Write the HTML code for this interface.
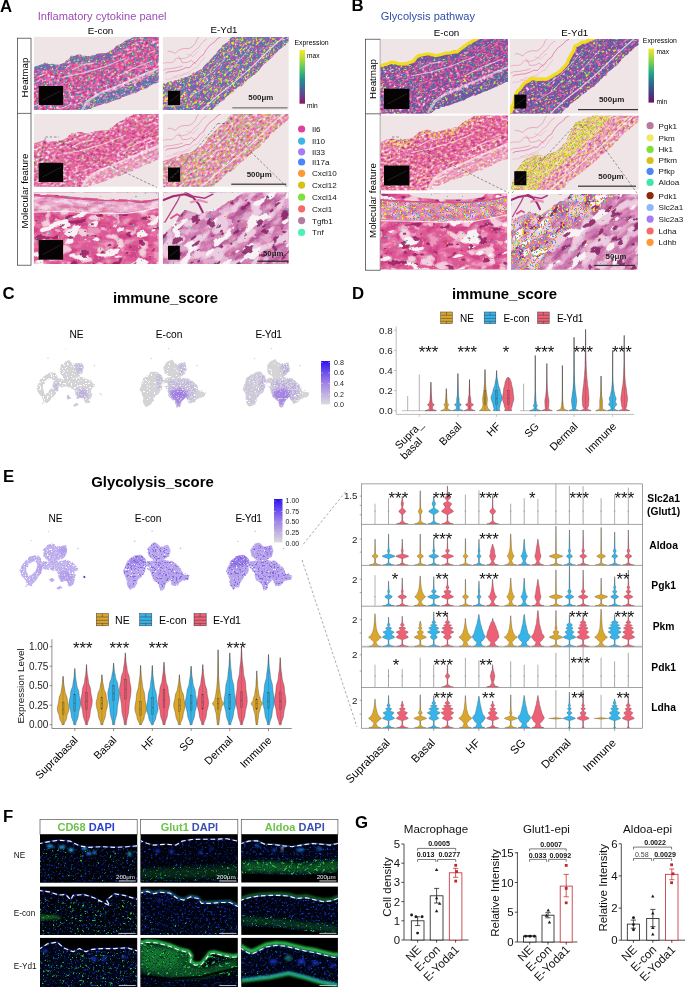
<!DOCTYPE html>
<html lang="en"><head><meta charset="utf-8"><title>Figure</title>
<style>html,body{margin:0;padding:0;background:#fff;overflow:hidden}svg{display:block}text{font-family:"Liberation Sans","DejaVu Sans",sans-serif}</style>
</head><body>
<svg width="685" height="987" viewBox="0 0 685 987">
<defs><filter id="pk1" x="0" y="0" width="100%" height="100%" color-interpolation-filters="sRGB"><feTurbulence type="fractalNoise" baseFrequency="0.3 0.5" numOctaves="3" seed="17"/><feColorMatrix type="matrix" values="1.389 0 0 0 -0.194 1.389 0 0 0 -0.194 1.389 0 0 0 -0.194 0 0 0 0 1"/><feComponentTransfer><feFuncR type="discrete" tableValues="0.66 0.66 0.66 0.66 0.66 0.66 0.66 0.66 0.66 0.8 0.8 0.8 0.8 0.8 0.8 0.87 0.87 0.87 0.87 0.87 0.87 0.9 0.9 0.9 0.9 0.9 0.9 0.93 0.93 0.93 0.93 0.95 0.95 0.95 0.96 0.96 0.96 0.98 0.98 0.98 0.98 0.98 0.98 0.98 0.98 0.98 0.98 0.98"/><feFuncG type="discrete" tableValues="0.16 0.16 0.16 0.16 0.16 0.16 0.16 0.16 0.16 0.24 0.24 0.24 0.24 0.24 0.24 0.33 0.33 0.33 0.33 0.33 0.33 0.4 0.4 0.4 0.4 0.4 0.4 0.5 0.5 0.5 0.5 0.64 0.64 0.64 0.8 0.8 0.8 0.93 0.93 0.93 0.93 0.93 0.93 0.93 0.93 0.93 0.93 0.93"/><feFuncB type="discrete" tableValues="0.44 0.44 0.44 0.44 0.44 0.44 0.44 0.44 0.44 0.52 0.52 0.52 0.52 0.52 0.52 0.6 0.6 0.6 0.6 0.6 0.6 0.64 0.64 0.64 0.64 0.64 0.64 0.71 0.71 0.71 0.71 0.78 0.78 0.78 0.88 0.88 0.88 0.96 0.96 0.96 0.96 0.96 0.96 0.96 0.96 0.96 0.96 0.96"/></feComponentTransfer><feGaussianBlur stdDeviation="0.3"/><feComposite in2="SourceGraphic" operator="in"/></filter><filter id="pk2" x="0" y="0" width="100%" height="100%" color-interpolation-filters="sRGB"><feTurbulence type="fractalNoise" baseFrequency="0.3 0.5" numOctaves="3" seed="19"/><feColorMatrix type="matrix" values="1.389 0 0 0 -0.194 1.389 0 0 0 -0.194 1.389 0 0 0 -0.194 0 0 0 0 1"/><feComponentTransfer><feFuncR type="discrete" tableValues="0.66 0.66 0.66 0.66 0.66 0.66 0.66 0.66 0.66 0.77 0.77 0.77 0.77 0.77 0.85 0.85 0.85 0.85 0.85 0.85 0.89 0.89 0.89 0.89 0.89 0.89 0.91 0.91 0.91 0.91 0.94 0.94 0.94 0.96 0.96 0.96 0.98 0.98 0.98 0.98 0.98 0.98 0.98 0.98 0.98 0.98 0.98 0.98"/><feFuncG type="discrete" tableValues="0.19 0.19 0.19 0.19 0.19 0.19 0.19 0.19 0.19 0.27 0.27 0.27 0.27 0.27 0.36 0.36 0.36 0.36 0.36 0.36 0.45 0.45 0.45 0.45 0.45 0.45 0.55 0.55 0.55 0.55 0.67 0.67 0.67 0.82 0.82 0.82 0.93 0.93 0.93 0.93 0.93 0.93 0.93 0.93 0.93 0.93 0.93 0.93"/><feFuncB type="discrete" tableValues="0.47 0.47 0.47 0.47 0.47 0.47 0.47 0.47 0.47 0.53 0.53 0.53 0.53 0.53 0.61 0.61 0.61 0.61 0.61 0.61 0.67 0.67 0.67 0.67 0.67 0.67 0.72 0.72 0.72 0.72 0.82 0.82 0.82 0.89 0.89 0.89 0.96 0.96 0.96 0.96 0.96 0.96 0.96 0.96 0.96 0.96 0.96 0.96"/></feComponentTransfer><feGaussianBlur stdDeviation="0.3"/><feComposite in2="SourceGraphic" operator="in"/></filter><filter id="pk3" x="0" y="0" width="100%" height="100%" color-interpolation-filters="sRGB"><feTurbulence type="fractalNoise" baseFrequency="0.3 0.5" numOctaves="3" seed="37"/><feColorMatrix type="matrix" values="1.389 0 0 0 -0.194 1.389 0 0 0 -0.194 1.389 0 0 0 -0.194 0 0 0 0 1"/><feComponentTransfer><feFuncR type="discrete" tableValues="0.69 0.69 0.69 0.69 0.69 0.69 0.69 0.69 0.69 0.8 0.8 0.8 0.8 0.8 0.87 0.87 0.87 0.87 0.87 0.87 0.9 0.9 0.9 0.9 0.9 0.9 0.93 0.93 0.93 0.93 0.95 0.95 0.95 0.96 0.96 0.96 0.98 0.98 0.98 0.98 0.98 0.98 0.98 0.98 0.98 0.98 0.98 0.98"/><feFuncG type="discrete" tableValues="0.19 0.19 0.19 0.19 0.19 0.19 0.19 0.19 0.19 0.27 0.27 0.27 0.27 0.27 0.36 0.36 0.36 0.36 0.36 0.36 0.44 0.44 0.44 0.44 0.44 0.44 0.53 0.53 0.53 0.53 0.66 0.66 0.66 0.8 0.8 0.8 0.93 0.93 0.93 0.93 0.93 0.93 0.93 0.93 0.93 0.93 0.93 0.93"/><feFuncB type="discrete" tableValues="0.47 0.47 0.47 0.47 0.47 0.47 0.47 0.47 0.47 0.53 0.53 0.53 0.53 0.53 0.61 0.61 0.61 0.61 0.61 0.61 0.66 0.66 0.66 0.66 0.66 0.66 0.72 0.72 0.72 0.72 0.8 0.8 0.8 0.88 0.88 0.88 0.96 0.96 0.96 0.96 0.96 0.96 0.96 0.96 0.96 0.96 0.96 0.96"/></feComponentTransfer><feGaussianBlur stdDeviation="0.3"/><feComposite in2="SourceGraphic" operator="in"/></filter><filter id="pk4" x="0" y="0" width="100%" height="100%" color-interpolation-filters="sRGB"><feTurbulence type="fractalNoise" baseFrequency="0.3 0.5" numOctaves="3" seed="39"/><feColorMatrix type="matrix" values="1.389 0 0 0 -0.194 1.389 0 0 0 -0.194 1.389 0 0 0 -0.194 0 0 0 0 1"/><feComponentTransfer><feFuncR type="discrete" tableValues="0.69 0.69 0.69 0.69 0.69 0.69 0.69 0.69 0.8 0.8 0.8 0.8 0.8 0.86 0.86 0.86 0.86 0.86 0.86 0.9 0.9 0.9 0.9 0.9 0.9 0.93 0.93 0.93 0.93 0.95 0.95 0.95 0.95 0.96 0.96 0.96 0.98 0.98 0.98 0.98 0.98 0.98 0.98 0.98 0.98 0.98 0.98 0.98"/><feFuncG type="discrete" tableValues="0.25 0.25 0.25 0.25 0.25 0.25 0.25 0.25 0.36 0.36 0.36 0.36 0.36 0.45 0.45 0.45 0.45 0.45 0.45 0.55 0.55 0.55 0.55 0.55 0.55 0.64 0.64 0.64 0.64 0.74 0.74 0.74 0.74 0.83 0.83 0.83 0.93 0.93 0.93 0.93 0.93 0.93 0.93 0.93 0.93 0.93 0.93 0.93"/><feFuncB type="discrete" tableValues="0.5 0.5 0.5 0.5 0.5 0.5 0.5 0.5 0.6 0.6 0.6 0.6 0.6 0.66 0.66 0.66 0.66 0.66 0.66 0.72 0.72 0.72 0.72 0.72 0.72 0.78 0.78 0.78 0.78 0.84 0.84 0.84 0.84 0.89 0.89 0.89 0.96 0.96 0.96 0.96 0.96 0.96 0.96 0.96 0.96 0.96 0.96 0.96"/></feComponentTransfer><feGaussianBlur stdDeviation="0.3"/><feComposite in2="SourceGraphic" operator="in"/></filter><filter id="hm1" x="0" y="0" width="100%" height="100%" color-interpolation-filters="sRGB"><feTurbulence type="fractalNoise" baseFrequency="0.065 0.11" numOctaves="3" seed="23"/><feColorMatrix type="matrix" values="1.389 0 0 0 -0.194 1.389 0 0 0 -0.194 1.389 0 0 0 -0.194 0 0 0 0 1"/><feComponentTransfer><feFuncR type="discrete" tableValues="0.54 0.54 0.54 0.54 0.54 0.54 0.54 0.54 0.72 0.72 0.72 0.72 0.72 0.83 0.83 0.83 0.83 0.83 0.88 0.88 0.88 0.88 0.88 0.88 0.91 0.91 0.91 0.91 0.91 0.93 0.93 0.93 0.95 0.95 0.95 0.95 0.97 0.97 0.97 0.97 0.97 0.97 0.97 0.97 0.97 0.97 0.97 0.97"/><feFuncG type="discrete" tableValues="0.09 0.09 0.09 0.09 0.09 0.09 0.09 0.09 0.19 0.19 0.19 0.19 0.19 0.27 0.27 0.27 0.27 0.27 0.35 0.35 0.35 0.35 0.35 0.35 0.47 0.47 0.47 0.47 0.47 0.63 0.63 0.63 0.75 0.75 0.75 0.75 0.91 0.91 0.91 0.91 0.91 0.91 0.91 0.91 0.91 0.91 0.91 0.91"/><feFuncB type="discrete" tableValues="0.35 0.35 0.35 0.35 0.35 0.35 0.35 0.35 0.47 0.47 0.47 0.47 0.47 0.54 0.54 0.54 0.54 0.54 0.6 0.6 0.6 0.6 0.6 0.6 0.67 0.67 0.67 0.67 0.67 0.77 0.77 0.77 0.85 0.85 0.85 0.85 0.94 0.94 0.94 0.94 0.94 0.94 0.94 0.94 0.94 0.94 0.94 0.94"/></feComponentTransfer><feGaussianBlur stdDeviation="0.15"/><feComposite in2="SourceGraphic" operator="in"/></filter><filter id="nuc" x="0" y="0" width="100%" height="100%" color-interpolation-filters="sRGB"><feTurbulence type="fractalNoise" baseFrequency="0.3 0.4" numOctaves="2" seed="25"/><feColorMatrix type="matrix" values="1.389 0 0 0 -0.194 1.389 0 0 0 -0.194 1.389 0 0 0 -0.194 1.389 0 0 0 -0.194"/><feComponentTransfer><feFuncR type="discrete" tableValues="0.54 0.54 0.54 0.54 0.54 0.54 0.54 0.54 0.54 0.69 0.69 0.69 0.69 0 0 0 0 0 0 0 0 0 0 0 0 0 0 0 0 0 0 0 0.94 0.94 0.94 0.94 0.97 0.97 0.97 0.97 0.97 0.97 0.97 0.97 0.97 0.97 0.97 0.97"/><feFuncG type="discrete" tableValues="0.09 0.09 0.09 0.09 0.09 0.09 0.09 0.09 0.09 0.17 0.17 0.17 0.17 0 0 0 0 0 0 0 0 0 0 0 0 0 0 0 0 0 0 0 0.72 0.72 0.72 0.72 0.91 0.91 0.91 0.91 0.91 0.91 0.91 0.91 0.91 0.91 0.91 0.91"/><feFuncB type="discrete" tableValues="0.35 0.35 0.35 0.35 0.35 0.35 0.35 0.35 0.35 0.45 0.45 0.45 0.45 0 0 0 0 0 0 0 0 0 0 0 0 0 0 0 0 0 0 0 0.82 0.82 0.82 0.82 0.94 0.94 0.94 0.94 0.94 0.94 0.94 0.94 0.94 0.94 0.94 0.94"/><feFuncA type="discrete" tableValues="0.85 0.85 0.85 0.85 0.85 0.85 0.85 0.85 0.85 0.55 0.55 0.55 0.55 0 0 0 0 0 0 0 0 0 0 0 0 0 0 0 0 0 0 0 0.6 0.6 0.6 0.6 0.8 0.8 0.8 0.8 0.8 0.8 0.8 0.8 0.8 0.8 0.8 0.8"/></feComponentTransfer><feGaussianBlur stdDeviation="0.2"/><feComposite in2="SourceGraphic" operator="in"/></filter><filter id="hm2" x="0" y="0" width="100%" height="100%" color-interpolation-filters="sRGB"><feTurbulence type="fractalNoise" baseFrequency="0.06 0.15" numOctaves="3" seed="29"/><feColorMatrix type="matrix" values="1.389 0 0 0 -0.194 1.389 0 0 0 -0.194 1.389 0 0 0 -0.194 0 0 0 0 1"/><feComponentTransfer><feFuncR type="discrete" tableValues="0.53 0.53 0.53 0.53 0.53 0.53 0.53 0.53 0.65 0.65 0.65 0.65 0.65 0.75 0.75 0.75 0.75 0.75 0.75 0.82 0.82 0.82 0.82 0.82 0.87 0.87 0.87 0.87 0.91 0.91 0.91 0.91 0.91 0.94 0.94 0.94 0.94 0.97 0.97 0.97 0.97 0.97 0.97 0.97 0.97 0.97 0.97 0.97"/><feFuncG type="discrete" tableValues="0.14 0.14 0.14 0.14 0.14 0.14 0.14 0.14 0.24 0.24 0.24 0.24 0.24 0.38 0.38 0.38 0.38 0.38 0.38 0.5 0.5 0.5 0.5 0.5 0.61 0.61 0.61 0.61 0.71 0.71 0.71 0.71 0.71 0.82 0.82 0.82 0.82 0.93 0.93 0.93 0.93 0.93 0.93 0.93 0.93 0.93 0.93 0.93"/><feFuncB type="discrete" tableValues="0.38 0.38 0.38 0.38 0.38 0.38 0.38 0.38 0.49 0.49 0.49 0.49 0.49 0.61 0.61 0.61 0.61 0.61 0.61 0.71 0.71 0.71 0.71 0.71 0.78 0.78 0.78 0.78 0.83 0.83 0.83 0.83 0.83 0.89 0.89 0.89 0.89 0.95 0.95 0.95 0.95 0.95 0.95 0.95 0.95 0.95 0.95 0.95"/></feComponentTransfer><feGaussianBlur stdDeviation="0.15"/><feComposite in2="SourceGraphic" operator="in"/></filter><filter id="zb1" x="0" y="0" width="100%" height="100%" color-interpolation-filters="sRGB"><feTurbulence type="fractalNoise" baseFrequency="0.08 0.14" numOctaves="3" seed="81"/><feColorMatrix type="matrix" values="1.389 0 0 0 -0.194 1.389 0 0 0 -0.194 1.389 0 0 0 -0.194 0 0 0 0 1"/><feComponentTransfer><feFuncR type="discrete" tableValues="0.82 0.82 0.82 0.82 0.82 0.82 0.82 0.82 0.82 0.82 0.82 0.82 0.82 0.82 0.82 0.82 0.87 0.87 0.87 0.87 0.87 0.87 0.87 0.87 0.87 0.87 0.87 0.9 0.9 0.9 0.9 0.9 0.9 0.9 0.93 0.93 0.93 0.93 0.93 0.93 0.93 0.93 0.93 0.93 0.93 0.93 0.93 0.93"/><feFuncG type="discrete" tableValues="0.27 0.27 0.27 0.27 0.27 0.27 0.27 0.27 0.27 0.27 0.27 0.27 0.27 0.27 0.27 0.27 0.35 0.35 0.35 0.35 0.35 0.35 0.35 0.35 0.35 0.35 0.35 0.44 0.44 0.44 0.44 0.44 0.44 0.44 0.59 0.59 0.59 0.59 0.59 0.59 0.59 0.59 0.59 0.59 0.59 0.59 0.59 0.59"/><feFuncB type="discrete" tableValues="0.53 0.53 0.53 0.53 0.53 0.53 0.53 0.53 0.53 0.53 0.53 0.53 0.53 0.53 0.53 0.53 0.59 0.59 0.59 0.59 0.59 0.59 0.59 0.59 0.59 0.59 0.59 0.64 0.64 0.64 0.64 0.64 0.64 0.64 0.74 0.74 0.74 0.74 0.74 0.74 0.74 0.74 0.74 0.74 0.74 0.74 0.74 0.74"/></feComponentTransfer><feGaussianBlur stdDeviation="0.2"/><feComposite in2="SourceGraphic" operator="in"/></filter><filter id="zb2" x="0" y="0" width="100%" height="100%" color-interpolation-filters="sRGB"><feTurbulence type="fractalNoise" baseFrequency="0.07 0.14" numOctaves="3" seed="83"/><feColorMatrix type="matrix" values="1.389 0 0 0 -0.194 1.389 0 0 0 -0.194 1.389 0 0 0 -0.194 0 0 0 0 1"/><feComponentTransfer><feFuncR type="discrete" tableValues="0.72 0.72 0.72 0.72 0.72 0.72 0.72 0.72 0.72 0.72 0.72 0.72 0.72 0.72 0.72 0.72 0.8 0.8 0.8 0.8 0.8 0.8 0.8 0.8 0.8 0.8 0.85 0.85 0.85 0.85 0.85 0.85 0.85 0.89 0.89 0.89 0.89 0.89 0.89 0.89 0.89 0.89 0.89 0.89 0.89 0.89 0.89 0.89"/><feFuncG type="discrete" tableValues="0.36 0.36 0.36 0.36 0.36 0.36 0.36 0.36 0.36 0.36 0.36 0.36 0.36 0.36 0.36 0.36 0.47 0.47 0.47 0.47 0.47 0.47 0.47 0.47 0.47 0.47 0.55 0.55 0.55 0.55 0.55 0.55 0.55 0.66 0.66 0.66 0.66 0.66 0.66 0.66 0.66 0.66 0.66 0.66 0.66 0.66 0.66 0.66"/><feFuncB type="discrete" tableValues="0.6 0.6 0.6 0.6 0.6 0.6 0.6 0.6 0.6 0.6 0.6 0.6 0.6 0.6 0.6 0.6 0.68 0.68 0.68 0.68 0.68 0.68 0.68 0.68 0.68 0.68 0.74 0.74 0.74 0.74 0.74 0.74 0.74 0.8 0.8 0.8 0.8 0.8 0.8 0.8 0.8 0.8 0.8 0.8 0.8 0.8 0.8 0.8"/></feComponentTransfer><feGaussianBlur stdDeviation="0.2"/><feComposite in2="SourceGraphic" operator="in"/></filter><filter id="zpale" x="0" y="0" width="100%" height="100%" color-interpolation-filters="sRGB"><feTurbulence type="fractalNoise" baseFrequency="0.07 0.1" numOctaves="2" seed="85"/><feColorMatrix type="matrix" values="1.389 0 0 0 -0.194 1.389 0 0 0 -0.194 1.389 0 0 0 -0.194 1.389 0 0 0 -0.194"/><feComponentTransfer><feFuncR type="discrete" tableValues="0 0 0 0 0 0 0 0 0 0 0 0 0 0 0 0 0 0 0 0 0 0 0 0 0 0 0 0 0 0 0 0.93 0.93 0.93 0.93 0.96 0.96 0.96 0.96 0.96 0.96 0.96 0.96 0.96 0.96 0.96 0.96 0.96"/><feFuncG type="discrete" tableValues="0 0 0 0 0 0 0 0 0 0 0 0 0 0 0 0 0 0 0 0 0 0 0 0 0 0 0 0 0 0 0 0.71 0.71 0.71 0.71 0.81 0.81 0.81 0.81 0.81 0.81 0.81 0.81 0.81 0.81 0.81 0.81 0.81"/><feFuncB type="discrete" tableValues="0 0 0 0 0 0 0 0 0 0 0 0 0 0 0 0 0 0 0 0 0 0 0 0 0 0 0 0 0 0 0 0.81 0.81 0.81 0.81 0.87 0.87 0.87 0.87 0.87 0.87 0.87 0.87 0.87 0.87 0.87 0.87 0.87"/><feFuncA type="discrete" tableValues="0 0 0 0 0 0 0 0 0 0 0 0 0 0 0 0 0 0 0 0 0 0 0 0 0 0 0 0 0 0 0 0.9 0.9 0.9 0.9 1 1 1 1 1 1 1 1 1 1 1 1 1"/></feComponentTransfer><feGaussianBlur stdDeviation="0.25"/><feComposite in2="SourceGraphic" operator="in"/></filter><filter id="zpale2" x="0" y="0" width="100%" height="100%" color-interpolation-filters="sRGB"><feTurbulence type="fractalNoise" baseFrequency="0.06 0.1" numOctaves="2" seed="86"/><feColorMatrix type="matrix" values="1.389 0 0 0 -0.194 1.389 0 0 0 -0.194 1.389 0 0 0 -0.194 1.389 0 0 0 -0.194"/><feComponentTransfer><feFuncR type="discrete" tableValues="0 0 0 0 0 0 0 0 0 0 0 0 0 0 0 0 0 0 0 0 0 0 0 0 0 0 0 0.91 0.91 0.91 0.91 0.91 0.93 0.93 0.93 0.93 0.93 0.93 0.93 0.93 0.93 0.93 0.93 0.93 0.93 0.93 0.93 0.93"/><feFuncG type="discrete" tableValues="0 0 0 0 0 0 0 0 0 0 0 0 0 0 0 0 0 0 0 0 0 0 0 0 0 0 0 0.74 0.74 0.74 0.74 0.74 0.8 0.8 0.8 0.8 0.8 0.8 0.8 0.8 0.8 0.8 0.8 0.8 0.8 0.8 0.8 0.8"/><feFuncB type="discrete" tableValues="0 0 0 0 0 0 0 0 0 0 0 0 0 0 0 0 0 0 0 0 0 0 0 0 0 0 0 0.85 0.85 0.85 0.85 0.85 0.89 0.89 0.89 0.89 0.89 0.89 0.89 0.89 0.89 0.89 0.89 0.89 0.89 0.89 0.89 0.89"/><feFuncA type="discrete" tableValues="0 0 0 0 0 0 0 0 0 0 0 0 0 0 0 0 0 0 0 0 0 0 0 0 0 0 0 0.9 0.9 0.9 0.9 0.9 1 1 1 1 1 1 1 1 1 1 1 1 1 1 1 1"/></feComponentTransfer><feGaussianBlur stdDeviation="0.25"/><feComposite in2="SourceGraphic" operator="in"/></filter><filter id="zgap" x="0" y="0" width="100%" height="100%" color-interpolation-filters="sRGB"><feTurbulence type="fractalNoise" baseFrequency="0.05 0.1" numOctaves="2" seed="87"/><feColorMatrix type="matrix" values="1.389 0 0 0 -0.194 1.389 0 0 0 -0.194 1.389 0 0 0 -0.194 1.389 0 0 0 -0.194"/><feComponentTransfer><feFuncR type="discrete" tableValues="0 0 0 0 0 0 0 0 0 0 0 0 0 0 0 0 0 0 0 0 0 0 0 0 0 0 0 0 0 0 0 0 0 0.98 0.98 0.98 0.98 0.98 0.98 0.98 0.98 0.98 0.98 0.98 0.98 0.98 0.98 0.98"/><feFuncG type="discrete" tableValues="0 0 0 0 0 0 0 0 0 0 0 0 0 0 0 0 0 0 0 0 0 0 0 0 0 0 0 0 0 0 0 0 0 0.95 0.95 0.95 0.95 0.95 0.95 0.95 0.95 0.95 0.95 0.95 0.95 0.95 0.95 0.95"/><feFuncB type="discrete" tableValues="0 0 0 0 0 0 0 0 0 0 0 0 0 0 0 0 0 0 0 0 0 0 0 0 0 0 0 0 0 0 0 0 0 0.96 0.96 0.96 0.96 0.96 0.96 0.96 0.96 0.96 0.96 0.96 0.96 0.96 0.96 0.96"/><feFuncA type="discrete" tableValues="0 0 0 0 0 0 0 0 0 0 0 0 0 0 0 0 0 0 0 0 0 0 0 0 0 0 0 0 0 0 0 0 0 1 1 1 1 1 1 1 1 1 1 1 1 1 1 1"/></feComponentTransfer><feGaussianBlur stdDeviation="0.2"/><feComposite in2="SourceGraphic" operator="in"/></filter><filter id="zdark" x="0" y="0" width="100%" height="100%" color-interpolation-filters="sRGB"><feTurbulence type="fractalNoise" baseFrequency="0.09 0.16" numOctaves="2" seed="89"/><feColorMatrix type="matrix" values="1.389 0 0 0 -0.194 1.389 0 0 0 -0.194 1.389 0 0 0 -0.194 1.389 0 0 0 -0.194"/><feComponentTransfer><feFuncR type="discrete" tableValues="0.6 0.6 0.6 0.6 0.6 0.6 0.6 0.6 0.6 0.6 0.6 0.6 0.6 0 0 0 0 0 0 0 0 0 0 0 0 0 0 0 0 0 0 0 0 0 0 0 0 0 0 0 0 0 0 0 0 0 0 0"/><feFuncG type="discrete" tableValues="0.13 0.13 0.13 0.13 0.13 0.13 0.13 0.13 0.13 0.13 0.13 0.13 0.13 0 0 0 0 0 0 0 0 0 0 0 0 0 0 0 0 0 0 0 0 0 0 0 0 0 0 0 0 0 0 0 0 0 0 0"/><feFuncB type="discrete" tableValues="0.39 0.39 0.39 0.39 0.39 0.39 0.39 0.39 0.39 0.39 0.39 0.39 0.39 0 0 0 0 0 0 0 0 0 0 0 0 0 0 0 0 0 0 0 0 0 0 0 0 0 0 0 0 0 0 0 0 0 0 0"/><feFuncA type="discrete" tableValues="0.9 0.9 0.9 0.9 0.9 0.9 0.9 0.9 0.9 0.9 0.9 0.9 0.9 0 0 0 0 0 0 0 0 0 0 0 0 0 0 0 0 0 0 0 0 0 0 0 0 0 0 0 0 0 0 0 0 0 0 0"/></feComponentTransfer><feGaussianBlur stdDeviation="0.2"/><feComposite in2="SourceGraphic" operator="in"/></filter><filter id="zdark2" x="0" y="0" width="100%" height="100%" color-interpolation-filters="sRGB"><feTurbulence type="fractalNoise" baseFrequency="0.08 0.16" numOctaves="2" seed="90"/><feColorMatrix type="matrix" values="1.389 0 0 0 -0.194 1.389 0 0 0 -0.194 1.389 0 0 0 -0.194 1.389 0 0 0 -0.194"/><feComponentTransfer><feFuncR type="discrete" tableValues="0.54 0.54 0.54 0.54 0.54 0.54 0.54 0.54 0.54 0.54 0.54 0.54 0.54 0 0 0 0 0 0 0 0 0 0 0 0 0 0 0 0 0 0 0 0 0 0 0 0 0 0 0 0 0 0 0 0 0 0 0"/><feFuncG type="discrete" tableValues="0.16 0.16 0.16 0.16 0.16 0.16 0.16 0.16 0.16 0.16 0.16 0.16 0.16 0 0 0 0 0 0 0 0 0 0 0 0 0 0 0 0 0 0 0 0 0 0 0 0 0 0 0 0 0 0 0 0 0 0 0"/><feFuncB type="discrete" tableValues="0.41 0.41 0.41 0.41 0.41 0.41 0.41 0.41 0.41 0.41 0.41 0.41 0.41 0 0 0 0 0 0 0 0 0 0 0 0 0 0 0 0 0 0 0 0 0 0 0 0 0 0 0 0 0 0 0 0 0 0 0"/><feFuncA type="discrete" tableValues="0.9 0.9 0.9 0.9 0.9 0.9 0.9 0.9 0.9 0.9 0.9 0.9 0.9 0 0 0 0 0 0 0 0 0 0 0 0 0 0 0 0 0 0 0 0 0 0 0 0 0 0 0 0 0 0 0 0 0 0 0"/></feComponentTransfer><feGaussianBlur stdDeviation="0.2"/><feComposite in2="SourceGraphic" operator="in"/></filter><filter id="epi" x="0" y="0" width="100%" height="100%" color-interpolation-filters="sRGB"><feTurbulence type="fractalNoise" baseFrequency="0.1 0.2" numOctaves="2" seed="31"/><feColorMatrix type="matrix" values="1.389 0 0 0 -0.194 1.389 0 0 0 -0.194 1.389 0 0 0 -0.194 0 0 0 0 1"/><feComponentTransfer><feFuncR type="discrete" tableValues="0.86 0.86 0.86 0.86 0.86 0.86 0.86 0.86 0.86 0.86 0.86 0.86 0.86 0.89 0.89 0.89 0.89 0.89 0.89 0.89 0.92 0.92 0.92 0.92 0.92 0.92 0.92 0.94 0.94 0.94 0.94 0.94 0.94 0.94 0.96 0.96 0.96 0.96 0.96 0.96 0.96 0.96 0.96 0.96 0.96 0.96 0.96 0.96"/><feFuncG type="discrete" tableValues="0.49 0.49 0.49 0.49 0.49 0.49 0.49 0.49 0.49 0.49 0.49 0.49 0.49 0.6 0.6 0.6 0.6 0.6 0.6 0.6 0.67 0.67 0.67 0.67 0.67 0.67 0.67 0.75 0.75 0.75 0.75 0.75 0.75 0.75 0.83 0.83 0.83 0.83 0.83 0.83 0.83 0.83 0.83 0.83 0.83 0.83 0.83 0.83"/><feFuncB type="discrete" tableValues="0.67 0.67 0.67 0.67 0.67 0.67 0.67 0.67 0.67 0.67 0.67 0.67 0.67 0.75 0.75 0.75 0.75 0.75 0.75 0.75 0.8 0.8 0.8 0.8 0.8 0.8 0.8 0.85 0.85 0.85 0.85 0.85 0.85 0.85 0.89 0.89 0.89 0.89 0.89 0.89 0.89 0.89 0.89 0.89 0.89 0.89 0.89 0.89"/></feComponentTransfer><feGaussianBlur stdDeviation="0.4"/><feComposite in2="SourceGraphic" operator="in"/></filter><filter id="epi2" x="0" y="0" width="100%" height="100%" color-interpolation-filters="sRGB"><feTurbulence type="fractalNoise" baseFrequency="0.1 0.2" numOctaves="2" seed="33"/><feColorMatrix type="matrix" values="1.389 0 0 0 -0.194 1.389 0 0 0 -0.194 1.389 0 0 0 -0.194 0 0 0 0 1"/><feComponentTransfer><feFuncR type="discrete" tableValues="0.85 0.85 0.85 0.85 0.85 0.85 0.85 0.85 0.85 0.85 0.85 0.85 0.85 0.85 0.88 0.88 0.88 0.88 0.88 0.88 0.88 0.9 0.9 0.9 0.9 0.9 0.9 0.9 0.93 0.93 0.93 0.93 0.93 0.93 0.95 0.95 0.95 0.95 0.95 0.95 0.95 0.95 0.95 0.95 0.95 0.95 0.95 0.95"/><feFuncG type="discrete" tableValues="0.39 0.39 0.39 0.39 0.39 0.39 0.39 0.39 0.39 0.39 0.39 0.39 0.39 0.39 0.49 0.49 0.49 0.49 0.49 0.49 0.49 0.56 0.56 0.56 0.56 0.56 0.56 0.56 0.66 0.66 0.66 0.66 0.66 0.66 0.77 0.77 0.77 0.77 0.77 0.77 0.77 0.77 0.77 0.77 0.77 0.77 0.77 0.77"/><feFuncB type="discrete" tableValues="0.61 0.61 0.61 0.61 0.61 0.61 0.61 0.61 0.61 0.61 0.61 0.61 0.61 0.61 0.67 0.67 0.67 0.67 0.67 0.67 0.67 0.72 0.72 0.72 0.72 0.72 0.72 0.72 0.78 0.78 0.78 0.78 0.78 0.78 0.85 0.85 0.85 0.85 0.85 0.85 0.85 0.85 0.85 0.85 0.85 0.85 0.85 0.85"/></feComponentTransfer><feGaussianBlur stdDeviation="0.4"/><feComposite in2="SourceGraphic" operator="in"/></filter><filter id="htA1" x="0" y="0" width="100%" height="100%" color-interpolation-filters="sRGB"><feTurbulence type="fractalNoise" baseFrequency="0.3 0.42" numOctaves="2" seed="3"/><feColorMatrix type="matrix" values="1.389 0 0 0 -0.194 1.389 0 0 0 -0.194 1.389 0 0 0 -0.194 1.389 0 0 0 -0.194"/><feComponentTransfer><feFuncR type="discrete" tableValues="0 0 0 0 0 0 0 0 0 0 0 0 0 0 0 0 0 0 0 0 0 0 0 0 0 0 0 0 0 0.63 0.49 0.49 0.35 0.35 0.35 0.35 0.23 0.23 0.28 0.28 0.94 0.94 0.94 0.94 0.94 0.94 0.94 0.94"/><feFuncG type="discrete" tableValues="0 0 0 0 0 0 0 0 0 0 0 0 0 0 0 0 0 0 0 0 0 0 0 0 0 0 0 0 0 0.35 0.36 0.36 0.45 0.45 0.45 0.45 0.61 0.61 0.75 0.75 0.89 0.89 0.89 0.89 0.89 0.89 0.89 0.89"/><feFuncB type="discrete" tableValues="0 0 0 0 0 0 0 0 0 0 0 0 0 0 0 0 0 0 0 0 0 0 0 0 0 0 0 0 0 0.66 0.69 0.69 0.71 0.71 0.71 0.71 0.67 0.67 0.58 0.58 0.17 0.17 0.17 0.17 0.17 0.17 0.17 0.17"/><feFuncA type="discrete" tableValues="0 0 0 0 0 0 0 0 0 0 0 0 0 0 0 0 0 0 0 0 0 0 0 0 0 0 0 0 0 0.85 1 1 1 1 1 1 1 1 1 1 1 1 1 1 1 1 1 1"/></feComponentTransfer><feGaussianBlur stdDeviation="0.3"/><feComposite in2="SourceGraphic" operator="in"/></filter><filter id="htA1e" x="0" y="0" width="100%" height="100%" color-interpolation-filters="sRGB"><feTurbulence type="fractalNoise" baseFrequency="0.3 0.42" numOctaves="2" seed="4"/><feColorMatrix type="matrix" values="1.389 0 0 0 -0.194 1.389 0 0 0 -0.194 1.389 0 0 0 -0.194 1.389 0 0 0 -0.194"/><feComponentTransfer><feFuncR type="discrete" tableValues="0 0 0 0 0 0 0 0 0 0 0 0 0 0 0 0 0 0 0 0.63 0.63 0.63 0.63 0.49 0.49 0.49 0.35 0.35 0.35 0.35 0.35 0.23 0.23 0.23 0.28 0.28 0.28 0.94 0.94 0.94 0.94 0.94 0.94 0.94 0.94 0.94 0.94 0.94"/><feFuncG type="discrete" tableValues="0 0 0 0 0 0 0 0 0 0 0 0 0 0 0 0 0 0 0 0.35 0.35 0.35 0.35 0.36 0.36 0.36 0.45 0.45 0.45 0.45 0.45 0.61 0.61 0.61 0.75 0.75 0.75 0.89 0.89 0.89 0.89 0.89 0.89 0.89 0.89 0.89 0.89 0.89"/><feFuncB type="discrete" tableValues="0 0 0 0 0 0 0 0 0 0 0 0 0 0 0 0 0 0 0 0.66 0.66 0.66 0.66 0.69 0.69 0.69 0.71 0.71 0.71 0.71 0.71 0.67 0.67 0.67 0.58 0.58 0.58 0.17 0.17 0.17 0.17 0.17 0.17 0.17 0.17 0.17 0.17 0.17"/><feFuncA type="discrete" tableValues="0 0 0 0 0 0 0 0 0 0 0 0 0 0 0 0 0 0 0 0.85 0.85 0.85 0.85 1 1 1 1 1 1 1 1 1 1 1 1 1 1 1 1 1 1 1 1 1 1 1 1 1"/></feComponentTransfer><feGaussianBlur stdDeviation="0.3"/><feComposite in2="SourceGraphic" operator="in"/></filter><filter id="htA2" x="0" y="0" width="100%" height="100%" color-interpolation-filters="sRGB"><feTurbulence type="fractalNoise" baseFrequency="0.3 0.42" numOctaves="2" seed="5"/><feColorMatrix type="matrix" values="1.389 0 0 0 -0.194 1.389 0 0 0 -0.194 1.389 0 0 0 -0.194 1.389 0 0 0 -0.194"/><feComponentTransfer><feFuncR type="discrete" tableValues="0 0 0 0 0 0 0 0 0 0 0 0 0 0 0 0 0 0.63 0.63 0.63 0.63 0.49 0.49 0.49 0.35 0.35 0.35 0.35 0.35 0.35 0.23 0.23 0.28 0.94 0.94 0.94 0.94 0.94 0.94 0.94 0.94 0.94 0.94 0.94 0.94 0.94 0.94 0.94"/><feFuncG type="discrete" tableValues="0 0 0 0 0 0 0 0 0 0 0 0 0 0 0 0 0 0.35 0.35 0.35 0.35 0.36 0.36 0.36 0.45 0.45 0.45 0.45 0.45 0.45 0.61 0.61 0.75 0.89 0.89 0.89 0.89 0.89 0.89 0.89 0.89 0.89 0.89 0.89 0.89 0.89 0.89 0.89"/><feFuncB type="discrete" tableValues="0 0 0 0 0 0 0 0 0 0 0 0 0 0 0 0 0 0.66 0.66 0.66 0.66 0.69 0.69 0.69 0.71 0.71 0.71 0.71 0.71 0.71 0.67 0.67 0.58 0.17 0.17 0.17 0.17 0.17 0.17 0.17 0.17 0.17 0.17 0.17 0.17 0.17 0.17 0.17"/><feFuncA type="discrete" tableValues="0 0 0 0 0 0 0 0 0 0 0 0 0 0 0 0 0 0.85 0.85 0.85 0.85 1 1 1 1 1 1 1 1 1 1 1 1 1 1 1 1 1 1 1 1 1 1 1 1 1 1 1"/></feComponentTransfer><feGaussianBlur stdDeviation="0.3"/><feComposite in2="SourceGraphic" operator="in"/></filter><filter id="htB1" x="0" y="0" width="100%" height="100%" color-interpolation-filters="sRGB"><feTurbulence type="fractalNoise" baseFrequency="0.3 0.42" numOctaves="2" seed="11"/><feColorMatrix type="matrix" values="1.389 0 0 0 -0.194 1.389 0 0 0 -0.194 1.389 0 0 0 -0.194 1.389 0 0 0 -0.194"/><feComponentTransfer><feFuncR type="discrete" tableValues="0 0 0 0 0 0 0 0 0 0 0 0 0 0 0 0 0 0 0 0 0 0 0.63 0.63 0.63 0.5 0.5 0.5 0.5 0.37 0.37 0.37 0.37 0.37 0.37 0.23 0.23 0.25 0.25 0.25 0.94 0.94 0.94 0.94 0.94 0.94 0.94 0.94"/><feFuncG type="discrete" tableValues="0 0 0 0 0 0 0 0 0 0 0 0 0 0 0 0 0 0 0 0 0 0 0.3 0.3 0.3 0.28 0.28 0.28 0.28 0.35 0.35 0.35 0.35 0.35 0.35 0.55 0.55 0.71 0.71 0.71 0.89 0.89 0.89 0.89 0.89 0.89 0.89 0.89"/><feFuncB type="discrete" tableValues="0 0 0 0 0 0 0 0 0 0 0 0 0 0 0 0 0 0 0 0 0 0 0.61 0.61 0.61 0.62 0.62 0.62 0.62 0.66 0.66 0.66 0.66 0.66 0.66 0.67 0.67 0.61 0.61 0.61 0.17 0.17 0.17 0.17 0.17 0.17 0.17 0.17"/><feFuncA type="discrete" tableValues="0 0 0 0 0 0 0 0 0 0 0 0 0 0 0 0 0 0 0 0 0 0 0.85 0.85 0.85 1 1 1 1 1 1 1 1 1 1 1 1 1 1 1 1 1 1 1 1 1 1 1"/></feComponentTransfer><feGaussianBlur stdDeviation="0.3"/><feComposite in2="SourceGraphic" operator="in"/></filter><filter id="htB1e" x="0" y="0" width="100%" height="100%" color-interpolation-filters="sRGB"><feTurbulence type="fractalNoise" baseFrequency="0.3 0.42" numOctaves="2" seed="12"/><feColorMatrix type="matrix" values="1.389 0 0 0 -0.194 1.389 0 0 0 -0.194 1.389 0 0 0 -0.194 1.389 0 0 0 -0.194"/><feComponentTransfer><feFuncR type="discrete" tableValues="0 0 0 0 0 0 0 0 0 0 0 0 0 0 0 0 0 0.63 0.63 0.63 0.63 0.5 0.5 0.5 0.5 0.37 0.37 0.37 0.37 0.37 0.37 0.23 0.23 0.23 0.25 0.25 0.25 0.94 0.94 0.94 0.94 0.94 0.94 0.94 0.94 0.94 0.94 0.94"/><feFuncG type="discrete" tableValues="0 0 0 0 0 0 0 0 0 0 0 0 0 0 0 0 0 0.3 0.3 0.3 0.3 0.28 0.28 0.28 0.28 0.35 0.35 0.35 0.35 0.35 0.35 0.55 0.55 0.55 0.71 0.71 0.71 0.89 0.89 0.89 0.89 0.89 0.89 0.89 0.89 0.89 0.89 0.89"/><feFuncB type="discrete" tableValues="0 0 0 0 0 0 0 0 0 0 0 0 0 0 0 0 0 0.61 0.61 0.61 0.61 0.62 0.62 0.62 0.62 0.66 0.66 0.66 0.66 0.66 0.66 0.67 0.67 0.67 0.61 0.61 0.61 0.17 0.17 0.17 0.17 0.17 0.17 0.17 0.17 0.17 0.17 0.17"/><feFuncA type="discrete" tableValues="0 0 0 0 0 0 0 0 0 0 0 0 0 0 0 0 0 0.85 0.85 0.85 0.85 1 1 1 1 1 1 1 1 1 1 1 1 1 1 1 1 1 1 1 1 1 1 1 1 1 1 1"/></feComponentTransfer><feGaussianBlur stdDeviation="0.3"/><feComposite in2="SourceGraphic" operator="in"/></filter><filter id="htB2" x="0" y="0" width="100%" height="100%" color-interpolation-filters="sRGB"><feTurbulence type="fractalNoise" baseFrequency="0.3 0.42" numOctaves="2" seed="13"/><feColorMatrix type="matrix" values="1.389 0 0 0 -0.194 1.389 0 0 0 -0.194 1.389 0 0 0 -0.194 1.389 0 0 0 -0.194"/><feComponentTransfer><feFuncR type="discrete" tableValues="0 0 0 0 0 0 0 0 0 0 0 0 0 0 0 0 0.63 0.63 0.63 0.63 0.63 0.63 0.5 0.5 0.5 0.5 0.37 0.37 0.37 0.37 0.37 0.37 0.23 0.23 0.23 0.25 0.25 0.94 0.94 0.94 0.94 0.94 0.94 0.94 0.94 0.94 0.94 0.94"/><feFuncG type="discrete" tableValues="0 0 0 0 0 0 0 0 0 0 0 0 0 0 0 0 0.3 0.3 0.3 0.3 0.3 0.3 0.28 0.28 0.28 0.28 0.35 0.35 0.35 0.35 0.35 0.35 0.55 0.55 0.55 0.71 0.71 0.89 0.89 0.89 0.89 0.89 0.89 0.89 0.89 0.89 0.89 0.89"/><feFuncB type="discrete" tableValues="0 0 0 0 0 0 0 0 0 0 0 0 0 0 0 0 0.61 0.61 0.61 0.61 0.61 0.61 0.62 0.62 0.62 0.62 0.66 0.66 0.66 0.66 0.66 0.66 0.67 0.67 0.67 0.61 0.61 0.17 0.17 0.17 0.17 0.17 0.17 0.17 0.17 0.17 0.17 0.17"/><feFuncA type="discrete" tableValues="0 0 0 0 0 0 0 0 0 0 0 0 0 0 0 0 0.85 0.85 0.85 0.85 0.85 0.85 1 1 1 1 1 1 1 1 1 1 1 1 1 1 1 1 1 1 1 1 1 1 1 1 1 1"/></feComponentTransfer><feGaussianBlur stdDeviation="0.3"/><feComposite in2="SourceGraphic" operator="in"/></filter><filter id="spA" x="0" y="0" width="100%" height="100%" color-interpolation-filters="sRGB"><feTurbulence type="fractalNoise" baseFrequency="0.5" numOctaves="1" seed="41"/><feColorMatrix type="matrix" values="1.389 0 0 0 -0.194 1.389 0 0 0 -0.194 1.389 0 0 0 -0.194 1.389 0 0 0 -0.194"/><feComponentTransfer><feFuncR type="discrete" tableValues="0 0 0 0 0 0 0 0 0 0 0 0 0 0 0 0 0 0 0 0 0 0 0 0 0 0 0 0 0 0 0 0 0 0 0 0 0 0 1 0.38 0.38 0.38 0.38 0.38 0.38 0.38 0.38 0.38"/><feFuncG type="discrete" tableValues="0 0 0 0 0 0 0 0 0 0 0 0 0 0 0 0 0 0 0 0 0 0 0 0 0 0 0 0 0 0 0 0 0 0 0 0 0 0 0.63 0.88 0.88 0.88 0.88 0.88 0.88 0.88 0.88 0.88"/><feFuncB type="discrete" tableValues="0 0 0 0 0 0 0 0 0 0 0 0 0 0 0 0 0 0 0 0 0 0 0 0 0 0 0 0 0 0 0 0 0 0 0 0 0 0 0.19 0.25 0.25 0.25 0.25 0.25 0.25 0.25 0.25 0.25"/><feFuncA type="discrete" tableValues="0 0 0 0 0 0 0 0 0 0 0 0 0 0 0 0 0 0 0 0 0 0 0 0 0 0 0 0 0 0 0 0 0 0 0 0 0 0 1 1 1 1 1 1 1 1 1 1"/></feComponentTransfer><feGaussianBlur stdDeviation="0.25"/><feComposite in2="SourceGraphic" operator="in"/></filter><filter id="spA4" x="0" y="0" width="100%" height="100%" color-interpolation-filters="sRGB"><feTurbulence type="fractalNoise" baseFrequency="0.5" numOctaves="1" seed="43"/><feColorMatrix type="matrix" values="1.389 0 0 0 -0.194 1.389 0 0 0 -0.194 1.389 0 0 0 -0.194 1.389 0 0 0 -0.194"/><feComponentTransfer><feFuncR type="discrete" tableValues="0 0 0 0 0 0 0 0 0 0 0 0 0 0 0 0 0 0 0 0 0 0 0 0 0 0 0 0 0 0.63 1 1 1 0.85 0.85 0.38 0.38 0.5 0.5 0.5 0.5 0.5 0.5 0.5 0.5 0.5 0.5 0.5"/><feFuncG type="discrete" tableValues="0 0 0 0 0 0 0 0 0 0 0 0 0 0 0 0 0 0 0 0 0 0 0 0 0 0 0 0 0 0.5 0.44 0.63 0.63 0.8 0.8 0.88 0.88 0.88 0.88 0.88 0.88 0.88 0.88 0.88 0.88 0.88 0.88 0.88"/><feFuncB type="discrete" tableValues="0 0 0 0 0 0 0 0 0 0 0 0 0 0 0 0 0 0 0 0 0 0 0 0 0 0 0 0 0 0.94 0.44 0.19 0.19 0.13 0.13 0.25 0.25 0.23 0.23 0.23 0.23 0.23 0.23 0.23 0.23 0.23 0.23 0.23"/><feFuncA type="discrete" tableValues="0 0 0 0 0 0 0 0 0 0 0 0 0 0 0 0 0 0 0 0 0 0 0 0 0 0 0 0 0 1 1 1 1 1 1 1 1 1 1 1 1 1 1 1 1 1 1 1"/></feComponentTransfer><feGaussianBlur stdDeviation="0.25"/><feComposite in2="SourceGraphic" operator="in"/></filter><filter id="spB" x="0" y="0" width="100%" height="100%" color-interpolation-filters="sRGB"><feTurbulence type="fractalNoise" baseFrequency="0.5" numOctaves="1" seed="47"/><feColorMatrix type="matrix" values="1.389 0 0 0 -0.194 1.389 0 0 0 -0.194 1.389 0 0 0 -0.194 1.389 0 0 0 -0.194"/><feComponentTransfer><feFuncR type="discrete" tableValues="0 0 0 0 0 0 0 0 0 0 0 0 0 0 0 0 0 0 0 0 0 0 0 0 0 0 0 0 0 0 0 0 0 0 0 0 1 0.83 0.94 0.94 0.94 0.94 0.94 0.94 0.94 0.94 0.94 0.94"/><feFuncG type="discrete" tableValues="0 0 0 0 0 0 0 0 0 0 0 0 0 0 0 0 0 0 0 0 0 0 0 0 0 0 0 0 0 0 0 0 0 0 0 0 0.6 0.76 0.91 0.91 0.91 0.91 0.91 0.91 0.91 0.91 0.91 0.91"/><feFuncB type="discrete" tableValues="0 0 0 0 0 0 0 0 0 0 0 0 0 0 0 0 0 0 0 0 0 0 0 0 0 0 0 0 0 0 0 0 0 0 0 0 0.2 0.1 0.41 0.41 0.41 0.41 0.41 0.41 0.41 0.41 0.41 0.41"/><feFuncA type="discrete" tableValues="0 0 0 0 0 0 0 0 0 0 0 0 0 0 0 0 0 0 0 0 0 0 0 0 0 0 0 0 0 0 0 0 0 0 0 0 1 1 1 1 1 1 1 1 1 1 1 1"/></feComponentTransfer><feGaussianBlur stdDeviation="0.25"/><feComposite in2="SourceGraphic" operator="in"/></filter><filter id="spBe" x="0" y="0" width="100%" height="100%" color-interpolation-filters="sRGB"><feTurbulence type="fractalNoise" baseFrequency="0.5" numOctaves="1" seed="48"/><feColorMatrix type="matrix" values="1.389 0 0 0 -0.194 1.389 0 0 0 -0.194 1.389 0 0 0 -0.194 1.389 0 0 0 -0.194"/><feComponentTransfer><feFuncR type="discrete" tableValues="0 0 0 0 0 0 0 0 0 0 0 0 0 0 0 0 0 0 0 0 0 0 0 0 0 0 0 0.83 0.83 0.83 0.94 0.94 0.94 0.94 0.94 0.94 0.94 0.94 0.94 0.94 0.94 0.94 0.94 0.94 0.94 0.94 0.94 0.94"/><feFuncG type="discrete" tableValues="0 0 0 0 0 0 0 0 0 0 0 0 0 0 0 0 0 0 0 0 0 0 0 0 0 0 0 0.76 0.76 0.76 0.91 0.91 0.91 0.91 0.91 0.91 0.91 0.91 0.91 0.91 0.91 0.91 0.91 0.91 0.91 0.91 0.91 0.91"/><feFuncB type="discrete" tableValues="0 0 0 0 0 0 0 0 0 0 0 0 0 0 0 0 0 0 0 0 0 0 0 0 0 0 0 0.1 0.1 0.1 0.41 0.41 0.41 0.41 0.41 0.41 0.41 0.41 0.41 0.41 0.41 0.41 0.41 0.41 0.41 0.41 0.41 0.41"/><feFuncA type="discrete" tableValues="0 0 0 0 0 0 0 0 0 0 0 0 0 0 0 0 0 0 0 0 0 0 0 0 0 0 0 1 1 1 1 1 1 1 1 1 1 1 1 1 1 1 1 1 1 1 1 1"/></feComponentTransfer><feGaussianBlur stdDeviation="0.25"/><feComposite in2="SourceGraphic" operator="in"/></filter><filter id="spB4" x="0" y="0" width="100%" height="100%" color-interpolation-filters="sRGB"><feTurbulence type="fractalNoise" baseFrequency="0.5" numOctaves="1" seed="53"/><feColorMatrix type="matrix" values="1.389 0 0 0 -0.194 1.389 0 0 0 -0.194 1.389 0 0 0 -0.194 1.389 0 0 0 -0.194"/><feComponentTransfer><feFuncR type="discrete" tableValues="0 0 0 0 0 0 0 0 0 0 0 0 0 0 0 0 0 0 0 0 0 0 0 0 0.94 0.94 0.91 0.91 0.94 0.94 0.94 0.83 0.83 0.83 0.56 0.56 0.56 0.56 0.56 0.56 0.56 0.56 0.56 0.56 0.56 0.56 0.56 0.56"/><feFuncG type="discrete" tableValues="0 0 0 0 0 0 0 0 0 0 0 0 0 0 0 0 0 0 0 0 0 0 0 0 0.91 0.91 0.86 0.86 0.91 0.91 0.91 0.76 0.76 0.76 0.82 0.82 0.82 0.82 0.82 0.82 0.82 0.82 0.82 0.82 0.82 0.82 0.82 0.82"/><feFuncB type="discrete" tableValues="0 0 0 0 0 0 0 0 0 0 0 0 0 0 0 0 0 0 0 0 0 0 0 0 0.41 0.41 0.25 0.25 0.41 0.41 0.41 0.1 0.1 0.1 0.25 0.25 0.25 0.25 0.25 0.25 0.25 0.25 0.25 0.25 0.25 0.25 0.25 0.25"/><feFuncA type="discrete" tableValues="0 0 0 0 0 0 0 0 0 0 0 0 0 0 0 0 0 0 0 0 0 0 0 0 1 1 1 1 1 1 1 1 1 1 1 1 1 1 1 1 1 1 1 1 1 1 1 1"/></feComponentTransfer><feGaussianBlur stdDeviation="0.25"/><feComposite in2="SourceGraphic" operator="in"/></filter><filter id="spB4b" x="0" y="0" width="100%" height="100%" color-interpolation-filters="sRGB"><feTurbulence type="fractalNoise" baseFrequency="0.5" numOctaves="1" seed="59"/><feColorMatrix type="matrix" values="1.389 0 0 0 -0.194 1.389 0 0 0 -0.194 1.389 0 0 0 -0.194 1.389 0 0 0 -0.194"/><feComponentTransfer><feFuncR type="discrete" tableValues="0 0 0 0 0 0 0 0 0 0 0 0 0 0 0 0 0 0 0 0 0 0 0 0 0 0 0 0 0 0 0 1 0.83 0.83 0.94 0.94 0.94 0.94 0.94 0.94 0.94 0.94 0.94 0.94 0.94 0.94 0.94 0.94"/><feFuncG type="discrete" tableValues="0 0 0 0 0 0 0 0 0 0 0 0 0 0 0 0 0 0 0 0 0 0 0 0 0 0 0 0 0 0 0 0.69 0.76 0.76 0.91 0.91 0.91 0.91 0.91 0.91 0.91 0.91 0.91 0.91 0.91 0.91 0.91 0.91"/><feFuncB type="discrete" tableValues="0 0 0 0 0 0 0 0 0 0 0 0 0 0 0 0 0 0 0 0 0 0 0 0 0 0 0 0 0 0 0 0.25 0.1 0.1 0.41 0.41 0.41 0.41 0.41 0.41 0.41 0.41 0.41 0.41 0.41 0.41 0.41 0.41"/><feFuncA type="discrete" tableValues="0 0 0 0 0 0 0 0 0 0 0 0 0 0 0 0 0 0 0 0 0 0 0 0 0 0 0 0 0 0 0 1 1 1 1 1 1 1 1 1 1 1 1 1 1 1 1 1"/></feComponentTransfer><feGaussianBlur stdDeviation="0.25"/><feComposite in2="SourceGraphic" operator="in"/></filter><filter id="spZ" x="0" y="0" width="100%" height="100%" color-interpolation-filters="sRGB"><feTurbulence type="fractalNoise" baseFrequency="0.45" numOctaves="1" seed="61"/><feColorMatrix type="matrix" values="1.389 0 0 0 -0.194 1.389 0 0 0 -0.194 1.389 0 0 0 -0.194 1.389 0 0 0 -0.194"/><feComponentTransfer><feFuncR type="discrete" tableValues="0 0 0 0 0 0 0 0 0 0 0 0 0 0 0 0 0 0 0 0 0 0 0 0 0 0 0 0.65 0.29 0.24 0.97 1 1 0.83 0.83 0.91 0.91 0.94 0.94 0.94 0.94 0.94 0.94 0.94 0.94 0.94 0.94 0.94"/><feFuncG type="discrete" tableValues="0 0 0 0 0 0 0 0 0 0 0 0 0 0 0 0 0 0 0 0 0 0 0 0 0 0 0 0.48 0.53 0.91 0.42 0.6 0.6 0.76 0.76 0.85 0.85 0.91 0.91 0.91 0.91 0.91 0.91 0.91 0.91 0.91 0.91 0.91"/><feFuncB type="discrete" tableValues="0 0 0 0 0 0 0 0 0 0 0 0 0 0 0 0 0 0 0 0 0 0 0 0 0 0 0 0.96 0.97 0.66 0.42 0.2 0.2 0.1 0.1 0.28 0.28 0.41 0.41 0.41 0.41 0.41 0.41 0.41 0.41 0.41 0.41 0.41"/><feFuncA type="discrete" tableValues="0 0 0 0 0 0 0 0 0 0 0 0 0 0 0 0 0 0 0 0 0 0 0 0 0 0 0 1 1 1 1 1 1 1 1 1 1 1 1 1 1 1 1 1 1 1 1 1"/></feComponentTransfer><feGaussianBlur stdDeviation="0.2"/><feComposite in2="SourceGraphic" operator="in"/></filter><filter id="spZa" x="0" y="0" width="100%" height="100%" color-interpolation-filters="sRGB"><feTurbulence type="fractalNoise" baseFrequency="0.45" numOctaves="1" seed="67"/><feColorMatrix type="matrix" values="1.389 0 0 0 -0.194 1.389 0 0 0 -0.194 1.389 0 0 0 -0.194 1.389 0 0 0 -0.194"/><feComponentTransfer><feFuncR type="discrete" tableValues="0 0 0 0 0 0 0 0 0 0 0 0 0 0 0 0 0 0 0 0 0 0 0 0 0 0 0 0 0 0 0 0 0 0 0 0 0 0 0 0.25 0.25 1 1 1 1 1 1 1"/><feFuncG type="discrete" tableValues="0 0 0 0 0 0 0 0 0 0 0 0 0 0 0 0 0 0 0 0 0 0 0 0 0 0 0 0 0 0 0 0 0 0 0 0 0 0 0 0.82 0.82 0.63 0.63 0.63 0.63 0.63 0.63 0.63"/><feFuncB type="discrete" tableValues="0 0 0 0 0 0 0 0 0 0 0 0 0 0 0 0 0 0 0 0 0 0 0 0 0 0 0 0 0 0 0 0 0 0 0 0 0 0 0 0.75 0.75 0.19 0.19 0.19 0.19 0.19 0.19 0.19"/><feFuncA type="discrete" tableValues="0 0 0 0 0 0 0 0 0 0 0 0 0 0 0 0 0 0 0 0 0 0 0 0 0 0 0 0 0 0 0 0 0 0 0 0 0 0 0 1 1 1 1 1 1 1 1 1"/></feComponentTransfer><feGaussianBlur stdDeviation="0.2"/><feComposite in2="SourceGraphic" operator="in"/></filter><filter id="blr" x="-20%" y="-20%" width="140%" height="140%"><feGaussianBlur stdDeviation="3"/></filter><linearGradient id="vir" x1="0" y1="0" x2="0" y2="1"><stop offset="0" stop-color="#fde725"/><stop offset="0.2" stop-color="#a0da39"/><stop offset="0.4" stop-color="#3fbc73"/><stop offset="0.55" stop-color="#21918c"/><stop offset="0.7" stop-color="#3b6a9a"/><stop offset="0.85" stop-color="#6b3f8e"/><stop offset="1" stop-color="#8c1560"/></linearGradient><linearGradient id="vir2" x1="0" y1="0" x2="0" y2="1"><stop offset="0" stop-color="#fde725"/><stop offset="0.25" stop-color="#7ad151"/><stop offset="0.45" stop-color="#22a884"/><stop offset="0.6" stop-color="#2a788e"/><stop offset="0.8" stop-color="#414487"/><stop offset="1" stop-color="#6a1070"/></linearGradient><filter id="um0" x="-5%" y="-5%" width="110%" height="110%" color-interpolation-filters="sRGB"><feTurbulence type="fractalNoise" baseFrequency="0.55" numOctaves="2" seed="3"/><feColorMatrix type="matrix" values="0 0 0 0 0 0 0 0 0 0 0 0 0 0 0 0 0 0 2.2 -0.6"/><feComponentTransfer><feFuncA type="discrete" tableValues="0 0 0 0 1 1 1 1 1 1 1 1 1 1 1 1 1 1 1 1"/></feComponentTransfer><feComposite in="SourceGraphic" operator="in"/></filter><filter id="um1" x="-5%" y="-5%" width="110%" height="110%" color-interpolation-filters="sRGB"><feTurbulence type="fractalNoise" baseFrequency="0.55" numOctaves="2" seed="5"/><feColorMatrix type="matrix" values="0 0 0 0 0 0 0 0 0 0 0 0 0 0 0 0 0 0 2.2 -0.6"/><feComponentTransfer><feFuncA type="discrete" tableValues="0 0 1 1 1 1 1 1 1 1 1 1 1 1 1 1 1 1 1 1"/></feComponentTransfer><feComposite in="SourceGraphic" operator="in"/></filter><filter id="um2" x="-5%" y="-5%" width="110%" height="110%" color-interpolation-filters="sRGB"><feTurbulence type="fractalNoise" baseFrequency="0.55" numOctaves="2" seed="8"/><feColorMatrix type="matrix" values="0 0 0 0 0 0 0 0 0 0 0 0 0 0 0 0 0 0 2.2 -0.6"/><feComponentTransfer><feFuncA type="discrete" tableValues="0 0 1 1 1 1 1 1 1 1 1 1 1 1 1 1 1 1 1 1"/></feComponentTransfer><feComposite in="SourceGraphic" operator="in"/></filter><filter id="um3" x="-5%" y="-5%" width="110%" height="110%" color-interpolation-filters="sRGB"><feTurbulence type="fractalNoise" baseFrequency="0.55" numOctaves="2" seed="9"/><feColorMatrix type="matrix" values="0 0 0 0 0 0 0 0 0 0 0 0 0 0 0 0 0 0 2.2 -0.6"/><feComponentTransfer><feFuncA type="discrete" tableValues="0 0 0 0 0 0 0 0 0 1 1 1 1 1 1 1 1 1 1 1"/></feComponentTransfer><feComposite in="SourceGraphic" operator="in"/></filter><filter id="um4" x="-5%" y="-5%" width="110%" height="110%" color-interpolation-filters="sRGB"><feTurbulence type="fractalNoise" baseFrequency="0.55" numOctaves="2" seed="17"/><feColorMatrix type="matrix" values="0 0 0 0 0 0 0 0 0 0 0 0 0 0 0 0 0 0 2.2 -0.6"/><feComponentTransfer><feFuncA type="discrete" tableValues="0 0 0 0 0 0 0 0 0 0 0 0 0 0 0 0 1 1 1 1"/></feComponentTransfer><feComposite in="SourceGraphic" operator="in"/></filter><filter id="us0" x="-15%" y="-15%" width="130%" height="130%" color-interpolation-filters="sRGB"><feGaussianBlur in="SourceGraphic" stdDeviation="1.8" result="b"/><feTurbulence type="fractalNoise" baseFrequency="0.55" numOctaves="2" seed="13"/><feColorMatrix type="matrix" values="0 0 0 0 0 0 0 0 0 0 0 0 0 0 0 0 0 0 2.2 -0.6"/><feComponentTransfer><feFuncA type="discrete" tableValues="0 0 0 0 0 0 0 0 0 1 1 1 1 1 1 1 1 1 1 1"/></feComponentTransfer><feComposite in="b" operator="in"/></filter><filter id="us1" x="-15%" y="-15%" width="130%" height="130%" color-interpolation-filters="sRGB"><feGaussianBlur in="SourceGraphic" stdDeviation="1.8" result="b"/><feTurbulence type="fractalNoise" baseFrequency="0.55" numOctaves="2" seed="15"/><feColorMatrix type="matrix" values="0 0 0 0 0 0 0 0 0 0 0 0 0 0 0 0 0 0 2.2 -0.6"/><feComponentTransfer><feFuncA type="discrete" tableValues="0 0 0 0 1 1 1 1 1 1 1 1 1 1 1 1 1 1 1 1"/></feComponentTransfer><feComposite in="b" operator="in"/></filter><linearGradient id="cbC" x1="0" y1="0" x2="0" y2="1"><stop offset="0" stop-color="#2a10f0"/><stop offset="0.12" stop-color="#4a30ee"/><stop offset="0.5" stop-color="#a080e8"/><stop offset="1" stop-color="#dcdcdc"/></linearGradient><linearGradient id="cbE" x1="0" y1="0" x2="0" y2="1"><stop offset="0" stop-color="#2a10f0"/><stop offset="0.12" stop-color="#4a30ee"/><stop offset="0.5" stop-color="#a080e8"/><stop offset="1" stop-color="#dcdcdc"/></linearGradient><filter id="bl1"><feGaussianBlur stdDeviation="1.6"/></filter><filter id="ft1" x="0" y="0" width="100%" height="100%" color-interpolation-filters="sRGB"><feTurbulence type="fractalNoise" baseFrequency="0.45" numOctaves="3" seed="71"/><feColorMatrix type="matrix" values="1.389 0 0 0 -0.194 1.389 0 0 0 -0.194 1.389 0 0 0 -0.194 0 0 0 0 1"/><feComponentTransfer><feFuncR type="discrete" tableValues="0 0 0 0 0 0 0 0 0 0 0 0 0 0 0 0 0 0 0 0 0 0 0 0 0.01 0.01 0.01 0.01 0.01 0.01 0.02 0.02 0.02 0.02 0.04 0.04 0.04 0.04 0.06 0.06 0.06 0.06 0.11 0.11 0.11 0.11 0.11 0.11"/><feFuncG type="discrete" tableValues="0.01 0.01 0.01 0.01 0.01 0.01 0.01 0.01 0.01 0.01 0.01 0.01 0.01 0.01 0.01 0.01 0.01 0.01 0.01 0.01 0.01 0.01 0.01 0.01 0.03 0.03 0.03 0.03 0.03 0.03 0.06 0.06 0.06 0.06 0.1 0.1 0.1 0.1 0.16 0.16 0.16 0.16 0.27 0.27 0.27 0.27 0.27 0.27"/><feFuncB type="discrete" tableValues="0.05 0.05 0.05 0.05 0.05 0.05 0.05 0.05 0.05 0.05 0.05 0.05 0.05 0.05 0.05 0.05 0.05 0.05 0.05 0.05 0.05 0.05 0.05 0.05 0.13 0.13 0.13 0.13 0.13 0.13 0.24 0.24 0.24 0.24 0.38 0.38 0.38 0.38 0.55 0.55 0.55 0.55 0.75 0.75 0.75 0.75 0.75 0.75"/></feComponentTransfer><feGaussianBlur stdDeviation="0.35"/><feComposite in2="SourceGraphic" operator="in"/></filter><filter id="ft2" x="0" y="0" width="100%" height="100%" color-interpolation-filters="sRGB"><feTurbulence type="fractalNoise" baseFrequency="0.45" numOctaves="3" seed="73"/><feColorMatrix type="matrix" values="1.389 0 0 0 -0.194 1.389 0 0 0 -0.194 1.389 0 0 0 -0.194 0 0 0 0 1"/><feComponentTransfer><feFuncR type="discrete" tableValues="0 0 0 0 0 0 0 0 0 0 0 0 0 0 0 0 0 0 0 0 0 0 0 0 0 0 0.01 0.01 0.01 0.01 0.01 0.02 0.02 0.02 0.02 0.03 0.03 0.03 0.03 0.05 0.05 0.05 0.05 0.05 0.11 0.11 0.11 0.11"/><feFuncG type="discrete" tableValues="0.01 0.01 0.01 0.01 0.01 0.01 0.01 0.01 0.01 0.01 0.01 0.01 0.01 0.01 0.01 0.01 0.01 0.01 0.01 0.01 0.01 0.01 0.01 0.01 0.01 0.01 0.02 0.02 0.02 0.02 0.02 0.05 0.05 0.05 0.05 0.09 0.09 0.09 0.09 0.16 0.16 0.16 0.16 0.16 0.27 0.27 0.27 0.27"/><feFuncB type="discrete" tableValues="0.03 0.03 0.03 0.03 0.03 0.03 0.03 0.03 0.03 0.03 0.03 0.03 0.03 0.03 0.03 0.03 0.03 0.03 0.03 0.03 0.03 0.03 0.03 0.03 0.03 0.03 0.11 0.11 0.11 0.11 0.11 0.2 0.2 0.2 0.2 0.35 0.35 0.35 0.35 0.53 0.53 0.53 0.53 0.53 0.75 0.75 0.75 0.75"/></feComponentTransfer><feGaussianBlur stdDeviation="0.35"/><feComposite in2="SourceGraphic" operator="in"/></filter><filter id="fg1" x="0" y="0" width="100%" height="100%" color-interpolation-filters="sRGB"><feTurbulence type="fractalNoise" baseFrequency="0.4" numOctaves="3" seed="75"/><feColorMatrix type="matrix" values="1.389 0 0 0 -0.194 1.389 0 0 0 -0.194 1.389 0 0 0 -0.194 1.389 0 0 0 -0.194"/><feComponentTransfer><feFuncR type="discrete" tableValues="0 0 0 0 0 0 0 0 0 0 0 0 0 0 0 0 0 0 0 0 0 0 0 0 0 0 0 0 0 0 0 0 0 0 0 0 0 0 0.04 0.04 0.04 0.06 0.06 0.06 0.17 0.17 0.17 0.17"/><feFuncG type="discrete" tableValues="0 0 0 0 0 0 0 0 0 0 0 0 0 0 0 0 0 0 0 0 0 0 0 0 0 0 0 0 0 0 0 0 0 0 0 0 0 0 0.24 0.24 0.24 0.44 0.44 0.44 0.69 0.69 0.69 0.69"/><feFuncB type="discrete" tableValues="0 0 0 0 0 0 0 0 0 0 0 0 0 0 0 0 0 0 0 0 0 0 0 0 0 0 0 0 0 0 0 0 0 0 0 0 0 0 0.09 0.09 0.09 0.16 0.16 0.16 0.3 0.3 0.3 0.3"/><feFuncA type="discrete" tableValues="0 0 0 0 0 0 0 0 0 0 0 0 0 0 0 0 0 0 0 0 0 0 0 0 0 0 0 0 0 0 0 0 0 0 0 0 0 0 0.85 0.85 0.85 1 1 1 1 1 1 1"/></feComponentTransfer><feGaussianBlur stdDeviation="0.35"/><feComposite in2="SourceGraphic" operator="in"/></filter><filter id="fg2" x="0" y="0" width="100%" height="100%" color-interpolation-filters="sRGB"><feTurbulence type="fractalNoise" baseFrequency="0.4" numOctaves="3" seed="77"/><feColorMatrix type="matrix" values="1.389 0 0 0 -0.194 1.389 0 0 0 -0.194 1.389 0 0 0 -0.194 1.389 0 0 0 -0.194"/><feComponentTransfer><feFuncR type="discrete" tableValues="0 0 0 0 0 0 0 0 0 0 0 0 0 0 0 0 0 0 0 0 0 0 0 0 0 0 0 0 0 0 0 0 0 0 0 0.04 0.04 0.06 0.06 0.06 0.06 0.17 0.17 0.17 0.17 0.17 0.17 0.17"/><feFuncG type="discrete" tableValues="0 0 0 0 0 0 0 0 0 0 0 0 0 0 0 0 0 0 0 0 0 0 0 0 0 0 0 0 0 0 0 0 0 0 0 0.24 0.24 0.44 0.44 0.44 0.44 0.69 0.69 0.69 0.69 0.69 0.69 0.69"/><feFuncB type="discrete" tableValues="0 0 0 0 0 0 0 0 0 0 0 0 0 0 0 0 0 0 0 0 0 0 0 0 0 0 0 0 0 0 0 0 0 0 0 0.09 0.09 0.16 0.16 0.16 0.16 0.3 0.3 0.3 0.3 0.3 0.3 0.3"/><feFuncA type="discrete" tableValues="0 0 0 0 0 0 0 0 0 0 0 0 0 0 0 0 0 0 0 0 0 0 0 0 0 0 0 0 0 0 0 0 0 0 0 0.85 0.85 1 1 1 1 1 1 1 1 1 1 1"/></feComponentTransfer><feGaussianBlur stdDeviation="0.35"/><feComposite in2="SourceGraphic" operator="in"/></filter><filter id="fg3" x="0" y="0" width="100%" height="100%" color-interpolation-filters="sRGB"><feTurbulence type="fractalNoise" baseFrequency="0.32" numOctaves="3" seed="79"/><feColorMatrix type="matrix" values="1.389 0 0 0 -0.194 1.389 0 0 0 -0.194 1.389 0 0 0 -0.194 1.389 0 0 0 -0.194"/><feComponentTransfer><feFuncR type="discrete" tableValues="0 0 0 0 0 0 0 0 0 0 0 0 0 0 0 0 0 0 0 0 0 0 0 0 0 0 0 0.04 0.04 0.04 0.04 0.04 0.06 0.06 0.06 0.06 0.06 0.17 0.17 0.17 0.17 0.17 0.17 0.17 0.17 0.17 0.17 0.17"/><feFuncG type="discrete" tableValues="0 0 0 0 0 0 0 0 0 0 0 0 0 0 0 0 0 0 0 0 0 0 0 0 0 0 0 0.24 0.24 0.24 0.24 0.24 0.44 0.44 0.44 0.44 0.44 0.69 0.69 0.69 0.69 0.69 0.69 0.69 0.69 0.69 0.69 0.69"/><feFuncB type="discrete" tableValues="0 0 0 0 0 0 0 0 0 0 0 0 0 0 0 0 0 0 0 0 0 0 0 0 0 0 0 0.09 0.09 0.09 0.09 0.09 0.16 0.16 0.16 0.16 0.16 0.3 0.3 0.3 0.3 0.3 0.3 0.3 0.3 0.3 0.3 0.3"/><feFuncA type="discrete" tableValues="0 0 0 0 0 0 0 0 0 0 0 0 0 0 0 0 0 0 0 0 0 0 0 0 0 0 0 0.85 0.85 0.85 0.85 0.85 1 1 1 1 1 1 1 1 1 1 1 1 1 1 1 1"/></feComponentTransfer><feGaussianBlur stdDeviation="0.35"/><feComposite in2="SourceGraphic" operator="in"/></filter><filter id="fbl" x="-20%" y="-50%" width="140%" height="200%"><feGaussianBlur stdDeviation="2.2"/></filter><filter id="fbs" x="-20%" y="-50%" width="140%" height="200%"><feGaussianBlur stdDeviation="0.8"/></filter></defs>
<rect width="685" height="987" fill="#fff"/>
<text x="0" y="11.8" font-size="16.8" font-weight="bold" fill="#000">A</text><text x="37.7" y="20.2" font-size="11.1" fill="#9a4db5">Inflamatory cytokine panel</text><text x="100.5" y="34.4" font-size="9.8" text-anchor="middle" fill="#000">E-con</text><text x="224" y="32.6" font-size="9.7" text-anchor="middle" fill="#000">E-Yd1</text><rect x="17.6" y="38.2" width="13.4" height="227" fill="#fff" stroke="#333" stroke-width="0.7"/><line x1="17.6" y1="113.4" x2="31" y2="113.4" stroke="#333" stroke-width="0.7"/><text x="27.6" y="77.5" font-size="9.8" text-anchor="middle" fill="#000" transform="rotate(-90 27.6 77.5)">Heatmap</text><text x="27.6" y="191" font-size="9.7" text-anchor="middle" fill="#000" transform="rotate(-90 27.6 191)">Molecular feature</text><clipPath id="ca1"><rect x="33.9" y="36.9" width="124.8" height="73.2"/></clipPath><clipPath id="ta1"><polygon points="34.4,66.7 36.9,66.3 39.3,64.9 42.7,64.5 44.8,62.3 48.4,64.0 52.4,63.7 55.7,64.8 59.0,64.8 60.9,64.2 64.7,62.4 66.9,60.1 69.6,58.5 71.0,55.8 74.4,56.1 76.9,54.7 79.9,54.2 82.5,56.0 84.9,55.8 88.3,56.3 90.6,55.5 94.5,55.3 97.7,53.6 100.1,53.2 103.3,53.1 106.5,52.9 109.1,51.8 111.7,49.8 113.6,48.9 116.3,45.8 119.7,44.5 121.7,43.4 125.1,41.0 127.3,39.8 130.0,39.0 131.6,37.7 135.1,35.4 137.3,36.3 140.5,36.2 142.6,36.2 144.7,35.7 147.6,35.4 149.8,35.3 153.6,35.7 155.3,36.1 158.5,36.5 161.3,35.3 163.0,35.7 165.6,36.0 165.5,39.0 165.7,41.6 166.5,43.8 165.6,45.5 166.6,49.3 165.9,50.6 166.3,53.5 165.8,57.0 166.5,59.4 165.3,61.7 166.0,64.4 165.2,67.2 165.4,68.5 166.1,72.1 166.2,73.7 165.5,76.9 166.0,79.7 162.9,80.5 160.8,81.0 158.4,82.2 156.2,83.3 153.9,83.6 151.6,84.8 149.2,86.7 147.3,87.7 145.1,89.0 142.5,89.4 139.9,90.3 138.5,91.8 135.2,93.4 132.2,93.3 129.6,95.1 127.0,95.6 123.6,96.9 122.2,97.0 119.9,99.1 116.5,99.7 114.2,100.5 111.4,101.6 108.7,102.4 106.3,103.7 103.2,103.8 100.5,105.1 97.9,105.6 96.3,106.7 92.3,107.4 90.8,108.9 87.9,108.9 85.0,111.9 82.1,112.5 79.8,114.2 78.0,115.4 74.4,115.4 73.0,115.3 70.2,114.4 66.9,114.9 64.3,115.4 62.1,115.1 59.5,115.6 56.9,115.4 55.2,115.1 51.5,115.5 49.1,114.3 47.6,114.5 43.9,115.4 42.6,114.7 39.3,115.2 37.3,114.6 33.8,114.4 31.6,114.2 32.3,112.2 32.2,109.5 32.0,107.6 32.9,105.2 32.4,102.7 32.2,99.9 32.3,97.7 32.6,94.0 33.2,91.6 33.4,90.0 33.6,86.4 32.9,83.9 32.6,81.9 33.5,78.8 33.7,76.7 33.1,74.6 33.6,71.7 34.4,69.4"/></clipPath><clipPath id="ea1"><polygon points="33.9,66.8 45.5,62.9 55.1,64.8 64.7,62.9 71.5,56.2 80.1,54.8 87.9,56.7 97.5,54.2 109.0,52.3 116.8,46.5 124.5,41.7 132.2,37.9 134.9,35.9 133.9,42.9 131.2,44.9 123.5,48.7 115.8,53.5 108.0,59.3 96.5,61.2 86.9,63.7 79.1,61.8 70.5,63.2 63.7,69.9 54.1,71.8 44.5,69.9 32.9,73.8"/><polygon points="165.9,79.4 158.9,82.2 149.5,86.0 137.9,91.8 126.4,95.7 114.8,100.5 103.3,104.3 87.9,109.5 79.9,114.9 76.9,105.9 84.9,100.5 100.3,95.3 111.8,91.5 123.4,86.7 134.9,82.8 146.5,77.0 155.9,73.2 162.9,70.4"/></clipPath><rect x="33.9" y="36.9" width="124.8" height="73.2" fill="#efe5e6"/><g clip-path="url(#ca1)"><g clip-path="url(#ta1)"><g transform="rotate(-22 96.3 73.5)"><rect x="-11.100000000000001" y="-8.100000000000001" width="214.8" height="163.2" fill="#000" filter="url(#pk1)"/></g><polygon points="163.9,64.9 137.9,75.9 118.9,84.4 97.9,92.9 85.9,100.9 77.9,114.9 79.9,114.9 87.9,109.5 103.3,104.3 114.8,100.5 126.4,95.7 137.9,91.8 149.5,86.0 158.9,82.2 165.9,79.4" fill="#fcf0f5" opacity="0.38"/><path d="M161.9,69.9 L139.9,80.9 L121.9,88.9 L101.9,96.9 L89.9,105.9" stroke="#e0609c" stroke-width="0.9" fill="none" opacity="0.5"/><path d="M159.9,74.9 L141.9,84.9 L123.9,92.9 L105.9,100.9 L93.9,108.9" stroke="#e0609c" stroke-width="0.9" fill="none" opacity="0.5"/><polygon points="59.9,70.9 91.9,61.9 121.9,51.9 151.9,42.9 157.9,56.9 133.9,69.9 103.9,81.9 77.9,91.9 61.9,86.9" fill="#d63a82" opacity="0.28" filter="url(#blr)"/><g transform="rotate(-22 96.3 73.5)"><rect x="-11.100000000000001" y="-8.100000000000001" width="214.8" height="163.2" fill="#000" filter="url(#htA1)"/></g><g clip-path="url(#ea1)"><g transform="rotate(-22 96.3 73.5)"><rect x="-11.100000000000001" y="-8.100000000000001" width="214.8" height="163.2" fill="#000" filter="url(#htA1e)"/></g></g><polygon points="163.9,64.9 137.9,75.9 118.9,84.4 97.9,92.9 85.9,100.9 77.9,114.9 80.4,114.9 88.9,101.9 99.4,94.7 119.9,86.1 138.9,77.9 163.9,66.9" fill="#fbf3f6" opacity="0.55"/><path d="M125.9,57.9 L103.9,66.9 L83.9,72.9 L63.9,76.9" stroke="#fbf3f6" stroke-width="1.1" fill="none" opacity="0.6"/><path d="M151.9,60.9 L133.9,67.9 L117.9,75.9" stroke="#fbf3f6" stroke-width="1.1" fill="none" opacity="0.6"/><path d="M93.9,62.9 L81.9,64.9 L71.9,69.9" stroke="#fbf3f6" stroke-width="1.1" fill="none" opacity="0.6"/></g></g><clipPath id="ca2"><rect x="162.9" y="36.9" width="125.8" height="73.2"/></clipPath><clipPath id="ta2"><polygon points="160.9,84.4 163.5,83.6 165.7,83.9 167.6,82.2 170.8,81.2 172.5,81.5 176.1,80.0 177.7,80.0 180.6,78.5 183.7,77.5 186.8,77.0 189.2,75.9 191.6,74.5 193.3,72.8 195.3,72.7 198.2,70.4 200.7,69.5 202.7,68.6 204.0,65.9 206.4,63.8 208.3,61.8 210.5,59.6 212.2,57.8 213.9,55.8 216.3,53.8 217.3,51.5 219.7,48.9 221.5,47.5 222.9,44.9 225.6,43.5 227.9,42.2 229.4,40.2 230.2,38.1 231.7,35.4 234.6,35.5 236.7,35.9 240.5,35.3 241.9,36.5 244.9,35.9 247.2,36.3 249.8,35.8 252.1,36.3 254.2,35.8 257.5,35.2 259.6,35.7 262.6,35.9 264.8,35.6 267.3,36.5 269.3,35.3 271.9,35.3 274.4,35.6 277.7,36.5 279.2,35.9 282.0,36.5 285.6,36.2 286.7,35.9 289.8,36.0 292.0,35.2 295.0,36.4 292.7,37.7 290.3,39.8 289.3,41.7 286.5,42.8 285.6,45.3 282.9,46.7 280.8,48.4 278.7,49.7 277.5,51.6 275.3,53.5 273.3,55.6 272.2,57.2 270.5,58.7 268.6,60.3 266.1,62.4 263.6,64.5 262.0,65.9 259.9,69.0 258.7,70.4 257.0,72.0 254.8,74.4 252.6,75.6 250.1,78.0 248.4,78.6 246.4,81.1 244.5,82.6 243.1,84.6 241.4,86.2 238.6,86.6 236.4,88.5 234.3,90.2 232.9,92.3 230.0,94.2 227.7,95.8 225.7,97.1 224.2,100.1 221.4,101.5 219.0,102.9 217.8,104.8 215.2,106.7 213.4,108.7 212.1,110.4 210.4,112.5 207.4,114.6 205.5,113.9 202.6,114.3 199.8,114.1 197.3,114.0 195.0,113.9 192.4,113.3 189.2,113.7 186.8,113.7 184.1,113.6 181.8,113.4 178.6,114.5 176.8,114.3 173.7,114.4 171.2,113.9 168.1,113.5 166.3,114.3 163.2,114.3 161.1,113.2 160.5,111.9 160.9,107.9 161.1,105.8 160.3,103.9 160.8,100.9 160.7,98.5 161.0,95.1 160.6,93.3 161.1,90.7 160.5,87.3"/></clipPath><rect x="162.9" y="36.9" width="125.8" height="73.2" fill="#efe5e6"/><g clip-path="url(#ca2)"><path d="M165.5,73.3 L167.8,72.0 L170.9,71.7 L174.4,71.1 L176.9,71.0 L180.6,69.9 L182.6,69.3 L186.1,67.5 L189.6,67.7 L191.9,65.5 L193.6,63.3 L197.0,61.2 L198.9,58.3 L200.8,56.6 L203.6,54.6 L204.9,52.0 L206.5,49.4 L209.6,45.5 L212.6,43.4 L215.4,41.2 L217.1,38.9 L220.9,36.9" fill="none" stroke="#e86aa0" stroke-width="0.9" opacity="0.85"/><path d="M162.3,63.5 L167.3,62.5 L170.9,62.8 L174.1,61.4 L176.3,58.1 L181.4,58.8 L185.3,58.1 L187.5,57.3 L189.8,55.6 L193.5,52.1 L194.8,50.3 L198.9,47.4 L200.4,44.8 L203.1,41.5 L206.9,38.9" fill="none" stroke="#f0a0c0" stroke-width="0.9" opacity="0.85"/><path d="M167.6,51.6 L170.2,51.2 L175.4,53.3 L178.2,50.6 L181.1,49.1 L185.0,48.4 L188.8,48.7 L192.3,46.7 L195.6,43.0 L196.8,39.5 L198.9,36.9" fill="none" stroke="#e86aa0" stroke-width="0.6" opacity="0.85"/><path d="M172.5,77.0 L175.7,76.3 L179.1,74.7 L181.1,75.2 L184.5,73.5 L188.7,72.1 L191.4,70.4 L194.1,68.1 L197.1,67.5 L198.9,64.8 L201.2,61.2 L203.3,59.5 L204.9,56.9" fill="none" stroke="#f0a0c0" stroke-width="0.6" opacity="0.85"/><path d="M178.5,56.3 L180.7,59.3 L182.2,62.7 L187.6,62.4 L191.3,60.5 L195.9,63.9" fill="none" stroke="#e86aa0" stroke-width="0.6" opacity="0.85"/><path d="M165.1,79.3 L168.9,79.1 L172.3,78.6 L174.6,77.3 L179.6,77.1 L182.5,75.3 L184.9,74.5 L188.0,74.0 L190.9,72.9" fill="none" stroke="#f0a0c0" stroke-width="0.6" opacity="0.85"/><path d="M163.4,70.4 L166.2,68.9 L168.8,68.8 L172.9,68.3 L176.0,67.7 L179.2,67.0 L182.9,65.9" fill="none" stroke="#e86aa0" stroke-width="0.6" opacity="0.85"/><path d="M186.6,54.3 L190.1,55.2 L193.0,56.7 L195.2,53.9 L198.9,50.9" fill="none" stroke="#f0a0c0" stroke-width="0.6" opacity="0.85"/><g clip-path="url(#ta2)"><g transform="rotate(-42 225.8 73.5)"><rect x="117.9" y="-8.100000000000001" width="215.8" height="163.2" fill="#000" filter="url(#pk2)"/></g><g transform="rotate(-42 225.8 73.5)"><rect x="117.9" y="-8.100000000000001" width="215.8" height="163.2" fill="#000" filter="url(#htA2)"/></g><path d="M290.9,33.4 L288.9,31.9 L282.9,37.7 L269.6,49.3 L258.1,60.8 L244.6,73.4 L231.1,84.9 L217.6,95.5 L201.9,109.9" fill="none" stroke="#fbf3f6" stroke-width="1.2" opacity="0.75"/><path d="M232.9,48.9 L222.9,60.9 L210.9,72.9 L196.9,82.9" stroke="#fbf3f6" stroke-width="0.9" fill="none" opacity="0.55"/><path d="M250.9,46.9 L238.9,60.9 L224.9,74.9" stroke="#fbf3f6" stroke-width="0.9" fill="none" opacity="0.55"/><path d="M214.9,76.9 L202.9,88.9 L188.9,96.9" stroke="#fbf3f6" stroke-width="0.9" fill="none" opacity="0.55"/></g></g><clipPath id="ca3"><rect x="33.9" y="113.9" width="124.8" height="72.8"/></clipPath><clipPath id="ta3"><polygon points="34.0,143.3 37.1,142.5 40.3,141.4 43.0,140.4 46.2,140.4 48.2,140.7 51.5,141.2 55.6,141.3 57.9,140.6 60.9,140.5 64.2,139.4 67.2,137.4 69.0,135.2 72.0,132.9 74.6,133.3 77.3,132.0 79.6,132.0 82.2,132.3 85.7,133.5 87.6,133.5 90.8,132.6 94.3,131.5 97.0,130.7 100.1,130.8 103.0,130.2 106.5,130.2 108.9,129.8 110.9,127.5 114.5,125.3 116.7,123.2 119.7,121.5 122.0,120.6 125.0,119.3 126.6,117.0 129.3,116.6 132.3,115.2 134.8,112.9 138.2,112.7 140.0,113.1 143.2,113.5 145.3,112.3 147.2,112.2 149.7,113.1 152.8,112.3 156.0,113.0 158.2,113.4 160.2,112.8 163.4,112.9 165.5,113.3 166.4,116.2 166.0,117.6 165.5,119.9 166.6,123.0 165.6,125.0 165.6,128.9 166.1,130.2 165.5,134.0 165.6,136.3 166.1,137.9 166.4,141.5 166.5,143.1 165.5,145.9 166.3,148.8 166.6,151.7 165.3,154.0 165.3,156.8 162.9,157.0 161.4,158.7 158.4,159.7 156.0,160.0 154.6,161.0 152.1,162.0 149.7,163.4 147.2,163.7 144.2,165.3 142.1,166.2 139.8,167.2 138.6,168.6 135.6,169.1 132.2,171.3 129.4,171.3 126.6,172.8 124.1,173.7 122.0,175.0 118.8,176.2 117.3,176.4 114.2,177.1 111.3,178.8 108.7,178.8 106.1,180.7 102.8,181.8 101.4,182.4 97.6,183.4 96.1,183.8 93.6,184.6 89.9,186.1 87.6,187.0 85.5,188.2 82.7,190.2 79.7,192.3 77.8,191.5 75.0,192.3 72.3,192.3 70.4,192.2 66.8,192.5 65.3,191.6 62.7,191.3 60.1,192.0 57.7,191.8 54.9,192.3 52.5,191.6 49.0,191.8 46.8,192.6 43.9,192.4 42.3,192.3 39.0,192.4 37.5,192.4 34.7,192.1 32.3,192.4 32.5,188.8 31.5,186.9 31.5,184.6 32.8,181.7 32.4,178.9 32.3,176.6 32.3,174.6 32.5,171.6 32.8,169.3 33.0,165.9 33.6,164.1 33.3,162.2 33.4,159.3 33.7,156.3 33.5,153.9 34.0,151.6 34.2,148.3 33.7,145.8"/></clipPath><clipPath id="ea3"><polygon points="33.9,143.8 45.5,139.9 55.1,141.8 64.7,139.9 71.5,133.2 80.1,131.8 87.9,133.7 97.5,131.2 109.0,129.3 116.8,123.5 124.5,118.7 132.2,114.9 134.9,112.9 133.9,119.9 131.2,121.9 123.5,125.7 115.8,130.5 108.0,136.3 96.5,138.2 86.9,140.7 79.1,138.8 70.5,140.2 63.7,146.9 54.1,148.8 44.5,146.9 32.9,150.8"/><polygon points="165.9,156.4 158.9,159.2 149.5,163.0 137.9,168.8 126.4,172.7 114.8,177.5 103.3,181.3 87.9,186.5 79.9,191.9 76.9,182.9 84.9,177.5 100.3,172.3 111.8,168.5 123.4,163.7 134.9,159.8 146.5,154.0 155.9,150.2 162.9,147.4"/></clipPath><rect x="33.9" y="113.9" width="124.8" height="72.8" fill="#efe5e6"/><g clip-path="url(#ca3)"><g clip-path="url(#ta3)"><g transform="rotate(-22 96.3 150.3)"><rect x="-11.100000000000001" y="68.9" width="214.8" height="162.8" fill="#000" filter="url(#pk3)"/></g><polygon points="163.9,141.9 137.9,152.9 118.9,161.4 97.9,169.9 85.9,177.9 77.9,191.9 79.9,191.9 87.9,186.5 103.3,181.3 114.8,177.5 126.4,172.7 137.9,168.8 149.5,163.0 158.9,159.2 165.9,156.4" fill="#fcf0f5" opacity="0.38"/><path d="M161.9,146.9 L139.9,157.9 L121.9,165.9 L101.9,173.9 L89.9,182.9" stroke="#e0609c" stroke-width="0.9" fill="none" opacity="0.5"/><path d="M159.9,151.9 L141.9,161.9 L123.9,169.9 L105.9,177.9 L93.9,185.9" stroke="#e0609c" stroke-width="0.9" fill="none" opacity="0.5"/><polygon points="59.9,147.9 91.9,138.9 121.9,128.9 151.9,119.9 157.9,133.9 133.9,146.9 103.9,158.9 77.9,168.9 61.9,163.9" fill="#d63a82" opacity="0.28" filter="url(#blr)"/><g transform="rotate(-10 96.3 150.3)"><rect x="-11.100000000000001" y="68.9" width="214.8" height="162.8" fill="#000" filter="url(#spA)"/></g><polygon points="163.9,141.9 137.9,152.9 118.9,161.4 97.9,169.9 85.9,177.9 77.9,191.9 80.4,191.9 88.9,178.9 99.4,171.7 119.9,163.1 138.9,154.9 163.9,143.9" fill="#fbf3f6" opacity="0.55"/><path d="M125.9,134.9 L103.9,143.9 L83.9,149.9 L63.9,153.9" stroke="#fbf3f6" stroke-width="1.1" fill="none" opacity="0.6"/><path d="M151.9,137.9 L133.9,144.9 L117.9,152.9" stroke="#fbf3f6" stroke-width="1.1" fill="none" opacity="0.6"/><path d="M93.9,139.9 L81.9,141.9 L71.9,146.9" stroke="#fbf3f6" stroke-width="1.1" fill="none" opacity="0.6"/></g></g><clipPath id="ca4"><rect x="162.9" y="113.9" width="125.8" height="72.8"/></clipPath><clipPath id="ta4"><polygon points="161.6,161.1 163.6,160.9 166.4,160.1 168.7,159.0 171.3,158.6 172.5,157.8 175.6,156.6 177.9,155.6 180.2,154.9 183.1,154.0 186.6,153.3 189.4,153.0 191.7,151.9 193.5,150.4 196.2,149.1 197.4,148.0 200.2,146.4 201.8,145.3 204.6,143.7 206.5,140.8 207.5,137.8 210.3,136.1 212.0,133.7 213.4,131.8 215.4,130.5 217.5,128.5 219.6,126.5 222.0,124.9 223.1,123.2 226.0,121.0 227.1,119.3 229.3,116.4 230.9,115.3 232.7,113.5 234.8,113.1 236.7,113.1 239.3,113.2 242.9,112.7 244.2,112.3 247.3,112.4 250.2,113.1 252.3,113.1 254.3,112.8 256.7,113.0 260.3,112.4 262.6,113.6 264.6,112.5 267.0,113.4 269.3,113.3 272.0,113.3 275.4,113.4 276.9,113.0 279.6,113.4 282.1,112.4 284.8,112.3 287.0,113.2 289.6,112.5 293.0,112.6 295.3,113.2 293.0,115.0 291.0,117.2 289.2,118.4 287.2,120.4 285.7,121.5 283.1,124.3 280.7,125.6 280.0,127.1 276.9,129.0 275.3,130.3 274.1,132.0 271.4,133.6 269.6,135.5 268.2,138.4 265.4,139.9 264.5,142.2 261.8,143.6 260.5,145.4 259.0,147.8 257.0,148.5 253.8,150.9 252.6,152.3 250.2,154.8 249.1,155.4 246.2,158.0 244.7,158.8 243.5,160.7 240.4,162.5 238.9,164.5 237.5,165.3 234.8,168.2 232.6,170.0 230.9,171.6 228.3,172.4 226.5,174.5 223.3,176.5 221.7,178.7 219.7,180.7 218.1,182.1 215.4,183.9 213.8,185.9 211.5,187.7 210.2,188.7 208.5,190.9 205.2,190.7 202.5,191.3 200.7,190.9 197.5,190.9 194.3,191.4 192.1,190.2 189.2,190.6 187.4,190.4 183.9,191.5 181.5,191.5 178.5,190.3 176.2,190.7 174.0,190.7 172.0,191.5 168.8,191.6 166.6,191.6 163.6,190.3 161.0,190.3 160.8,188.9 160.8,185.9 161.5,183.2 160.7,180.3 160.4,178.0 161.1,174.7 160.8,172.8 160.3,169.3 161.1,167.4 161.0,164.5"/></clipPath><rect x="162.9" y="113.9" width="125.8" height="72.8" fill="#efe5e6"/><g clip-path="url(#ca4)"><path d="M165.5,150.3 L167.8,149.0 L170.9,148.7 L174.4,148.1 L176.9,148.0 L180.6,146.9 L182.6,146.3 L186.1,144.5 L189.6,144.7 L191.9,142.5 L193.6,140.3 L197.0,138.2 L198.9,135.3 L200.8,133.6 L203.6,131.6 L204.9,129.0 L206.5,126.4 L209.6,122.5 L212.6,120.4 L215.4,118.2 L217.1,115.9 L220.9,113.9" fill="none" stroke="#e86aa0" stroke-width="0.9" opacity="0.85"/><path d="M162.3,140.5 L167.3,139.5 L170.9,139.8 L174.1,138.4 L176.3,135.1 L181.4,135.8 L185.3,135.1 L187.5,134.3 L189.8,132.6 L193.5,129.1 L194.8,127.3 L198.9,124.4 L200.4,121.8 L203.1,118.5 L206.9,115.9" fill="none" stroke="#f0a0c0" stroke-width="0.9" opacity="0.85"/><path d="M167.6,128.6 L170.2,128.2 L175.4,130.3 L178.2,127.6 L181.1,126.1 L185.0,125.4 L188.8,125.7 L192.3,123.7 L195.6,120.0 L196.8,116.5 L198.9,113.9" fill="none" stroke="#e86aa0" stroke-width="0.6" opacity="0.85"/><path d="M172.5,154.0 L175.7,153.3 L179.1,151.7 L181.1,152.2 L184.5,150.5 L188.7,149.1 L191.4,147.4 L194.1,145.1 L197.1,144.5 L198.9,141.8 L201.2,138.2 L203.3,136.5 L204.9,133.9" fill="none" stroke="#f0a0c0" stroke-width="0.6" opacity="0.85"/><path d="M178.5,133.3 L180.7,136.3 L182.2,139.7 L187.6,139.4 L191.3,137.5 L195.9,140.9" fill="none" stroke="#e86aa0" stroke-width="0.6" opacity="0.85"/><path d="M165.1,156.3 L168.9,156.1 L172.3,155.6 L174.6,154.3 L179.6,154.1 L182.5,152.3 L184.9,151.5 L188.0,151.0 L190.9,149.9" fill="none" stroke="#f0a0c0" stroke-width="0.6" opacity="0.85"/><path d="M163.4,147.4 L166.2,145.9 L168.8,145.8 L172.9,145.3 L176.0,144.7 L179.2,144.0 L182.9,142.9" fill="none" stroke="#e86aa0" stroke-width="0.6" opacity="0.85"/><path d="M186.6,131.3 L190.1,132.2 L193.0,133.7 L195.2,130.9 L198.9,127.9" fill="none" stroke="#f0a0c0" stroke-width="0.6" opacity="0.85"/><g clip-path="url(#ta4)"><g transform="rotate(-42 225.8 150.3)"><rect x="117.9" y="68.9" width="215.8" height="162.8" fill="#000" filter="url(#pk4)"/></g><g transform="rotate(-15 225.8 150.3)"><rect x="117.9" y="68.9" width="215.8" height="162.8" fill="#000" filter="url(#spA4)"/></g><path d="M290.9,110.4 L288.9,108.9 L282.9,114.7 L269.6,126.3 L258.1,137.8 L244.6,150.4 L231.1,161.9 L217.6,172.5 L201.9,186.9" fill="none" stroke="#fbf3f6" stroke-width="1.2" opacity="0.75"/><path d="M232.9,125.9 L222.9,137.9 L210.9,149.9 L196.9,159.9" stroke="#fbf3f6" stroke-width="0.9" fill="none" opacity="0.55"/><path d="M250.9,123.9 L238.9,137.9 L224.9,151.9" stroke="#fbf3f6" stroke-width="0.9" fill="none" opacity="0.55"/><path d="M214.9,153.9 L202.9,165.9 L188.9,173.9" stroke="#fbf3f6" stroke-width="0.9" fill="none" opacity="0.55"/></g></g><clipPath id="ca5"><rect x="33.9" y="192.2" width="124.8" height="71.9"/></clipPath><g clip-path="url(#ca5)"><g transform="rotate(-6 96.3 228.1)"><rect x="-11.100000000000001" y="147.2" width="214.8" height="161.9" fill="#000" filter="url(#zb1)"/></g><g transform="rotate(10 96.3 228.1)"><rect x="-11.100000000000001" y="147.2" width="214.8" height="161.9" fill="#000" filter="url(#zpale)"/></g><g transform="rotate(-14 96.3 228.1)"><rect x="-11.100000000000001" y="147.2" width="214.8" height="161.9" fill="#000" filter="url(#zgap)"/></g><g transform="rotate(-4 96.3 228.1)"><rect x="-11.100000000000001" y="147.2" width="214.8" height="161.9" fill="#000" filter="url(#zdark)"/></g><polygon points="33.9,192.2 158.7,192.2 158.7,199.2 141.7,200.7 128.7,199.2 103.8,198.7 78.8,197.2 53.9,194.7 33.9,193.7" fill="#ece2e4"/><clipPath id="pa5"><polygon points="33.9,196.2 53.9,197.2 78.8,199.7 103.8,201.2 128.7,201.7 141.7,203.2 158.7,199.7 158.7,206.2 143.7,210.2 123.8,212.7 93.8,212.2 63.9,210.2 33.9,211.2"/></clipPath><g clip-path="url(#pa5)"><g transform="rotate(0 96.3 228.1)"><rect x="-11.100000000000001" y="147.2" width="214.8" height="161.9" fill="#000" filter="url(#epi)"/></g></g><path d="M33.9,195.4 L53.9,196.4 L78.8,198.8 L103.8,200.4 L128.7,200.8 L141.7,202.2 L158.7,199.2" fill="none" stroke="#d8508c" stroke-width="1.6"/><path d="M33.9,212.2 L63.9,211.2 L93.8,213.2 L123.8,213.7 L143.7,211.2 L158.7,207.2" fill="none" stroke="#faf0f4" stroke-width="1.2" opacity="0.85"/><g transform="rotate(0 96.3 228.1)"><rect x="-11.100000000000001" y="147.2" width="214.8" height="161.9" fill="#000" filter="url(#spZa)"/></g></g><clipPath id="ca6"><rect x="162.9" y="192.2" width="125.8" height="71.9"/></clipPath><g clip-path="url(#ca6)"><g transform="rotate(-38 225.8 228.1)"><rect x="117.9" y="147.2" width="215.8" height="161.9" fill="#000" filter="url(#zb2)"/></g><g transform="rotate(-30 225.8 228.1)"><rect x="117.9" y="147.2" width="215.8" height="161.9" fill="#000" filter="url(#zpale2)"/></g><g transform="rotate(-42 225.8 228.1)"><rect x="117.9" y="147.2" width="215.8" height="161.9" fill="#000" filter="url(#zgap)"/></g><g transform="rotate(-36 225.8 228.1)"><rect x="117.9" y="147.2" width="215.8" height="161.9" fill="#000" filter="url(#zdark2)"/></g><polygon points="162.8,192.0 165.4,192.8 168.2,192.2 172.6,191.5 175.1,192.4 177.3,192.0 181.4,192.1 184.5,191.7 186.7,191.6 190.2,192.9 193.4,192.6 196.1,192.6 198.7,191.9 202.6,192.6 205.2,191.5 208.0,191.7 211.1,192.7 214.0,192.8 218.1,191.5 220.3,192.2 222.8,192.1 227.2,191.6 229.8,191.6 232.8,192.8 235.2,191.4 238.0,192.3 241.0,191.5 244.8,192.9 242.0,193.7 239.7,194.9 236.9,196.7 234.0,199.6 230.1,200.6 228.0,201.6 224.4,204.6 222.6,204.9 219.1,207.9 215.5,208.4 212.4,209.0 210.5,210.3 207.8,210.5 204.3,212.8 201.8,213.1 198.7,214.9 195.5,212.4 192.3,211.9 188.3,210.7 184.8,209.9 182.2,212.7 180.2,215.3 178.1,217.6 177.4,219.5 175.2,221.4 173.3,224.0 170.0,227.6 167.7,229.4 166.0,232.2 163.2,234.6 163.4,231.7 162.2,229.8 162.4,226.7 163.7,223.0 162.1,219.1 162.4,216.6 163.1,214.4 162.7,210.0 163.0,207.0 162.2,204.6 163.2,200.7 162.8,198.7 163.3,195.1" fill="#efe6e8"/><path d="M162.9,200.2 L172.9,196.2 L184.9,194.2 L192.9,197.2 L198.8,204.2 L202.8,212.2" fill="none" stroke="#a02870" stroke-width="2.0" stroke-linecap="round"/><path d="M184.9,192.2 L192.9,196.2 L204.8,198.2 L212.8,194.2" fill="none" stroke="#b03880" stroke-width="1.5" stroke-linecap="round"/><path d="M164.9,222.2 L170.9,212.2 L176.9,202.2 L180.9,194.2" fill="none" stroke="#b84888" stroke-width="1.3" stroke-linecap="round"/><path d="M190.9,202.2 L198.8,200.2 L206.8,202.2" fill="none" stroke="#e890b8" stroke-width="2.2" stroke-linecap="round"/><path d="M170.9,218.2 L176.9,214.2 L180.9,216.2" fill="none" stroke="#d85090" stroke-width="1.8" stroke-linecap="round"/><clipPath id="ra6"><polygon points="162.9,235.1 172.9,224.2 184.9,210.2 198.8,214.2 218.8,207.2 236.8,197.2 244.8,192.2 288.7,192.2 288.7,264.1 162.9,264.1"/></clipPath><g clip-path="url(#ra6)"><g transform="rotate(0 225.8 228.1)"><rect x="117.9" y="147.2" width="215.8" height="161.9" fill="#000" filter="url(#spZa)"/></g></g></g><rect x="38.7" y="86" width="24.4" height="19.0" fill="#050303"/><line x1="42.4" y1="100.2" x2="60.7" y2="90.8" stroke="#2a2020" stroke-width="0.9"/><rect x="168" y="90.8" width="12.2" height="14.2" fill="#050303"/><line x1="169.8" y1="101.5" x2="179.0" y2="94.3" stroke="#2a2020" stroke-width="0.9"/><rect x="38.7" y="162.8" width="24.4" height="19.2" fill="#050303"/><line x1="42.4" y1="177.2" x2="60.7" y2="167.6" stroke="#2a2020" stroke-width="0.9"/><rect x="168" y="167.5" width="12.2" height="14.3" fill="#050303"/><line x1="169.8" y1="178.2" x2="179.0" y2="171.1" stroke="#2a2020" stroke-width="0.9"/><rect x="38.7" y="240" width="24.4" height="19.7" fill="#050303"/><line x1="42.4" y1="254.8" x2="60.7" y2="244.9" stroke="#2a2020" stroke-width="0.9"/><rect x="168" y="245.8" width="11.8" height="13.9" fill="#050303"/><line x1="169.8" y1="256.2" x2="178.6" y2="249.3" stroke="#2a2020" stroke-width="0.9"/><rect x="232.3" y="107" width="55.2" height="1.6" fill="#909090"/><text x="260.8" y="100" font-size="7.9" text-anchor="middle" font-weight="bold" fill="#222">500μm</text><rect x="231.3" y="183.6" width="55" height="1.2" fill="#333"/><text x="259.2" y="176.6" font-size="7.9" text-anchor="middle" font-weight="bold" fill="#222">500μm</text><rect x="257.3" y="260.6" width="30.2" height="1.2" fill="#222"/><text x="273.3" y="255.8" font-size="7.9" text-anchor="middle" font-weight="bold" fill="#222">50μm</text><path d="M45.4,137 L58.9,137 M45.4,138 L34.5,184 M58.5,141 L157,187.5" stroke="#555" stroke-width="0.6" stroke-dasharray="2.5 1.8" fill="none"/><path d="M217.8,123.5 L228,123.5 L251,152 M217.8,123.5 L164,187.5 M251,152 L287.5,187.5" stroke="#555" stroke-width="0.6" stroke-dasharray="2.5 1.8" fill="none"/><text x="294.5" y="45" font-size="6.9" fill="#000">Expression</text><rect x="299.5" y="50" width="5.5" height="53.7" fill="url(#vir)"/><text x="307" y="58.2" font-size="6.6" fill="#000">max</text><text x="307" y="107.8" font-size="6.6" fill="#000">min</text><circle cx="301.6" cy="129" r="3.6" fill="#e0409f"/><text x="312" y="131.9" font-size="8.1" fill="#111">Il6</text><circle cx="301.6" cy="141.1" r="3.6" fill="#3db5e6"/><text x="312" y="144.0" font-size="8.1" fill="#111">Il10</text><circle cx="301.6" cy="151.8" r="3.6" fill="#a77bf5"/><text x="312" y="154.70000000000002" font-size="8.1" fill="#111">Il33</text><circle cx="301.6" cy="162" r="3.6" fill="#4a86f7"/><text x="312" y="164.9" font-size="8.1" fill="#111">Il17a</text><circle cx="301.6" cy="173.3" r="3.6" fill="#ff9933"/><text x="312" y="176.20000000000002" font-size="8.1" fill="#111">Cxcl10</text><circle cx="301.6" cy="185.1" r="3.6" fill="#d4c21a"/><text x="312" y="188.0" font-size="8.1" fill="#111">Cxcl12</text><circle cx="301.6" cy="197.2" r="3.6" fill="#7fe03a"/><text x="312" y="200.1" font-size="8.1" fill="#111">Cxcl14</text><circle cx="301.6" cy="208.8" r="3.6" fill="#f76a6a"/><text x="312" y="211.70000000000002" font-size="8.1" fill="#111">Cxcl1</text><circle cx="301.6" cy="220.6" r="3.6" fill="#b87ba0"/><text x="312" y="223.5" font-size="8.1" fill="#111">Tgfb1</text><circle cx="301.6" cy="232.4" r="3.6" fill="#4df0b8"/><text x="312" y="235.3" font-size="8.1" fill="#111">Tnf</text><text x="351.4" y="11.4" font-size="16.8" font-weight="bold" fill="#000">B</text><text x="380.7" y="20.2" font-size="11.1" fill="#2f4fa8">Glycolysis pathway</text><text x="446.5" y="36" font-size="9.8" text-anchor="middle" fill="#000">E-con</text><text x="574.8" y="36" font-size="9.7" text-anchor="middle" fill="#000">E-Yd1</text><rect x="365.6" y="39.2" width="14.6" height="231" fill="#fff" stroke="#333" stroke-width="0.7"/><line x1="365.6" y1="113.8" x2="380.2" y2="113.8" stroke="#333" stroke-width="0.7"/><text x="376.4" y="79" font-size="9.8" text-anchor="middle" fill="#000" transform="rotate(-90 376.4 79)">Heatmap</text><text x="376.4" y="200.5" font-size="9.7" text-anchor="middle" fill="#000" transform="rotate(-90 376.4 200.5)">Molecular feature</text><clipPath id="cb1"><rect x="380.4" y="39" width="127.6" height="74.6"/></clipPath><clipPath id="tb1"><polygon points="380.2,65.5 383.3,64.4 386.4,63.5 388.7,62.5 391.6,61.1 395.2,62.9 398.8,63.0 402.7,64.1 405.5,62.5 408.7,62.1 412.6,61.0 414.1,59.6 416.7,57.1 419.3,54.4 422.3,54.9 424.1,53.6 427.5,53.2 430.4,53.6 433.2,55.2 436.3,55.8 438.6,54.8 442.6,53.7 445.8,52.4 448.9,51.9 451.5,51.4 454.4,50.6 457.0,51.2 459.6,49.1 463.1,47.0 465.5,44.4 467.9,43.9 471.2,41.6 473.1,40.6 475.9,39.1 477.8,37.0 481.5,36.1 484.2,33.9 487.1,33.3 488.8,34.2 491.8,34.2 494.4,34.3 497.5,33.7 499.0,33.6 502.1,34.7 505.6,34.3 507.2,34.6 509.7,33.5 513.3,33.8 515.4,33.6 514.9,36.1 514.9,38.5 514.9,41.4 515.6,44.4 516.0,47.5 515.6,49.8 514.9,51.7 516.0,55.5 515.3,58.1 516.1,59.8 514.9,62.3 515.0,64.8 515.6,67.7 516.1,70.7 515.6,73.7 515.7,76.6 515.0,78.5 513.3,80.1 510.7,80.2 508.1,81.9 506.0,81.8 504.3,82.8 501.1,84.7 499.2,85.2 496.5,86.8 493.4,88.1 492.1,88.8 488.7,89.7 487.3,90.7 483.3,91.6 480.9,93.2 477.7,94.3 475.4,95.8 473.4,95.7 470.6,96.5 467.7,98.1 465.0,99.6 463.8,100.4 460.4,101.2 457.8,102.2 454.3,103.3 452.0,104.4 448.3,105.5 446.2,105.5 444.2,106.7 440.8,107.0 438.9,109.0 436.0,109.1 432.7,111.7 430.8,113.2 427.2,114.5 424.5,115.4 422.8,115.5 419.7,115.3 416.9,115.1 414.1,114.8 411.3,115.4 409.4,115.0 407.3,114.6 403.9,115.5 401.5,114.9 399.7,114.9 396.5,114.6 393.2,115.0 391.8,115.4 389.3,115.0 386.2,115.0 383.5,115.0 381.2,114.7 377.7,115.0 378.0,111.7 378.4,109.3 378.2,107.2 378.1,104.0 378.3,101.8 378.8,99.7 379.3,97.1 379.2,93.6 379.7,91.4 380.0,88.4 379.7,86.9 379.6,83.7 380.2,81.0 379.9,78.5 380.6,75.7 380.6,72.9 380.5,70.8 380.5,67.6"/></clipPath><clipPath id="eb1"><polygon points="380.4,65.6 392.3,61.6 402.1,63.6 411.9,61.6 418.9,54.8 427.7,53.3 435.7,55.3 445.5,52.7 457.3,50.8 465.3,44.8 473.2,39.9 481.1,36.0 483.8,34.0 482.8,41.1 480.0,43.2 472.2,47.1 464.3,52.0 456.3,57.9 444.5,59.9 434.7,62.4 426.7,60.5 417.9,61.9 410.9,68.8 401.1,70.7 391.3,68.8 379.4,72.8"/><polygon points="515.6,78.5 508.4,81.4 498.8,85.3 486.9,91.2 475.1,95.2 463.2,100.1 451.5,104.0 435.7,109.3 427.5,114.9 424.4,105.7 432.6,100.1 448.4,94.8 460.2,90.9 472.0,86.0 483.8,82.0 495.7,76.1 505.3,72.2 512.5,69.3"/></clipPath><rect x="380.4" y="39" width="127.6" height="74.6" fill="#efe5e6"/><g clip-path="url(#cb1)"><g clip-path="url(#tb1)"><g transform="rotate(-22 444.2 76.3)"><rect x="335.4" y="-6" width="217.6" height="164.6" fill="#000" filter="url(#pk1)"/></g><polygon points="513.5,63.7 486.9,74.9 467.4,83.6 445.9,92.3 433.6,100.5 425.5,114.9 427.5,114.9 435.7,109.3 451.5,104.0 463.2,100.1 475.1,95.2 486.9,91.2 498.8,85.3 508.4,81.4 515.6,78.5" fill="#fcf0f5" opacity="0.38"/><path d="M511.5,68.8 L488.9,80.1 L470.5,88.2 L450.0,96.4 L437.7,105.7" stroke="#e0609c" stroke-width="0.9" fill="none" opacity="0.5"/><path d="M509.4,73.9 L491.0,84.2 L472.6,92.3 L454.1,100.5 L441.8,108.7" stroke="#e0609c" stroke-width="0.9" fill="none" opacity="0.5"/><polygon points="407.0,69.8 439.8,60.6 470.5,50.4 501.2,41.1 507.4,55.5 482.8,68.8 452.1,81.1 425.5,91.3 409.1,86.2" fill="#d63a82" opacity="0.28" filter="url(#blr)"/><g transform="rotate(-22 444.2 76.3)"><rect x="335.4" y="-6" width="217.6" height="164.6" fill="#000" filter="url(#htB1)"/></g><g clip-path="url(#eb1)"><g transform="rotate(-22 444.2 76.3)"><rect x="335.4" y="-6" width="217.6" height="164.6" fill="#000" filter="url(#htB1e)"/></g></g><polygon points="513.5,63.7 486.9,74.9 467.4,83.6 445.9,92.3 433.6,100.5 425.5,114.9 428.0,114.9 436.7,101.6 447.5,94.2 468.5,85.4 487.9,77.0 513.5,65.7" fill="#fbf3f6" opacity="0.55"/><path d="M474.6,56.5 L452.1,65.7 L431.6,71.9 L411.1,76.0" stroke="#fbf3f6" stroke-width="1.1" fill="none" opacity="0.6"/><path d="M501.2,59.6 L482.8,66.7 L466.4,74.9" stroke="#fbf3f6" stroke-width="1.1" fill="none" opacity="0.6"/><path d="M441.8,61.6 L429.6,63.7 L419.3,68.8" stroke="#fbf3f6" stroke-width="1.1" fill="none" opacity="0.6"/></g><path d="M380.2,65.9 L383.5,64.8 L386.4,64.1 L388.9,63.3 L391.8,62.2 L395.1,62.5 L398.8,63.9 L401.7,63.9 L405.5,64.0 L408.7,62.8 L412.4,61.8 L414.6,59.8 L416.2,57.3 L418.7,55.7 L423.0,54.8 L427.9,53.8 L431.8,54.5 L435.2,55.6 L439.2,55.0 L442.1,54.3 L445.5,53.2 L449.8,52.9 L453.1,52.1 L457.3,51.8 L460.2,49.2 L463.1,47.1 L465.2,45.7 L467.6,43.8 L470.1,42.4 L473.4,40.6 L477.5,38.4 L481.3,36.8 L483.8,34.6" fill="none" stroke="#f2dc20" stroke-width="3.2" stroke-linejoin="round" /></g><clipPath id="cb2"><rect x="510" y="39" width="128.5" height="74.4"/></clipPath><clipPath id="tb2"><polygon points="507.6,118.9 508.5,116.8 509.6,113.8 511.4,111.1 512.2,109.1 512.4,106.4 513.2,103.6 514.6,101.1 515.3,99.3 514.7,95.9 516.1,94.2 517.6,91.4 519.8,89.2 522.6,86.6 523.5,84.1 526.5,82.6 529.1,81.0 532.5,79.2 535.1,79.2 537.5,78.3 540.9,78.7 542.3,78.6 545.6,78.3 548.8,77.2 551.1,76.8 552.4,75.5 555.2,74.2 558.0,73.9 560.3,72.2 562.0,70.5 564.2,68.0 565.7,65.9 567.2,64.1 568.4,61.6 568.4,58.6 569.7,56.4 571.6,54.0 573.3,50.9 574.5,48.7 575.1,46.5 577.7,44.6 581.1,43.7 584.5,42.4 587.1,40.9 589.3,39.5 594.2,37.9 596.9,37.4 599.0,38.6 600.9,38.2 604.5,38.3 606.9,38.0 610.0,37.7 612.2,38.2 614.8,37.9 616.3,38.4 619.3,38.4 622.8,38.4 624.5,38.5 627.1,37.7 629.9,38.2 632.6,38.1 634.8,38.3 637.2,38.1 639.3,37.4 643.1,37.6 645.0,37.3 643.5,39.7 640.4,41.6 639.6,44.3 636.4,46.3 634.5,47.3 633.2,49.4 630.7,51.2 629.0,52.7 628.0,54.2 624.7,56.0 623.3,58.1 621.9,59.2 619.6,61.9 618.2,63.8 615.8,66.0 613.1,68.1 611.8,69.6 609.2,71.3 607.6,72.7 606.4,75.4 603.7,76.2 602.5,78.1 599.8,80.6 598.3,82.4 596.0,83.9 594.6,86.0 591.7,87.6 590.6,88.9 587.4,89.9 586.7,91.8 584.1,93.6 581.0,95.4 579.5,97.1 576.7,99.9 574.5,100.6 571.5,103.6 569.9,104.3 568.2,107.2 565.8,108.1 563.7,110.4 562.5,111.7 560.5,114.4 558.2,115.8 555.4,117.9 553.3,118.1 550.1,117.4 547.4,117.8 544.8,117.9 542.6,117.6 539.6,118.5 537.3,117.3 534.8,118.2 532.0,118.4 529.8,118.1 526.0,117.7 524.0,117.4 521.3,118.1 519.0,118.2 516.3,117.6 513.5,117.8 511.0,117.3 507.5,118.2"/></clipPath><rect x="510" y="39" width="128.5" height="74.4" fill="#efe5e6"/><g clip-path="url(#cb2)"><path d="M512.6,76.3 L515.0,75.0 L518.2,74.7 L521.7,74.0 L524.3,74.0 L528.1,72.8 L530.1,72.2 L533.7,70.3 L537.3,70.5 L539.7,68.3 L541.4,66.0 L545.0,63.9 L546.8,60.9 L548.8,59.1 L551.6,57.2 L553.0,54.4 L554.7,51.8 L557.9,47.8 L560.9,45.7 L563.8,43.4 L565.5,41.0 L569.4,39.0" fill="none" stroke="#e86aa0" stroke-width="0.9" opacity="0.85"/><path d="M509.4,66.2 L514.5,65.2 L518.2,65.5 L521.5,64.0 L523.7,60.8 L529.0,61.4 L533.0,60.7 L535.2,59.8 L537.5,58.2 L541.4,54.6 L542.7,52.7 L546.9,49.7 L548.4,47.1 L551.2,43.7 L555.1,41.0" fill="none" stroke="#f0a0c0" stroke-width="0.9" opacity="0.85"/><path d="M514.8,54.1 L517.5,53.7 L522.8,55.8 L525.6,53.0 L528.6,51.5 L532.7,50.7 L536.5,51.1 L540.1,49.0 L543.5,45.2 L544.7,41.7 L546.9,39.0" fill="none" stroke="#e86aa0" stroke-width="0.6" opacity="0.85"/><path d="M519.8,80.0 L523.1,79.4 L526.6,77.7 L528.7,78.2 L532.1,76.5 L536.4,75.0 L539.2,73.3 L542.0,70.9 L545.0,70.3 L546.9,67.6 L549.2,63.9 L551.4,62.2 L553.0,59.5" fill="none" stroke="#f0a0c0" stroke-width="0.6" opacity="0.85"/><path d="M526.0,58.8 L528.3,62.0 L529.8,65.5 L535.3,65.1 L539.1,63.1 L543.8,66.6" fill="none" stroke="#e86aa0" stroke-width="0.6" opacity="0.85"/><path d="M512.2,82.4 L516.1,82.2 L519.6,81.7 L522.0,80.4 L527.1,80.2 L530.1,78.3 L532.5,77.5 L535.7,77.0 L538.7,75.9" fill="none" stroke="#f0a0c0" stroke-width="0.6" opacity="0.85"/><path d="M510.5,73.3 L513.4,71.7 L516.0,71.7 L520.2,71.2 L523.4,70.5 L526.7,69.9 L530.5,68.7" fill="none" stroke="#e86aa0" stroke-width="0.6" opacity="0.85"/><path d="M534.3,56.9 L537.9,57.8 L540.8,59.3 L543.1,56.4 L546.9,53.3" fill="none" stroke="#f0a0c0" stroke-width="0.6" opacity="0.85"/><g clip-path="url(#tb2)"><g transform="rotate(-42 574.2 76.2)"><rect x="465" y="-6" width="218.5" height="164.4" fill="#000" filter="url(#pk2)"/></g><g transform="rotate(-42 574.2 76.2)"><rect x="465" y="-6" width="218.5" height="164.4" fill="#000" filter="url(#htB2)"/></g><path d="M641.1,35.4 L639.0,33.9 L632.9,39.8 L619.3,51.7 L607.5,63.5 L593.7,76.4 L579.8,88.2 L566.0,99.0 L549.9,113.8" fill="none" stroke="#fbf3f6" stroke-width="1.2" opacity="0.75"/><path d="M581.7,51.3 L571.4,63.6 L559.2,75.9 L544.8,86.1" stroke="#fbf3f6" stroke-width="0.9" fill="none" opacity="0.55"/><path d="M600.1,49.2 L587.8,63.6 L573.5,77.9" stroke="#fbf3f6" stroke-width="0.9" fill="none" opacity="0.55"/><path d="M563.2,80.0 L551.0,92.2 L536.6,100.4" stroke="#fbf3f6" stroke-width="0.9" fill="none" opacity="0.55"/></g><path d="M508.1,119.2 L510.4,114.3 L511.3,110.9 L511.5,107.1 L513.6,104.0 L514.6,100.0 L515.1,96.8 L516.2,93.9 L517.5,90.9 L519.8,89.3 L522.3,85.8 L524.3,83.3 L526.7,81.6 L528.6,80.9 L531.5,78.4 L535.9,79.2 L538.5,79.3 L542.3,78.9 L545.4,79.3 L548.9,78.1 L552.2,76.0 L554.5,74.6 L557.2,73.2 L560.0,71.2 L562.3,68.7 L565.4,65.6 L567.5,62.8 L568.3,59.9 L570.2,56.4 L572.0,53.4 L573.8,50.3 L574.9,46.2 L578.8,44.5 L581.8,42.4 L585.5,42.0 L589.0,40.3 L594.0,38.0" fill="none" stroke="#f2dc20" stroke-width="3.4" stroke-linejoin="round" stroke-linecap="round"/></g><clipPath id="cb3"><rect x="380.4" y="115.6" width="127.6" height="74.6"/></clipPath><clipPath id="tb3"><polygon points="379.8,142.1 382.8,141.6 386.4,139.6 388.7,139.6 391.8,138.6 395.7,138.9 399.3,139.7 402.2,140.0 405.0,139.0 408.6,138.7 412.3,137.9 414.1,136.6 416.8,133.9 419.2,132.0 421.4,131.3 424.2,130.1 427.8,129.7 430.4,130.2 432.7,131.1 435.9,132.2 439.0,130.8 442.9,130.6 445.6,129.4 448.0,128.4 450.8,129.0 454.8,127.2 457.6,127.2 460.2,125.3 462.4,122.8 464.8,121.3 468.2,119.3 470.5,118.8 472.6,116.4 476.3,115.4 479.1,114.1 481.3,112.2 483.7,110.6 487.0,110.8 488.9,111.1 491.9,110.9 493.9,110.2 497.2,110.5 499.3,111.2 503.0,110.8 505.7,110.9 507.6,110.0 510.4,111.2 513.0,110.9 515.4,109.9 515.6,113.0 515.7,116.5 516.2,119.0 515.8,121.1 515.6,124.3 514.9,125.6 515.0,128.8 516.3,132.1 515.7,134.8 515.9,137.2 515.2,138.8 515.2,142.5 516.1,144.8 515.1,147.1 515.2,150.0 515.9,153.0 515.7,154.9 513.0,155.7 510.2,156.4 507.9,158.6 506.0,159.6 503.6,159.6 500.9,160.9 499.0,161.6 496.7,162.4 494.3,163.8 491.1,165.9 489.6,166.2 486.2,168.1 484.5,168.2 481.7,170.2 477.7,170.2 475.4,171.6 472.4,173.5 469.8,173.5 468.1,175.4 465.0,175.1 462.6,176.4 460.1,177.7 457.2,178.2 454.5,179.2 451.2,180.0 448.2,181.4 446.1,182.6 444.2,183.6 440.4,184.5 438.5,185.4 435.0,185.6 433.6,188.4 429.7,189.2 427.0,191.2 425.5,191.3 422.3,192.1 420.2,191.1 417.4,191.2 414.1,191.4 412.5,191.4 410.0,191.5 406.2,192.1 403.6,192.1 401.5,191.9 399.7,191.0 397.1,190.8 393.2,190.9 391.0,191.5 388.3,191.8 386.1,191.5 382.9,190.9 381.2,191.9 379.0,191.5 377.8,188.8 378.5,186.3 378.7,183.5 378.4,181.2 378.5,178.2 378.7,176.2 379.2,173.4 378.5,170.8 379.4,168.5 379.7,165.6 379.1,162.5 379.4,160.7 379.3,157.6 380.2,155.3 380.0,152.5 380.1,150.0 380.6,147.9 379.9,144.4"/></clipPath><clipPath id="eb3"><polygon points="380.4,142.2 392.3,138.2 402.1,140.2 411.9,138.2 418.9,131.4 427.7,129.9 435.7,131.9 445.5,129.3 457.3,127.4 465.3,121.4 473.2,116.5 481.1,112.6 483.8,110.6 482.8,117.7 480.0,119.8 472.2,123.7 464.3,128.6 456.3,134.5 444.5,136.5 434.7,139.0 426.7,137.1 417.9,138.5 410.9,145.4 401.1,147.3 391.3,145.4 379.4,149.4"/></clipPath><rect x="380.4" y="115.6" width="127.6" height="74.6" fill="#efe5e6"/><g clip-path="url(#cb3)"><g clip-path="url(#tb3)"><g transform="rotate(-22 444.2 152.9)"><rect x="335.4" y="70.6" width="217.6" height="164.6" fill="#000" filter="url(#pk3)"/></g><polygon points="513.5,140.3 486.9,151.5 467.4,160.2 445.9,168.9 433.6,177.1 425.5,191.5 427.5,191.5 435.7,185.9 451.5,180.6 463.2,176.7 475.1,171.8 486.9,167.8 498.8,161.9 508.4,158.0 515.6,155.1" fill="#fcf0f5" opacity="0.38"/><path d="M511.5,145.4 L488.9,156.7 L470.5,164.8 L450.0,173.0 L437.7,182.3" stroke="#e0609c" stroke-width="0.9" fill="none" opacity="0.5"/><path d="M509.4,150.5 L491.0,160.8 L472.6,168.9 L454.1,177.1 L441.8,185.3" stroke="#e0609c" stroke-width="0.9" fill="none" opacity="0.5"/><polygon points="407.0,146.4 439.8,137.2 470.5,127.0 501.2,117.7 507.4,132.1 482.8,145.4 452.1,157.7 425.5,167.9 409.1,162.8" fill="#d63a82" opacity="0.28" filter="url(#blr)"/><g transform="rotate(-10 444.2 152.9)"><rect x="335.4" y="70.6" width="217.6" height="164.6" fill="#000" filter="url(#spB)"/></g><g clip-path="url(#eb3)"><g transform="rotate(-22 444.2 152.9)"><rect x="335.4" y="70.6" width="217.6" height="164.6" fill="#000" filter="url(#spBe)"/></g></g><polygon points="513.5,140.3 486.9,151.5 467.4,160.2 445.9,168.9 433.6,177.1 425.5,191.5 428.0,191.5 436.7,178.2 447.5,170.8 468.5,162.0 487.9,153.6 513.5,142.3" fill="#fbf3f6" opacity="0.55"/><path d="M474.6,133.1 L452.1,142.3 L431.6,148.5 L411.1,152.6" stroke="#fbf3f6" stroke-width="1.1" fill="none" opacity="0.6"/><path d="M501.2,136.2 L482.8,143.3 L466.4,151.5" stroke="#fbf3f6" stroke-width="1.1" fill="none" opacity="0.6"/><path d="M441.8,138.2 L429.6,140.3 L419.3,145.4" stroke="#fbf3f6" stroke-width="1.1" fill="none" opacity="0.6"/></g></g><clipPath id="cb4"><rect x="510" y="115.7" width="128.5" height="74.4"/></clipPath><clipPath id="tb4"><polygon points="508.1,196.1 508.9,193.3 510.6,190.5 511.1,188.3 512.0,184.8 511.8,183.7 513.4,180.1 514.2,177.5 514.4,175.4 515.0,172.5 516.2,170.7 517.8,168.2 520.7,164.8 521.7,162.4 524.2,160.3 526.5,158.4 529.6,157.5 531.7,155.9 534.2,155.2 538.0,155.0 539.7,154.8 543.2,155.9 545.1,155.4 548.0,154.2 550.1,153.3 552.4,153.0 554.8,151.5 557.8,150.6 559.6,148.5 562.2,146.0 563.2,144.2 565.9,142.4 566.6,139.5 567.4,138.0 568.7,135.3 569.9,132.8 571.0,131.2 573.0,127.9 573.8,125.7 575.6,122.0 577.8,122.0 580.8,120.1 583.3,119.6 586.2,118.0 589.7,116.8 593.8,114.3 596.8,114.3 599.3,115.3 602.3,114.9 604.3,114.2 607.2,115.3 609.1,114.0 611.9,114.6 614.9,115.0 616.9,114.7 619.5,114.9 622.3,114.9 624.3,115.1 626.6,114.3 629.9,114.0 632.5,114.4 634.7,114.1 637.3,114.8 639.4,115.2 643.3,114.7 645.2,115.1 643.3,116.9 641.0,118.7 638.8,120.0 637.5,122.5 634.4,124.4 633.9,125.6 631.8,127.0 629.5,129.5 627.2,130.5 624.9,132.6 623.2,134.4 621.6,136.0 619.4,137.7 617.8,140.7 615.3,141.9 613.8,144.2 612.1,146.5 609.6,147.9 607.8,149.9 605.7,151.7 603.6,153.8 601.8,154.8 600.0,156.9 597.6,159.0 596.4,160.4 593.7,162.4 592.4,164.3 590.6,165.0 588.0,167.1 585.8,168.7 583.8,171.1 581.6,172.0 579.0,174.8 576.6,175.9 574.3,178.2 571.9,179.3 569.4,181.1 568.4,182.9 565.9,185.0 564.6,187.6 561.5,188.5 559.7,190.4 558.1,193.3 555.9,194.8 553.4,195.2 550.6,194.8 547.5,194.4 544.7,194.6 542.9,194.1 540.0,194.8 537.1,195.2 534.1,194.3 532.7,195.2 529.3,194.1 526.4,194.4 523.8,194.5 521.1,195.1 518.0,195.0 515.8,195.2 513.9,195.1 510.7,195.1 507.4,194.3"/></clipPath><rect x="510" y="115.7" width="128.5" height="74.4" fill="#efe5e6"/><g clip-path="url(#cb4)"><path d="M512.6,153.0 L515.0,151.7 L518.2,151.4 L521.7,150.7 L524.3,150.7 L528.1,149.5 L530.1,148.9 L533.7,147.0 L537.3,147.2 L539.7,145.0 L541.4,142.7 L545.0,140.6 L546.8,137.6 L548.8,135.8 L551.6,133.9 L553.0,131.1 L554.7,128.5 L557.9,124.5 L560.9,122.4 L563.8,120.1 L565.5,117.7 L569.4,115.7" fill="none" stroke="#e86aa0" stroke-width="0.9" opacity="0.85"/><path d="M509.4,142.9 L514.5,141.9 L518.2,142.2 L521.5,140.7 L523.7,137.5 L529.0,138.1 L533.0,137.4 L535.2,136.5 L537.5,134.9 L541.4,131.3 L542.7,129.4 L546.9,126.4 L548.4,123.8 L551.2,120.4 L555.1,117.7" fill="none" stroke="#f0a0c0" stroke-width="0.9" opacity="0.85"/><path d="M514.8,130.8 L517.5,130.4 L522.8,132.5 L525.6,129.7 L528.6,128.2 L532.7,127.4 L536.5,127.8 L540.1,125.7 L543.5,121.9 L544.7,118.4 L546.9,115.7" fill="none" stroke="#e86aa0" stroke-width="0.6" opacity="0.85"/><path d="M519.8,156.7 L523.1,156.1 L526.6,154.4 L528.7,154.9 L532.1,153.2 L536.4,151.7 L539.2,150.0 L542.0,147.6 L545.0,147.0 L546.9,144.3 L549.2,140.6 L551.4,138.9 L553.0,136.2" fill="none" stroke="#f0a0c0" stroke-width="0.6" opacity="0.85"/><path d="M526.0,135.5 L528.3,138.7 L529.8,142.2 L535.3,141.8 L539.1,139.8 L543.8,143.3" fill="none" stroke="#e86aa0" stroke-width="0.6" opacity="0.85"/><path d="M512.2,159.1 L516.1,158.9 L519.6,158.4 L522.0,157.1 L527.1,156.9 L530.1,155.0 L532.5,154.2 L535.7,153.7 L538.7,152.6" fill="none" stroke="#f0a0c0" stroke-width="0.6" opacity="0.85"/><path d="M510.5,150.0 L513.4,148.4 L516.0,148.4 L520.2,147.9 L523.4,147.2 L526.7,146.6 L530.5,145.4" fill="none" stroke="#e86aa0" stroke-width="0.6" opacity="0.85"/><path d="M534.3,133.6 L537.9,134.5 L540.8,136.0 L543.1,133.1 L546.9,130.0" fill="none" stroke="#f0a0c0" stroke-width="0.6" opacity="0.85"/><g clip-path="url(#tb4)"><g transform="rotate(-42 574.2 152.9)"><rect x="465" y="70.7" width="218.5" height="164.4" fill="#000" filter="url(#pk4)"/></g><g transform="rotate(-15 574.2 152.9)"><rect x="465" y="70.7" width="218.5" height="164.4" fill="#000" filter="url(#spB4b)"/></g><clipPath id="ub4"><polygon points="508.0,195.6 510.0,190.5 516.1,170.5 523.9,160.4 531.8,155.4 545.7,155.4 557.6,150.4 565.6,142.5 571.4,130.7 575.5,122.6 589.4,116.7 594.0,114.7 612.4,114.7 596.0,134.1 581.7,146.4 563.2,162.8 544.8,177.1 532.5,195.6 508.0,195.6"/></clipPath><g clip-path="url(#ub4)"><g transform="rotate(-30 574.2 152.9)"><rect x="465" y="70.7" width="218.5" height="164.4" fill="#000" filter="url(#spB4)"/></g></g><path d="M641.1,112.1 L639.0,110.6 L632.9,116.5 L619.3,128.4 L607.5,140.2 L593.7,153.1 L579.8,164.9 L566.0,175.7 L549.9,190.5" fill="none" stroke="#fbf3f6" stroke-width="1.2" opacity="0.75"/><path d="M581.7,128.0 L571.4,140.3 L559.2,152.6 L544.8,162.8" stroke="#fbf3f6" stroke-width="0.9" fill="none" opacity="0.55"/><path d="M600.1,125.9 L587.8,140.3 L573.5,154.6" stroke="#fbf3f6" stroke-width="0.9" fill="none" opacity="0.55"/><path d="M563.2,156.7 L551.0,168.9 L536.6,177.1" stroke="#fbf3f6" stroke-width="0.9" fill="none" opacity="0.55"/></g></g><clipPath id="cb5"><rect x="380.4" y="193.8" width="126.8" height="75.6"/></clipPath><g clip-path="url(#cb5)"><g transform="rotate(-6 443.8 231.6)"><rect x="335.4" y="148.8" width="216.8" height="165.6" fill="#000" filter="url(#zb1)"/></g><g transform="rotate(10 443.8 231.6)"><rect x="335.4" y="148.8" width="216.8" height="165.6" fill="#000" filter="url(#zpale)"/></g><g transform="rotate(-14 443.8 231.6)"><rect x="335.4" y="148.8" width="216.8" height="165.6" fill="#000" filter="url(#zgap)"/></g><g transform="rotate(-4 443.8 231.6)"><rect x="335.4" y="148.8" width="216.8" height="165.6" fill="#000" filter="url(#zdark)"/></g><polygon points="408.8,193.8 485.9,193.8 481.8,197.5 465.6,199.6 441.3,199.6 421.0,198.0 410.8,195.4" fill="#ece2e4"/><clipPath id="pb5"><polygon points="380.4,200.6 410.8,202.2 441.3,202.7 471.7,202.7 492.0,200.1 507.2,197.0 507.2,213.8 492.0,216.9 471.7,220.6 441.3,221.1 410.8,220.1 380.4,219.5"/></clipPath><g clip-path="url(#pb5)"><g transform="rotate(0 443.8 231.6)"><rect x="335.4" y="148.8" width="216.8" height="165.6" fill="#000" filter="url(#epi2)"/></g></g><path d="M380.4,200.1 L410.8,201.6 L441.3,202.2 L471.7,202.2 L492.0,199.7 L507.2,196.5" fill="none" stroke="#d8508c" stroke-width="1.6"/><path d="M380.4,220.6 L410.8,221.1 L441.3,222.2 L471.7,221.6 L492.0,218.0 L507.2,214.8" fill="none" stroke="#faf0f4" stroke-width="1.2" opacity="0.85"/><clipPath id="qb5"><polygon points="380.4,200.6 410.8,202.2 441.3,202.7 471.7,202.7 492.0,200.1 507.2,197.0 507.2,213.8 492.0,216.9 471.7,220.6 441.3,221.1 410.8,220.1 380.4,219.5"/></clipPath><g clip-path="url(#qb5)"><g transform="rotate(0 443.8 231.6)"><rect x="335.4" y="148.8" width="216.8" height="165.6" fill="#000" filter="url(#spZ)"/></g></g><g transform="rotate(0 443.8 231.6)"><rect x="335.4" y="148.8" width="216.8" height="165.6" fill="#000" filter="url(#spZa)"/></g></g><clipPath id="cb6"><rect x="511" y="194" width="127" height="75.8"/></clipPath><g clip-path="url(#cb6)"><g transform="rotate(-38 574.5 231.9)"><rect x="466" y="149" width="217" height="165.8" fill="#000" filter="url(#zb2)"/></g><g transform="rotate(-30 574.5 231.9)"><rect x="466" y="149" width="217" height="165.8" fill="#000" filter="url(#zpale2)"/></g><g transform="rotate(-42 574.5 231.9)"><rect x="466" y="149" width="217" height="165.8" fill="#000" filter="url(#zgap)"/></g><g transform="rotate(-36 574.5 231.9)"><rect x="466" y="149" width="217" height="165.8" fill="#000" filter="url(#zdark2)"/></g><polygon points="510.9,193.8 513.4,194.6 516.3,194.0 520.7,193.3 523.2,194.2 525.4,193.8 529.5,193.9 532.5,193.4 534.8,193.3 538.2,194.7 541.4,194.5 544.1,194.4 546.6,193.6 550.6,194.4 553.2,193.3 556.0,193.5 559.0,194.5 561.9,194.7 566.0,193.3 568.3,194.0 570.7,193.9 569.4,195.5 566.3,197.6 563.5,201.0 559.9,201.3 556.7,204.1 553.6,205.1 551.3,208.4 548.7,209.4 546.5,210.7 543.9,212.7 541.4,215.8 537.5,214.4 535.4,212.9 531.8,213.5 529.9,211.3 526.1,214.4 522.0,215.6 518.3,216.9 515.3,218.4 511.4,218.6 510.8,216.7 511.1,212.9 510.8,210.6 511.1,205.8 511.5,203.2 510.9,199.8 510.9,196.9" fill="#efe6e8"/><path d="M511.0,200.1 L518.3,197.0 L527.0,195.5 L532.8,197.8 L537.1,203.1 L540.0,209.2" fill="none" stroke="#a02870" stroke-width="2.0" stroke-linecap="round"/><path d="M527.0,194.0 L532.8,197.0 L541.5,198.5 L547.3,195.5" fill="none" stroke="#b03880" stroke-width="1.5" stroke-linecap="round"/><path d="M512.5,216.7 L516.8,209.2 L521.2,201.6 L524.1,195.5" fill="none" stroke="#b84888" stroke-width="1.3" stroke-linecap="round"/><path d="M531.3,201.6 L537.1,200.1 L542.9,201.6" fill="none" stroke="#e890b8" stroke-width="2.2" stroke-linecap="round"/><path d="M516.8,213.7 L521.2,210.7 L524.1,212.2" fill="none" stroke="#d85090" stroke-width="1.8" stroke-linecap="round"/><clipPath id="qb6"><polygon points="511.0,219.3 519.1,217.2 529.1,211.9 541.2,215.1 551.3,207.7 563.4,200.3 571.5,194.0 615.8,194.0 599.7,208.7 577.5,223.5 561.4,234.0 551.3,250.8 541.2,269.8 511.0,269.8"/></clipPath><g clip-path="url(#qb6)"><g transform="rotate(0 574.5 231.9)"><rect x="466" y="149" width="217" height="165.8" fill="#000" filter="url(#spZ)"/></g></g><clipPath id="rb6"><polygon points="511.0,219.3 519.1,217.2 529.1,211.9 541.2,215.1 551.3,207.7 563.4,200.3 571.5,194.0 638.0,194.0 638.0,269.8 511.0,269.8"/></clipPath><g clip-path="url(#rb6)"><g transform="rotate(0 574.5 231.9)"><rect x="466" y="149" width="217" height="165.8" fill="#000" filter="url(#spZa)"/></g></g></g><rect x="384" y="88.6" width="25.4" height="20.4" fill="#050303"/><line x1="387.8" y1="103.9" x2="406.9" y2="93.7" stroke="#2a2020" stroke-width="0.9"/><rect x="514.3" y="94.6" width="12.1" height="13.9" fill="#050303"/><line x1="516.1" y1="105.0" x2="525.2" y2="98.1" stroke="#2a2020" stroke-width="0.9"/><rect x="384" y="165.5" width="25.4" height="20.0" fill="#050303"/><line x1="387.8" y1="180.5" x2="406.9" y2="170.5" stroke="#2a2020" stroke-width="0.9"/><rect x="514.3" y="171.2" width="12.1" height="14.0" fill="#050303"/><line x1="516.1" y1="181.7" x2="525.2" y2="174.7" stroke="#2a2020" stroke-width="0.9"/><rect x="578" y="109" width="60" height="1.2" fill="#333"/><text x="611.6" y="101.6" font-size="8" text-anchor="middle" font-weight="bold" fill="#222">500μm</text><rect x="578" y="185.6" width="58" height="1.2" fill="#333"/><text x="611" y="178.5" font-size="8" text-anchor="middle" font-weight="bold" fill="#222">500μm</text><rect x="594" y="264.8" width="41" height="1.2" fill="#333"/><text x="616" y="258.5" font-size="8" text-anchor="middle" font-weight="bold" fill="#222">50μm</text><path d="M392,137 L400,137 M400,139 L509,193" stroke="#555" stroke-width="0.6" stroke-dasharray="2.5 1.8" fill="none"/><path d="M575,125 L586,125 L608,153 M575,125 L512,193 M608,153 L637,193" stroke="#555" stroke-width="0.6" stroke-dasharray="2.5 1.8" fill="none"/><text x="642.8" y="43.4" font-size="6.9" fill="#000">Expression</text><rect x="648.5" y="48.6" width="5.5" height="54" fill="url(#vir2)"/><text x="656.5" y="53.5" font-size="6.6" fill="#000">max</text><text x="656.5" y="103.5" font-size="6.6" fill="#000">min</text><circle cx="650.1" cy="125.7" r="3.6" fill="#b87ba0"/><text x="658.5" y="128.6" font-size="8.1" fill="#111">Pgk1</text><circle cx="650.1" cy="137.8" r="3.6" fill="#f0e868"/><text x="658.5" y="140.70000000000002" font-size="8.1" fill="#111">Pkm</text><circle cx="650.1" cy="149.4" r="3.6" fill="#7fe03a"/><text x="658.5" y="152.3" font-size="8.1" fill="#111">Hk1</text><circle cx="650.1" cy="160.5" r="3.6" fill="#d4c21a"/><text x="658.5" y="163.4" font-size="8.1" fill="#111">Pfkm</text><circle cx="650.1" cy="171.3" r="3.6" fill="#4a86f7"/><text x="658.5" y="174.20000000000002" font-size="8.1" fill="#111">Pfkp</text><circle cx="650.1" cy="182.4" r="3.6" fill="#3de8a8"/><text x="658.5" y="185.3" font-size="8.1" fill="#111">Aldoa</text><circle cx="650.1" cy="195.6" r="3.6" fill="#8b2a0a"/><text x="658.5" y="198.5" font-size="8.1" fill="#111">Pdk1</text><circle cx="650.1" cy="207.5" r="3.6" fill="#8db8f7"/><text x="658.5" y="210.4" font-size="8.1" fill="#111">Slc2a1</text><circle cx="650.1" cy="219.1" r="3.6" fill="#a77bf5"/><text x="658.5" y="222.0" font-size="8.1" fill="#111">Slc2a3</text><circle cx="650.1" cy="231" r="3.6" fill="#f76a6a"/><text x="658.5" y="233.9" font-size="8.1" fill="#111">Ldha</text><circle cx="650.1" cy="242.3" r="3.6" fill="#ff9933"/><text x="658.5" y="245.20000000000002" font-size="8.1" fill="#111">Ldhb</text><text x="2.6" y="298.6" font-size="16.8" font-weight="bold" fill="#000">C</text><text x="165.5" y="302.8" font-size="14.9" text-anchor="middle" font-weight="bold" fill="#000">immune_score</text><text x="76.5" y="338.2" font-size="10.2" text-anchor="middle" fill="#000">NE</text><text x="169" y="338.2" font-size="10.2" text-anchor="middle" fill="#000">E-con</text><text x="268.5" y="338.2" font-size="10.2" text-anchor="middle" fill="#000" letter-spacing="-0.45">E-Yd1</text><g filter="url(#um0)"><polygon points="35.9,388.7 37.7,385.6 38.3,383.7 39.4,382.0 40.0,379.3 42.4,378.2 43.7,376.0 44.6,375.3 46.5,374.8 49.6,372.6 50.6,372.5 54.1,372.5 55.3,372.7 56.1,374.6 57.8,377.2 57.8,379.0 58.2,381.5 58.6,383.1 59.0,386.1 58.4,387.7 58.5,390.9 56.2,391.6 56.0,393.6 55.2,394.6 53.6,396.4 51.4,397.8 50.7,399.6 49.1,401.4 47.3,403.1 46.2,402.8 43.2,402.5 43.3,400.5 42.3,397.9 41.2,397.0 39.9,395.0 38.6,393.0 37.2,392.1 37.8,390.1" fill="#d4d4d7"/><polygon points="60.7,366.9 60.9,364.2 63.4,363.7 64.7,361.6 66.8,361.2 68.9,359.7 70.3,361.4 72.4,363.7 74.5,363.3 75.6,363.1 76.9,363.0 79.9,363.1 82.2,363.5 83.3,365.3 83.8,366.7 83.3,368.7 83.0,371.7 82.6,372.4 81.1,374.9 79.0,376.7 76.8,377.3 74.1,378.3 73.1,377.9 71.0,379.4 68.7,379.9 67.0,379.7 65.1,378.9 63.1,378.2 62.8,376.0 61.2,375.0 60.3,372.8 59.6,370.4 60.3,368.0" fill="#d4d4d7"/><polygon points="57.5,378.4 59.5,378.6 61.7,377.9 62.6,379.1 64.8,378.4 67.7,378.8 69.3,378.9 70.9,378.2 72.7,379.0 74.5,378.6 76.5,377.4 78.5,377.9 79.8,376.8 82.4,377.2 84.2,378.3 86.1,378.9 87.5,379.3 89.5,380.0 91.5,380.5 91.8,382.3 94.4,384.3 95.2,385.7 93.6,386.9 91.9,388.3 90.8,389.8 89.2,389.4 87.7,389.1 85.7,387.5 84.2,388.2 82.5,387.2 80.3,387.2 78.6,388.3 75.9,388.1 74.8,390.0 71.9,389.0 70.5,387.3 68.5,387.5 67.4,386.4 65.1,386.4 63.4,386.8 61.7,387.7 59.5,386.1 57.6,383.2 58.0,381.3 57.4,380.0" fill="#d4d4d7"/><polygon points="73.9,388.1 76.0,387.6 77.5,387.5 80.6,387.6 82.3,386.2 83.8,386.7 85.2,386.9 87.0,388.4 89.7,388.6 91.5,388.2 91.1,390.8 91.9,393.2 92.3,394.2 91.4,396.9 90.7,398.1 90.1,399.9 90.2,402.9 87.5,402.7 85.8,403.6 85.0,402.2 83.8,399.7 83.2,397.9 80.7,398.1 79.8,398.1 76.9,399.3 76.1,397.0 75.3,394.5 75.7,392.3 74.5,390.2" fill="#d4d4d7"/><polygon points="72.9,405.4 75.0,404.3 76.8,403.0 78.4,404.5 77.3,406.0 74.8,406.5" fill="#d4d4d7"/><polygon points="65.9,396.3 68.8,394.4 69.4,396.6 71.4,398.4 69.4,399.1 67.4,399.8 66.9,397.5" fill="#d4d4d7"/><polygon points="42.6,387.0 43.4,385.1 44.5,384.1 45.1,381.8 45.8,380.3 47.4,380.2 49.9,378.6 51.6,378.4 52.3,379.7 53.6,381.6 53.3,383.6 52.4,385.5 52.9,387.5 51.0,388.4 49.0,390.4 48.4,392.4 44.6,394.0 43.8,391.5 43.2,388.8" fill="#fff"/><circle cx="65.5" cy="348.8" r="0.8" fill="#d4d4d7"/><circle cx="48.0" cy="358.2" r="0.8" fill="#d4d4d7"/><circle cx="94.4" cy="365.6" r="0.8" fill="#d4d4d7"/><circle cx="101.2" cy="394.7" r="0.8" fill="#d4d4d7"/><circle cx="42.5" cy="403.5" r="0.8" fill="#d4d4d7"/><circle cx="100.1" cy="393.4" r="0.8" fill="#d4d4d7"/></g><clipPath id="uc1"><polygon points="36.4,388.2 39.2,381.6 44.7,375.0 51.3,372.4 55.7,372.8 57.8,377.2 58.9,383.8 57.8,390.4 54.6,394.7 50.2,399.1 48.0,403.5 43.6,402.4 42.5,398.0 38.6,393.6"/><polygon points="60.0,366.3 64.4,361.9 68.8,360.1 72.1,363.0 77.6,363.6 82.4,363.0 84.1,367.4 82.4,372.8 78.6,376.1 74.3,377.7 68.8,379.9 63.3,377.7 60.0,372.8"/><polygon points="57.8,378.3 68.8,379.0 81.9,377.2 89.6,379.4 95.1,386.0 90.7,389.3 81.9,387.1 74.3,389.3 68.8,387.1 61.1,387.1 57.8,383.8"/><polygon points="74.3,388.6 81.9,386.6 91.1,388.6 91.8,394.7 89.6,402.4 85.2,403.5 83.0,398.0 77.6,399.1 75.4,394.7"/><polygon points="72.7,405.0 76.5,402.4 79.1,404.6 74.3,407.0"/><polygon points="65.5,395.8 68.8,394.7 71.4,398.0 67.7,399.3"/></clipPath><g clip-path="url(#uc1)"><g filter="url(#us1)" opacity="0.45"><polygon points="53.4,383.0 56.3,382.1 57.9,382.0 58.9,383.5 58.7,385.1 58.2,387.2 59.3,388.7 57.8,390.5 55.3,391.9 56.0,390.9 55.5,388.8 54.0,386.4 54.2,384.1" fill="#a88ae8"/><polygon points="76.0,389.4 76.6,390.5 78.7,389.2 81.3,389.5 83.5,389.3 85.5,389.3 86.9,390.1 87.4,392.0 87.9,392.8 88.6,395.5 88.2,396.9 86.9,397.9 85.0,398.6 83.0,398.8 80.2,398.2 77.2,398.0 76.7,395.9 77.1,393.9 75.4,392.2" fill="#a88ae8"/><polygon points="73.3,405.7 75.1,403.1 76.6,402.3 79.1,404.1 76.2,405.7 73.9,406.9" fill="#a88ae8"/><polygon points="75.2,365.0 76.3,365.0 78.2,364.3 79.9,364.2 81.9,363.9 83.0,366.4 82.9,368.8 83.9,370.1 81.4,372.0 79.8,372.0 77.3,373.5 76.3,371.1 76.7,368.2 75.3,366.3" fill="#a88ae8"/><polygon points="65.3,396.4 69.3,394.3 70.6,396.6 70.8,398.7 69.2,398.4 67.6,399.5 66.1,397.8" fill="#a88ae8"/></g></g><g filter="url(#um1)"><polygon points="139.7,388.5 141.1,386.4 141.3,384.5 141.6,382.4 142.9,380.8 142.9,378.2 144.4,377.7 146.6,375.5 148.4,375.7 149.4,374.0 150.1,372.1 153.0,371.8 154.9,371.8 157.1,371.8 159.1,373.6 160.6,374.5 162.0,375.8 162.3,377.1 163.4,379.8 163.5,381.2 163.2,382.3 162.6,383.8 162.7,386.0 162.2,387.7 161.8,390.0 159.9,390.8 159.7,392.6 158.4,393.9 155.7,395.7 155.3,396.6 153.6,398.5 154.1,400.9 152.2,401.9 151.5,403.4 150.6,404.5 148.3,405.9 145.9,407.2 144.4,405.0 143.0,402.5 142.8,399.9 143.6,398.3 142.4,396.0 141.5,393.6 141.7,392.1 140.0,390.9" fill="#d4d4d7"/><polygon points="163.4,367.3 165.1,364.6 165.6,363.1 167.4,361.8 170.1,360.5 172.0,359.6 172.9,360.5 174.3,362.3 175.6,363.4 177.1,364.5 179.2,363.6 181.7,362.5 182.4,363.3 184.8,361.6 186.2,364.9 185.8,366.3 186.5,368.2 186.5,369.9 185.8,371.6 184.3,374.6 182.7,375.2 181.1,376.4 178.9,376.9 177.3,378.2 175.5,377.8 172.5,377.4 170.8,377.8 168.6,376.0 167.5,375.2 166.7,373.9 164.2,373.2 164.3,370.9 163.5,368.8" fill="#d4d4d7"/><polygon points="163.1,378.7 165.6,378.7 166.9,377.7 168.8,377.5 171.6,377.2 173.3,377.1 174.9,377.3 177.6,377.3 178.4,376.7 180.6,377.8 183.5,378.0 185.5,378.2 187.7,378.6 188.7,378.9 190.5,379.9 192.0,380.6 193.1,381.7 194.5,382.4 196.6,384.5 197.7,386.2 197.9,388.0 198.2,389.7 199.5,390.8 201.3,391.7 203.6,392.1 206.3,392.5 204.9,394.8 204.3,396.6 202.5,397.1 200.5,397.9 200.0,397.8 197.9,399.0 195.5,400.0 195.2,403.1 193.0,402.3 190.8,403.5 189.6,403.6 187.7,401.6 187.0,399.3 185.7,397.6 184.9,398.7 183.0,399.9 182.0,401.3 181.3,403.4 180.8,404.7 180.0,407.2 178.1,406.9 176.2,407.9 176.2,405.6 174.8,403.3 174.6,400.6 172.2,400.5 170.5,398.1 168.8,397.1 168.2,395.1 168.2,393.8 167.4,391.4 167.7,390.5 166.3,388.4 165.1,386.7 162.8,385.5 164.0,383.5 163.1,381.1" fill="#d4d4d7"/><polygon points="161.2,382.8 163.4,382.6 165.6,383.1 167.7,383.2 167.5,385.9 165.8,386.0 163.7,386.3 161.7,386.5" fill="#fff"/><circle cx="168.6" cy="348.5" r="0.8" fill="#d4d4d7"/><circle cx="151.2" cy="358.5" r="0.8" fill="#d4d4d7"/><circle cx="197.0" cy="365.6" r="0.8" fill="#d4d4d7"/><circle cx="201.9" cy="390.7" r="0.8" fill="#d4d4d7"/></g><clipPath id="uc11"><polygon points="139.8,388.4 143.5,378.4 150.6,372.7 157.7,371.9 162.0,375.6 163.4,382.7 160.6,391.2 154.9,396.9 152.0,404.0 146.3,406.9 143.5,402.6 142.6,395.5"/><polygon points="163.4,367.0 167.7,361.3 172.0,359.4 177.7,364.2 184.8,362.2 187.1,368.5 184.8,374.2 179.1,377.6 170.5,377.6 164.9,372.7"/><polygon points="163.4,378.4 179.1,377.0 189.0,378.4 196.2,384.1 199.6,391.2 206.1,392.7 204.7,396.9 197.6,398.4 194.7,402.6 189.0,403.2 186.2,396.9 181.9,401.2 180.5,406.9 176.8,407.7 174.8,401.2 169.1,396.9 167.7,389.8 163.4,385.5"/></clipPath><g clip-path="url(#uc11)"><g filter="url(#us0)" opacity="0.5"><polygon points="167.8,379.6 170.1,379.5 171.6,379.5 173.4,380.4 174.9,379.6 177.0,379.4 180.0,379.3 181.4,379.4 183.5,379.4 184.7,379.3 187.0,379.7 189.1,378.9 190.7,380.3 191.9,381.4 193.2,383.4 194.8,384.6 196.5,385.7 196.2,387.4 196.0,389.8 195.1,392.0 195.3,392.9 194.8,395.1 194.5,397.1 194.8,399.5 194.7,401.8 193.1,400.6 191.5,400.8 189.8,400.5 187.9,399.5 185.1,400.2 182.9,399.8 182.3,398.4 179.4,399.2 178.6,398.8 176.4,398.3 174.0,396.9 172.6,397.8 171.2,397.0 169.5,394.6 169.8,392.8 168.9,390.8 169.3,388.8 168.4,387.0 168.0,385.9 168.8,383.2 168.2,382.3" fill="#b49aea"/></g><g filter="url(#us1)" opacity="0.75"><polygon points="169.3,390.1 171.8,390.5 173.5,389.4 175.6,389.9 177.5,389.5 180.2,388.3 182.0,388.3 183.4,390.2 184.5,389.9 187.2,391.5 187.8,392.4 187.3,395.2 186.5,396.1 186.3,398.4 185.2,399.9 182.8,400.0 181.8,402.2 180.1,403.5 180.7,405.1 179.3,407.0 177.1,406.2 176.4,404.1 175.0,402.2 174.9,400.2 173.8,399.5 172.7,398.4 171.2,396.8 170.1,394.0 170.3,392.6" fill="#9468e6"/></g><g filter="url(#us0)" opacity="0.5"><polygon points="177.9,363.6 180.2,362.8 180.9,363.5 183.2,362.7 185.8,362.3 186.2,364.9 185.3,367.6 186.3,368.6 187.0,371.7 185.1,372.6 183.8,372.8 182.0,374.7 179.3,375.7 179.1,373.8 179.3,371.5 178.1,369.3 178.0,367.8 178.6,365.8" fill="#b49aea"/></g><g filter="url(#us0)" opacity="0.5"><polygon points="156.9,373.4 159.1,374.1 160.3,374.9 161.9,376.5 161.8,378.1 162.4,380.2 163.8,382.5 162.6,384.6 162.0,386.6 160.5,388.6 160.2,391.1 159.1,389.0 157.9,387.9 156.3,386.6 156.3,385.5 156.5,383.5 156.9,381.4 156.8,379.2 156.9,377.8 156.2,376.1" fill="#b49aea"/></g></g><g filter="url(#um2)"><polygon points="242.4,388.7 243.8,386.4 243.9,384.8 245.5,382.4 245.8,380.1 245.9,378.2 248.1,376.7 249.8,375.8 250.4,374.4 252.9,374.2 254.2,372.9 255.4,372.2 258.4,371.6 261.4,371.7 261.7,373.6 263.1,374.9 265.0,375.7 265.2,377.3 265.3,378.5 266.6,380.5 266.9,382.3 266.6,385.0 265.7,386.5 264.9,388.1 263.7,389.5 264.1,390.8 262.8,393.2 260.7,393.9 259.3,395.3 258.6,396.8 256.6,398.1 256.8,401.2 255.8,402.3 255.2,404.4 252.8,405.1 251.4,406.1 248.9,406.4 247.8,405.4 246.3,402.8 246.0,399.7 245.4,398.3 246.1,395.3 245.2,394.0 244.8,392.6 243.4,390.9" fill="#d4d4d7"/><polygon points="267.1,366.5 267.2,365.8 268.9,362.7 271.0,361.1 273.4,360.0 275.7,359.1 276.6,361.2 278.1,362.4 279.6,362.4 281.2,364.3 282.2,363.3 284.8,363.3 286.7,363.1 288.5,362.3 288.9,364.4 289.0,367.0 289.8,368.9 290.0,370.6 288.1,372.7 288.1,373.7 285.3,375.3 283.4,377.0 282.1,377.6 279.9,377.8 278.4,377.3 275.5,377.7 273.3,377.7 272.2,376.3 271.0,375.2 268.7,374.6 267.7,372.6 267.3,371.4 267.6,369.0" fill="#d4d4d7"/><polygon points="267.1,379.1 269.0,377.7 270.5,378.0 272.4,377.4 273.9,377.6 275.9,377.5 277.6,376.8 280.5,377.1 282.1,377.3 283.9,376.7 286.5,377.7 288.3,378.0 290.8,378.0 292.5,378.2 293.6,379.8 294.7,380.1 296.3,382.1 297.9,382.9 299.4,383.7 299.6,385.7 301.4,387.3 301.2,388.9 302.0,390.9 304.9,392.2 306.8,392.0 308.9,392.4 308.9,394.9 307.4,396.4 306.4,397.6 304.7,397.3 302.5,398.6 300.8,399.0 298.7,401.2 297.2,402.5 295.2,403.2 294.3,403.7 292.5,403.8 291.2,401.8 290.5,398.8 289.9,396.8 287.4,397.8 286.4,399.4 285.6,401.8 284.1,402.5 284.1,404.5 283.6,407.3 281.4,407.2 280.4,407.7 279.0,406.1 279.0,403.9 278.1,401.1 276.2,400.2 274.3,398.0 271.9,396.8 272.2,395.2 271.5,393.8 270.6,391.8 270.5,389.9 269.8,388.0 268.5,386.4 266.6,385.6 266.1,383.3 266.4,380.7" fill="#d4d4d7"/><polygon points="264.2,382.4 266.6,382.6 268.4,383.0 270.7,383.0 270.7,386.4 268.4,385.9 266.2,385.9 264.2,386.5" fill="#fff"/><circle cx="271.6" cy="348.5" r="0.8" fill="#d4d4d7"/><circle cx="254.2" cy="358.5" r="0.8" fill="#d4d4d7"/><circle cx="300.1" cy="365.6" r="0.8" fill="#d4d4d7"/><circle cx="304.9" cy="390.7" r="0.8" fill="#d4d4d7"/></g><clipPath id="uc21"><polygon points="242.8,388.4 246.5,378.4 253.7,372.7 260.8,371.9 265.1,375.6 266.5,382.7 263.6,391.2 257.9,396.9 255.1,404.0 249.4,406.9 246.5,402.6 245.7,395.5"/><polygon points="266.5,367.0 270.7,361.3 275.0,359.4 280.7,364.2 287.8,362.2 290.1,368.5 287.8,374.2 282.1,377.6 273.6,377.6 267.9,372.7"/><polygon points="266.5,378.4 282.1,377.0 292.1,378.4 299.2,384.1 302.6,391.2 309.2,392.7 307.7,396.9 300.6,398.4 297.8,402.6 292.1,403.2 289.2,396.9 285.0,401.2 283.6,406.9 279.9,407.7 277.9,401.2 272.2,396.9 270.7,389.8 266.5,385.5"/></clipPath><g clip-path="url(#uc21)"><g filter="url(#us0)" opacity="0.6"><polygon points="270.3,379.7 272.3,379.7 274.7,380.0 276.2,379.5 278.1,380.1 280.2,380.1 281.8,378.9 284.2,379.4 286.6,380.0 288.2,379.1 290.5,379.3 291.8,379.0 292.8,380.8 294.3,381.4 296.5,383.2 298.0,384.5 299.6,386.2 299.7,387.3 298.6,388.9 298.6,391.0 299.1,393.7 298.0,395.6 298.4,396.7 298.4,399.6 297.7,401.8 295.3,400.2 294.4,400.8 291.5,400.4 290.5,399.7 288.0,400.0 287.2,399.3 284.4,399.0 283.1,398.6 281.5,397.9 279.7,398.2 276.8,397.0 275.8,397.0 274.2,397.5 273.0,395.4 272.6,393.1 272.2,391.7 271.8,389.9 271.8,387.1 271.0,385.1 270.8,383.3 271.7,382.0" fill="#b096ea"/></g><g filter="url(#us1)" opacity="0.7"><polygon points="272.9,390.3 274.5,390.9 277.1,390.2 279.1,389.4 281.3,389.3 283.4,389.0 285.5,388.3 286.1,389.0 288.4,390.1 289.9,391.8 290.6,393.1 289.9,395.1 290.4,396.1 289.6,398.7 287.1,399.6 285.5,401.0 284.7,402.2 283.2,402.9 283.4,405.1 282.3,407.2 280.3,406.3 278.8,404.8 278.6,402.7 278.1,400.2 276.0,398.5 275.1,398.0 273.5,396.7 273.5,395.0 273.4,392.3" fill="#9468e6"/></g><g filter="url(#us0)" opacity="0.6"><polygon points="281.0,362.8 282.8,363.7 285.0,363.1 286.7,362.7 288.4,362.2 288.9,365.0 288.7,366.9 289.6,369.1 290.2,372.0 288.3,371.8 285.5,373.2 284.2,374.8 283.2,375.7 282.6,373.6 281.4,371.5 281.3,369.3 280.7,367.6 281.6,364.8" fill="#a888e8"/></g><g filter="url(#us0)" opacity="0.5"><polygon points="259.5,373.4 261.2,374.2 263.4,375.3 264.7,375.7 265.0,378.6 265.5,381.0 265.6,382.0 265.4,384.6 265.1,387.2 264.1,388.4 263.6,390.6 261.7,389.2 260.0,388.5 258.7,386.5 259.6,385.2 259.7,383.3 260.0,381.9 260.3,379.2 259.6,376.9 259.8,375.0" fill="#b096ea"/></g><g filter="url(#us0)" opacity="0.3"><polygon points="242.6,389.1 244.2,387.0 244.7,384.9 244.4,382.6 245.5,380.7 246.5,378.5 248.0,377.4 249.9,376.8 250.6,375.4 252.8,373.7 253.1,372.7 256.4,372.5 258.0,372.5 260.5,372.4 261.7,373.2 263.5,375.0 264.5,376.1 265.3,377.2 265.4,379.1 266.7,381.6 267.1,382.9 265.5,384.4 265.5,385.8 265.4,387.2 263.8,389.1 263.2,390.6 261.8,392.5 261.4,394.1 259.5,395.3 257.5,397.0 257.5,398.1 256.7,400.1 256.1,402.1 254.6,403.5 253.6,405.1 250.7,406.5 249.1,406.6 247.3,404.5 246.6,403.2 246.0,400.2 245.4,398.1 245.4,395.3 244.7,394.2 244.9,391.4 243.5,389.6" fill="#b8a0ea"/></g></g><rect x="321" y="361" width="9" height="43.5" fill="url(#cbC)"/><text x="334" y="364.9" font-size="7.1" fill="#222">0.8</text><line x1="321" y1="362.4" x2="322.8" y2="362.4" stroke="#fff" stroke-width="0.4"/><line x1="328.2" y1="362.4" x2="330" y2="362.4" stroke="#fff" stroke-width="0.4"/><text x="334" y="375.4" font-size="7.1" fill="#222">0.6</text><line x1="321" y1="372.9" x2="322.8" y2="372.9" stroke="#fff" stroke-width="0.4"/><line x1="328.2" y1="372.9" x2="330" y2="372.9" stroke="#fff" stroke-width="0.4"/><text x="334" y="386.1" font-size="7.1" fill="#222">0.4</text><line x1="321" y1="383.6" x2="322.8" y2="383.6" stroke="#fff" stroke-width="0.4"/><line x1="328.2" y1="383.6" x2="330" y2="383.6" stroke="#fff" stroke-width="0.4"/><text x="334" y="396.8" font-size="7.1" fill="#222">0.2</text><line x1="321" y1="394.3" x2="322.8" y2="394.3" stroke="#fff" stroke-width="0.4"/><line x1="328.2" y1="394.3" x2="330" y2="394.3" stroke="#fff" stroke-width="0.4"/><text x="334" y="407.0" font-size="7.1" fill="#222">0.0</text><line x1="321" y1="404.5" x2="322.8" y2="404.5" stroke="#fff" stroke-width="0.4"/><line x1="328.2" y1="404.5" x2="330" y2="404.5" stroke="#fff" stroke-width="0.4"/><text x="352" y="299.1" font-size="16.8" font-weight="bold" fill="#000">D</text><text x="504.5" y="298.6" font-size="14.9" text-anchor="middle" font-weight="bold" fill="#000">immune_score</text><rect x="440.7" y="312" width="11.6" height="11.6" fill="#dba62c" stroke="#3a3a3a" stroke-width="0.5"/><path d="M440.7,315.2 H452.3 M440.7,318.4 H452.3 M440.7,321.3 H452.3 M446.5,312 V315.2 M446.5,321.3 V323.6" stroke="#3a3a3a" stroke-width="0.5" fill="none"/><text x="460" y="321.5" font-size="10" fill="#000">NE</text><rect x="484.2" y="312" width="11.6" height="11.6" fill="#36b4ea" stroke="#3a3a3a" stroke-width="0.5"/><path d="M484.2,315.2 H495.8 M484.2,318.4 H495.8 M484.2,321.3 H495.8 M490.0,312 V315.2 M490.0,321.3 V323.6" stroke="#3a3a3a" stroke-width="0.5" fill="none"/><text x="503.4" y="321.5" font-size="10" fill="#000">E-con</text><rect x="537.6" y="312" width="11.6" height="11.6" fill="#ee6076" stroke="#3a3a3a" stroke-width="0.5"/><path d="M537.6,315.2 H549.2 M537.6,318.4 H549.2 M537.6,321.3 H549.2 M543.4,312 V315.2 M543.4,321.3 V323.6" stroke="#3a3a3a" stroke-width="0.5" fill="none"/><text x="557" y="321.5" font-size="10" fill="#000" letter-spacing="-0.35">E-Yd1</text><path d="M396.2,326.5 V414.4 H634" stroke="#b4b4b4" stroke-width="0.9" fill="none"/><line x1="393.8" y1="410.7" x2="396.2" y2="410.7" stroke="#b4b4b4" stroke-width="0.8"/><text x="392.6" y="414.09999999999997" font-size="9.8" text-anchor="end" fill="#222">0.0</text><line x1="393.8" y1="390.6" x2="396.2" y2="390.6" stroke="#b4b4b4" stroke-width="0.8"/><text x="392.6" y="393.99999999999994" font-size="9.8" text-anchor="end" fill="#222">0.2</text><line x1="393.8" y1="370.5" x2="396.2" y2="370.5" stroke="#b4b4b4" stroke-width="0.8"/><text x="392.6" y="373.9" font-size="9.8" text-anchor="end" fill="#222">0.4</text><line x1="393.8" y1="350.4" x2="396.2" y2="350.4" stroke="#b4b4b4" stroke-width="0.8"/><text x="392.6" y="353.79999999999995" font-size="9.8" text-anchor="end" fill="#222">0.6</text><line x1="393.8" y1="330.3" x2="396.2" y2="330.3" stroke="#b4b4b4" stroke-width="0.8"/><text x="392.6" y="333.69999999999993" font-size="9.8" text-anchor="end" fill="#222">0.8</text><line x1="419.3" y1="414.4" x2="419.3" y2="416.8" stroke="#b4b4b4" stroke-width="0.8"/><line x1="457.9" y1="414.4" x2="457.9" y2="416.8" stroke="#b4b4b4" stroke-width="0.8"/><line x1="496.6" y1="414.4" x2="496.6" y2="416.8" stroke="#b4b4b4" stroke-width="0.8"/><line x1="535.2" y1="414.4" x2="535.2" y2="416.8" stroke="#b4b4b4" stroke-width="0.8"/><line x1="574" y1="414.4" x2="574" y2="416.8" stroke="#b4b4b4" stroke-width="0.8"/><line x1="612.6" y1="414.4" x2="612.6" y2="416.8" stroke="#b4b4b4" stroke-width="0.8"/><line x1="402" y1="410.7" x2="436" y2="410.7" stroke="#c0c0c0" stroke-width="1"/><line x1="520" y1="410.7" x2="541" y2="410.7" stroke="#c0c0c0" stroke-width="1"/><line x1="407.7" y1="410.7" x2="407.7" y2="396.0" stroke="#555" stroke-width="0.45"/><line x1="419.3" y1="410.7" x2="419.3" y2="374.5" stroke="#555" stroke-width="0.45"/><line x1="430.90000000000003" y1="410.7" x2="430.90000000000003" y2="382.1" stroke="#555" stroke-width="0.45"/><path d="M436.5,410.7c0,-.2 -1.7,-.4 -1.7,-.6c0,-.4 -2.3,-.8 -2.3,-1.2c0,-.8 0,-1.4 0,-2.2c0,-.7 1.8,-1.3 1.8,-2c0,-.7 -2,-1.3 -2,-2c0,-1.5 -.6,-2.5 -.6,-4c0,-3 -.5,-5.1 -.5,-8c0,-3.2 -.3,-5.4 -.3,-8.5c0,3.2 -.3,5.4 -.3,8.5c0,3 -.5,5.1 -.5,8c0,1.5 -.6,2.5 -.6,4c0,0.7 -2,1.3 -2,2c0,0.7 1.8,1.3 1.8,2c0,0.8 0,1.4 0,2.2c0,0.4 -2.3,0.8 -2.3,1.2c0,0.2 -1.7,0.4 -1.7,0.6Z" fill="#ee6076" stroke="#3a3a3a" stroke-width="0.35" stroke-linejoin="round"/><line x1="430.90000000000003" y1="410.7" x2="430.90000000000003" y2="382.1" stroke="#333" stroke-width="0.3" opacity="0.7"/><line x1="446.29999999999995" y1="410.7" x2="446.29999999999995" y2="388.6" stroke="#555" stroke-width="0.45"/><path d="M451.9,410.7c0,-.2 -1.7,-.4 -1.7,-.6c0,-.4 -2.3,-.8 -2.3,-1.2c0,-.8 -.4,-1.4 -.4,-2.2c0,-.7 1.2,-1.3 1.2,-2c0,-.7 -1.4,-1.3 -1.4,-2c0,-2.2 -.5,-3.8 -.5,-6c0,-3 -.5,-5.1 -.5,-8c0,3 -.5,5.1 -.5,8c0,2.2 -.5,3.8 -.5,6c0,0.7 -1.4,1.3 -1.4,2c0,0.7 1.2,1.3 1.2,2c0,0.8 -.4,1.4 -.4,2.2c0,0.4 -2.3,0.8 -2.3,1.2c0,0.2 -1.7,0.4 -1.7,0.6Z" fill="#dba62c" stroke="#3a3a3a" stroke-width="0.35" stroke-linejoin="round"/><line x1="446.29999999999995" y1="410.7" x2="446.29999999999995" y2="388.6" stroke="#333" stroke-width="0.3" opacity="0.7"/><line x1="457.9" y1="410.7" x2="457.9" y2="373.5" stroke="#555" stroke-width="0.45"/><path d="M463.5,410.7c0,-.2 -1.7,-.4 -1.7,-.6c0,-.4 -2.3,-.8 -2.3,-1.2c0,-.8 -.2,-1.4 -.2,-2.2c0,-.7 2,-1.3 2,-2c0,-.7 -2.1,-1.3 -2.1,-2c0,-1.5 -.1,-2.5 -.1,-4c0,-1.5 -.7,-2.5 -.7,-4c0,-7.8 -.5,-13.3 -.5,-21.1c0,7.8 -.5,13.3 -.5,21.1c0,1.5 -.7,2.5 -.7,4c0,1.5 -.1,2.5 -.1,4c0,0.7 -2.1,1.3 -2.1,2c0,0.7 2,1.3 2,2c0,0.8 -.2,1.4 -.2,2.2c0,0.4 -2.3,0.8 -2.3,1.2c0,0.2 -1.7,0.4 -1.7,0.6Z" fill="#36b4ea" stroke="#3a3a3a" stroke-width="0.35" stroke-linejoin="round"/><line x1="457.9" y1="410.7" x2="457.9" y2="373.5" stroke="#333" stroke-width="0.3" opacity="0.7"/><line x1="469.5" y1="410.7" x2="469.5" y2="379.5" stroke="#555" stroke-width="0.45"/><path d="M475.1,410.7c0,-.2 -1.7,-.4 -1.7,-.6c0,-.4 -2.3,-.8 -2.3,-1.2c0,-.8 -.1,-1.4 -.1,-2.2c0,-.7 2.5,-1.3 2.5,-2c0,-.7 -2.5,-1.3 -2.5,-2c0,-1.5 -.2,-2.5 -.2,-4c0,-1.5 -.8,-2.5 -.8,-4c0,-5.6 -.5,-9.5 -.5,-15.1c0,5.6 -.5,9.5 -.5,15.1c0,1.5 -.8,2.5 -.8,4c0,1.5 -.2,2.5 -.2,4c0,0.7 -2.5,1.3 -2.5,2c0,0.7 2.5,1.3 2.5,2c0,0.8 -.1,1.4 -.1,2.2c0,0.4 -2.3,0.8 -2.3,1.2c0,0.2 -1.7,0.4 -1.7,0.6Z" fill="#ee6076" stroke="#3a3a3a" stroke-width="0.35" stroke-linejoin="round"/><line x1="469.5" y1="410.7" x2="469.5" y2="379.5" stroke="#333" stroke-width="0.3" opacity="0.7"/><line x1="485.0" y1="410.7" x2="485.0" y2="369.5" stroke="#555" stroke-width="0.45"/><path d="M490.6,410.7c0,-.4 -1.4,-.6 -1.4,-1c0,-.7 -1.6,-1.3 -1.6,-2c0,-1.1 -.6,-1.9 -.6,-3c0,-2.2 0.4,-3.8 0.4,-6c0,-3 -1.2,-5.1 -1.2,-8c0,-3.7 -.9,-6.3 -.9,-10c0,-4.1 -.3,-7 -.3,-11.1c0,4.1 -.3,7 -.3,11.1c0,3.7 -.9,6.3 -.9,10c0,3 -1.2,5.1 -1.2,8c0,2.2 0.4,3.8 0.4,6c0,1.1 -.6,1.9 -.6,3c0,0.7 -1.6,1.3 -1.6,2c0,0.4 -1.4,0.6 -1.4,1Z" fill="#dba62c" stroke="#3a3a3a" stroke-width="0.35" stroke-linejoin="round"/><line x1="485.0" y1="410.7" x2="485.0" y2="369.5" stroke="#333" stroke-width="0.3" opacity="0.7"/><rect x="484.1" y="390.6" width="1.8" height="14.1" fill="none" stroke="#333" stroke-width="0.3"/><circle cx="485.0" cy="398.6" r="0.45" fill="#222"/><line x1="496.6" y1="410.7" x2="496.6" y2="370.5" stroke="#555" stroke-width="0.45"/><path d="M500,410.7c0,-.7 -.8,-1.3 -.8,-2c0,-1.1 0.8,-1.9 0.8,-3c0,-3 2.2,-5.1 2.2,-8c0,-2.6 -2,-4.4 -2,-7c0,-2.6 -2,-4.4 -2,-7c0,-2.6 -1.2,-4.4 -1.2,-7c0,-2.2 -.4,-3.8 -.4,-6c0,2.2 -.4,3.8 -.4,6c0,2.6 -1.2,4.4 -1.2,7c0,2.6 -2,4.4 -2,7c0,2.6 -2,4.4 -2,7c0,3 2.2,5.1 2.2,8c0,1.1 0.8,1.9 0.8,3c0,0.7 -.8,1.3 -.8,2Z" fill="#36b4ea" stroke="#3a3a3a" stroke-width="0.35" stroke-linejoin="round"/><line x1="496.6" y1="410.7" x2="496.6" y2="370.5" stroke="#333" stroke-width="0.3" opacity="0.7"/><rect x="495.70000000000005" y="390.6" width="1.8" height="14.1" fill="none" stroke="#333" stroke-width="0.3"/><circle cx="496.6" cy="398.6" r="0.45" fill="#222"/><line x1="508.20000000000005" y1="410.7" x2="508.20000000000005" y2="377.0" stroke="#555" stroke-width="0.45"/><path d="M511.8,410.7c0,-.7 -.6,-1.3 -.6,-2c0,-1.1 1,-1.9 1,-3c0,-2.6 1.7,-4.4 1.7,-7c0,-3 -.9,-5.1 -.9,-8c0,-3 -1.6,-5.1 -1.6,-8c0,-1.5 -1.4,-2.5 -1.4,-4c0,-.6 -1.8,-.9 -1.8,-1.5c0,0.6 -1.8,0.9 -1.8,1.5c0,1.5 -1.4,2.5 -1.4,4c0,3 -1.6,5.1 -1.6,8c0,3 -.9,5.1 -.9,8c0,2.6 1.7,4.4 1.7,7c0,1.1 1,1.9 1,3c0,0.7 -.6,1.3 -.6,2Z" fill="#ee6076" stroke="#3a3a3a" stroke-width="0.35" stroke-linejoin="round"/><line x1="508.20000000000005" y1="410.7" x2="508.20000000000005" y2="377.0" stroke="#333" stroke-width="0.3" opacity="0.7"/><rect x="507.30000000000007" y="390.6" width="1.8" height="14.1" fill="none" stroke="#333" stroke-width="0.3"/><circle cx="508.20000000000005" cy="398.6" r="0.45" fill="#222"/><line x1="523.6" y1="410.7" x2="523.6" y2="383.6" stroke="#555" stroke-width="0.45"/><line x1="535.2" y1="410.7" x2="535.2" y2="355.4" stroke="#555" stroke-width="0.45"/><path d="M540.8,410.7c0,-.2 -1.7,-.4 -1.7,-.6c0,-.4 -2.3,-.8 -2.3,-1.2c0,-.6 -.4,-1.1 -.4,-1.7c0,-.6 1,-.9 1,-1.5c0,-.7 -1,-1.3 -1,-2c0,-1.9 -.5,-3.2 -.5,-5c0,-3 -.4,-5.1 -.4,-8c0,-3.7 -.1,-6.3 -.1,-10c0,-9.3 -.1,-15.8 -.1,-25.1c0,9.3 -.1,15.8 -.1,25.1c0,3.7 -.1,6.3 -.1,10c0,3 -.4,5.1 -.4,8c0,1.9 -.5,3.2 -.5,5c0,0.7 -1,1.3 -1,2c0,0.6 1,0.9 1,1.5c0,0.6 -.4,1.1 -.4,1.7c0,0.4 -2.3,0.8 -2.3,1.2c0,0.2 -1.7,0.4 -1.7,0.6Z" fill="#36b4ea" stroke="#3a3a3a" stroke-width="0.35" stroke-linejoin="round"/><line x1="535.2" y1="410.7" x2="535.2" y2="355.4" stroke="#333" stroke-width="0.3" opacity="0.7"/><line x1="546.8000000000001" y1="410.7" x2="546.8000000000001" y2="363.5" stroke="#555" stroke-width="0.45"/><path d="M552.4,410.7c0,-.2 -1.7,-.4 -1.7,-.6c0,-.4 -2.3,-.8 -2.3,-1.2c0,-1.2 0.4,-2 0.4,-3.2c0,-1.9 0.2,-3.2 0.2,-5c0,-2.2 -1,-3.8 -1,-6c0,-2.2 -.6,-3.8 -.6,-6c0,-3 -.3,-5.1 -.3,-8c0,-6.3 -.2,-10.8 -.2,-17.1c0,6.3 -.2,10.8 -.2,17.1c0,3 -.3,5.1 -.3,8c0,2.2 -.6,3.8 -.6,6c0,2.2 -1,3.8 -1,6c0,1.9 0.2,3.2 0.2,5c0,1.2 0.4,2 0.4,3.2c0,0.4 -2.3,0.8 -2.3,1.2c0,0.2 -1.7,0.4 -1.7,0.6Z" fill="#ee6076" stroke="#3a3a3a" stroke-width="0.35" stroke-linejoin="round"/><line x1="546.8000000000001" y1="410.7" x2="546.8000000000001" y2="363.5" stroke="#333" stroke-width="0.3" opacity="0.7"/><line x1="562.4" y1="410.7" x2="562.4" y2="365.5" stroke="#555" stroke-width="0.45"/><path d="M568,410.7c0,-.2 -1.7,-.4 -1.7,-.6c0,-.4 -2.3,-.8 -2.3,-1.2c0,-1.2 -.8,-2 -.8,-3.2c0,-2.6 -.5,-4.4 -.5,-7c0,-3 -.2,-5.1 -.2,-8c0,-9.3 -.1,-15.8 -.1,-25.1c0,9.3 -.1,15.8 -.1,25.1c0,3 -.2,5.1 -.2,8c0,2.6 -.5,4.4 -.5,7c0,1.2 -.8,2 -.8,3.2c0,0.4 -2.3,0.8 -2.3,1.2c0,0.2 -1.7,0.4 -1.7,0.6Z" fill="#dba62c" stroke="#3a3a3a" stroke-width="0.35" stroke-linejoin="round"/><line x1="562.4" y1="410.7" x2="562.4" y2="365.5" stroke="#333" stroke-width="0.3" opacity="0.7"/><line x1="574" y1="410.7" x2="574" y2="337.3" stroke="#555" stroke-width="0.45"/><path d="M579.6,410.7c0,-.2 -1.7,-.4 -1.7,-.6c0,-.4 -2.3,-.8 -2.3,-1.2c0,-1.2 0.6,-2 0.6,-3.2c0,-1.9 0.6,-3.2 0.6,-5c0,-2.2 -.8,-3.8 -.8,-6c0,-2.2 -.8,-3.8 -.8,-6c0,-3 -.6,-5.1 -.6,-8c0,-3.7 -.3,-6.3 -.3,-10.1c0,-12.3 -.2,-20.9 -.2,-33.2c0,12.3 -.2,20.9 -.2,33.2c0,3.7 -.3,6.3 -.3,10.1c0,3 -.6,5.1 -.6,8c0,2.2 -.8,3.8 -.8,6c0,2.2 -.8,3.8 -.8,6c0,1.9 0.6,3.2 0.6,5c0,1.2 0.6,2 0.6,3.2c0,0.4 -2.3,0.8 -2.3,1.2c0,0.2 -1.7,0.4 -1.7,0.6Z" fill="#36b4ea" stroke="#3a3a3a" stroke-width="0.35" stroke-linejoin="round"/><line x1="574" y1="410.7" x2="574" y2="337.3" stroke="#333" stroke-width="0.3" opacity="0.7"/><line x1="585.6" y1="410.7" x2="585.6" y2="329.3" stroke="#555" stroke-width="0.45"/><path d="M591.2,410.7c0,-.2 -1.7,-.4 -1.7,-.6c0,-.4 -2.3,-.8 -2.3,-1.2c0,-1.2 1.4,-2 1.4,-3.2c0,-2.6 0.4,-4.4 0.4,-7c0,-3 -.6,-5.1 -.6,-8c0,-3 -1,-5.1 -1,-8c0,-3 -.7,-5.1 -.7,-8c0,-3.3 -.5,-5.7 -.5,-9c0,-5.6 -.4,-9.5 -.4,-15.1c0,-7.8 -.2,-13.3 -.2,-21.1c0,7.8 -.2,13.3 -.2,21.1c0,5.6 -.4,9.5 -.4,15.1c0,3.3 -.5,5.7 -.5,9c0,3 -.7,5.1 -.7,8c0,3 -1,5.1 -1,8c0,3 -.6,5.1 -.6,8c0,2.6 0.4,4.4 0.4,7c0,1.2 1.4,2 1.4,3.2c0,0.4 -2.3,0.8 -2.3,1.2c0,0.2 -1.7,0.4 -1.7,0.6Z" fill="#ee6076" stroke="#3a3a3a" stroke-width="0.35" stroke-linejoin="round"/><line x1="585.6" y1="410.7" x2="585.6" y2="329.3" stroke="#333" stroke-width="0.3" opacity="0.7"/><line x1="601.0" y1="410.7" x2="601.0" y2="376.0" stroke="#555" stroke-width="0.45"/><path d="M606.6,410.7c0,-.2 -1.7,-.4 -1.7,-.6c0,-.4 -2.3,-.8 -2.3,-1.2c0,-1.2 -.2,-2 -.2,-3.2c0,-1.9 0.1,-3.2 0.1,-5c0,-2.2 -.9,-3.8 -.9,-6c0,-2.2 -.3,-3.8 -.3,-6c0,-4.6 -.2,-7.9 -.2,-12.6c0,4.6 -.2,7.9 -.2,12.6c0,2.2 -.3,3.8 -.3,6c0,2.2 -.9,3.8 -.9,6c0,1.9 0.1,3.2 0.1,5c0,1.2 -.2,2 -.2,3.2c0,0.4 -2.3,0.8 -2.3,1.2c0,0.2 -1.7,0.4 -1.7,0.6Z" fill="#dba62c" stroke="#3a3a3a" stroke-width="0.35" stroke-linejoin="round"/><line x1="601.0" y1="410.7" x2="601.0" y2="376.0" stroke="#333" stroke-width="0.3" opacity="0.7"/><line x1="612.6" y1="410.7" x2="612.6" y2="350.4" stroke="#555" stroke-width="0.45"/><path d="M618.2,410.7c0,-.2 -1.7,-.4 -1.7,-.6c0,-.4 -2.3,-.8 -2.3,-1.2c0,-.8 0.6,-1.4 0.6,-2.2c0,-.7 2,-1.3 2,-2c0,-1.1 -1.4,-1.9 -1.4,-3c0,-1.1 0.8,-1.9 0.8,-3c0,-1.5 -1.4,-2.5 -1.4,-4c0,-2.2 -1.1,-3.8 -1.1,-6c0,-3 -.7,-5.1 -.7,-8c0,-3.7 -.2,-6.3 -.2,-10.1c0,-7.4 -.1,-12.7 -.1,-20.1c0,7.4 -.1,12.7 -.1,20.1c0,3.7 -.2,6.3 -.2,10.1c0,3 -.7,5.1 -.7,8c0,2.2 -1.1,3.8 -1.1,6c0,1.5 -1.4,2.5 -1.4,4c0,1.1 0.8,1.9 0.8,3c0,1.1 -1.4,1.9 -1.4,3c0,0.7 2,1.3 2,2c0,0.8 0.6,1.4 0.6,2.2c0,0.4 -2.3,0.8 -2.3,1.2c0,0.2 -1.7,0.4 -1.7,0.6Z" fill="#36b4ea" stroke="#3a3a3a" stroke-width="0.35" stroke-linejoin="round"/><line x1="612.6" y1="410.7" x2="612.6" y2="350.4" stroke="#333" stroke-width="0.3" opacity="0.7"/><line x1="624.2" y1="410.7" x2="624.2" y2="335.3" stroke="#555" stroke-width="0.45"/><path d="M629.8,410.7c0,-.2 -1.7,-.4 -1.7,-.6c0,-.4 -2.3,-.8 -2.3,-1.2c0,-1.2 1,-2 1,-3.2c0,-2.6 0.8,-4.4 0.8,-7c0,-3 -1,-5.1 -1,-8c0,-3 -1.2,-5.1 -1.2,-8c0,-3 -.6,-5.1 -.6,-8c0,-5.2 -.4,-8.9 -.4,-14.1c0,-9.3 -.2,-15.8 -.2,-25.1c0,9.3 -.2,15.8 -.2,25.1c0,5.2 -.4,8.9 -.4,14.1c0,3 -.6,5.1 -.6,8c0,3 -1.2,5.1 -1.2,8c0,3 -1,5.1 -1,8c0,2.6 0.8,4.4 0.8,7c0,1.2 1,2 1,3.2c0,0.4 -2.3,0.8 -2.3,1.2c0,0.2 -1.7,0.4 -1.7,0.6Z" fill="#ee6076" stroke="#3a3a3a" stroke-width="0.35" stroke-linejoin="round"/><line x1="624.2" y1="410.7" x2="624.2" y2="335.3" stroke="#333" stroke-width="0.3" opacity="0.7"/><text x="428.6" y="357.79999999999995" font-size="16.8" text-anchor="middle" fill="#111">***</text><text x="467.2" y="357.79999999999995" font-size="16.8" text-anchor="middle" fill="#111">***</text><text x="505.90000000000003" y="357.79999999999995" font-size="16.8" text-anchor="middle" fill="#111">*</text><text x="544.5" y="357.79999999999995" font-size="16.8" text-anchor="middle" fill="#111">***</text><text x="583.3" y="357.79999999999995" font-size="16.8" text-anchor="middle" fill="#111">***</text><text x="621.9" y="357.79999999999995" font-size="16.8" text-anchor="middle" fill="#111">***</text><text x="423.7" y="425.4" font-size="10.7" text-anchor="end" fill="#000" transform="rotate(-45 423.7 425.4)">Supra_</text><text x="462.3" y="427" font-size="10.7" text-anchor="end" fill="#000" transform="rotate(-45 462.3 427)">Basal</text><text x="501.0" y="427" font-size="10.7" text-anchor="end" fill="#000" transform="rotate(-45 501.0 427)">HF</text><text x="539.6" y="427" font-size="10.7" text-anchor="end" fill="#000" transform="rotate(-45 539.6 427)">SG</text><text x="578.4" y="427" font-size="10.7" text-anchor="end" fill="#000" transform="rotate(-45 578.4 427)">Dermal</text><text x="617.0" y="427" font-size="10.7" text-anchor="end" fill="#000" transform="rotate(-45 617.0 427)">Immune</text><text x="422.90000000000003" y="442" font-size="10.7" text-anchor="end" fill="#000" transform="rotate(-45 422.90000000000003 442)">basal</text><text x="3" y="482.2" font-size="16.8" font-weight="bold" fill="#000">E</text><text x="152.5" y="486.8" font-size="14.9" text-anchor="middle" font-weight="bold" fill="#000">Glycolysis_score</text><text x="55.5" y="522.2" font-size="10.2" text-anchor="middle" fill="#000">NE</text><text x="148" y="522.2" font-size="10.2" text-anchor="middle" fill="#000">E-con</text><text x="248.5" y="522.2" font-size="10.2" text-anchor="middle" fill="#000" letter-spacing="-0.45">E-Yd1</text><g filter="url(#um0)"><polygon points="19.2,570.4 20.7,569.0 21.3,566.0 22.4,564.8 23.6,563.1 25.7,560.6 26.9,559.4 28.1,558.5 29.8,556.3 33.2,555.9 34.4,555.0 36.8,556.1 38.7,555.2 40.4,557.9 42.0,560.5 41.5,561.8 42.5,565.1 41.8,566.9 42.6,569.0 41.3,571.4 41.7,572.7 40.4,574.2 38.5,575.9 37.8,577.4 36.8,579.5 35.8,581.1 34.4,582.3 32.3,583.7 31.7,586.4 29.5,585.2 26.7,585.8 26.7,583.3 25.5,580.7 25.3,579.6 24.1,577.5 22.0,576.9 21.3,575.0 20.7,572.3" fill="#c8bbef"/><polygon points="42.9,548.7 44.7,548.2 46.4,546.5 47.4,544.7 50.6,543.9 52.9,543.5 53.8,543.7 55.9,545.3 56.7,546.3 59.7,546.7 61.7,546.0 62.9,545.6 66.5,545.2 66.3,547.3 67.0,549.5 66.8,551.5 66.2,554.4 65.4,556.1 64.3,557.4 62.3,559.3 60.1,559.3 57.5,560.1 55.8,561.9 54.0,561.3 52.3,563.1 50.4,562.2 48.1,560.6 47.0,559.8 45.4,558.7 44.2,556.6 42.8,556.3 43.8,554.1 43.5,551.9" fill="#c8bbef"/><polygon points="41.4,561.3 43.6,560.9 45.2,561.9 47.4,561.0 48.9,561.7 50.5,562.3 52.3,561.7 54.8,561.7 55.8,561.0 57.9,560.4 60.0,561.1 61.6,561.0 64.2,560.4 65.7,559.5 66.7,561.2 69.0,560.7 71.7,562.0 72.6,562.0 74.1,563.5 75.1,565.5 76.9,567.0 78.1,568.2 76.5,570.4 76.0,571.1 73.7,571.6 71.9,571.4 70.1,570.9 68.5,570.3 67.4,570.3 65.4,569.7 63.6,570.8 61.3,570.4 59.7,571.3 58.2,571.5 56.5,570.7 54.2,570.5 52.0,570.4 50.7,569.4 48.5,570.0 45.9,569.3 44.8,570.2 42.9,568.1 41.4,566.3 41.9,565.4 41.3,562.3" fill="#c8bbef"/><polygon points="57.8,571.5 60.2,571.5 62.1,570.2 64.1,569.8 65.2,568.9 67.3,569.3 68.8,570.4 71.3,571.0 72.2,570.4 74.3,571.5 75.3,573.9 75.7,575.6 75.5,577.2 74.5,579.0 74.2,581.5 73.7,583.1 73.0,584.9 71.3,585.9 69.1,586.7 67.7,583.9 67.0,583.2 66.9,580.7 65.1,581.0 63.4,581.0 61.4,582.6 59.8,579.7 58.3,577.2 58.1,575.2 57.5,573.2" fill="#c8bbef"/><polygon points="56.3,588.2 58.4,587.0 59.7,585.9 62.7,587.7 60.5,589.2 57.5,589.6" fill="#c8bbef"/><polygon points="48.8,579.3 52.9,578.1 54.0,579.7 54.2,581.0 52.7,581.8 51.1,582.2 50.2,580.5" fill="#c8bbef"/><polygon points="26.0,570.3 26.4,568.0 28.1,566.8 28.1,564.8 29.7,563.2 30.7,563.0 32.6,562.0 34.9,561.1 36.3,562.4 37.1,564.0 37.1,565.9 36.2,568.4 36.3,569.5 34.8,572.0 32.8,573.8 31.2,575.0 27.9,576.3 27.8,574.2 27.2,572.5" fill="#fff"/><circle cx="49.0" cy="531.6" r="0.8" fill="#c8bbef"/><circle cx="31.5" cy="541.0" r="0.8" fill="#c8bbef"/><circle cx="77.9" cy="548.4" r="0.8" fill="#c8bbef"/><circle cx="84.7" cy="577.5" r="0.8" fill="#c8bbef"/><circle cx="26.0" cy="586.3" r="0.8" fill="#c8bbef"/><circle cx="83.6" cy="576.2" r="0.8" fill="#c8bbef"/></g><clipPath id="uc31"><polygon points="19.9,571.0 22.7,564.4 28.2,557.8 34.8,555.2 39.2,555.6 41.3,560.0 42.4,566.6 41.3,573.2 38.1,577.5 33.7,581.9 31.5,586.3 27.1,585.2 26.0,580.8 22.1,576.4"/><polygon points="43.5,549.1 47.9,544.7 52.3,542.9 55.6,545.8 61.1,546.4 65.9,545.8 67.6,550.2 65.9,555.6 62.1,558.9 57.8,560.5 52.3,562.7 46.8,560.5 43.5,555.6"/><polygon points="41.3,561.1 52.3,561.8 65.4,560.0 73.1,562.2 78.6,568.8 74.2,572.1 65.4,569.9 57.8,572.1 52.3,569.9 44.6,569.9 41.3,566.6"/><polygon points="57.8,571.4 65.4,569.4 74.6,571.4 75.3,577.5 73.1,585.2 68.7,586.3 66.5,580.8 61.1,581.9 58.9,577.5"/><polygon points="56.2,587.8 60.0,585.2 62.6,587.4 57.8,589.8"/><polygon points="49.0,578.6 52.3,577.5 54.9,580.8 51.2,582.1"/></clipPath><g clip-path="url(#uc31)"><g filter="url(#us1)" opacity="0.6"><polygon points="37.0,565.5 39.1,565.4 41.4,564.5 42.6,566.2 42.9,568.6 42.5,570.3 42.8,571.9 41.6,573.6 39.8,575.8 38.1,573.0 38.4,571.9 37.7,569.6 37.6,567.9" fill="#a58ce8"/><polygon points="59.5,572.1 61.1,572.6 63.3,572.4 65.1,572.0 67.1,572.3 67.9,572.1 70.4,571.6 70.5,573.6 70.5,575.8 71.2,577.9 72.4,580.1 70.5,581.2 68.5,581.7 66.0,581.7 64.0,580.9 60.6,580.2 60.5,577.9 59.4,576.0 59.7,575.0" fill="#a58ce8"/><polygon points="56.4,588.4 58.0,586.8 60.6,585.2 62.9,587.7 60.7,587.9 57.3,590.5" fill="#a58ce8"/><polygon points="59.0,546.8 60.4,547.1 62.8,546.7 63.9,546.8 65.7,547.0 66.7,549.1 65.8,551.8 66.8,553.6 64.9,554.2 63.6,554.6 60.6,556.3 60.1,553.3 59.7,552.0 58.9,548.7" fill="#a58ce8"/><polygon points="48.4,579.3 51.8,577.9 54.1,579.5 54.6,580.6 53.4,582.1 51.4,582.2 49.9,580.3" fill="#a58ce8"/></g></g><g filter="url(#um3)" opacity="0.45"><polygon points="19.9,571.1 21.3,568.5 21.5,566.9 22.7,564.2 24.0,562.5 25.0,561.3 27.4,559.7 28.4,557.6 30.3,556.5 32.9,555.8 34.5,555.9 36.7,556.1 39.3,556.0 40.4,557.4 41.6,559.7 41.6,561.7 41.5,564.2 41.8,566.4 42.6,569.5 41.6,570.4 41.1,572.6 39.9,574.8 39.3,575.4 38.0,577.4 36.5,578.5 35.0,579.9 33.9,582.1 32.8,584.0 32.1,586.1 28.9,585.6 27.7,584.7 26.9,583.6 26.5,580.8 24.6,579.9 23.7,578.3 21.6,576.6 21.7,574.3 20.2,573.3" fill="#ad96e9"/><polygon points="44.1,548.6 45.7,547.2 46.4,546.7 47.7,544.7 49.6,544.5 53.0,542.5 53.4,544.3 55.6,546.2 57.2,546.1 58.8,545.8 60.5,546.5 63.5,546.3 66.5,545.5 66.5,547.9 68.2,549.9 66.7,551.9 66.7,553.5 65.4,556.0 64.1,557.4 61.5,558.6 59.4,559.5 58.3,561.1 56.4,561.0 54.2,562.5 52.1,562.5 50.8,561.7 48.6,561.0 47.3,560.5 45.2,558.2 44.8,556.7 43.8,555.3 43.6,553.2 43.8,550.8" fill="#ad96e9"/><polygon points="41.3,560.8 43.7,561.2 44.4,561.7 46.2,561.0 48.0,561.7 50.9,561.8 51.9,562.3 54.7,561.3 55.7,561.5 58.6,561.6 60.3,561.1 61.3,560.7 63.5,560.5 65.4,559.6 67.9,559.9 69.0,560.9 71.8,561.1 73.2,562.8 74.6,564.5 75.7,565.4 77.0,567.0 78.4,568.2 77.8,570.2 75.9,571.0 73.8,571.7 73.1,572.1 70.6,571.5 69.6,570.1 67.0,570.2 65.2,569.9 63.2,569.9 62.1,570.9 60.1,571.0 57.5,572.1 55.3,571.2 53.7,570.5 52.0,570.3 50.4,569.5 48.6,569.8 46.2,570.3 44.7,569.2 43.0,568.1 40.8,567.3 41.5,565.5 41.3,562.9" fill="#ad96e9"/><polygon points="57.7,571.6 59.5,571.5 60.9,571.1 63.8,570.4 65.9,569.0 67.7,570.0 68.6,570.7 70.9,570.9 72.2,571.3 73.9,570.8 74.3,572.8 75.2,575.1 74.9,578.0 75.1,579.3 73.8,581.7 73.7,583.1 72.8,585.0 70.9,585.3 68.0,586.3 67.6,583.9 66.9,582.9 67.0,580.2 65.1,580.9 63.4,582.1 60.8,582.1 60.1,579.4 59.5,577.8 59.1,575.0 57.8,574.0" fill="#ad96e9"/><polygon points="26.0,570.3 26.4,568.0 28.1,566.8 28.1,564.8 29.7,563.2 30.7,563.0 32.6,562.0 34.9,561.1 36.3,562.4 37.1,564.0 37.1,565.9 36.2,568.4 36.3,569.5 34.8,572.0 32.8,573.8 31.2,575.0 27.9,576.3 27.8,574.2 27.2,572.5" fill="#fff"/></g><g filter="url(#um1)"><polygon points="123.1,570.8 123.6,569.8 124.9,567.5 125.6,565.1 126.6,563.3 127.4,561.5 128.9,560.0 129.4,558.5 131.6,557.3 132.9,556.8 133.5,555.9 135.8,555.8 139.3,554.6 141.6,555.0 142.1,556.2 143.6,557.7 145.8,559.1 145.2,559.9 146.4,562.1 146.1,564.3 147.4,565.2 145.9,567.4 145.7,569.1 145.2,570.5 144.0,571.8 144.0,574.4 142.6,575.8 141.3,577.4 140.0,578.1 137.9,579.1 137.0,582.0 137.5,583.6 135.7,585.3 135.0,587.4 133.9,588.1 131.9,588.6 130.3,590.3 128.1,587.5 127.3,585.7 126.6,583.0 127.1,580.4 125.7,578.6 125.1,577.1 124.5,575.3 123.8,573.5" fill="#c8bbef"/><polygon points="147.1,549.2 148.0,547.6 150.1,546.3 151.7,543.6 153.2,542.5 155.1,542.2 156.2,542.9 158.5,544.6 159.3,545.9 161.6,546.3 163.4,546.8 164.5,545.5 167.1,545.3 167.7,544.4 169.5,547.2 170.2,549.5 170.6,551.9 169.6,553.2 169.5,555.2 168.8,557.1 166.7,557.5 164.1,558.9 162.0,560.0 159.9,560.1 158.5,560.2 156.0,560.0 153.7,561.0 152.8,559.3 150.7,558.3 149.3,556.6 149.0,555.7 148.0,553.9 147.9,552.1" fill="#c8bbef"/><polygon points="146.3,561.5 148.4,561.0 151.1,561.3 152.7,560.7 154.1,560.4 156.5,560.8 158.7,560.5 160.5,559.5 163.1,560.3 164.4,559.5 166.6,560.4 168.9,560.8 170.6,561.0 172.4,560.6 173.4,563.0 175.9,563.2 177.4,564.7 177.7,566.3 179.8,567.5 180.8,568.1 181.5,570.9 182.8,572.0 183.1,574.3 184.8,575.0 187.8,574.4 189.8,575.3 188.5,577.7 188.9,579.8 185.9,580.1 185.0,581.1 183.2,580.2 181.7,581.3 179.1,582.8 177.7,585.7 175.9,586.0 173.9,585.9 172.5,585.3 170.9,584.5 171.3,581.3 170.0,580.4 168.8,581.7 166.6,582.9 165.4,584.6 165.2,586.4 165.0,587.6 164.3,589.1 161.7,590.7 160.2,590.8 159.7,588.0 159.1,586.8 158.1,583.8 156.0,582.1 155.0,581.4 153.3,580.0 152.9,577.6 151.5,575.8 151.4,575.1 150.8,572.6 149.2,570.5 148.4,569.9 146.9,568.9 147.4,566.6 147.0,563.3" fill="#c8bbef"/><polygon points="145.0,565.2 147.2,565.5 149.5,565.6 151.4,565.8 151.6,569.2 148.8,569.0 146.8,568.9 145.2,568.6" fill="#fff"/><circle cx="152.1" cy="531.3" r="0.8" fill="#c8bbef"/><circle cx="134.7" cy="541.3" r="0.8" fill="#c8bbef"/><circle cx="180.5" cy="548.4" r="0.8" fill="#c8bbef"/><circle cx="185.4" cy="573.5" r="0.8" fill="#c8bbef"/></g><clipPath id="uc41"><polygon points="123.3,571.2 127.0,561.2 134.1,555.5 141.2,554.7 145.5,558.4 146.9,565.5 144.1,574.0 138.4,579.7 135.5,586.8 129.8,589.7 127.0,585.4 126.1,578.3"/><polygon points="146.9,549.8 151.2,544.1 155.5,542.2 161.2,547.0 168.3,545.0 170.6,551.3 168.3,557.0 162.6,560.4 154.0,560.4 148.4,555.5"/><polygon points="146.9,561.2 162.6,559.8 172.5,561.2 179.7,566.9 183.1,574.0 189.6,575.5 188.2,579.7 181.1,581.2 178.2,585.4 172.5,586.0 169.7,579.7 165.4,584.0 164.0,589.7 160.3,590.5 158.3,584.0 152.6,579.7 151.2,572.6 146.9,568.3"/></clipPath><g clip-path="url(#uc41)"><g filter="url(#us1)" opacity="0.7"><polygon points="147.6,561.3 148.8,561.1 151.2,561.6 152.7,560.3 154.6,559.9 156.9,561.0 158.3,560.5 160.2,560.6 162.7,559.6 163.9,559.6 167.1,559.9 168.7,560.7 170.5,561.2 172.0,561.5 173.4,562.0 175.6,563.1 176.3,564.6 178.4,565.1 179.9,567.0 179.8,568.8 180.7,570.6 182.4,572.1 182.9,574.4 184.8,574.5 187.4,574.3 190.2,575.0 189.3,577.6 187.5,579.5 186.5,580.0 185.2,579.8 183.3,581.3 180.6,581.2 179.0,583.4 178.5,585.1 176.7,585.3 173.8,585.8 172.9,585.7 171.2,584.1 170.9,581.3 169.2,579.9 168.7,580.7 167.1,582.8 164.8,584.3 164.9,585.3 164.0,587.5 164.3,589.2 162.3,590.6 160.4,590.8 159.1,589.0 159.6,586.7 157.9,584.1 156.8,582.1 154.0,581.7 152.7,580.3 152.2,578.6 152.2,575.7 151.2,575.0 150.6,573.3 150.0,571.8 147.9,569.1 147.5,568.4 146.6,566.1 146.4,563.9" fill="#ad96e9"/></g><g filter="url(#us1)" opacity="0.6"><polygon points="147.5,549.3 148.4,547.9 150.4,545.9 151.1,544.3 153.2,543.7 156.0,542.5 156.3,544.1 158.4,544.7 159.8,545.8 161.8,546.7 162.4,547.2 164.4,545.7 166.4,546.1 168.1,544.3 168.7,546.7 169.1,549.7 170.9,550.8 169.4,553.8 169.3,555.0 168.4,557.6 166.0,558.3 163.8,559.2 162.2,560.2 160.3,560.3 158.9,560.2 155.5,560.8 154.6,560.9 152.3,559.0 151.6,557.4 149.2,556.8 148.0,555.5 147.4,554.3 147.4,551.5" fill="#ad96e9"/></g><g filter="url(#us1)" opacity="0.6"><polygon points="124.0,571.3 124.0,569.2 125.2,567.9 125.4,564.8 126.1,562.6 127.2,561.9 128.0,560.5 129.4,559.6 131.4,557.7 132.0,556.2 134.7,555.1 136.7,555.3 138.8,555.3 140.7,554.9 142.0,555.5 144.3,556.7 145.0,558.4 146.1,559.5 146.5,562.1 145.9,563.8 146.2,565.6 146.5,567.0 145.6,569.3 144.8,570.6 144.7,571.7 144.6,573.6 143.1,575.4 140.5,576.6 139.9,578.3 139.0,579.1 138.1,582.0 136.5,583.3 135.6,585.2 135.8,586.6 134.0,587.4 131.1,588.7 130.2,589.4 128.0,587.8 127.2,584.9 126.2,583.2 126.8,580.2 126.3,578.5 124.8,576.8 124.7,574.2 123.5,572.6" fill="#ad96e9"/></g><g filter="url(#us1)" opacity="0.6"><polygon points="125.9,565.6 126.8,563.8 128.0,561.1 129.6,559.6 131.4,558.2 132.4,556.6 134.3,555.9 136.2,555.7 138.6,554.7 141.4,554.9 142.7,556.0 144.2,557.3 145.0,558.1 145.0,560.4 145.6,561.8 145.8,564.7 143.5,565.1 142.5,564.6 140.3,565.1 138.2,565.7 136.0,566.9 134.3,568.1 132.9,567.7 130.6,566.8 127.9,566.3" fill="#9276e4"/></g><g filter="url(#um4)" opacity="0.75"><polygon points="123.3,571.1 124.1,569.0 125.3,566.7 125.5,565.6 126.4,563.8 126.7,561.0 128.2,559.6 129.3,559.0 131.0,557.9 133.3,557.4 134.5,555.3 136.3,555.8 138.5,555.4 140.9,554.6 142.7,556.6 144.4,557.6 145.3,558.2 146.4,560.3 146.5,561.4 146.0,563.6 146.7,565.2 146.8,567.8 145.4,568.4 144.8,570.2 145.0,572.2 144.8,573.4 142.7,574.9 141.7,576.7 139.4,578.4 138.9,579.1 137.3,582.1 136.9,582.7 136.9,585.7 135.4,586.4 133.0,588.1 132.1,589.1 130.1,589.5 128.1,587.7 127.4,585.4 126.7,582.9 126.9,581.3 125.8,579.0 125.9,576.4 124.4,575.0 124.1,573.1" fill="#7658e0"/><polygon points="146.4,549.8 148.4,548.6 150.2,546.5 151.5,543.7 153.9,543.1 155.6,541.6 156.6,543.8 157.8,544.0 159.5,545.6 161.1,547.0 162.5,545.8 164.5,545.7 166.6,545.6 168.6,544.9 168.9,547.3 170.4,549.4 169.9,551.0 170.4,553.8 168.8,554.7 167.6,556.4 165.8,558.8 165.1,559.0 161.9,561.0 160.6,560.9 158.0,560.9 156.6,560.6 154.3,560.7 152.6,559.8 150.6,557.8 149.6,556.7 148.8,554.9 147.8,553.6 147.2,551.9" fill="#7658e0"/><polygon points="146.9,561.7 148.3,560.9 150.2,561.1 152.4,560.4 155.2,559.9 156.2,560.1 159.1,560.1 160.8,560.5 162.2,559.7 164.1,560.5 165.9,560.7 168.4,560.8 170.1,561.5 172.3,561.2 174.6,562.5 175.1,563.1 177.4,564.9 178.4,565.9 180.3,566.4 180.3,569.1 181.6,570.6 182.4,572.2 183.2,573.9 185.9,574.2 187.1,574.7 189.1,575.6 189.0,577.0 187.9,580.3 186.1,580.3 184.5,580.0 183.5,581.0 180.7,581.3 179.4,583.7 177.6,585.3 176.5,585.9 173.9,585.2 172.5,586.1 171.5,583.3 170.3,582.1 169.7,580.4 167.7,581.3 167.0,582.5 164.8,583.8 164.7,585.4 165.0,587.2 163.4,590.3 162.8,590.3 160.3,590.8 159.0,588.0 159.0,585.6 158.9,584.1 156.0,582.7 155.0,581.4 153.2,580.1 152.3,578.5 152.4,575.9 151.2,573.9 151.5,573.0 149.8,571.9 148.1,569.4 146.7,568.6 146.9,566.6 146.7,564.1" fill="#7658e0"/></g><rect x="183.8" y="571.7" width="3.4" height="3.4" fill="#7658e0" opacity="0.85" filter="url(#um1)"/></g><g filter="url(#um2)"><polygon points="226.0,571.2 226.6,569.6 227.5,567.3 229.2,565.1 230.0,563.5 230.1,561.4 231.6,559.9 233.6,558.8 235.0,558.3 235.1,556.3 237.1,556.0 239.1,555.4 241.7,555.4 244.9,555.0 245.3,556.3 247.0,557.6 248.5,559.0 249.6,560.6 249.7,562.4 249.7,563.3 250.7,565.4 248.7,567.1 248.7,568.5 248.9,570.1 248.3,572.4 246.7,573.8 245.6,574.9 244.6,577.1 243.5,578.8 241.8,580.4 241.3,581.7 240.1,583.3 239.7,585.7 239.1,587.3 236.0,587.7 234.2,588.9 233.0,589.8 232.0,587.2 230.4,585.5 229.4,583.7 228.9,580.6 229.2,578.4 229.2,576.6 228.3,574.5 227.0,572.5" fill="#c8bbef"/><polygon points="250.6,549.2 251.7,547.9 253.4,545.9 254.8,543.7 257.1,543.0 258.1,541.9 260.1,542.7 261.2,543.9 262.2,545.3 263.8,546.7 266.4,546.4 268.3,546.6 270.1,546.1 271.4,545.2 272.6,547.2 272.3,549.2 273.6,550.8 272.3,552.7 272.4,555.5 271.5,556.9 268.8,557.4 267.7,559.3 265.6,559.9 263.0,559.9 260.8,560.5 259.0,560.5 257.0,560.4 256.0,559.6 253.8,558.6 253.3,557.2 251.3,556.2 251.4,553.3 250.7,552.2" fill="#c8bbef"/><polygon points="250.1,561.8 251.9,561.3 254.5,560.9 256.2,561.0 258.3,559.9 259.3,561.0 262.1,559.8 264.0,559.5 265.4,559.7 267.2,559.6 269.6,560.6 271.4,560.9 274.3,560.3 275.3,560.7 277.3,562.2 278.4,563.2 280.3,565.0 281.2,566.2 282.3,566.7 284.2,568.3 283.9,569.8 285.5,572.7 285.5,574.0 288.2,574.3 290.1,574.8 292.2,576.1 291.5,577.6 291.4,580.0 289.4,580.1 288.3,580.0 285.5,580.5 284.5,581.0 282.6,582.7 280.8,585.6 279.0,585.6 277.1,585.5 275.2,586.6 274.8,583.9 273.3,582.3 272.8,579.2 270.9,581.8 269.7,582.5 267.9,584.5 267.6,586.0 267.8,587.8 266.9,589.4 265.5,589.8 263.5,591.2 263.3,588.6 262.2,585.7 261.8,584.6 259.2,582.0 257.6,581.1 256.2,580.1 255.2,578.0 254.9,576.4 254.8,574.6 253.8,573.0 252.2,570.9 251.5,569.1 250.1,568.1 249.7,565.4 249.8,563.7" fill="#c8bbef"/><polygon points="248.0,565.3 250.2,566.0 251.8,565.8 254.1,565.9 254.5,569.3 252.4,568.8 250.4,568.6 248.0,568.9" fill="#fff"/><circle cx="255.1" cy="531.3" r="0.8" fill="#c8bbef"/><circle cx="237.7" cy="541.3" r="0.8" fill="#c8bbef"/><circle cx="283.6" cy="548.4" r="0.8" fill="#c8bbef"/><circle cx="288.4" cy="573.5" r="0.8" fill="#c8bbef"/></g><clipPath id="uc51"><polygon points="226.3,571.2 230.0,561.2 237.2,555.5 244.3,554.7 248.6,558.4 250.0,565.5 247.1,574.0 241.4,579.7 238.6,586.8 232.9,589.7 230.0,585.4 229.2,578.3"/><polygon points="250.0,549.8 254.2,544.1 258.5,542.2 264.2,547.0 271.3,545.0 273.6,551.3 271.3,557.0 265.6,560.4 257.1,560.4 251.4,555.5"/><polygon points="250.0,561.2 265.6,559.8 275.6,561.2 282.7,566.9 286.1,574.0 292.7,575.5 291.2,579.7 284.1,581.2 281.3,585.4 275.6,586.0 272.7,579.7 268.5,584.0 267.1,589.7 263.4,590.5 261.4,584.0 255.7,579.7 254.2,572.6 250.0,568.3"/></clipPath><g clip-path="url(#uc51)"><g filter="url(#us1)" opacity="0.7"><polygon points="249.4,561.1 251.6,561.0 253.5,561.4 255.9,561.0 258.4,560.5 259.7,559.8 262.1,559.6 263.5,559.5 266.0,559.7 267.6,560.1 270.1,561.0 271.4,561.2 273.9,561.2 276.3,560.8 276.8,562.3 278.2,563.2 279.4,565.2 281.9,566.3 283.1,566.8 283.3,568.6 283.7,569.9 285.2,572.1 286.3,574.1 287.7,575.0 290.4,575.0 292.5,575.3 292.5,578.2 290.8,580.3 289.9,580.5 287.4,581.0 286.0,580.7 283.5,581.2 282.3,583.0 281.8,585.2 279.8,585.4 277.0,585.7 275.1,585.5 274.9,584.2 273.3,582.1 272.8,579.2 270.8,581.4 270.5,583.0 268.6,583.4 268.3,585.3 267.9,587.2 267.7,589.7 264.8,589.6 263.0,590.8 262.4,587.8 262.4,585.7 260.9,583.6 259.0,582.2 257.0,580.5 255.1,579.6 255.9,578.4 255.0,575.7 255.2,574.1 254.3,572.7 252.7,570.8 252.0,569.2 249.8,568.6 249.7,565.3 249.4,563.9" fill="#ad96e9"/></g><g filter="url(#us1)" opacity="0.7"><polygon points="249.9,550.0 251.3,548.5 252.1,546.7 254.5,544.6 256.8,542.7 259.0,542.4 259.4,543.9 261.3,544.9 262.2,546.0 263.5,546.4 265.4,545.9 267.9,545.6 269.1,545.9 271.7,544.9 271.7,547.4 272.9,549.0 273.3,551.1 272.8,552.7 271.4,555.0 270.9,556.3 269.1,558.3 268.0,558.6 266.1,560.1 264.0,560.9 261.1,560.6 259.3,560.0 257.7,560.6 256.3,558.7 253.9,558.5 252.5,556.6 251.1,556.0 250.6,553.1 249.9,552.3" fill="#ad96e9"/></g><g filter="url(#us1)" opacity="0.7"><polygon points="225.7,571.1 226.7,569.1 227.5,567.7 228.7,565.6 229.9,563.2 230.0,560.7 231.9,559.5 232.7,558.5 234.6,557.8 235.7,556.7 237.6,556.2 239.4,555.8 242.2,555.2 244.9,554.3 245.5,555.9 246.9,556.9 248.1,559.0 249.6,560.7 249.7,561.8 249.4,563.6 249.3,565.0 249.4,567.1 249.1,569.0 247.7,571.1 247.6,572.3 246.9,573.9 246.3,576.1 243.8,577.5 243.3,578.8 241.1,580.3 240.8,581.5 239.4,583.3 238.8,584.8 239.1,586.6 237.1,587.6 234.3,588.6 232.4,589.2 231.7,587.8 229.6,585.7 229.8,582.5 228.9,581.0 229.8,578.8 228.6,575.9 228.1,574.1 227.5,572.4" fill="#ad96e9"/></g><g filter="url(#us1)" opacity="0.65"><polygon points="229.8,565.2 230.1,562.9 231.8,560.8 232.3,559.4 234.2,557.9 235.7,556.6 237.1,555.3 239.6,555.6 242.0,554.4 243.6,554.5 246.4,555.3 247.1,557.5 248.0,558.8 249.3,560.7 248.4,562.8 248.7,564.5 247.4,564.6 245.3,565.4 243.3,565.2 241.7,566.4 239.1,566.4 238.0,568.3 236.3,568.6 233.9,567.2 230.9,567.0" fill="#8464e2"/></g><g filter="url(#us0)" opacity="0.5"><polygon points="263.6,546.5 266.8,545.9 268.7,545.8 270.1,546.3 271.5,544.9 271.7,547.1 272.4,549.3 272.2,551.7 272.9,554.6 270.6,555.4 270.2,556.6 267.4,556.8 266.0,557.7 266.5,556.7 266.0,554.5 265.9,552.1 264.2,550.0 264.4,548.6" fill="#9276e4"/></g><g filter="url(#um4)" opacity="0.75"><polygon points="225.8,570.7 227.3,568.7 228.5,567.7 228.9,565.2 229.8,562.9 230.2,561.0 231.5,560.7 232.5,559.3 234.7,557.2 236.4,556.6 237.2,555.3 239.6,555.9 241.7,555.3 244.7,555.2 246.0,555.8 246.9,557.0 248.4,558.9 249.4,559.8 248.9,561.3 250.2,563.1 249.8,565.1 249.0,567.8 248.7,569.1 248.7,570.7 248.1,572.7 247.3,574.1 246.2,575.7 244.1,577.4 243.3,578.9 241.7,579.7 240.5,581.7 239.6,583.6 239.6,585.6 238.2,587.0 236.8,587.9 234.7,588.1 233.5,590.3 231.0,588.1 230.2,584.7 230.0,582.8 229.3,580.1 229.7,578.5 228.1,576.6 227.7,575.4 226.7,573.2" fill="#7658e0"/><polygon points="249.9,549.9 251.5,548.1 253.2,546.7 254.5,544.6 256.5,543.1 259.0,542.9 260.0,543.5 260.7,545.1 263.0,546.0 263.7,547.1 266.1,546.0 267.6,546.3 269.9,545.8 271.6,545.6 272.5,546.5 272.6,548.5 274.2,551.5 272.4,552.7 271.7,555.2 271.3,556.3 269.6,557.8 267.2,559.9 266.2,560.9 264.0,560.5 260.7,560.2 259.4,561.0 256.8,559.8 256.3,559.5 254.7,557.9 252.5,556.5 250.9,555.3 251.0,554.3 251.1,551.7" fill="#7658e0"/><polygon points="250.6,561.2 252.0,560.8 253.3,560.7 255.4,560.2 257.3,559.9 259.8,559.8 261.9,560.0 264.2,560.2 266.0,560.0 268.0,560.7 270.3,559.9 271.3,560.4 273.2,561.3 276.2,560.6 276.6,563.0 277.9,562.9 280.4,564.3 280.6,565.9 282.3,566.8 283.3,569.1 285.0,571.1 285.3,572.9 286.4,574.1 288.5,574.7 291.1,574.6 293.3,575.9 292.1,577.6 291.0,580.4 289.4,579.5 288.4,580.6 285.8,580.1 284.0,581.8 283.3,582.8 281.0,586.1 279.7,585.7 277.0,586.0 275.0,585.3 274.9,583.3 274.4,581.4 272.1,579.5 271.0,581.8 269.8,582.3 268.5,583.7 267.3,585.3 267.8,587.8 266.4,590.4 265.3,590.1 263.1,591.2 262.5,587.7 262.5,586.3 261.9,583.7 260.1,581.9 257.3,580.7 255.6,580.2 255.3,577.9 255.1,575.7 255.3,573.9 254.2,572.9 253.2,570.7 251.4,569.7 249.9,567.9 250.2,565.9 249.8,563.9" fill="#7658e0"/></g><rect x="286.8" y="571.7" width="3.4" height="3.4" fill="#7658e0" opacity="0.85" filter="url(#um1)"/></g><circle cx="84.4" cy="576.9" r="1" fill="#4a30e0"/><rect x="274" y="499" width="8.5" height="43.5" fill="url(#cbE)"/><text x="285.6" y="503.4" font-size="7" fill="#222">1.00</text><line x1="274" y1="501" x2="275.6" y2="501" stroke="#fff" stroke-width="0.4"/><line x1="280.9" y1="501" x2="282.5" y2="501" stroke="#fff" stroke-width="0.4"/><text x="285.6" y="513.9" font-size="7" fill="#222">0.75</text><line x1="274" y1="511.5" x2="275.6" y2="511.5" stroke="#fff" stroke-width="0.4"/><line x1="280.9" y1="511.5" x2="282.5" y2="511.5" stroke="#fff" stroke-width="0.4"/><text x="285.6" y="524.4" font-size="7" fill="#222">0.50</text><line x1="274" y1="522" x2="275.6" y2="522" stroke="#fff" stroke-width="0.4"/><line x1="280.9" y1="522" x2="282.5" y2="522" stroke="#fff" stroke-width="0.4"/><text x="285.6" y="535.1" font-size="7" fill="#222">0.25</text><line x1="274" y1="532.7" x2="275.6" y2="532.7" stroke="#fff" stroke-width="0.4"/><line x1="280.9" y1="532.7" x2="282.5" y2="532.7" stroke="#fff" stroke-width="0.4"/><text x="285.6" y="545.6" font-size="7" fill="#222">0.00</text><line x1="274" y1="543.2" x2="275.6" y2="543.2" stroke="#fff" stroke-width="0.4"/><line x1="280.9" y1="543.2" x2="282.5" y2="543.2" stroke="#fff" stroke-width="0.4"/><path d="M303.5,544 L347,490 M302,560 L357,727" stroke="#666" stroke-width="0.55" stroke-dasharray="2.6 2" fill="none"/><rect x="96.3" y="613.6" width="12.2" height="12.2" fill="#dba62c" stroke="#3a3a3a" stroke-width="0.5"/><path d="M96.3,617.0 H108.5 M96.3,620.3 H108.5 M96.3,623.4 H108.5 M102.39999999999999,613.6 V617.0 M102.39999999999999,623.4 V625.8000000000001" stroke="#3a3a3a" stroke-width="0.5" fill="none"/><text x="115" y="623.6" font-size="10.6" fill="#000">NE</text><rect x="139.6" y="613.6" width="12.2" height="12.2" fill="#36b4ea" stroke="#3a3a3a" stroke-width="0.5"/><path d="M139.6,617.0 H151.79999999999998 M139.6,620.3 H151.79999999999998 M139.6,623.4 H151.79999999999998 M145.7,613.6 V617.0 M145.7,623.4 V625.8000000000001" stroke="#3a3a3a" stroke-width="0.5" fill="none"/><text x="159" y="623.6" font-size="10.6" fill="#000">E-con</text><rect x="194" y="613.6" width="12.2" height="12.2" fill="#ee6076" stroke="#3a3a3a" stroke-width="0.5"/><path d="M194,617.0 H206.2 M194,620.3 H206.2 M194,623.4 H206.2 M200.1,613.6 V617.0 M200.1,623.4 V625.8000000000001" stroke="#3a3a3a" stroke-width="0.5" fill="none"/><text x="213" y="623.6" font-size="10.6" fill="#000" letter-spacing="-0.4">E-Yd1</text><path d="M51.9,639.2 V728.5 H291.8" stroke="#444" stroke-width="0.6" fill="none"/><line x1="49.6" y1="724.7" x2="51.9" y2="724.7" stroke="#444" stroke-width="0.6"/><text x="48.4" y="728.2" font-size="10" text-anchor="end" fill="#222">0.00</text><line x1="49.6" y1="705.2" x2="51.9" y2="705.2" stroke="#444" stroke-width="0.6"/><text x="48.4" y="708.7" font-size="10" text-anchor="end" fill="#222">0.25</text><line x1="49.6" y1="685.7" x2="51.9" y2="685.7" stroke="#444" stroke-width="0.6"/><text x="48.4" y="689.2" font-size="10" text-anchor="end" fill="#222">0.50</text><line x1="49.6" y1="666.2" x2="51.9" y2="666.2" stroke="#444" stroke-width="0.6"/><text x="48.4" y="669.7" font-size="10" text-anchor="end" fill="#222">0.75</text><line x1="49.6" y1="646.7" x2="51.9" y2="646.7" stroke="#444" stroke-width="0.6"/><text x="48.4" y="650.2" font-size="10" text-anchor="end" fill="#222">1.00</text><text x="23.6" y="686" font-size="9.9" text-anchor="middle" fill="#111" transform="rotate(-90 23.6 686)">Expression Level</text><line x1="74.8" y1="728.5" x2="74.8" y2="731" stroke="#444" stroke-width="0.6"/><line x1="113.6" y1="728.5" x2="113.6" y2="731" stroke="#444" stroke-width="0.6"/><line x1="152.3" y1="728.5" x2="152.3" y2="731" stroke="#444" stroke-width="0.6"/><line x1="191.1" y1="728.5" x2="191.1" y2="731" stroke="#444" stroke-width="0.6"/><line x1="229.8" y1="728.5" x2="229.8" y2="731" stroke="#444" stroke-width="0.6"/><line x1="268.5" y1="728.5" x2="268.5" y2="731" stroke="#444" stroke-width="0.6"/><line x1="63.099999999999994" y1="724.7" x2="63.099999999999994" y2="676.3" stroke="#555" stroke-width="0.45"/><path d="M64.1,724.7c0,-2.6 2.6,-4.4 2.6,-7c0,-3.2 2.2,-5.4 2.2,-8.6c0,-3.6 -1.6,-6.2 -1.6,-9.8c0,-3 -2.3,-5.2 -2.3,-8.2c0,-3 -1.3,-5.2 -1.3,-8.2c0,-2.4 -.6,-4.1 -.6,-6.6c0,2.4 -.6,4.1 -.6,6.6c0,3 -1.3,5.2 -1.3,8.2c0,3 -2.3,5.2 -2.3,8.2c0,3.6 -1.6,6.2 -1.6,9.8c0,3.2 2.2,5.4 2.2,8.6c0,2.6 2.6,4.4 2.6,7Z" fill="#dba62c" stroke="#3a3a3a" stroke-width="0.35" stroke-linejoin="round"/><line x1="63.099999999999994" y1="724.7" x2="63.099999999999994" y2="676.3" stroke="#333" stroke-width="0.3" opacity="0.7"/><rect x="62.199999999999996" y="702.1" width="1.8" height="12.5" fill="none" stroke="#333" stroke-width="0.3"/><circle cx="63.099999999999994" cy="709.1" r="0.45" fill="#222"/><line x1="74.8" y1="724.7" x2="74.8" y2="668.5" stroke="#555" stroke-width="0.45"/><path d="M75.8,724.7c0,-3.5 2.6,-6 2.6,-9.5c0,-4.3 2.2,-7.3 2.2,-11.6c0,-3.9 -1.6,-6.6 -1.6,-10.5c0,-3.2 -2.3,-5.5 -2.3,-8.8c0,-3.2 -1.3,-5.5 -1.3,-8.8c0,-2.6 -.6,-4.4 -.6,-7c0,2.6 -.6,4.4 -.6,7c0,3.2 -1.3,5.5 -1.3,8.8c0,3.2 -2.3,5.5 -2.3,8.8c0,3.9 -1.6,6.6 -1.6,10.5c0,4.3 2.2,7.3 2.2,11.6c0,3.5 2.6,6 2.6,9.5Z" fill="#36b4ea" stroke="#3a3a3a" stroke-width="0.35" stroke-linejoin="round"/><line x1="74.8" y1="724.7" x2="74.8" y2="668.5" stroke="#333" stroke-width="0.3" opacity="0.7"/><rect x="73.89999999999999" y="694.3" width="1.8" height="17.2" fill="none" stroke="#333" stroke-width="0.3"/><circle cx="74.8" cy="703.6" r="0.45" fill="#222"/><line x1="86.5" y1="724.7" x2="86.5" y2="664.6" stroke="#555" stroke-width="0.45"/><path d="M87.5,724.7c0,-3.9 2.6,-6.6 2.6,-10.5c0,-4.8 2.2,-8.1 2.2,-12.9c0,-4.1 -1.6,-6.9 -1.6,-11c0,-3.4 -2.3,-5.8 -2.3,-9.2c0,-3.4 -1.3,-5.8 -1.3,-9.2c0,-2.7 -.6,-4.6 -.6,-7.3c0,2.7 -.6,4.6 -.6,7.3c0,3.4 -1.3,5.8 -1.3,9.2c0,3.4 -2.3,5.8 -2.3,9.2c0,4.1 -1.6,6.9 -1.6,11c0,4.8 2.2,8.1 2.2,12.9c0,3.9 2.6,6.6 2.6,10.5Z" fill="#ee6076" stroke="#3a3a3a" stroke-width="0.35" stroke-linejoin="round"/><line x1="86.5" y1="724.7" x2="86.5" y2="664.6" stroke="#333" stroke-width="0.3" opacity="0.7"/><rect x="85.6" y="692.7" width="1.8" height="16.4" fill="none" stroke="#333" stroke-width="0.3"/><circle cx="86.5" cy="701.3" r="0.45" fill="#222"/><line x1="101.89999999999999" y1="724.7" x2="101.89999999999999" y2="674.8" stroke="#555" stroke-width="0.45"/><path d="M102.9,724.7c0,-3.5 2.6,-6 2.6,-9.5c0,-4.3 2.2,-7.3 2.2,-11.6c0,-3.2 -1.6,-5.5 -1.6,-8.7c0,-2.7 -2.3,-4.5 -2.3,-7.2c0,-2.7 -1.3,-4.5 -1.3,-7.2c0,-2.1 -.6,-3.6 -.6,-5.8c0,2.1 -.6,3.6 -.6,5.8c0,2.7 -1.3,4.5 -1.3,7.2c0,2.7 -2.3,4.5 -2.3,7.2c0,3.2 -1.6,5.5 -1.6,8.7c0,4.3 2.2,7.3 2.2,11.6c0,3.5 2.6,6 2.6,9.5Z" fill="#dba62c" stroke="#3a3a3a" stroke-width="0.35" stroke-linejoin="round"/><line x1="101.89999999999999" y1="724.7" x2="101.89999999999999" y2="674.8" stroke="#333" stroke-width="0.3" opacity="0.7"/><rect x="100.99999999999999" y="697.4" width="1.8" height="11.7" fill="none" stroke="#333" stroke-width="0.3"/><circle cx="101.89999999999999" cy="703.6" r="0.45" fill="#222"/><line x1="113.6" y1="724.7" x2="113.6" y2="663.1" stroke="#555" stroke-width="0.45"/><path d="M114.6,724.7c0,-5.2 2.6,-8.8 2.6,-14c0,-6.3 2.2,-10.8 2.2,-17.2c0,-3.4 -1.6,-5.7 -1.6,-9.1c0,-2.8 -2.3,-4.8 -2.3,-7.6c0,-2.8 -1.3,-4.8 -1.3,-7.6c0,-2.3 -.6,-3.8 -.6,-6.1c0,2.3 -.6,3.8 -.6,6.1c0,2.8 -1.3,4.8 -1.3,7.6c0,2.8 -2.3,4.8 -2.3,7.6c0,3.4 -1.6,5.7 -1.6,9.1c0,6.3 2.2,10.8 2.2,17.2c0,5.2 2.6,8.8 2.6,14Z" fill="#36b4ea" stroke="#3a3a3a" stroke-width="0.35" stroke-linejoin="round"/><line x1="113.6" y1="724.7" x2="113.6" y2="663.1" stroke="#333" stroke-width="0.3" opacity="0.7"/><rect x="112.69999999999999" y="685.7" width="1.8" height="14.8" fill="none" stroke="#333" stroke-width="0.3"/><circle cx="113.6" cy="693.5" r="0.45" fill="#222"/><line x1="125.3" y1="724.7" x2="125.3" y2="652.9" stroke="#555" stroke-width="0.45"/><path d="M126.3,724.7c0,-5.8 2.6,-10 2.6,-15.8c0,-7.1 2.2,-12.2 2.2,-19.3c0,-4.1 -1.6,-6.9 -1.6,-11c0,-3.4 -2.3,-5.8 -2.3,-9.2c0,-3.4 -1.3,-5.8 -1.3,-9.2c0,-2.7 -.6,-4.6 -.6,-7.3c0,2.7 -.6,4.6 -.6,7.3c0,3.4 -1.3,5.8 -1.3,9.2c0,3.4 -2.3,5.8 -2.3,9.2c0,4.1 -1.6,6.9 -1.6,11c0,7.1 2.2,12.2 2.2,19.3c0,5.8 2.6,10 2.6,15.8Z" fill="#ee6076" stroke="#3a3a3a" stroke-width="0.35" stroke-linejoin="round"/><line x1="125.3" y1="724.7" x2="125.3" y2="652.9" stroke="#333" stroke-width="0.3" opacity="0.7"/><rect x="124.39999999999999" y="679.5" width="1.8" height="19.5" fill="none" stroke="#333" stroke-width="0.3"/><circle cx="125.3" cy="689.6" r="0.45" fill="#222"/><line x1="140.60000000000002" y1="724.7" x2="140.60000000000002" y2="665.4" stroke="#555" stroke-width="0.45"/><path d="M141.6,724.7c0,-2.6 2.6,-4.4 2.6,-7c0,-3.2 2.2,-5.4 2.2,-8.6c0,-4.8 -1.6,-8.3 -1.6,-13.1c0,-4 -2.3,-6.9 -2.3,-10.9c0,-4 -1.3,-6.9 -1.3,-10.9c0,-3.2 -.6,-5.5 -.6,-8.7c0,3.2 -.6,5.5 -.6,8.7c0,4 -1.3,6.9 -1.3,10.9c0,4 -2.3,6.9 -2.3,10.9c0,4.8 -1.6,8.3 -1.6,13.1c0,3.2 2.2,5.4 2.2,8.6c0,2.6 2.6,4.4 2.6,7Z" fill="#dba62c" stroke="#3a3a3a" stroke-width="0.35" stroke-linejoin="round"/><line x1="140.60000000000002" y1="724.7" x2="140.60000000000002" y2="665.4" stroke="#333" stroke-width="0.3" opacity="0.7"/><rect x="139.70000000000002" y="701.3" width="1.8" height="14.0" fill="none" stroke="#333" stroke-width="0.3"/><circle cx="140.60000000000002" cy="709.1" r="0.45" fill="#222"/><line x1="152.3" y1="724.7" x2="152.3" y2="665.4" stroke="#555" stroke-width="0.45"/><path d="M153.3,724.7c0,-2.6 2.6,-4.4 2.6,-7c0,-3.2 2.2,-5.4 2.2,-8.6c0,-4.8 -1.6,-8.3 -1.6,-13.1c0,-4 -2.3,-6.9 -2.3,-10.9c0,-4 -1.3,-6.9 -1.3,-10.9c0,-3.2 -.6,-5.5 -.6,-8.7c0,3.2 -.6,5.5 -.6,8.7c0,4 -1.3,6.9 -1.3,10.9c0,4 -2.3,6.9 -2.3,10.9c0,4.8 -1.6,8.3 -1.6,13.1c0,3.2 2.2,5.4 2.2,8.6c0,2.6 2.6,4.4 2.6,7Z" fill="#36b4ea" stroke="#3a3a3a" stroke-width="0.35" stroke-linejoin="round"/><line x1="152.3" y1="724.7" x2="152.3" y2="665.4" stroke="#333" stroke-width="0.3" opacity="0.7"/><rect x="151.4" y="697.4" width="1.8" height="17.2" fill="none" stroke="#333" stroke-width="0.3"/><circle cx="152.3" cy="707.5" r="0.45" fill="#222"/><line x1="164.0" y1="724.7" x2="164.0" y2="662.3" stroke="#555" stroke-width="0.45"/><path d="M165,724.7c0,-3.9 2.6,-6.6 2.6,-10.5c0,-4.8 2.2,-8.1 2.2,-12.9c0,-4.3 -1.6,-7.4 -1.6,-11.7c0,-3.6 -2.3,-6.1 -2.3,-9.8c0,-3.6 -1.3,-6.1 -1.3,-9.8c0,-2.9 -.6,-4.9 -.6,-7.8c0,2.9 -.6,4.9 -.6,7.8c0,3.6 -1.3,6.1 -1.3,9.8c0,3.6 -2.3,6.1 -2.3,9.8c0,4.3 -1.6,7.4 -1.6,11.7c0,4.8 2.2,8.1 2.2,12.9c0,3.9 2.6,6.6 2.6,10.5Z" fill="#ee6076" stroke="#3a3a3a" stroke-width="0.35" stroke-linejoin="round"/><line x1="164.0" y1="724.7" x2="164.0" y2="662.3" stroke="#333" stroke-width="0.3" opacity="0.7"/><rect x="163.1" y="689.6" width="1.8" height="17.9" fill="none" stroke="#333" stroke-width="0.3"/><circle cx="164.0" cy="699.7" r="0.45" fill="#222"/><line x1="179.4" y1="724.7" x2="179.4" y2="674.8" stroke="#555" stroke-width="0.45"/><path d="M180.4,724.7c0,-3.2 2.6,-5.5 2.6,-8.8c0,-4 2.2,-6.8 2.2,-10.7c0,-3.4 -1.6,-5.7 -1.6,-9.1c0,-2.8 -2.3,-4.8 -2.3,-7.6c0,-2.8 -1.3,-4.8 -1.3,-7.6c0,-2.3 -.6,-3.8 -.6,-6.1c0,2.3 -.6,3.8 -.6,6.1c0,2.8 -1.3,4.8 -1.3,7.6c0,2.8 -2.3,4.8 -2.3,7.6c0,3.4 -1.6,5.7 -1.6,9.1c0,4 2.2,6.8 2.2,10.7c0,3.2 2.6,5.5 2.6,8.8Z" fill="#dba62c" stroke="#3a3a3a" stroke-width="0.35" stroke-linejoin="round"/><line x1="179.4" y1="724.7" x2="179.4" y2="674.8" stroke="#333" stroke-width="0.3" opacity="0.7"/><rect x="178.5" y="699.0" width="1.8" height="12.5" fill="none" stroke="#333" stroke-width="0.3"/><circle cx="179.4" cy="705.2" r="0.45" fill="#222"/><line x1="191.1" y1="724.7" x2="191.1" y2="666.2" stroke="#555" stroke-width="0.45"/><path d="M192.1,724.7c0,-3.6 2.6,-6.2 2.6,-9.8c0,-4.4 2.2,-7.6 2.2,-12c0,-4.1 -1.6,-6.9 -1.6,-11c0,-3.4 -2.3,-5.8 -2.3,-9.2c0,-3.4 -1.3,-5.8 -1.3,-9.2c0,-2.7 -.6,-4.6 -.6,-7.3c0,2.7 -.6,4.6 -.6,7.3c0,3.4 -1.3,5.8 -1.3,9.2c0,3.4 -2.3,5.8 -2.3,9.2c0,4.1 -1.6,6.9 -1.6,11c0,4.4 2.2,7.6 2.2,12c0,3.6 2.6,6.2 2.6,9.8Z" fill="#36b4ea" stroke="#3a3a3a" stroke-width="0.35" stroke-linejoin="round"/><line x1="191.1" y1="724.7" x2="191.1" y2="666.2" stroke="#333" stroke-width="0.3" opacity="0.7"/><rect x="190.2" y="695.1" width="1.8" height="15.6" fill="none" stroke="#333" stroke-width="0.3"/><circle cx="191.1" cy="702.9" r="0.45" fill="#222"/><line x1="202.79999999999998" y1="724.7" x2="202.79999999999998" y2="664.6" stroke="#555" stroke-width="0.45"/><path d="M203.8,724.7c0,-3.6 2.6,-6.2 2.6,-9.8c0,-4.4 2.2,-7.6 2.2,-12c0,-4.2 -1.6,-7.2 -1.6,-11.5c0,-3.5 -2.3,-6 -2.3,-9.6c0,-3.5 -1.3,-6 -1.3,-9.6c0,-2.8 -.6,-4.8 -.6,-7.6c0,2.8 -.6,4.8 -.6,7.6c0,3.5 -1.3,6 -1.3,9.6c0,3.5 -2.3,6 -2.3,9.6c0,4.2 -1.6,7.2 -1.6,11.5c0,4.4 2.2,7.6 2.2,12c0,3.6 2.6,6.2 2.6,9.8Z" fill="#ee6076" stroke="#3a3a3a" stroke-width="0.35" stroke-linejoin="round"/><line x1="202.79999999999998" y1="724.7" x2="202.79999999999998" y2="664.6" stroke="#333" stroke-width="0.3" opacity="0.7"/><rect x="201.89999999999998" y="694.3" width="1.8" height="14.8" fill="none" stroke="#333" stroke-width="0.3"/><circle cx="202.79999999999998" cy="702.1" r="0.45" fill="#222"/><line x1="218.10000000000002" y1="724.7" x2="218.10000000000002" y2="649.8" stroke="#555" stroke-width="0.45"/><path d="M218.9,724.7c0,-3.5 1,-5.9 1,-9.4c0,-2.9 1.6,-4.9 1.6,-7.8c0,-1.4 2.2,-2.5 2.2,-3.9c0,-1.4 -2.2,-2.5 -2.2,-3.9c0,-2.3 -1.2,-3.9 -1.2,-6.2c0,-2.9 -1,-4.9 -1,-7.8c0,-4.3 -.8,-7.4 -.8,-11.7c0,-8.9 -.4,-15.2 -.4,-24.2c0,8.9 -.4,15.2 -.4,24.2c0,4.3 -.8,7.4 -.8,11.7c0,2.9 -1,4.9 -1,7.8c0,2.3 -1.2,3.9 -1.2,6.2c0,1.4 -2.2,2.5 -2.2,3.9c0,1.4 2.2,2.5 2.2,3.9c0,2.9 1.6,4.9 1.6,7.8c0,3.5 1,5.9 1,9.4Z" fill="#dba62c" stroke="#3a3a3a" stroke-width="0.35" stroke-linejoin="round"/><line x1="218.10000000000002" y1="724.7" x2="218.10000000000002" y2="649.8" stroke="#333" stroke-width="0.3" opacity="0.7"/><rect x="217.20000000000002" y="698.2" width="1.8" height="10.9" fill="none" stroke="#333" stroke-width="0.3"/><circle cx="218.10000000000002" cy="703.6" r="0.45" fill="#222"/><line x1="229.8" y1="724.7" x2="229.8" y2="652.9" stroke="#555" stroke-width="0.45"/><path d="M230.8,724.7c0,-3.6 2.6,-6.2 2.6,-9.8c0,-4.4 2.2,-7.6 2.2,-12c0,-5.5 -1.6,-9.4 -1.6,-15c0,-4.6 -2.3,-7.9 -2.3,-12.5c0,-4.6 -1.3,-7.9 -1.3,-12.5c0,-3.7 -.6,-6.3 -.6,-10c0,3.7 -.6,6.3 -.6,10c0,4.6 -1.3,7.9 -1.3,12.5c0,4.6 -2.3,7.9 -2.3,12.5c0,5.5 -1.6,9.4 -1.6,15c0,4.4 2.2,7.6 2.2,12c0,3.6 2.6,6.2 2.6,9.8Z" fill="#36b4ea" stroke="#3a3a3a" stroke-width="0.35" stroke-linejoin="round"/><line x1="229.8" y1="724.7" x2="229.8" y2="652.9" stroke="#333" stroke-width="0.3" opacity="0.7"/><rect x="228.9" y="694.3" width="1.8" height="14.8" fill="none" stroke="#333" stroke-width="0.3"/><circle cx="229.8" cy="702.1" r="0.45" fill="#222"/><line x1="241.5" y1="724.7" x2="241.5" y2="646.7" stroke="#555" stroke-width="0.45"/><path d="M242.5,724.7c0,-3.9 2.6,-6.6 2.6,-10.5c0,-4.8 2.2,-8.1 2.2,-12.9c0,-6.1 -1.6,-10.3 -1.6,-16.4c0,-5.1 -2.3,-8.6 -2.3,-13.7c0,-5.1 -1.3,-8.6 -1.3,-13.6c0,-4 -.6,-6.9 -.6,-10.9c0,4 -.6,6.9 -.6,10.9c0,5.1 -1.3,8.6 -1.3,13.6c0,5.1 -2.3,8.6 -2.3,13.7c0,6.1 -1.6,10.3 -1.6,16.4c0,4.8 2.2,8.1 2.2,12.9c0,3.9 2.6,6.6 2.6,10.5Z" fill="#ee6076" stroke="#3a3a3a" stroke-width="0.35" stroke-linejoin="round"/><line x1="241.5" y1="724.7" x2="241.5" y2="646.7" stroke="#333" stroke-width="0.3" opacity="0.7"/><rect x="240.6" y="691.9" width="1.8" height="15.6" fill="none" stroke="#333" stroke-width="0.3"/><circle cx="241.5" cy="700.5" r="0.45" fill="#222"/><line x1="256.8" y1="724.7" x2="256.8" y2="670.9" stroke="#555" stroke-width="0.45"/><path d="M257.6,724.7c0,-3.5 1,-5.9 1,-9.4c0,-2.9 1.8,-4.9 1.8,-7.8c0,-1.4 2,-2.5 2,-3.9c0,-1.4 -2,-2.5 -2,-3.9c0,-2.3 -1.6,-3.9 -1.6,-6.2c0,-2.9 -1.1,-4.9 -1.1,-7.8c0,-5.5 -.9,-9.3 -.9,-14.8c0,5.5 -.9,9.3 -.9,14.8c0,2.9 -1.1,4.9 -1.1,7.8c0,2.3 -1.6,3.9 -1.6,6.2c0,1.4 -2,2.5 -2,3.9c0,1.4 2,2.5 2,3.9c0,2.9 1.8,4.9 1.8,7.8c0,3.5 1,5.9 1,9.4Z" fill="#dba62c" stroke="#3a3a3a" stroke-width="0.35" stroke-linejoin="round"/><line x1="256.8" y1="724.7" x2="256.8" y2="670.9" stroke="#333" stroke-width="0.3" opacity="0.7"/><rect x="255.9" y="699.0" width="1.8" height="10.1" fill="none" stroke="#333" stroke-width="0.3"/><circle cx="256.8" cy="703.6" r="0.45" fill="#222"/><line x1="268.5" y1="724.7" x2="268.5" y2="654.5" stroke="#555" stroke-width="0.45"/><path d="M269.5,724.7c0,-3.9 2.6,-6.6 2.6,-10.5c0,-4.8 2.2,-8.1 2.2,-12.9c0,-5.2 -1.6,-8.8 -1.6,-14c0,-4.3 -2.3,-7.4 -2.3,-11.7c0,-4.3 -1.3,-7.4 -1.3,-11.7c0,-3.5 -.6,-5.9 -.6,-9.4c0,3.5 -.6,5.9 -.6,9.4c0,4.3 -1.3,7.4 -1.3,11.7c0,4.3 -2.3,7.4 -2.3,11.7c0,5.2 -1.6,8.8 -1.6,14c0,4.8 2.2,8.1 2.2,12.9c0,3.9 2.6,6.6 2.6,10.5Z" fill="#36b4ea" stroke="#3a3a3a" stroke-width="0.35" stroke-linejoin="round"/><line x1="268.5" y1="724.7" x2="268.5" y2="654.5" stroke="#333" stroke-width="0.3" opacity="0.7"/><rect x="267.6" y="692.7" width="1.8" height="15.6" fill="none" stroke="#333" stroke-width="0.3"/><circle cx="268.5" cy="701.3" r="0.45" fill="#222"/><line x1="280.2" y1="724.7" x2="280.2" y2="657.6" stroke="#555" stroke-width="0.45"/><path d="M281.2,724.7c0,-3.9 2.6,-6.6 2.6,-10.5c0,-4.8 2.2,-8.1 2.2,-12.9c0,-4.8 -1.6,-8.3 -1.6,-13.1c0,-4 -2.3,-6.9 -2.3,-10.9c0,-4 -1.3,-6.9 -1.3,-10.9c0,-3.2 -.6,-5.5 -.6,-8.7c0,3.2 -.6,5.5 -.6,8.7c0,4 -1.3,6.9 -1.3,10.9c0,4 -2.3,6.9 -2.3,10.9c0,4.8 -1.6,8.3 -1.6,13.1c0,4.8 2.2,8.1 2.2,12.9c0,3.9 2.6,6.6 2.6,10.5Z" fill="#ee6076" stroke="#3a3a3a" stroke-width="0.35" stroke-linejoin="round"/><line x1="280.2" y1="724.7" x2="280.2" y2="657.6" stroke="#333" stroke-width="0.3" opacity="0.7"/><rect x="279.3" y="691.9" width="1.8" height="17.2" fill="none" stroke="#333" stroke-width="0.3"/><circle cx="280.2" cy="701.3" r="0.45" fill="#222"/><text x="82.8" y="653.7" font-size="16.8" text-anchor="middle" fill="#111">***</text><text x="119.4" y="653.7" font-size="16.8" text-anchor="middle" fill="#111">***</text><text x="158.6" y="653.7" font-size="16.8" text-anchor="middle" fill="#111">***</text><text x="236.2" y="653.7" font-size="16.8" text-anchor="middle" fill="#111">***</text><text x="78.5" y="740.9" font-size="10.85" text-anchor="end" fill="#000" transform="rotate(-45 78.5 740.9)">Suprabasal</text><text x="117.3" y="740.9" font-size="10.85" text-anchor="end" fill="#000" transform="rotate(-45 117.3 740.9)">Basal</text><text x="156.0" y="740.9" font-size="10.85" text-anchor="end" fill="#000" transform="rotate(-45 156.0 740.9)">HF</text><text x="194.8" y="740.9" font-size="10.85" text-anchor="end" fill="#000" transform="rotate(-45 194.8 740.9)">SG</text><text x="233.5" y="740.9" font-size="10.85" text-anchor="end" fill="#000" transform="rotate(-45 233.5 740.9)">Dermal</text><text x="272.2" y="740.9" font-size="10.85" text-anchor="end" fill="#000" transform="rotate(-45 272.2 740.9)">Immune</text><rect x="361.5" y="483.9" width="280.9" height="244.3" fill="#fff" stroke="#555" stroke-width="0.55"/><line x1="361.5" y1="524.4" x2="642.4" y2="524.4" stroke="#555" stroke-width="0.55"/><line x1="361.5" y1="565.4" x2="642.4" y2="565.4" stroke="#555" stroke-width="0.55"/><line x1="361.5" y1="606.2" x2="642.4" y2="606.2" stroke="#555" stroke-width="0.55"/><line x1="361.5" y1="646.8" x2="642.4" y2="646.8" stroke="#555" stroke-width="0.55"/><line x1="361.5" y1="687.5" x2="642.4" y2="687.5" stroke="#555" stroke-width="0.55"/><line x1="361.5" y1="646.5" x2="642.4" y2="646.5" stroke="#bbb" stroke-width="1.3"/><clipPath id="sr0"><rect x="361.5" y="484.29999999999995" width="280.9" height="40.1"/></clipPath><g clip-path="url(#sr0)"><line x1="375.0" y1="524.1" x2="375.0" y2="503.7" stroke="#aaa" stroke-width="0.9"/><line x1="374.1" y1="511.2" x2="375.9" y2="511.2" stroke="#666" stroke-width="0.35"/><line x1="388.5" y1="524.1" x2="388.5" y2="498.3" stroke="#555" stroke-width="0.5"/><line x1="387.6" y1="511.2" x2="389.4" y2="511.2" stroke="#666" stroke-width="0.35"/><line x1="402.2" y1="524.1" x2="402.2" y2="496.1" stroke="#555" stroke-width="0.45"/><path d="M408.4,524.1c0,-.4 -3.6,-.9 -3.6,-1.3c0,-.7 -2.1,-1.7 -2.1,-2.4c0,-1.6 0,-3.7 0,-5.2c0,-1.2 3.1,-2.7 3.1,-3.9c0,-1.2 -3.1,-2.7 -3.1,-3.8c0,-1.2 0.9,-2.7 0.9,-3.8c0,-1.1 -.9,-2.6 -.9,-3.7c0,-1.1 -.4,-2.6 -.4,-3.7c0,1.1 -.4,2.6 -.4,3.7c0,1.1 -.9,2.6 -.9,3.7c0,1.2 0.9,2.7 0.9,3.8c0,1.2 -3.1,2.7 -3.1,3.8c0,1.2 3.1,2.7 3.1,3.9c0,1.6 0,3.7 0,5.2c0,0.7 -2.1,1.7 -2.1,2.4c0,0.4 -3.6,0.9 -3.6,1.3Z" fill="#ee6076" stroke="#3a3a3a" stroke-width="0.25" stroke-linejoin="round"/><line x1="420.2" y1="524.1" x2="420.2" y2="490.6" stroke="#555" stroke-width="0.45"/><path d="M426.4,524.1c0,-.4 -3.6,-.9 -3.6,-1.3c0,-.7 -2.1,-1.7 -2.1,-2.4c0,-1.6 0,-3.7 0,-5.2c0,-1.2 1.6,-2.7 1.6,-3.9c0,-1.1 -1.6,-2.6 -1.6,-3.7c0,-5 -.4,-11.8 -.4,-16.8c0,5 -.4,11.8 -.4,16.8c0,1.1 -1.6,2.6 -1.6,3.7c0,1.2 1.6,2.7 1.6,3.9c0,1.6 0,3.7 0,5.2c0,0.7 -2.1,1.7 -2.1,2.4c0,0.4 -3.6,0.9 -3.6,1.3Z" fill="#dba62c" stroke="#3a3a3a" stroke-width="0.25" stroke-linejoin="round"/><line x1="433.7" y1="524.1" x2="433.7" y2="496.1" stroke="#555" stroke-width="0.45"/><path d="M439.9,524.1c0,-.4 -3.6,-.9 -3.6,-1.3c0,-.7 -2.1,-1.7 -2.1,-2.4c0,-1.6 0,-3.7 0,-5.2c0,-1.2 4.6,-2.7 4.6,-3.9c0,-1.2 -4.6,-2.7 -4.6,-3.8c0,-1.2 1.4,-2.7 1.4,-3.8c0,-1.1 -1.4,-2.6 -1.4,-3.7c0,-1.1 -.4,-2.6 -.4,-3.7c0,1.1 -.4,2.6 -.4,3.7c0,1.1 -1.4,2.6 -1.4,3.7c0,1.2 1.4,2.7 1.4,3.8c0,1.2 -4.6,2.7 -4.6,3.8c0,1.2 4.6,2.7 4.6,3.9c0,1.6 0,3.7 0,5.2c0,0.7 -2.1,1.7 -2.1,2.4c0,0.4 -3.6,0.9 -3.6,1.3Z" fill="#36b4ea" stroke="#3a3a3a" stroke-width="0.25" stroke-linejoin="round"/><line x1="447.4" y1="524.1" x2="447.4" y2="485.8" stroke="#555" stroke-width="0.45"/><path d="M453.6,524.1c0,-.4 -3.6,-.9 -3.6,-1.3c0,-.7 -2.1,-1.7 -2.1,-2.4c0,-1.6 0,-3.7 0,-5.2c0,-1.2 5.6,-2.7 5.6,-3.9c0,-1.2 -3.7,-2.7 -3.7,-3.8c0,-1.2 1.9,-2.7 1.9,-3.8c0,-.8 -3.8,-1.9 -3.8,-2.7c0,-.8 2.1,-1.9 2.1,-2.7c0,-1.1 -2.1,-2.6 -2.1,-3.7c0,-2.6 -.4,-6 -.4,-8.6c0,2.6 -.4,6 -.4,8.6c0,1.1 -2.1,2.6 -2.1,3.7c0,0.8 2.1,1.9 2.1,2.7c0,0.8 -3.8,1.9 -3.8,2.7c0,1.2 1.9,2.7 1.9,3.8c0,1.2 -3.7,2.7 -3.7,3.8c0,1.2 5.6,2.7 5.6,3.9c0,1.6 0,3.7 0,5.2c0,0.7 -2.1,1.7 -2.1,2.4c0,0.4 -3.6,0.9 -3.6,1.3Z" fill="#ee6076" stroke="#3a3a3a" stroke-width="0.25" stroke-linejoin="round"/><line x1="465.4" y1="524.1" x2="465.4" y2="494.6" stroke="#555" stroke-width="0.5"/><line x1="464.5" y1="511.2" x2="466.29999999999995" y2="511.2" stroke="#666" stroke-width="0.35"/><line x1="478.9" y1="524.1" x2="478.9" y2="490.4" stroke="#555" stroke-width="0.5"/><line x1="478.0" y1="511.2" x2="479.79999999999995" y2="511.2" stroke="#666" stroke-width="0.35"/><line x1="492.6" y1="524.1" x2="492.6" y2="495.1" stroke="#555" stroke-width="0.45"/><path d="M498.8,524.1c0,-.4 -3.6,-.9 -3.6,-1.3c0,-.7 -2.1,-1.7 -2.1,-2.4c0,-1.6 0,-3.7 0,-5.2c0,-1.2 2.6,-2.7 2.6,-3.9c0,-1.1 -2.6,-2.6 -2.6,-3.7c0,-3.7 -.4,-8.6 -.4,-12.3c0,3.7 -.4,8.6 -.4,12.3c0,1.1 -2.6,2.6 -2.6,3.7c0,1.2 2.6,2.7 2.6,3.9c0,1.6 0,3.7 0,5.2c0,0.7 -2.1,1.7 -2.1,2.4c0,0.4 -3.6,0.9 -3.6,1.3Z" fill="#ee6076" stroke="#3a3a3a" stroke-width="0.25" stroke-linejoin="round"/><line x1="510.7" y1="524.1" x2="510.7" y2="503.7" stroke="#555" stroke-width="0.5"/><line x1="509.8" y1="511.2" x2="511.59999999999997" y2="511.2" stroke="#666" stroke-width="0.35"/><line x1="524.2" y1="524.1" x2="524.2" y2="498.3" stroke="#555" stroke-width="0.5"/><line x1="523.3000000000001" y1="511.2" x2="525.1" y2="511.2" stroke="#666" stroke-width="0.35"/><line x1="537.9" y1="524.1" x2="537.9" y2="498.9" stroke="#aaa" stroke-width="0.9"/><line x1="537.0" y1="511.2" x2="538.8" y2="511.2" stroke="#666" stroke-width="0.35"/><line x1="555.9" y1="524.1" x2="555.9" y2="481.1" stroke="#555" stroke-width="0.5"/><line x1="555.0" y1="511.2" x2="556.8" y2="511.2" stroke="#666" stroke-width="0.35"/><line x1="569.4" y1="524.1" x2="569.4" y2="485.8" stroke="#555" stroke-width="0.5"/><line x1="568.5" y1="511.2" x2="570.3" y2="511.2" stroke="#666" stroke-width="0.35"/><line x1="583.1" y1="524.1" x2="583.1" y2="486.1" stroke="#555" stroke-width="0.5"/><line x1="582.2" y1="511.2" x2="584.0" y2="511.2" stroke="#666" stroke-width="0.35"/><line x1="601.1" y1="524.1" x2="601.1" y2="498.3" stroke="#555" stroke-width="0.5"/><line x1="600.2" y1="511.2" x2="602.0" y2="511.2" stroke="#666" stroke-width="0.35"/><line x1="614.6" y1="524.1" x2="614.6" y2="494.6" stroke="#aaa" stroke-width="0.9"/><line x1="613.7" y1="511.2" x2="615.5" y2="511.2" stroke="#666" stroke-width="0.35"/><line x1="628.3" y1="524.1" x2="628.3" y2="487.6" stroke="#555" stroke-width="0.5"/><line x1="627.4" y1="511.2" x2="629.1999999999999" y2="511.2" stroke="#666" stroke-width="0.35"/></g><line x1="359.7" y1="514.8" x2="361.5" y2="514.8" stroke="#555" stroke-width="0.5"/><line x1="359.7" y1="505.4" x2="361.5" y2="505.4" stroke="#555" stroke-width="0.5"/><line x1="359.7" y1="496.1" x2="361.5" y2="496.1" stroke="#555" stroke-width="0.5"/><text x="357.5" y="499.45" font-size="9.8" text-anchor="end" fill="#222">1.5</text><text x="663.6" y="501.75" font-size="10.3" text-anchor="middle" font-weight="bold" fill="#000">Slc2a1</text><text x="663.6" y="515.35" font-size="10.3" text-anchor="middle" font-weight="bold" fill="#000">(Glut1)</text><clipPath id="sr1"><rect x="361.5" y="524.8" width="280.9" height="40.6"/></clipPath><g clip-path="url(#sr1)"><line x1="375.0" y1="565.1" x2="375.0" y2="539.1" stroke="#555" stroke-width="0.45"/><path d="M381.2,565.1c0,-.3 -3.6,-.6 -3.6,-.9c0,-.5 -2.1,-1.2 -2.1,-1.7c0,-1.1 0,-2.5 0,-3.6c0,-.8 2.6,-1.9 2.6,-2.7c0,-.8 -2.6,-1.8 -2.6,-2.6c0,-4.3 -.4,-10.1 -.4,-14.4c0,4.3 -.4,10.1 -.4,14.4c0,0.8 -2.6,1.8 -2.6,2.6c0,0.8 2.6,1.9 2.6,2.7c0,1.1 0,2.5 0,3.6c0,0.5 -2.1,1.2 -2.1,1.7c0,0.3 -3.6,0.6 -3.6,0.9Z" fill="#dba62c" stroke="#3a3a3a" stroke-width="0.25" stroke-linejoin="round"/><line x1="388.5" y1="565.1" x2="388.5" y2="533.9" stroke="#555" stroke-width="0.45"/><path d="M394.7,565.1c0,-.3 -3.6,-.6 -3.6,-.9c0,-.5 -2.1,-1.2 -2.1,-1.7c0,-1.1 0,-2.5 0,-3.6c0,-.8 6.1,-1.9 6.1,-2.7c0,-.8 -6.1,-1.9 -6.1,-2.7c0,-.8 0.8,-1.9 0.8,-2.7c0,-.8 -.8,-1.8 -.8,-2.6c0,-4.3 -.4,-10 -.4,-14.3c0,4.3 -.4,10 -.4,14.3c0,0.8 -.8,1.8 -.8,2.6c0,0.8 0.8,1.9 0.8,2.7c0,0.8 -6.1,1.9 -6.1,2.7c0,0.8 6.1,1.9 6.1,2.7c0,1.1 0,2.5 0,3.6c0,0.5 -2.1,1.2 -2.1,1.7c0,0.3 -3.6,0.6 -3.6,0.9Z" fill="#36b4ea" stroke="#3a3a3a" stroke-width="0.25" stroke-linejoin="round"/><line x1="402.2" y1="565.1" x2="402.2" y2="539.1" stroke="#555" stroke-width="0.45"/><path d="M408.4,565.1c0,-.3 -3.6,-.6 -3.6,-.9c0,-.5 -2.1,-1.2 -2.1,-1.7c0,-1.1 0,-2.5 0,-3.6c0,-.8 6.1,-1.9 6.1,-2.7c0,-.8 -6.1,-1.9 -6.1,-2.7c0,-.8 0.6,-1.9 0.6,-2.7c0,-.8 -.6,-1.8 -.6,-2.6c0,-2.7 -.4,-6.4 -.4,-9.1c0,2.7 -.4,6.4 -.4,9.1c0,0.8 -.6,1.8 -.6,2.6c0,0.8 0.6,1.9 0.6,2.7c0,0.8 -6.1,1.9 -6.1,2.7c0,0.8 6.1,1.9 6.1,2.7c0,1.1 0,2.5 0,3.6c0,0.5 -2.1,1.2 -2.1,1.7c0,0.3 -3.6,0.6 -3.6,0.9Z" fill="#ee6076" stroke="#3a3a3a" stroke-width="0.25" stroke-linejoin="round"/><line x1="420.2" y1="565.1" x2="420.2" y2="533.9" stroke="#555" stroke-width="0.45"/><path d="M426.4,565.1c0,-.3 -3.6,-.6 -3.6,-.9c0,-.5 -2.1,-1.2 -2.1,-1.7c0,-1.1 0,-2.5 0,-3.6c0,-.8 2.8,-1.9 2.8,-2.7c0,-.8 -2.8,-1.8 -2.8,-2.6c0,-5.9 -.4,-13.7 -.4,-19.6c0,5.9 -.4,13.7 -.4,19.6c0,0.8 -2.8,1.8 -2.8,2.6c0,0.8 2.8,1.9 2.8,2.7c0,1.1 0,2.5 0,3.6c0,0.5 -2.1,1.2 -2.1,1.7c0,0.3 -3.6,0.6 -3.6,0.9Z" fill="#dba62c" stroke="#3a3a3a" stroke-width="0.25" stroke-linejoin="round"/><line x1="433.7" y1="565.1" x2="433.7" y2="538.5" stroke="#555" stroke-width="0.45"/><path d="M439.9,565.1c0,-.3 -3.6,-.6 -3.6,-.9c0,-.5 -2.1,-1.2 -2.1,-1.7c0,-1.1 0,-2.5 0,-3.6c0,-.8 4.6,-1.9 4.6,-2.7c0,-.8 -4.6,-1.9 -4.6,-2.7c0,-.8 0.8,-1.9 0.8,-2.7c0,-.8 -.8,-1.8 -.8,-2.6c0,-2.9 -.4,-6.8 -.4,-9.7c0,2.9 -.4,6.8 -.4,9.7c0,0.8 -.8,1.8 -.8,2.6c0,0.8 0.8,1.9 0.8,2.7c0,0.8 -4.6,1.9 -4.6,2.7c0,0.8 4.6,1.9 4.6,2.7c0,1.1 0,2.5 0,3.6c0,0.5 -2.1,1.2 -2.1,1.7c0,0.3 -3.6,0.6 -3.6,0.9Z" fill="#36b4ea" stroke="#3a3a3a" stroke-width="0.25" stroke-linejoin="round"/><line x1="447.4" y1="565.1" x2="447.4" y2="538.5" stroke="#555" stroke-width="0.45"/><path d="M453.6,565.1c0,-.3 -3.6,-.6 -3.6,-.9c0,-.5 -2.1,-1.2 -2.1,-1.7c0,-1.1 0,-2.5 0,-3.6c0,-.8 5.8,-1.9 5.8,-2.7c0,-.8 -5.8,-1.9 -5.8,-2.7c0,-.8 1.6,-1.9 1.6,-2.7c0,-.8 -1.6,-1.8 -1.6,-2.6c0,-2.9 -.4,-6.8 -.4,-9.7c0,2.9 -.4,6.8 -.4,9.7c0,0.8 -1.6,1.8 -1.6,2.6c0,0.8 1.6,1.9 1.6,2.7c0,0.8 -5.8,1.9 -5.8,2.7c0,0.8 5.8,1.9 5.8,2.7c0,1.1 0,2.5 0,3.6c0,0.5 -2.1,1.2 -2.1,1.7c0,0.3 -3.6,0.6 -3.6,0.9Z" fill="#ee6076" stroke="#3a3a3a" stroke-width="0.25" stroke-linejoin="round"/><line x1="465.4" y1="565.1" x2="465.4" y2="538.5" stroke="#555" stroke-width="0.45"/><path d="M471.6,565.1c0,-.3 -3.6,-.6 -3.6,-.9c0,-.5 -2.1,-1.2 -2.1,-1.7c0,-1.1 0,-2.5 0,-3.6c0,-.8 2,-1.9 2,-2.7c0,-.8 -2,-1.8 -2,-2.6c0,-4.5 -.4,-10.6 -.4,-15.1c0,4.5 -.4,10.6 -.4,15.1c0,0.8 -2,1.8 -2,2.6c0,0.8 2,1.9 2,2.7c0,1.1 0,2.5 0,3.6c0,0.5 -2.1,1.2 -2.1,1.7c0,0.3 -3.6,0.6 -3.6,0.9Z" fill="#dba62c" stroke="#3a3a3a" stroke-width="0.25" stroke-linejoin="round"/><line x1="478.9" y1="565.1" x2="478.9" y2="539.1" stroke="#555" stroke-width="0.45"/><path d="M485.1,565.1c0,-.3 -3.6,-.6 -3.6,-.9c0,-.5 -2.1,-1.2 -2.1,-1.7c0,-1.1 0,-2.5 0,-3.6c0,-.8 1.6,-1.9 1.6,-2.7c0,-.8 -1.6,-1.9 -1.6,-2.7c0,-.8 0.6,-1.9 0.6,-2.7c0,-.8 -.6,-1.8 -.6,-2.6c0,-2.7 -.4,-6.4 -.4,-9.1c0,2.7 -.4,6.4 -.4,9.1c0,0.8 -.6,1.8 -.6,2.6c0,0.8 0.6,1.9 0.6,2.7c0,0.8 -1.6,1.9 -1.6,2.7c0,0.8 1.6,1.9 1.6,2.7c0,1.1 0,2.5 0,3.6c0,0.5 -2.1,1.2 -2.1,1.7c0,0.3 -3.6,0.6 -3.6,0.9Z" fill="#36b4ea" stroke="#3a3a3a" stroke-width="0.25" stroke-linejoin="round"/><line x1="492.6" y1="565.1" x2="492.6" y2="544.0" stroke="#555" stroke-width="0.45"/><path d="M498.8,565.1c0,-.4 -3.8,-.9 -3.8,-1.3c0,-.8 -1.4,-1.8 -1.4,-2.6c0,-.8 1.2,-1.8 1.2,-2.6c0,-.7 1,-1.7 1,-2.5c0,-.8 -1,-1.9 -1,-2.7c0,-1 -.2,-2.3 -.2,-3.2c0,-1 -1,-2.3 -1,-3.2c0,-.9 -1,-2 -1,-2.9c0,0.9 -1,2 -1,2.9c0,1 -1,2.3 -1,3.2c0,1 -.2,2.3 -.2,3.2c0,0.8 -1,1.9 -1,2.7c0,0.7 1,1.7 1,2.5c0,0.8 1.2,1.8 1.2,2.6c0,0.8 -1.4,1.8 -1.4,2.6c0,0.4 -3.8,0.9 -3.8,1.3Z" fill="#ee6076" stroke="#3a3a3a" stroke-width="0.25" stroke-linejoin="round"/><line x1="510.7" y1="565.1" x2="510.7" y2="533.9" stroke="#555" stroke-width="0.45"/><path d="M516.9,565.1c0,-.4 -3.7,-.9 -3.7,-1.3c0,-.9 -1.4,-2 -1.4,-2.9c0,-.9 1.1,-2.1 1.1,-3c0,-.5 1.4,-1.3 1.4,-1.8c0,-.7 -1.4,-1.5 -1.4,-2.2c0,-.9 -.9,-2.2 -.9,-3.1c0,-1.2 -.6,-2.7 -.6,-3.9c0,-2.5 -.3,-5.8 -.3,-8.3c0,-1.4 -.4,-3.3 -.4,-4.7c0,1.4 -.4,3.3 -.4,4.7c0,2.5 -.3,5.8 -.3,8.3c0,1.2 -.6,2.7 -.6,3.9c0,0.9 -.9,2.2 -.9,3.1c0,0.7 -1.4,1.5 -1.4,2.2c0,0.5 1.4,1.3 1.4,1.8c0,0.9 1.1,2.1 1.1,3c0,0.9 -1.4,2 -1.4,2.9c0,0.4 -3.7,0.9 -3.7,1.3Z" fill="#dba62c" stroke="#3a3a3a" stroke-width="0.25" stroke-linejoin="round"/><line x1="524.2" y1="565.1" x2="524.2" y2="539.1" stroke="#555" stroke-width="0.45"/><path d="M530.4,565.1c0,-.4 -3.7,-.9 -3.7,-1.3c0,-.9 -1.4,-2 -1.4,-2.9c0,-.9 1,-2.1 1,-3c0,-.5 1.3,-1.3 1.3,-1.8c0,-.7 -1.4,-1.5 -1.4,-2.2c0,-.9 -.8,-2.2 -.8,-3.1c0,-1.2 -.5,-2.7 -.5,-3.9c0,-1.2 -.3,-2.7 -.3,-3.9c0,-1.2 -.4,-2.7 -.4,-3.9c0,1.2 -.4,2.7 -.4,3.9c0,1.2 -.3,2.7 -.3,3.9c0,1.2 -.5,2.7 -.5,3.9c0,0.9 -.8,2.2 -.8,3.1c0,0.7 -1.4,1.5 -1.4,2.2c0,0.5 1.3,1.3 1.3,1.8c0,0.9 1,2.1 1,3c0,0.9 -1.4,2 -1.4,2.9c0,0.4 -3.7,0.9 -3.7,1.3Z" fill="#36b4ea" stroke="#3a3a3a" stroke-width="0.25" stroke-linejoin="round"/><line x1="537.9" y1="565.1" x2="537.9" y2="539.1" stroke="#555" stroke-width="0.45"/><path d="M544.1,565.1c0,-.4 -3.8,-.9 -3.8,-1.3c0,-.8 -1.2,-1.8 -1.2,-2.6c0,-.8 1.2,-1.8 1.2,-2.6c0,-.7 0.8,-1.7 0.8,-2.5c0,-1 -1,-2.4 -1,-3.4c0,-1.4 -.6,-3.2 -.6,-4.6c0,-1.6 -.9,-3.6 -.9,-5.2c0,-1.2 -.7,-2.7 -.7,-3.9c0,1.2 -.7,2.7 -.7,3.9c0,1.6 -.9,3.6 -.9,5.2c0,1.4 -.6,3.2 -.6,4.6c0,1 -1,2.4 -1,3.4c0,0.7 0.8,1.7 0.8,2.5c0,0.8 1.2,1.8 1.2,2.6c0,0.8 -1.2,1.8 -1.2,2.6c0,0.4 -3.8,0.9 -3.8,1.3Z" fill="#ee6076" stroke="#3a3a3a" stroke-width="0.25" stroke-linejoin="round"/><line x1="555.9" y1="565.1" x2="555.9" y2="526.1" stroke="#555" stroke-width="0.45"/><path d="M562.1,565.1c0,-.3 -3.6,-.6 -3.6,-.9c0,-.5 -2.1,-1.2 -2.1,-1.7c0,-1.1 0,-2.5 0,-3.6c0,-.8 6.4,-1.9 6.4,-2.7c0,-.8 -6.4,-1.8 -6.4,-2.6c0,-8.2 -.4,-19.2 -.4,-27.4c0,8.2 -.4,19.2 -.4,27.4c0,0.8 -6.4,1.8 -6.4,2.6c0,0.8 6.4,1.9 6.4,2.7c0,1.1 0,2.5 0,3.6c0,0.5 -2.1,1.2 -2.1,1.7c0,0.3 -3.6,0.6 -3.6,0.9Z" fill="#dba62c" stroke="#3a3a3a" stroke-width="0.25" stroke-linejoin="round"/><line x1="569.4" y1="565.1" x2="569.4" y2="530.0" stroke="#555" stroke-width="0.45"/><path d="M575.6,565.1c0,-.3 -3.6,-.6 -3.6,-.9c0,-.5 -2.1,-1.2 -2.1,-1.7c0,-1.1 0,-2.5 0,-3.6c0,-.8 2.6,-1.9 2.6,-2.7c0,-.8 -2.6,-1.9 -2.6,-2.7c0,-.8 0.8,-1.9 0.8,-2.7c0,-.8 -.8,-1.8 -.8,-2.6c0,-5.5 -.4,-12.7 -.4,-18.2c0,5.5 -.4,12.7 -.4,18.2c0,0.8 -.8,1.8 -.8,2.6c0,0.8 0.8,1.9 0.8,2.7c0,0.8 -2.6,1.9 -2.6,2.7c0,0.8 2.6,1.9 2.6,2.7c0,1.1 0,2.5 0,3.6c0,0.5 -2.1,1.2 -2.1,1.7c0,0.3 -3.6,0.6 -3.6,0.9Z" fill="#36b4ea" stroke="#3a3a3a" stroke-width="0.25" stroke-linejoin="round"/><line x1="583.1" y1="565.1" x2="583.1" y2="530.0" stroke="#555" stroke-width="0.45"/><path d="M589.3,565.1c0,-.3 -3.6,-.6 -3.6,-.9c0,-.5 -2.1,-1.2 -2.1,-1.7c0,-1.1 0,-2.5 0,-3.6c0,-.8 3.2,-1.9 3.2,-2.7c0,-.8 -3.2,-1.9 -3.2,-2.7c0,-.8 1,-1.9 1,-2.7c0,-.8 -1,-1.8 -1,-2.6c0,-5.5 -.4,-12.7 -.4,-18.2c0,5.5 -.4,12.7 -.4,18.2c0,0.8 -1,1.8 -1,2.6c0,0.8 1,1.9 1,2.7c0,0.8 -3.2,1.9 -3.2,2.7c0,0.8 3.2,1.9 3.2,2.7c0,1.1 0,2.5 0,3.6c0,0.5 -2.1,1.2 -2.1,1.7c0,0.3 -3.6,0.6 -3.6,0.9Z" fill="#ee6076" stroke="#3a3a3a" stroke-width="0.25" stroke-linejoin="round"/><line x1="601.1" y1="565.1" x2="601.1" y2="527.4" stroke="#555" stroke-width="0.45"/><path d="M607.3,565.1c0,-.3 -3.6,-.6 -3.6,-.9c0,-.5 -2.1,-1.2 -2.1,-1.7c0,-1.1 0,-2.5 0,-3.6c0,-.8 4,-1.9 4,-2.7c0,-.8 -4,-1.8 -4,-2.6c0,-7.8 -.4,-18.3 -.4,-26.1c0,7.8 -.4,18.3 -.4,26.1c0,0.8 -4,1.8 -4,2.6c0,0.8 4,1.9 4,2.7c0,1.1 0,2.5 0,3.6c0,0.5 -2.1,1.2 -2.1,1.7c0,0.3 -3.6,0.6 -3.6,0.9Z" fill="#dba62c" stroke="#3a3a3a" stroke-width="0.25" stroke-linejoin="round"/><line x1="614.6" y1="565.1" x2="614.6" y2="532.0" stroke="#555" stroke-width="0.45"/><path d="M620.8,565.1c0,-.3 -3.6,-.6 -3.6,-.9c0,-.5 -2.1,-1.2 -2.1,-1.7c0,-1.1 0,-2.5 0,-3.6c0,-.8 2.6,-1.9 2.6,-2.7c0,-.8 -2.6,-1.9 -2.6,-2.7c0,-.8 1.2,-1.9 1.2,-2.7c0,-.8 -1.2,-1.8 -1.2,-2.6c0,-4.9 -.4,-11.4 -.4,-16.2c0,4.9 -.4,11.4 -.4,16.2c0,0.8 -1.2,1.8 -1.2,2.6c0,0.8 1.2,1.9 1.2,2.7c0,0.8 -2.6,1.9 -2.6,2.7c0,0.8 2.6,1.9 2.6,2.7c0,1.1 0,2.5 0,3.6c0,0.5 -2.1,1.2 -2.1,1.7c0,0.3 -3.6,0.6 -3.6,0.9Z" fill="#36b4ea" stroke="#3a3a3a" stroke-width="0.25" stroke-linejoin="round"/><line x1="628.3" y1="565.1" x2="628.3" y2="530.0" stroke="#555" stroke-width="0.45"/><path d="M634.5,565.1c0,-.3 -3.6,-.6 -3.6,-.9c0,-.5 -2.1,-1.2 -2.1,-1.7c0,-1.1 0,-2.5 0,-3.6c0,-.8 3,-1.9 3,-2.7c0,-.8 -3,-1.9 -3,-2.7c0,-.8 1.1,-1.9 1.1,-2.7c0,-.8 -1.1,-1.8 -1.1,-2.6c0,-5.5 -.4,-12.7 -.4,-18.2c0,5.5 -.4,12.7 -.4,18.2c0,0.8 -1.1,1.8 -1.1,2.6c0,0.8 1.1,1.9 1.1,2.7c0,0.8 -3,1.9 -3,2.7c0,0.8 3,1.9 3,2.7c0,1.1 0,2.5 0,3.6c0,0.5 -2.1,1.2 -2.1,1.7c0,0.3 -3.6,0.6 -3.6,0.9Z" fill="#ee6076" stroke="#3a3a3a" stroke-width="0.25" stroke-linejoin="round"/></g><line x1="359.7" y1="552.1" x2="361.5" y2="552.1" stroke="#555" stroke-width="0.5"/><line x1="359.7" y1="539.1" x2="361.5" y2="539.1" stroke="#555" stroke-width="0.5"/><text x="357.5" y="542.5" font-size="9.8" text-anchor="end" fill="#222">2</text><text x="663.6" y="548.5" font-size="10.3" text-anchor="middle" font-weight="bold" fill="#000">Aldoa</text><clipPath id="sr2"><rect x="361.5" y="565.8" width="280.9" height="40.4"/></clipPath><g clip-path="url(#sr2)"><line x1="375.0" y1="605.9000000000001" x2="375.0" y2="575.2" stroke="#aaa" stroke-width="0.9"/><line x1="374.1" y1="596.7" x2="375.9" y2="596.7" stroke="#666" stroke-width="0.35"/><line x1="388.5" y1="605.9000000000001" x2="388.5" y2="580.9" stroke="#555" stroke-width="0.45"/><path d="M394.7,605.9c0,-.3 -3.6,-.7 -3.6,-.9c0,-.5 -2.1,-1.2 -2.1,-1.7c0,-1.1 0,-2.6 0,-3.7c0,-.8 3.4,-2 3.4,-2.8c0,-.8 -3.4,-1.9 -3.4,-2.7c0,-.8 0.6,-1.9 0.6,-2.7c0,-.8 -.6,-1.9 -.6,-2.7c0,-2.3 -.4,-5.3 -.4,-7.6c0,2.3 -.4,5.3 -.4,7.6c0,0.8 -.6,1.9 -.6,2.7c0,0.8 0.6,1.9 0.6,2.7c0,0.8 -3.4,1.9 -3.4,2.7c0,0.8 3.4,2 3.4,2.8c0,1.1 0,2.6 0,3.7c0,0.5 -2.1,1.2 -2.1,1.7c0,0.3 -3.6,0.7 -3.6,0.9Z" fill="#36b4ea" stroke="#3a3a3a" stroke-width="0.25" stroke-linejoin="round"/><line x1="402.2" y1="605.9000000000001" x2="402.2" y2="577.9" stroke="#555" stroke-width="0.45"/><path d="M408.4,605.9c0,-.3 -3.6,-.7 -3.6,-.9c0,-.5 -2.1,-1.2 -2.1,-1.7c0,-1.1 0,-2.6 0,-3.7c0,-.8 4,-2 4,-2.8c0,-.8 -4,-1.9 -4,-2.7c0,-.8 0.6,-1.9 0.6,-2.7c0,-.8 -.6,-1.9 -.6,-2.7c0,-3.2 -.4,-7.5 -.4,-10.7c0,3.2 -.4,7.5 -.4,10.7c0,0.8 -.6,1.9 -.6,2.7c0,0.8 0.6,1.9 0.6,2.7c0,0.8 -4,1.9 -4,2.7c0,0.8 4,2 4,2.8c0,1.1 0,2.6 0,3.7c0,0.5 -2.1,1.2 -2.1,1.7c0,0.3 -3.6,0.7 -3.6,0.9Z" fill="#ee6076" stroke="#3a3a3a" stroke-width="0.25" stroke-linejoin="round"/><line x1="420.2" y1="605.9000000000001" x2="420.2" y2="575.9" stroke="#555" stroke-width="0.45"/><path d="M426.4,605.9c0,-.4 -3.7,-.9 -3.7,-1.3c0,-.9 -1.4,-2.1 -1.4,-2.9c0,-.9 2.3,-2.1 2.3,-3.1c0,-.6 2.1,-1.3 2.1,-1.9c0,-.7 -2.2,-1.6 -2.2,-2.3c0,-1 -1.3,-2.2 -1.3,-3.2c0,-1.2 -.9,-2.8 -.9,-4c0,-2.1 -.7,-4.8 -.7,-6.8c0,-1.4 -.4,-3.2 -.4,-4.5c0,1.4 -.4,3.2 -.4,4.5c0,2.1 -.7,4.8 -.7,6.8c0,1.2 -.9,2.8 -.9,4c0,1 -1.3,2.2 -1.3,3.2c0,0.7 -2.2,1.6 -2.2,2.3c0,0.6 2.1,1.3 2.1,1.9c0,0.9 2.3,2.1 2.3,3.1c0,0.9 -1.4,2.1 -1.4,2.9c0,0.4 -3.7,0.9 -3.7,1.3Z" fill="#dba62c" stroke="#3a3a3a" stroke-width="0.25" stroke-linejoin="round"/><line x1="433.7" y1="605.9000000000001" x2="433.7" y2="576.5" stroke="#555" stroke-width="0.45"/><path d="M439.9,605.9c0,-.3 -3.6,-.7 -3.6,-.9c0,-.5 -2.1,-1.2 -2.1,-1.7c0,-1.1 0,-2.6 0,-3.7c0,-.8 5.8,-2 5.8,-2.8c0,-.8 -5.8,-1.9 -5.8,-2.7c0,-.8 2,-1.9 2,-2.7c0,-.8 -2,-1.9 -2,-2.7c0,-3.6 -.4,-8.4 -.4,-12c0,3.6 -.4,8.4 -.4,12c0,0.8 -2,1.9 -2,2.7c0,0.8 2,1.9 2,2.7c0,0.8 -5.8,1.9 -5.8,2.7c0,0.8 5.8,2 5.8,2.8c0,1.1 0,2.6 0,3.7c0,0.5 -2.1,1.2 -2.1,1.7c0,0.3 -3.6,0.7 -3.6,0.9Z" fill="#36b4ea" stroke="#3a3a3a" stroke-width="0.25" stroke-linejoin="round"/><line x1="447.4" y1="605.9000000000001" x2="447.4" y2="577.9" stroke="#555" stroke-width="0.45"/><path d="M453.6,605.9c0,-.3 -3.6,-.7 -3.6,-.9c0,-.5 -2.1,-1.2 -2.1,-1.7c0,-1.1 0,-2.6 0,-3.7c0,-.8 5.8,-2 5.8,-2.8c0,-.8 -4.2,-1.9 -4.2,-2.7c0,-.8 1.6,-1.9 1.6,-2.7c0,-.6 -3.2,-1.4 -3.2,-1.9c0,-.6 1.2,-1.4 1.2,-1.9c0,-.8 -1.2,-1.9 -1.2,-2.7c0,-2 -.4,-4.8 -.4,-6.8c0,2 -.4,4.8 -.4,6.8c0,0.8 -1.2,1.9 -1.2,2.7c0,0.6 1.2,1.4 1.2,1.9c0,0.6 -3.2,1.4 -3.2,1.9c0,0.8 1.6,1.9 1.6,2.7c0,0.8 -4.2,1.9 -4.2,2.7c0,0.8 5.8,2 5.8,2.8c0,1.1 0,2.6 0,3.7c0,0.5 -2.1,1.2 -2.1,1.7c0,0.3 -3.6,0.7 -3.6,0.9Z" fill="#ee6076" stroke="#3a3a3a" stroke-width="0.25" stroke-linejoin="round"/><line x1="465.4" y1="605.9000000000001" x2="465.4" y2="579.2" stroke="#555" stroke-width="0.45"/><path d="M471.6,605.9c0,-.3 -3.6,-.7 -3.6,-.9c0,-.5 -2.1,-1.2 -2.1,-1.7c0,-1.1 0,-2.6 0,-3.7c0,-.8 2.6,-2 2.6,-2.8c0,-.8 -2.6,-1.9 -2.6,-2.7c0,-4.4 -.4,-10.4 -.4,-14.8c0,4.4 -.4,10.4 -.4,14.8c0,0.8 -2.6,1.9 -2.6,2.7c0,0.8 2.6,2 2.6,2.8c0,1.1 0,2.6 0,3.7c0,0.5 -2.1,1.2 -2.1,1.7c0,0.3 -3.6,0.7 -3.6,0.9Z" fill="#dba62c" stroke="#3a3a3a" stroke-width="0.25" stroke-linejoin="round"/><line x1="478.9" y1="605.9000000000001" x2="478.9" y2="580.9" stroke="#555" stroke-width="0.45"/><path d="M485.1,605.9c0,-.3 -3.6,-.7 -3.6,-.9c0,-.5 -2.1,-1.2 -2.1,-1.7c0,-1.1 0,-2.6 0,-3.7c0,-.8 1.6,-2 1.6,-2.8c0,-.8 -1.6,-1.9 -1.6,-2.7c0,-.8 0.4,-1.9 0.4,-2.7c0,-.8 -.4,-1.9 -.4,-2.7c0,-2.3 -.4,-5.3 -.4,-7.6c0,2.3 -.4,5.3 -.4,7.6c0,0.8 -.4,1.9 -.4,2.7c0,0.8 0.4,1.9 0.4,2.7c0,0.8 -1.6,1.9 -1.6,2.7c0,0.8 1.6,2 1.6,2.8c0,1.1 0,2.6 0,3.7c0,0.5 -2.1,1.2 -2.1,1.7c0,0.3 -3.6,0.7 -3.6,0.9Z" fill="#36b4ea" stroke="#3a3a3a" stroke-width="0.25" stroke-linejoin="round"/><line x1="492.6" y1="605.9000000000001" x2="492.6" y2="579.2" stroke="#555" stroke-width="0.45"/><path d="M498.8,605.9c0,-.4 -3.7,-.9 -3.7,-1.3c0,-.9 -1.4,-2.1 -1.4,-2.9c0,-.9 1.5,-2.1 1.5,-3.1c0,-.6 1.6,-1.3 1.6,-1.9c0,-.7 -1.7,-1.6 -1.7,-2.3c0,-1 -1,-2.2 -1,-3.2c0,-1.2 -.7,-2.8 -.7,-4c0,-1.2 -.4,-2.8 -.4,-4c0,-1.2 -.4,-2.8 -.4,-4c0,1.2 -.4,2.8 -.4,4c0,1.2 -.4,2.8 -.4,4c0,1.2 -.7,2.8 -.7,4c0,1 -1,2.2 -1,3.2c0,0.7 -1.7,1.6 -1.7,2.3c0,0.6 1.6,1.3 1.6,1.9c0,0.9 1.5,2.1 1.5,3.1c0,0.9 -1.4,2.1 -1.4,2.9c0,0.4 -3.7,0.9 -3.7,1.3Z" fill="#ee6076" stroke="#3a3a3a" stroke-width="0.25" stroke-linejoin="round"/><line x1="510.7" y1="605.9000000000001" x2="510.7" y2="578.1" stroke="#555" stroke-width="0.45"/><path d="M516.9,605.9c0,-.4 -3.7,-.9 -3.7,-1.3c0,-.9 -1.4,-2.1 -1.4,-2.9c0,-.9 1.4,-2.1 1.4,-3.1c0,-.6 1.5,-1.3 1.5,-1.9c0,-.7 -1.6,-1.6 -1.6,-2.3c0,-1 -1,-2.2 -1,-3.2c0,-1.2 -.6,-2.8 -.6,-4c0,-1.5 -.4,-3.4 -.4,-4.9c0,-1.2 -.4,-2.9 -.4,-4.2c0,1.2 -.4,2.9 -.4,4.2c0,1.5 -.4,3.4 -.4,4.9c0,1.2 -.6,2.8 -.6,4c0,1 -1,2.2 -1,3.2c0,0.7 -1.6,1.6 -1.6,2.3c0,0.6 1.5,1.3 1.5,1.9c0,0.9 1.4,2.1 1.4,3.1c0,0.9 -1.4,2.1 -1.4,2.9c0,0.4 -3.7,0.9 -3.7,1.3Z" fill="#dba62c" stroke="#3a3a3a" stroke-width="0.25" stroke-linejoin="round"/><line x1="524.2" y1="605.9000000000001" x2="524.2" y2="578.1" stroke="#555" stroke-width="0.45"/><path d="M530.4,605.9c0,-.4 -3.7,-.9 -3.7,-1.3c0,-.9 -1.4,-2.1 -1.4,-2.9c0,-.9 1,-2.1 1,-3.1c0,-.6 1.3,-1.3 1.3,-1.9c0,-.7 -1.4,-1.6 -1.4,-2.3c0,-1 -.8,-2.2 -.8,-3.2c0,-1.2 -.5,-2.8 -.5,-4c0,-1.5 -.3,-3.4 -.3,-4.9c0,-1.2 -.4,-2.9 -.4,-4.2c0,1.2 -.4,2.9 -.4,4.2c0,1.5 -.3,3.4 -.3,4.9c0,1.2 -.5,2.8 -.5,4c0,1 -.8,2.2 -.8,3.2c0,0.7 -1.4,1.6 -1.4,2.3c0,0.6 1.3,1.3 1.3,1.9c0,0.9 1,2.1 1,3.1c0,0.9 -1.4,2.1 -1.4,2.9c0,0.4 -3.7,0.9 -3.7,1.3Z" fill="#36b4ea" stroke="#3a3a3a" stroke-width="0.25" stroke-linejoin="round"/><line x1="537.9" y1="605.9000000000001" x2="537.9" y2="579.2" stroke="#555" stroke-width="0.45"/><path d="M544.1,605.9c0,-.4 -3.8,-.9 -3.8,-1.3c0,-.8 -1.2,-1.9 -1.2,-2.7c0,-.8 1.2,-1.9 1.2,-2.7c0,-.8 0.8,-1.8 0.8,-2.5c0,-1 -.9,-2.4 -.9,-3.5c0,-1.4 -.6,-3.3 -.6,-4.7c0,-1.6 -1,-3.7 -1,-5.3c0,-1.2 -.7,-2.8 -.7,-4c0,1.2 -.7,2.8 -.7,4c0,1.6 -1,3.7 -1,5.3c0,1.4 -.6,3.3 -.6,4.7c0,1 -.9,2.4 -.9,3.5c0,0.8 0.8,1.8 0.8,2.5c0,0.8 1.2,1.9 1.2,2.7c0,0.8 -1.2,1.9 -1.2,2.7c0,0.4 -3.8,0.9 -3.8,1.3Z" fill="#ee6076" stroke="#3a3a3a" stroke-width="0.25" stroke-linejoin="round"/><line x1="555.9" y1="605.9000000000001" x2="555.9" y2="569.9" stroke="#555" stroke-width="0.45"/><path d="M562.1,605.9c0,-.3 -3.6,-.7 -3.6,-.9c0,-.5 -2.1,-1.2 -2.1,-1.7c0,-1.1 0,-2.6 0,-3.7c0,-.8 6.4,-2 6.4,-2.8c0,-.8 -6.4,-1.9 -6.4,-2.7c0,-7.2 -.4,-16.9 -.4,-24.2c0,7.2 -.4,16.9 -.4,24.2c0,0.8 -6.4,1.9 -6.4,2.7c0,0.8 6.4,2 6.4,2.8c0,1.1 0,2.6 0,3.7c0,0.5 -2.1,1.2 -2.1,1.7c0,0.3 -3.6,0.7 -3.6,0.9Z" fill="#dba62c" stroke="#3a3a3a" stroke-width="0.25" stroke-linejoin="round"/><line x1="569.4" y1="605.9000000000001" x2="569.4" y2="565.9" stroke="#555" stroke-width="0.45"/><path d="M575.6,605.9c0,-.3 -3.6,-.7 -3.6,-.9c0,-.5 -2.1,-1.2 -2.1,-1.7c0,-1.1 0,-2.6 0,-3.7c0,-.8 4,-2 4,-2.8c0,-.8 -4,-1.9 -4,-2.7c0,-.8 1.4,-1.9 1.4,-2.7c0,-.8 -1.4,-1.9 -1.4,-2.7c0,-6.8 -.4,-15.9 -.4,-22.7c0,6.8 -.4,15.9 -.4,22.7c0,0.8 -1.4,1.9 -1.4,2.7c0,0.8 1.4,1.9 1.4,2.7c0,0.8 -4,1.9 -4,2.7c0,0.8 4,2 4,2.8c0,1.1 0,2.6 0,3.7c0,0.5 -2.1,1.2 -2.1,1.7c0,0.3 -3.6,0.7 -3.6,0.9Z" fill="#36b4ea" stroke="#3a3a3a" stroke-width="0.25" stroke-linejoin="round"/><line x1="583.1" y1="605.9000000000001" x2="583.1" y2="569.9" stroke="#555" stroke-width="0.45"/><path d="M589.3,605.9c0,-.3 -3.6,-.7 -3.6,-.9c0,-.5 -2.1,-1.2 -2.1,-1.7c0,-1.1 0,-2.6 0,-3.7c0,-.8 4.6,-2 4.6,-2.8c0,-.8 -4.6,-1.9 -4.6,-2.7c0,-.8 1.6,-1.9 1.6,-2.7c0,-.8 -1.6,-1.9 -1.6,-2.7c0,-5.6 -.4,-13.1 -.4,-18.7c0,5.6 -.4,13.1 -.4,18.7c0,0.8 -1.6,1.9 -1.6,2.7c0,0.8 1.6,1.9 1.6,2.7c0,0.8 -4.6,1.9 -4.6,2.7c0,0.8 4.6,2 4.6,2.8c0,1.1 0,2.6 0,3.7c0,0.5 -2.1,1.2 -2.1,1.7c0,0.3 -3.6,0.7 -3.6,0.9Z" fill="#ee6076" stroke="#3a3a3a" stroke-width="0.25" stroke-linejoin="round"/><line x1="601.1" y1="605.9000000000001" x2="601.1" y2="578.1" stroke="#555" stroke-width="0.45"/><path d="M607.3,605.9c0,-.3 -3.6,-.7 -3.6,-.9c0,-.5 -2.1,-1.2 -2.1,-1.7c0,-1.1 0,-2.6 0,-3.7c0,-.8 6.1,-2 6.1,-2.8c0,-.8 -6.1,-1.9 -6.1,-2.7c0,-4.8 -.4,-11.1 -.4,-15.9c0,4.8 -.4,11.1 -.4,15.9c0,0.8 -6.1,1.9 -6.1,2.7c0,0.8 6.1,2 6.1,2.8c0,1.1 0,2.6 0,3.7c0,0.5 -2.1,1.2 -2.1,1.7c0,0.3 -3.6,0.7 -3.6,0.9Z" fill="#dba62c" stroke="#3a3a3a" stroke-width="0.25" stroke-linejoin="round"/><line x1="614.6" y1="605.9000000000001" x2="614.6" y2="576.5" stroke="#555" stroke-width="0.45"/><path d="M620.8,605.9c0,-.3 -3.6,-.7 -3.6,-.9c0,-.5 -2.1,-1.2 -2.1,-1.7c0,-1.1 0,-2.6 0,-3.7c0,-.8 3.6,-2 3.6,-2.8c0,-.8 -3.6,-1.9 -3.6,-2.7c0,-.8 1.8,-1.9 1.8,-2.7c0,-.6 -1.8,-1.4 -1.8,-1.9c0,-.6 0.8,-1.4 0.8,-1.9c0,-.8 -.8,-1.9 -.8,-2.7c0,-2.4 -.4,-5.7 -.4,-8.1c0,2.4 -.4,5.7 -.4,8.1c0,0.8 -.8,1.9 -.8,2.7c0,0.6 0.8,1.4 0.8,1.9c0,0.6 -1.8,1.4 -1.8,1.9c0,0.8 1.8,1.9 1.8,2.7c0,0.8 -3.6,1.9 -3.6,2.7c0,0.8 3.6,2 3.6,2.8c0,1.1 0,2.6 0,3.7c0,0.5 -2.1,1.2 -2.1,1.7c0,0.3 -3.6,0.7 -3.6,0.9Z" fill="#36b4ea" stroke="#3a3a3a" stroke-width="0.25" stroke-linejoin="round"/><line x1="628.3" y1="605.9000000000001" x2="628.3" y2="569.9" stroke="#555" stroke-width="0.45"/><path d="M634.5,605.9c0,-.3 -3.6,-.7 -3.6,-.9c0,-.5 -2.1,-1.2 -2.1,-1.7c0,-1.1 0,-2.6 0,-3.7c0,-.8 4.2,-2 4.2,-2.8c0,-.8 -4.2,-1.9 -4.2,-2.7c0,-.8 2,-1.9 2,-2.7c0,-.6 -2,-1.4 -2,-1.9c0,-.6 1,-1.4 1,-1.9c0,-.8 -1,-1.9 -1,-2.7c0,-4.4 -.4,-10.4 -.4,-14.8c0,4.4 -.4,10.4 -.4,14.8c0,0.8 -1,1.9 -1,2.7c0,0.6 1,1.4 1,1.9c0,0.6 -2,1.4 -2,1.9c0,0.8 2,1.9 2,2.7c0,0.8 -4.2,1.9 -4.2,2.7c0,0.8 4.2,2 4.2,2.8c0,1.1 0,2.6 0,3.7c0,0.5 -2.1,1.2 -2.1,1.7c0,0.3 -3.6,0.7 -3.6,0.9Z" fill="#ee6076" stroke="#3a3a3a" stroke-width="0.25" stroke-linejoin="round"/></g><line x1="359.7" y1="592.6" x2="361.5" y2="592.6" stroke="#555" stroke-width="0.5"/><line x1="359.7" y1="579.2" x2="361.5" y2="579.2" stroke="#555" stroke-width="0.5"/><text x="357.5" y="582.6" font-size="9.8" text-anchor="end" fill="#222">2</text><text x="663.6" y="589.4" font-size="10.3" text-anchor="middle" font-weight="bold" fill="#000">Pgk1</text><clipPath id="sr3"><rect x="361.5" y="606.6" width="280.9" height="40.2"/></clipPath><g clip-path="url(#sr3)"><line x1="375.0" y1="646.5" x2="375.0" y2="613.7" stroke="#555" stroke-width="0.45"/><path d="M381.2,646.5c0,-.4 -3.7,-.9 -3.7,-1.3c0,-.9 -1.4,-2.1 -1.4,-2.9c0,-.9 2.9,-2.2 2.9,-3.1c0,-.6 2.5,-1.3 2.5,-1.9c0,-.7 -2.6,-1.6 -2.6,-2.3c0,-1 -1.6,-2.3 -1.6,-3.2c0,-1.2 -1,-2.8 -1,-4c0,-2.7 -.9,-6.4 -.9,-9.1c0,-1.5 -.4,-3.4 -.4,-4.9c0,1.5 -.4,3.4 -.4,4.9c0,2.7 -.9,6.4 -.9,9.1c0,1.2 -1,2.8 -1,4c0,1 -1.6,2.3 -1.6,3.2c0,0.7 -2.6,1.6 -2.6,2.3c0,0.6 2.5,1.3 2.5,1.9c0,0.9 2.9,2.2 2.9,3.1c0,0.9 -1.4,2.1 -1.4,2.9c0,0.4 -3.7,0.9 -3.7,1.3Z" fill="#dba62c" stroke="#3a3a3a" stroke-width="0.25" stroke-linejoin="round"/><line x1="388.5" y1="646.5" x2="388.5" y2="617.0" stroke="#555" stroke-width="0.45"/><path d="M394.7,646.5c0,-.3 -3.6,-.7 -3.6,-.9c0,-.5 -2.1,-1.2 -2.1,-1.7c0,-1.1 0,-2.6 0,-3.8c0,-.8 5.8,-2 5.8,-2.8c0,-.8 -3.2,-1.9 -3.2,-2.7c0,-.8 2.5,-1.9 2.5,-2.7c0,-.6 -3.8,-1.4 -3.8,-1.9c0,-.6 1.3,-1.4 1.3,-1.9c0,-.4 -2.6,-1 -2.6,-1.5c0,-.4 1.1,-1 1.1,-1.5c0,-.8 -1.1,-1.9 -1.1,-2.7c0,-1.6 -.4,-3.7 -.4,-5.2c0,1.6 -.4,3.7 -.4,5.2c0,0.8 -1.1,1.9 -1.1,2.7c0,0.4 1.1,1 1.1,1.5c0,0.4 -2.6,1 -2.6,1.5c0,0.6 1.3,1.4 1.3,1.9c0,0.6 -3.8,1.4 -3.8,1.9c0,0.8 2.5,1.9 2.5,2.7c0,0.8 -3.2,1.9 -3.2,2.7c0,0.8 5.8,2 5.8,2.8c0,1.1 0,2.6 0,3.8c0,0.5 -2.1,1.2 -2.1,1.7c0,0.3 -3.6,0.7 -3.6,0.9Z" fill="#36b4ea" stroke="#3a3a3a" stroke-width="0.25" stroke-linejoin="round"/><line x1="402.2" y1="646.5" x2="402.2" y2="616.1" stroke="#555" stroke-width="0.45"/><path d="M408.4,646.5c0,-.3 -3.6,-.7 -3.6,-.9c0,-.5 -2.1,-1.2 -2.1,-1.7c0,-1.1 0,-2.6 0,-3.8c0,-.8 5.8,-2 5.8,-2.8c0,-.8 -2.9,-1.9 -2.9,-2.7c0,-.8 2.7,-1.9 2.7,-2.7c0,-.6 -4.1,-1.4 -4.1,-1.9c0,-.6 1.6,-1.4 1.6,-1.9c0,-.4 -3.1,-1 -3.1,-1.5c0,-.4 1.6,-1 1.6,-1.5c0,-.8 -1.6,-1.9 -1.6,-2.7c0,-1.8 -.4,-4.3 -.4,-6.2c0,1.8 -.4,4.3 -.4,6.2c0,0.8 -1.6,1.9 -1.6,2.7c0,0.4 1.6,1 1.6,1.5c0,0.4 -3.1,1 -3.1,1.5c0,0.6 1.6,1.4 1.6,1.9c0,0.6 -4.1,1.4 -4.1,1.9c0,0.8 2.7,1.9 2.7,2.7c0,0.8 -2.9,1.9 -2.9,2.7c0,0.8 5.8,2 5.8,2.8c0,1.1 0,2.6 0,3.8c0,0.5 -2.1,1.2 -2.1,1.7c0,0.3 -3.6,0.7 -3.6,0.9Z" fill="#ee6076" stroke="#3a3a3a" stroke-width="0.25" stroke-linejoin="round"/><line x1="420.2" y1="646.5" x2="420.2" y2="621.0" stroke="#555" stroke-width="0.45"/><path d="M426.4,646.5c0,-.3 -3.6,-.7 -3.6,-.9c0,-.5 -2.1,-1.2 -2.1,-1.7c0,-1.1 0,-2.6 0,-3.8c0,-.8 5.8,-2 5.8,-2.8c0,-.8 -4.4,-1.9 -4.4,-2.7c0,-.8 1.4,-1.9 1.4,-2.7c0,-.6 -2.8,-1.4 -2.8,-1.9c0,-.6 1.6,-1.4 1.6,-1.9c0,-.4 -1.6,-1 -1.6,-1.5c0,-.4 0.8,-1 0.8,-1.5c0,-.8 -.8,-1.9 -.8,-2.7c0,-.4 -.4,-.8 -.4,-1.2c0,0.4 -.4,0.8 -.4,1.2c0,0.8 -.8,1.9 -.8,2.7c0,0.4 0.8,1 0.8,1.5c0,0.4 -1.6,1 -1.6,1.5c0,0.6 1.6,1.4 1.6,1.9c0,0.6 -2.8,1.4 -2.8,1.9c0,0.8 1.4,1.9 1.4,2.7c0,0.8 -4.4,1.9 -4.4,2.7c0,0.8 5.8,2 5.8,2.8c0,1.1 0,2.6 0,3.8c0,0.5 -2.1,1.2 -2.1,1.7c0,0.3 -3.6,0.7 -3.6,0.9Z" fill="#dba62c" stroke="#3a3a3a" stroke-width="0.25" stroke-linejoin="round"/><line x1="433.7" y1="646.5" x2="433.7" y2="611.7" stroke="#555" stroke-width="0.45"/><path d="M439.9,646.5c0,-.3 -3.6,-.7 -3.6,-.9c0,-.5 -2.1,-1.2 -2.1,-1.7c0,-1.1 0,-2.6 0,-3.8c0,-.8 3.1,-2 3.1,-2.8c0,-.8 -1.6,-1.9 -1.6,-2.7c0,-.8 4.5,-1.9 4.5,-2.7c0,-.6 -3.5,-1.4 -3.5,-1.9c0,-.6 2.3,-1.4 2.3,-1.9c0,-.4 -3.3,-1 -3.3,-1.5c0,-.4 1.6,-1 1.6,-1.5c0,-.4 -3.1,-.8 -3.1,-1.2c0,-.4 1.6,-.8 1.6,-1.2c0,-.8 -1.6,-1.9 -1.6,-2.7c0,-2.5 -.4,-5.7 -.4,-8.2c0,2.5 -.4,5.7 -.4,8.2c0,0.8 -1.6,1.9 -1.6,2.7c0,0.4 1.6,0.8 1.6,1.2c0,0.4 -3.1,0.8 -3.1,1.2c0,0.4 1.6,1 1.6,1.5c0,0.4 -3.3,1 -3.3,1.5c0,0.6 2.3,1.4 2.3,1.9c0,0.6 -3.5,1.4 -3.5,1.9c0,0.8 4.5,1.9 4.5,2.7c0,0.8 -1.6,1.9 -1.6,2.7c0,0.8 3.1,2 3.1,2.8c0,1.1 0,2.6 0,3.8c0,0.5 -2.1,1.2 -2.1,1.7c0,0.3 -3.6,0.7 -3.6,0.9Z" fill="#36b4ea" stroke="#3a3a3a" stroke-width="0.25" stroke-linejoin="round"/><line x1="447.4" y1="646.5" x2="447.4" y2="614.3" stroke="#555" stroke-width="0.45"/><path d="M453.6,646.5c0,-.3 -3.6,-.7 -3.6,-.9c0,-.5 -2.1,-1.2 -2.1,-1.7c0,-1.1 0,-2.6 0,-3.8c0,-.8 3.6,-2 3.6,-2.8c0,-.8 -1.8,-1.9 -1.8,-2.7c0,-.8 4.2,-1.9 4.2,-2.7c0,-.6 -3.3,-1.4 -3.3,-1.9c0,-.6 2.5,-1.4 2.5,-1.9c0,-.4 -3.3,-1 -3.3,-1.5c0,-.4 1.9,-1 1.9,-1.5c0,-.4 -3.8,-.8 -3.8,-1.2c0,-.4 2.1,-.8 2.1,-1.2c0,-.8 -2.1,-1.9 -2.1,-2.7c0,-1.6 -.4,-3.8 -.4,-5.5c0,1.6 -.4,3.8 -.4,5.5c0,0.8 -2.1,1.9 -2.1,2.7c0,0.4 2.1,0.8 2.1,1.2c0,0.4 -3.8,0.8 -3.8,1.2c0,0.4 1.9,1 1.9,1.5c0,0.4 -3.3,1 -3.3,1.5c0,0.6 2.5,1.4 2.5,1.9c0,0.6 -3.3,1.4 -3.3,1.9c0,0.8 4.2,1.9 4.2,2.7c0,0.8 -1.8,1.9 -1.8,2.7c0,0.8 3.6,2 3.6,2.8c0,1.1 0,2.6 0,3.8c0,0.5 -2.1,1.2 -2.1,1.7c0,0.3 -3.6,0.7 -3.6,0.9Z" fill="#ee6076" stroke="#3a3a3a" stroke-width="0.25" stroke-linejoin="round"/><line x1="465.4" y1="646.5" x2="465.4" y2="618.4" stroke="#555" stroke-width="0.45"/><path d="M471.6,646.5c0,-.4 -3.7,-.9 -3.7,-1.3c0,-.9 -.9,-2.1 -.9,-2.9c0,-.9 2.4,-2.2 2.4,-3.1c0,-.6 2.5,-1.3 2.5,-1.9c0,-.7 -2.6,-1.6 -2.6,-2.3c0,-1 -1.6,-2.3 -1.6,-3.2c0,-1.2 -1,-2.8 -1,-4c0,-1.5 -.9,-3.6 -.9,-5.2c0,-1.3 -.4,-3 -.4,-4.2c0,1.3 -.4,3 -.4,4.2c0,1.5 -.9,3.6 -.9,5.2c0,1.2 -1,2.8 -1,4c0,1 -1.6,2.3 -1.6,3.2c0,0.7 -2.6,1.6 -2.6,2.3c0,0.6 2.5,1.3 2.5,1.9c0,0.9 2.4,2.2 2.4,3.1c0,0.9 -.9,2.1 -.9,2.9c0,0.4 -3.7,0.9 -3.7,1.3Z" fill="#dba62c" stroke="#3a3a3a" stroke-width="0.25" stroke-linejoin="round"/><line x1="478.9" y1="646.5" x2="478.9" y2="614.3" stroke="#555" stroke-width="0.45"/><path d="M485.1,646.5c0,-.4 -3.2,-.9 -3.2,-1.3c0,-.8 -1,-1.9 -1,-2.7c0,-.9 2.7,-2.1 2.7,-2.9c0,-.8 1.8,-1.9 1.8,-2.7c0,-1.3 -2.1,-3.1 -2.1,-4.4c0,-1.4 -1.4,-3.3 -1.4,-4.7c0,-1.4 -1.4,-3.3 -1.4,-4.7c0,-1.9 -1.2,-4.5 -1.2,-6.5c0,-.7 -.5,-1.6 -.5,-2.3c0,0.7 -.5,1.6 -.5,2.3c0,1.9 -1.2,4.5 -1.2,6.5c0,1.4 -1.4,3.3 -1.4,4.7c0,1.4 -1.4,3.3 -1.4,4.7c0,1.3 -2.1,3.1 -2.1,4.4c0,0.8 1.8,1.9 1.8,2.7c0,0.9 2.7,2.1 2.7,2.9c0,0.8 -1,1.9 -1,2.7c0,0.4 -3.2,0.9 -3.2,1.3Z" fill="#36b4ea" stroke="#3a3a3a" stroke-width="0.25" stroke-linejoin="round"/><line x1="492.6" y1="646.5" x2="492.6" y2="618.4" stroke="#555" stroke-width="0.45"/><path d="M498.8,646.5c0,-.4 -3.2,-.9 -3.2,-1.3c0,-.8 -1,-1.9 -1,-2.7c0,-.9 2.7,-2.1 2.7,-2.9c0,-.8 1.8,-1.9 1.8,-2.7c0,-1.3 -1,-3.1 -1,-4.4c0,-1.4 -1.7,-3.3 -1.7,-4.7c0,-1.4 -1.7,-3.3 -1.7,-4.7c0,-.8 -1.5,-1.9 -1.5,-2.7c0,-.6 -.5,-1.4 -.5,-2c0,0.6 -.5,1.4 -.5,2c0,0.8 -1.5,1.9 -1.5,2.7c0,1.4 -1.7,3.3 -1.7,4.7c0,1.4 -1.7,3.3 -1.7,4.7c0,1.3 -1,3.1 -1,4.4c0,0.8 1.8,1.9 1.8,2.7c0,0.9 2.7,2.1 2.7,2.9c0,0.8 -1,1.9 -1,2.7c0,0.4 -3.2,0.9 -3.2,1.3Z" fill="#ee6076" stroke="#3a3a3a" stroke-width="0.25" stroke-linejoin="round"/><line x1="510.7" y1="646.5" x2="510.7" y2="615.7" stroke="#555" stroke-width="0.45"/><path d="M516.9,646.5c0,-.4 -3.7,-.9 -3.7,-1.3c0,-.9 -1.1,-2.1 -1.1,-2.9c0,-.9 2.6,-2.2 2.6,-3.1c0,-.6 2.5,-1.3 2.5,-1.9c0,-.7 -2.6,-1.6 -2.6,-2.3c0,-1 -1.6,-2.3 -1.6,-3.2c0,-1.2 -1,-2.8 -1,-4c0,-2.2 -.9,-5.2 -.9,-7.4c0,-1.4 -.4,-3.2 -.4,-4.6c0,1.4 -.4,3.2 -.4,4.6c0,2.2 -.9,5.2 -.9,7.4c0,1.2 -1,2.8 -1,4c0,1 -1.6,2.3 -1.6,3.2c0,0.7 -2.6,1.6 -2.6,2.3c0,0.6 2.5,1.3 2.5,1.9c0,0.9 2.6,2.2 2.6,3.1c0,0.9 -1.1,2.1 -1.1,2.9c0,0.4 -3.7,0.9 -3.7,1.3Z" fill="#dba62c" stroke="#3a3a3a" stroke-width="0.25" stroke-linejoin="round"/><line x1="524.2" y1="646.5" x2="524.2" y2="614.3" stroke="#555" stroke-width="0.45"/><path d="M530.4,646.5c0,-.4 -3.2,-.9 -3.2,-1.3c0,-.8 -1,-1.9 -1,-2.7c0,-.9 2.7,-2.1 2.7,-2.9c0,-.8 1.8,-1.9 1.8,-2.7c0,-1.3 -2.9,-3.1 -2.9,-4.4c0,-1.4 -1.1,-3.3 -1.1,-4.7c0,-1.4 -1.1,-3.3 -1.1,-4.7c0,-1.9 -.9,-4.5 -.9,-6.5c0,-.7 -.5,-1.6 -.5,-2.3c0,0.7 -.5,1.6 -.5,2.3c0,1.9 -.9,4.5 -.9,6.5c0,1.4 -1.1,3.3 -1.1,4.7c0,1.4 -1.1,3.3 -1.1,4.7c0,1.3 -2.9,3.1 -2.9,4.4c0,0.8 1.8,1.9 1.8,2.7c0,0.9 2.7,2.1 2.7,2.9c0,0.8 -1,1.9 -1,2.7c0,0.4 -3.2,0.9 -3.2,1.3Z" fill="#36b4ea" stroke="#3a3a3a" stroke-width="0.25" stroke-linejoin="round"/><line x1="537.9" y1="646.5" x2="537.9" y2="610.3" stroke="#555" stroke-width="0.45"/><path d="M544.1,646.5c0,-.4 -3.2,-.9 -3.2,-1.3c0,-.8 -1,-1.9 -1,-2.7c0,-.9 2.7,-2.1 2.7,-2.9c0,-.8 1.8,-1.9 1.8,-2.7c0,-1.3 -2.6,-3.1 -2.6,-4.4c0,-1.4 -1.2,-3.3 -1.2,-4.7c0,-1.4 -1.2,-3.3 -1.2,-4.7c0,-3.1 -1,-7.1 -1,-10.2c0,-.8 -.5,-1.8 -.5,-2.5c0,0.8 -.5,1.8 -.5,2.5c0,3.1 -1,7.1 -1,10.2c0,1.4 -1.2,3.3 -1.2,4.7c0,1.4 -1.2,3.3 -1.2,4.7c0,1.3 -2.6,3.1 -2.6,4.4c0,0.8 1.8,1.9 1.8,2.7c0,0.9 2.7,2.1 2.7,2.9c0,0.8 -1,1.9 -1,2.7c0,0.4 -3.2,0.9 -3.2,1.3Z" fill="#ee6076" stroke="#3a3a3a" stroke-width="0.25" stroke-linejoin="round"/><line x1="555.9" y1="646.5" x2="555.9" y2="610.3" stroke="#555" stroke-width="0.45"/><path d="M562.1,646.5c0,-.3 -3.6,-.7 -3.6,-.9c0,-.5 -2.1,-1.2 -2.1,-1.7c0,-1.1 0,-2.6 0,-3.8c0,-.8 6.4,-2 6.4,-2.8c0,-.8 -5.1,-1.9 -5.1,-2.7c0,-.8 1.3,-1.9 1.3,-2.7c0,-.6 -2.6,-1.4 -2.6,-1.9c0,-.6 0.8,-1.4 0.8,-1.9c0,-.8 -.8,-1.9 -.8,-2.7c0,-4.5 -.4,-10.4 -.4,-14.9c0,4.5 -.4,10.4 -.4,14.9c0,0.8 -.8,1.9 -.8,2.7c0,0.6 0.8,1.4 0.8,1.9c0,0.6 -2.6,1.4 -2.6,1.9c0,0.8 1.3,1.9 1.3,2.7c0,0.8 -5.1,1.9 -5.1,2.7c0,0.8 6.4,2 6.4,2.8c0,1.1 0,2.6 0,3.8c0,0.5 -2.1,1.2 -2.1,1.7c0,0.3 -3.6,0.7 -3.6,0.9Z" fill="#dba62c" stroke="#3a3a3a" stroke-width="0.25" stroke-linejoin="round"/><line x1="569.4" y1="646.5" x2="569.4" y2="614.3" stroke="#555" stroke-width="0.45"/><path d="M575.6,646.5c0,-.3 -3.6,-.7 -3.6,-.9c0,-.5 -2.1,-1.2 -2.1,-1.7c0,-1.1 0,-2.6 0,-3.8c0,-.8 6.1,-2 6.1,-2.8c0,-.8 -4,-1.9 -4,-2.7c0,-.8 2,-1.9 2,-2.7c0,-.6 -2.5,-1.4 -2.5,-1.9c0,-.6 1.6,-1.4 1.6,-1.9c0,-.4 -1.9,-1 -1.9,-1.5c0,-.4 1.3,-1 1.3,-1.5c0,-.8 -2.6,-1.9 -2.6,-2.7c0,-2.4 -.4,-5.5 -.4,-7.9c0,2.4 -.4,5.5 -.4,7.9c0,0.8 -2.6,1.9 -2.6,2.7c0,0.4 1.3,1 1.3,1.5c0,0.4 -1.9,1 -1.9,1.5c0,0.6 1.6,1.4 1.6,1.9c0,0.6 -2.5,1.4 -2.5,1.9c0,0.8 2,1.9 2,2.7c0,0.8 -4,1.9 -4,2.7c0,0.8 6.1,2 6.1,2.8c0,1.1 0,2.6 0,3.8c0,0.5 -2.1,1.2 -2.1,1.7c0,0.3 -3.6,0.7 -3.6,0.9Z" fill="#36b4ea" stroke="#3a3a3a" stroke-width="0.25" stroke-linejoin="round"/><line x1="583.1" y1="646.5" x2="583.1" y2="614.3" stroke="#555" stroke-width="0.45"/><path d="M589.3,646.5c0,-.3 -3.6,-.7 -3.6,-.9c0,-.5 -2.1,-1.2 -2.1,-1.7c0,-1.1 0,-2.6 0,-3.8c0,-.8 6.1,-2 6.1,-2.8c0,-.8 -3.5,-1.9 -3.5,-2.7c0,-.8 2.5,-1.9 2.5,-2.7c0,-.6 -2.8,-1.4 -2.8,-1.9c0,-.6 2.2,-1.4 2.2,-1.9c0,-.4 -2.8,-1 -2.8,-1.5c0,-.4 1.8,-1 1.8,-1.5c0,-.4 -2.3,-.8 -2.3,-1.2c0,-.4 1.3,-.8 1.3,-1.2c0,-.8 -2.6,-1.9 -2.6,-2.7c0,-1.6 -.4,-3.8 -.4,-5.5c0,1.6 -.4,3.8 -.4,5.5c0,0.8 -2.6,1.9 -2.6,2.7c0,0.4 1.3,0.8 1.3,1.2c0,0.4 -2.3,0.8 -2.3,1.2c0,0.4 1.8,1 1.8,1.5c0,0.4 -2.8,1 -2.8,1.5c0,0.6 2.2,1.4 2.2,1.9c0,0.6 -2.8,1.4 -2.8,1.9c0,0.8 2.5,1.9 2.5,2.7c0,0.8 -3.5,1.9 -3.5,2.7c0,0.8 6.1,2 6.1,2.8c0,1.1 0,2.6 0,3.8c0,0.5 -2.1,1.2 -2.1,1.7c0,0.3 -3.6,0.7 -3.6,0.9Z" fill="#ee6076" stroke="#3a3a3a" stroke-width="0.25" stroke-linejoin="round"/><line x1="601.1" y1="646.5" x2="601.1" y2="609.0" stroke="#555" stroke-width="0.45"/><path d="M607.3,646.5c0,-.4 -3.7,-.9 -3.7,-1.3c0,-.9 -1.4,-2.1 -1.4,-2.9c0,-.9 2.9,-2.2 2.9,-3.1c0,-.6 2.5,-1.3 2.5,-1.9c0,-.7 -2.6,-1.6 -2.6,-2.3c0,-1 -1.6,-2.3 -1.6,-3.2c0,-1.2 -1,-2.8 -1,-4c0,-3.9 -.9,-9.2 -.9,-13.1c0,-1.7 -.4,-3.9 -.4,-5.6c0,1.7 -.4,3.9 -.4,5.6c0,3.9 -.9,9.2 -.9,13.1c0,1.2 -1,2.8 -1,4c0,1 -1.6,2.3 -1.6,3.2c0,0.7 -2.6,1.6 -2.6,2.3c0,0.6 2.5,1.3 2.5,1.9c0,0.9 2.9,2.2 2.9,3.1c0,0.9 -1.4,2.1 -1.4,2.9c0,0.4 -3.7,0.9 -3.7,1.3Z" fill="#dba62c" stroke="#3a3a3a" stroke-width="0.25" stroke-linejoin="round"/><line x1="614.6" y1="646.5" x2="614.6" y2="614.3" stroke="#555" stroke-width="0.45"/><path d="M620.8,646.5c0,-.3 -3.6,-.7 -3.6,-.9c0,-.5 -2.1,-1.2 -2.1,-1.7c0,-1.1 0,-2.6 0,-3.8c0,-.8 4.6,-2 4.6,-2.8c0,-.8 -2.2,-1.9 -2.2,-2.7c0,-.8 3.8,-1.9 3.8,-2.7c0,-.6 -3.1,-1.4 -3.1,-1.9c0,-.6 2.8,-1.4 2.8,-1.9c0,-.4 -3.5,-1 -3.5,-1.5c0,-.4 2.2,-1 2.2,-1.5c0,-.4 -3.1,-.8 -3.1,-1.2c0,-.4 1.6,-.8 1.6,-1.2c0,-.8 -3.1,-1.9 -3.1,-2.7c0,-1.6 -.4,-3.8 -.4,-5.5c0,1.6 -.4,3.8 -.4,5.5c0,0.8 -3.1,1.9 -3.1,2.7c0,0.4 1.6,0.8 1.6,1.2c0,0.4 -3.1,0.8 -3.1,1.2c0,0.4 2.2,1 2.2,1.5c0,0.4 -3.5,1 -3.5,1.5c0,0.6 2.8,1.4 2.8,1.9c0,0.6 -3.1,1.4 -3.1,1.9c0,0.8 3.8,1.9 3.8,2.7c0,0.8 -2.2,1.9 -2.2,2.7c0,0.8 4.6,2 4.6,2.8c0,1.1 0,2.6 0,3.8c0,0.5 -2.1,1.2 -2.1,1.7c0,0.3 -3.6,0.7 -3.6,0.9Z" fill="#36b4ea" stroke="#3a3a3a" stroke-width="0.25" stroke-linejoin="round"/><line x1="628.3" y1="646.5" x2="628.3" y2="611.7" stroke="#555" stroke-width="0.45"/><path d="M634.5,646.5c0,-.3 -3.6,-.7 -3.6,-.9c0,-.5 -2.1,-1.2 -2.1,-1.7c0,-1.1 0,-2.6 0,-3.8c0,-.8 6.1,-2 6.1,-2.8c0,-.8 -3.4,-1.9 -3.4,-2.7c0,-.8 2.5,-1.9 2.5,-2.7c0,-.6 -2.8,-1.4 -2.8,-1.9c0,-.6 2.2,-1.4 2.2,-1.9c0,-.4 -2.8,-1 -2.8,-1.5c0,-.4 1.8,-1 1.8,-1.5c0,-.4 -3.6,-.8 -3.6,-1.2c0,-.4 2.2,-.8 2.2,-1.2c0,-.8 -2.2,-1.9 -2.2,-2.7c0,-2.5 -.4,-5.7 -.4,-8.2c0,2.5 -.4,5.7 -.4,8.2c0,0.8 -2.2,1.9 -2.2,2.7c0,0.4 2.2,0.8 2.2,1.2c0,0.4 -3.6,0.8 -3.6,1.2c0,0.4 1.8,1 1.8,1.5c0,0.4 -2.8,1 -2.8,1.5c0,0.6 2.2,1.4 2.2,1.9c0,0.6 -2.8,1.4 -2.8,1.9c0,0.8 2.5,1.9 2.5,2.7c0,0.8 -3.4,1.9 -3.4,2.7c0,0.8 6.1,2 6.1,2.8c0,1.1 0,2.6 0,3.8c0,0.5 -2.1,1.2 -2.1,1.7c0,0.3 -3.6,0.7 -3.6,0.9Z" fill="#ee6076" stroke="#3a3a3a" stroke-width="0.25" stroke-linejoin="round"/></g><line x1="359.7" y1="633.1" x2="361.5" y2="633.1" stroke="#555" stroke-width="0.5"/><line x1="359.7" y1="619.7" x2="361.5" y2="619.7" stroke="#555" stroke-width="0.5"/><text x="357.5" y="623.1" font-size="9.8" text-anchor="end" fill="#222">2</text><text x="663.6" y="630.1" font-size="10.3" text-anchor="middle" font-weight="bold" fill="#000">Pkm</text><clipPath id="sr4"><rect x="361.5" y="647.1999999999999" width="280.9" height="40.3"/></clipPath><g clip-path="url(#sr4)"><line x1="375.0" y1="687.2" x2="375.0" y2="664.7" stroke="#aaa" stroke-width="0.9"/><line x1="374.1" y1="676.0" x2="375.9" y2="676.0" stroke="#666" stroke-width="0.35"/><line x1="388.5" y1="687.2" x2="388.5" y2="669.1" stroke="#555" stroke-width="0.5"/><line x1="387.6" y1="676.0" x2="389.4" y2="676.0" stroke="#666" stroke-width="0.35"/><line x1="402.2" y1="687.2" x2="402.2" y2="669.1" stroke="#555" stroke-width="0.5"/><line x1="401.3" y1="676.0" x2="403.09999999999997" y2="676.0" stroke="#666" stroke-width="0.35"/><line x1="420.2" y1="687.2" x2="420.2" y2="657.7" stroke="#555" stroke-width="0.5"/><line x1="419.3" y1="676.0" x2="421.09999999999997" y2="676.0" stroke="#666" stroke-width="0.35"/><line x1="433.7" y1="687.2" x2="433.7" y2="664.7" stroke="#555" stroke-width="0.5"/><line x1="432.8" y1="676.0" x2="434.59999999999997" y2="676.0" stroke="#666" stroke-width="0.35"/><line x1="447.4" y1="687.2" x2="447.4" y2="664.7" stroke="#555" stroke-width="0.45"/><path d="M453.6,687.2c0,-.3 -3.6,-.8 -3.6,-1.1c0,-.6 -2.1,-1.5 -2.1,-2.1c0,-1.4 0,-3.2 0,-4.5c0,-1 2,-2.4 2,-3.4c0,-1 -2,-2.3 -2,-3.2c0,-2.4 -.4,-5.7 -.4,-8.1c0,2.4 -.4,5.7 -.4,8.1c0,1 -2,2.3 -2,3.2c0,1 2,2.4 2,3.4c0,1.4 0,3.2 0,4.5c0,0.6 -2.1,1.5 -2.1,2.1c0,0.3 -3.6,0.8 -3.6,1.1Z" fill="#ee6076" stroke="#3a3a3a" stroke-width="0.25" stroke-linejoin="round"/><line x1="465.4" y1="687.2" x2="465.4" y2="657.7" stroke="#555" stroke-width="0.5"/><line x1="464.5" y1="676.0" x2="466.29999999999995" y2="676.0" stroke="#666" stroke-width="0.35"/><line x1="478.9" y1="687.2" x2="478.9" y2="660.3" stroke="#555" stroke-width="0.5"/><line x1="478.0" y1="676.0" x2="479.79999999999995" y2="676.0" stroke="#666" stroke-width="0.35"/><line x1="492.6" y1="687.2" x2="492.6" y2="664.7" stroke="#555" stroke-width="0.45"/><path d="M498.8,687.2c0,-.5 -3.8,-1.1 -3.8,-1.6c0,-1 -1.5,-2.3 -1.5,-3.2c0,-1 0.9,-2.3 0.9,-3.2c0,-.9 0.6,-2.2 0.6,-3.1c0,-1 -.8,-2.4 -.8,-3.4c0,-1 -1,-2.3 -1,-3.2c0,-1.4 -.6,-3.3 -.6,-4.7c0,1.4 -.6,3.3 -.6,4.7c0,1 -1,2.3 -1,3.2c0,1 -.8,2.4 -.8,3.4c0,0.9 0.6,2.2 0.6,3.1c0,1 0.9,2.3 0.9,3.2c0,1 -1.5,2.3 -1.5,3.2c0,0.5 -3.8,1.1 -3.8,1.6Z" fill="#ee6076" stroke="#3a3a3a" stroke-width="0.25" stroke-linejoin="round"/><line x1="510.7" y1="687.2" x2="510.7" y2="661.3" stroke="#555" stroke-width="0.5"/><line x1="509.8" y1="676.0" x2="511.59999999999997" y2="676.0" stroke="#666" stroke-width="0.35"/><line x1="524.2" y1="687.2" x2="524.2" y2="664.7" stroke="#555" stroke-width="0.5"/><line x1="523.3000000000001" y1="676.0" x2="525.1" y2="676.0" stroke="#666" stroke-width="0.35"/><line x1="537.9" y1="687.2" x2="537.9" y2="664.7" stroke="#aaa" stroke-width="0.9"/><line x1="537.0" y1="676.0" x2="538.8" y2="676.0" stroke="#666" stroke-width="0.35"/><line x1="555.9" y1="687.2" x2="555.9" y2="652.7" stroke="#555" stroke-width="0.5"/><line x1="555.0" y1="676.0" x2="556.8" y2="676.0" stroke="#666" stroke-width="0.35"/><line x1="569.4" y1="687.2" x2="569.4" y2="645.1" stroke="#555" stroke-width="0.5"/><line x1="568.5" y1="676.0" x2="570.3" y2="676.0" stroke="#666" stroke-width="0.35"/><line x1="583.1" y1="687.2" x2="583.1" y2="645.1" stroke="#555" stroke-width="0.5"/><line x1="582.2" y1="676.0" x2="584.0" y2="676.0" stroke="#666" stroke-width="0.35"/><line x1="601.1" y1="687.2" x2="601.1" y2="657.7" stroke="#555" stroke-width="0.5"/><line x1="600.2" y1="676.0" x2="602.0" y2="676.0" stroke="#666" stroke-width="0.35"/><line x1="614.6" y1="687.2" x2="614.6" y2="661.3" stroke="#555" stroke-width="0.5"/><line x1="613.7" y1="676.0" x2="615.5" y2="676.0" stroke="#666" stroke-width="0.35"/><line x1="628.3" y1="687.2" x2="628.3" y2="652.7" stroke="#555" stroke-width="0.5"/><line x1="627.4" y1="676.0" x2="629.1999999999999" y2="676.0" stroke="#666" stroke-width="0.35"/></g><line x1="359.7" y1="671.0" x2="361.5" y2="671.0" stroke="#555" stroke-width="0.5"/><line x1="359.7" y1="654.8" x2="361.5" y2="654.8" stroke="#555" stroke-width="0.5"/><text x="357.5" y="658.2" font-size="9.8" text-anchor="end" fill="#222">2</text><text x="663.6" y="670.75" font-size="10.3" text-anchor="middle" font-weight="bold" fill="#000">Pdk1</text><clipPath id="sr5"><rect x="361.5" y="687.9" width="280.9" height="40.3"/></clipPath><g clip-path="url(#sr5)"><line x1="375.0" y1="727.9000000000001" x2="375.0" y2="698.9" stroke="#555" stroke-width="0.45"/><path d="M381.2,727.9c0,-.4 -3.7,-1 -3.7,-1.4c0,-.9 -1.4,-2.1 -1.4,-3c0,-1 2.9,-2.2 2.9,-3.2c0,-.6 2.5,-1.4 2.5,-1.9c0,-.7 -2.6,-1.6 -2.6,-2.3c0,-1 -1.6,-2.3 -1.6,-3.3c0,-1.2 -1,-2.9 -1,-4.1c0,-1.6 -.9,-3.7 -.9,-5.3c0,-1.3 -.4,-3 -.4,-4.3c0,1.3 -.4,3 -.4,4.3c0,1.6 -.9,3.7 -.9,5.3c0,1.2 -1,2.9 -1,4.1c0,1 -1.6,2.3 -1.6,3.3c0,0.7 -2.6,1.6 -2.6,2.3c0,0.6 2.5,1.4 2.5,1.9c0,1 2.9,2.2 2.9,3.2c0,0.9 -1.4,2.1 -1.4,3c0,0.4 -3.7,1 -3.7,1.4Z" fill="#dba62c" stroke="#3a3a3a" stroke-width="0.25" stroke-linejoin="round"/><line x1="388.5" y1="727.9000000000001" x2="388.5" y2="695.5" stroke="#555" stroke-width="0.45"/><path d="M394.7,727.9c0,-.3 -3.6,-.7 -3.6,-1c0,-.5 -2.1,-1.3 -2.1,-1.8c0,-1.2 0,-2.7 0,-3.9c0,-.9 5.8,-2 5.8,-2.9c0,-.8 -3.2,-2 -3.2,-2.8c0,-.8 2.5,-2 2.5,-2.8c0,-.6 -3.8,-1.4 -3.8,-2c0,-.6 1.3,-1.4 1.3,-2c0,-.5 -2.6,-1.1 -2.6,-1.5c0,-.5 1.2,-1.1 1.2,-1.5c0,-.8 -1.2,-1.9 -1.2,-2.8c0,-2.2 -.4,-5.2 -.4,-7.5c0,2.2 -.4,5.2 -.4,7.5c0,0.8 -1.2,1.9 -1.2,2.8c0,0.5 1.2,1.1 1.2,1.5c0,0.5 -2.6,1.1 -2.6,1.5c0,0.6 1.3,1.4 1.3,2c0,0.6 -3.8,1.4 -3.8,2c0,0.8 2.5,2 2.5,2.8c0,0.8 -3.2,2 -3.2,2.8c0,0.9 5.8,2 5.8,2.9c0,1.2 0,2.7 0,3.9c0,0.5 -2.1,1.3 -2.1,1.8c0,0.3 -3.6,0.7 -3.6,1Z" fill="#36b4ea" stroke="#3a3a3a" stroke-width="0.25" stroke-linejoin="round"/><line x1="402.2" y1="727.9000000000001" x2="402.2" y2="701.0" stroke="#555" stroke-width="0.45"/><path d="M408.4,727.9c0,-.3 -3.6,-.7 -3.6,-1c0,-.5 -2.1,-1.3 -2.1,-1.8c0,-1.2 0,-2.7 0,-3.9c0,-.9 5.8,-2 5.8,-2.9c0,-.8 -3.3,-2 -3.3,-2.8c0,-.8 2.3,-2 2.3,-2.8c0,-.6 -3.5,-1.4 -3.5,-2c0,-.6 1.3,-1.4 1.3,-2c0,-.5 -2.6,-1.1 -2.6,-1.5c0,-.5 1.2,-1.1 1.2,-1.5c0,-.8 -1.2,-1.9 -1.2,-2.8c0,-.6 -.4,-1.4 -.4,-1.9c0,0.6 -.4,1.4 -.4,1.9c0,0.8 -1.2,1.9 -1.2,2.8c0,0.5 1.2,1.1 1.2,1.5c0,0.5 -2.6,1.1 -2.6,1.5c0,0.6 1.3,1.4 1.3,2c0,0.6 -3.5,1.4 -3.5,2c0,0.8 2.3,2 2.3,2.8c0,0.8 -3.3,2 -3.3,2.8c0,0.9 5.8,2 5.8,2.9c0,1.2 0,2.7 0,3.9c0,0.5 -2.1,1.3 -2.1,1.8c0,0.3 -3.6,0.7 -3.6,1Z" fill="#ee6076" stroke="#3a3a3a" stroke-width="0.25" stroke-linejoin="round"/><line x1="420.2" y1="727.9000000000001" x2="420.2" y2="694.8" stroke="#555" stroke-width="0.45"/><path d="M426.4,727.9c0,-.3 -3.6,-.7 -3.6,-1c0,-.5 -2.1,-1.3 -2.1,-1.8c0,-1.2 0,-2.7 0,-3.9c0,-.9 6,-2 6,-2.9c0,-.8 -6,-2 -6,-2.8c0,-.8 1.6,-2 1.6,-2.8c0,-.8 -1.6,-1.9 -1.6,-2.8c0,-4.6 -.4,-10.6 -.4,-15.2c0,4.6 -.4,10.6 -.4,15.2c0,0.8 -1.6,1.9 -1.6,2.8c0,0.8 1.6,2 1.6,2.8c0,0.8 -6,2 -6,2.8c0,0.9 6,2 6,2.9c0,1.2 0,2.7 0,3.9c0,0.5 -2.1,1.3 -2.1,1.8c0,0.3 -3.6,0.7 -3.6,1Z" fill="#dba62c" stroke="#3a3a3a" stroke-width="0.25" stroke-linejoin="round"/><line x1="433.7" y1="727.9000000000001" x2="433.7" y2="695.5" stroke="#555" stroke-width="0.45"/><path d="M439.9,727.9c0,-.3 -3.6,-.7 -3.6,-1c0,-.5 -2.1,-1.3 -2.1,-1.8c0,-1.2 0,-2.7 0,-3.9c0,-.9 4.6,-2 4.6,-2.9c0,-.8 -2.2,-2 -2.2,-2.8c0,-.8 3.7,-2 3.7,-2.8c0,-.6 -3.7,-1.4 -3.7,-2c0,-.6 2.2,-1.4 2.2,-2c0,-.5 -3.1,-1.1 -3.1,-1.5c0,-.5 1.5,-1.1 1.5,-1.5c0,-.4 -3,-.9 -3,-1.2c0,-.4 1.6,-.9 1.6,-1.2c0,-.8 -1.6,-1.9 -1.6,-2.8c0,-1.5 -.4,-3.5 -.4,-5c0,1.5 -.4,3.5 -.4,5c0,0.8 -1.6,1.9 -1.6,2.8c0,0.4 1.6,0.9 1.6,1.2c0,0.4 -3,0.9 -3,1.2c0,0.5 1.5,1.1 1.5,1.5c0,0.5 -3.1,1.1 -3.1,1.5c0,0.6 2.2,1.4 2.2,2c0,0.6 -3.7,1.4 -3.7,2c0,0.8 3.7,2 3.7,2.8c0,0.8 -2.2,2 -2.2,2.8c0,0.9 4.6,2 4.6,2.9c0,1.2 0,2.7 0,3.9c0,0.5 -2.1,1.3 -2.1,1.8c0,0.3 -3.6,0.7 -3.6,1Z" fill="#36b4ea" stroke="#3a3a3a" stroke-width="0.25" stroke-linejoin="round"/><line x1="447.4" y1="727.9000000000001" x2="447.4" y2="695.5" stroke="#555" stroke-width="0.45"/><path d="M453.6,727.9c0,-.3 -3.6,-.7 -3.6,-1c0,-.5 -2.1,-1.3 -2.1,-1.8c0,-1.2 0,-2.7 0,-3.9c0,-.9 5,-2 5,-2.9c0,-.8 -2.4,-2 -2.4,-2.8c0,-.8 3.4,-2 3.4,-2.8c0,-.6 -3.3,-1.4 -3.3,-2c0,-.6 2.5,-1.4 2.5,-2c0,-.5 -3.4,-1.1 -3.4,-1.5c0,-.5 1.8,-1.1 1.8,-1.5c0,-.4 -3.6,-.9 -3.6,-1.2c0,-.4 2.2,-.9 2.2,-1.2c0,-.8 -2.2,-1.9 -2.2,-2.8c0,-1.5 -.4,-3.5 -.4,-5c0,1.5 -.4,3.5 -.4,5c0,0.8 -2.2,1.9 -2.2,2.8c0,0.4 2.2,0.9 2.2,1.2c0,0.4 -3.6,0.9 -3.6,1.2c0,0.5 1.8,1.1 1.8,1.5c0,0.5 -3.4,1.1 -3.4,1.5c0,0.6 2.5,1.4 2.5,2c0,0.6 -3.3,1.4 -3.3,2c0,0.8 3.4,2 3.4,2.8c0,0.8 -2.4,2 -2.4,2.8c0,0.9 5,2 5,2.9c0,1.2 0,2.7 0,3.9c0,0.5 -2.1,1.3 -2.1,1.8c0,0.3 -3.6,0.7 -3.6,1Z" fill="#ee6076" stroke="#3a3a3a" stroke-width="0.25" stroke-linejoin="round"/><line x1="465.4" y1="727.9000000000001" x2="465.4" y2="695.5" stroke="#555" stroke-width="0.45"/><path d="M471.6,727.9c0,-.4 -3.7,-1 -3.7,-1.4c0,-.9 -1,-2.1 -1,-3c0,-1 2.5,-2.2 2.5,-3.2c0,-.6 2.5,-1.4 2.5,-1.9c0,-.7 -2.6,-1.6 -2.6,-2.3c0,-1 -1.6,-2.3 -1.6,-3.3c0,-1.2 -1,-2.9 -1,-4.1c0,-2.5 -.9,-5.8 -.9,-8.2c0,-1.5 -.4,-3.4 -.4,-4.9c0,1.5 -.4,3.4 -.4,4.9c0,2.5 -.9,5.8 -.9,8.2c0,1.2 -1,2.9 -1,4.1c0,1 -1.6,2.3 -1.6,3.3c0,0.7 -2.6,1.6 -2.6,2.3c0,0.6 2.5,1.4 2.5,1.9c0,1 2.5,2.2 2.5,3.2c0,0.9 -1,2.1 -1,3c0,0.4 -3.7,1 -3.7,1.4Z" fill="#dba62c" stroke="#3a3a3a" stroke-width="0.25" stroke-linejoin="round"/><line x1="478.9" y1="727.9000000000001" x2="478.9" y2="696.2" stroke="#555" stroke-width="0.45"/><path d="M485.1,727.9c0,-.4 -3.2,-1 -3.2,-1.4c0,-.8 -1,-1.9 -1,-2.8c0,-.9 2.7,-2.1 2.7,-3c0,-.8 1.8,-1.9 1.8,-2.8c0,-1.4 -2.9,-3.2 -2.9,-4.6c0,-1.4 -1.1,-3.4 -1.1,-4.8c0,-1.4 -1.1,-3.4 -1.1,-4.8c0,-1.6 -.9,-3.8 -.9,-5.4c0,-.7 -.5,-1.6 -.5,-2.2c0,0.7 -.5,1.6 -.5,2.2c0,1.6 -.9,3.8 -.9,5.4c0,1.4 -1.1,3.4 -1.1,4.8c0,1.4 -1.1,3.4 -1.1,4.8c0,1.4 -2.9,3.2 -2.9,4.6c0,0.8 1.8,1.9 1.8,2.8c0,0.9 2.7,2.1 2.7,3c0,0.8 -1,1.9 -1,2.8c0,0.4 -3.2,1 -3.2,1.4Z" fill="#36b4ea" stroke="#3a3a3a" stroke-width="0.25" stroke-linejoin="round"/><line x1="492.6" y1="727.9000000000001" x2="492.6" y2="701.0" stroke="#555" stroke-width="0.45"/><path d="M498.8,727.9c0,-.3 -3.6,-.7 -3.6,-1c0,-.5 -2.1,-1.3 -2.1,-1.8c0,-1.2 0,-2.7 0,-3.9c0,-.9 5.8,-2 5.8,-2.9c0,-.8 -3.7,-2 -3.7,-2.8c0,-.8 2,-2 2,-2.8c0,-.6 -2.8,-1.4 -2.8,-2c0,-.6 1.3,-1.4 1.3,-2c0,-.5 -2.6,-1.1 -2.6,-1.5c0,-.5 1.6,-1.1 1.6,-1.5c0,-.8 -1.6,-1.9 -1.6,-2.8c0,-.6 -.4,-1.4 -.4,-1.9c0,0.6 -.4,1.4 -.4,1.9c0,0.8 -1.6,1.9 -1.6,2.8c0,0.5 1.6,1.1 1.6,1.5c0,0.5 -2.6,1.1 -2.6,1.5c0,0.6 1.3,1.4 1.3,2c0,0.6 -2.8,1.4 -2.8,2c0,0.8 2,2 2,2.8c0,0.8 -3.7,2 -3.7,2.8c0,0.9 5.8,2 5.8,2.9c0,1.2 0,2.7 0,3.9c0,0.5 -2.1,1.3 -2.1,1.8c0,0.3 -3.6,0.7 -3.6,1Z" fill="#ee6076" stroke="#3a3a3a" stroke-width="0.25" stroke-linejoin="round"/><line x1="510.7" y1="727.9000000000001" x2="510.7" y2="694.8" stroke="#555" stroke-width="0.45"/><path d="M516.9,727.9c0,-.3 -3.6,-.7 -3.6,-1c0,-.5 -2.1,-1.3 -2.1,-1.8c0,-1.2 0,-2.7 0,-3.9c0,-.9 6.1,-2 6.1,-2.9c0,-.8 -6.1,-2 -6.1,-2.8c0,-.8 0.8,-2 0.8,-2.8c0,-.8 -.8,-1.9 -.8,-2.8c0,-4.6 -.4,-10.6 -.4,-15.2c0,4.6 -.4,10.6 -.4,15.2c0,0.8 -.8,1.9 -.8,2.8c0,0.8 0.8,2 0.8,2.8c0,0.8 -6.1,2 -6.1,2.8c0,0.9 6.1,2 6.1,2.9c0,1.2 0,2.7 0,3.9c0,0.5 -2.1,1.3 -2.1,1.8c0,0.3 -3.6,0.7 -3.6,1Z" fill="#dba62c" stroke="#3a3a3a" stroke-width="0.25" stroke-linejoin="round"/><line x1="524.2" y1="727.9000000000001" x2="524.2" y2="695.5" stroke="#555" stroke-width="0.45"/><path d="M530.4,727.9c0,-.4 -3.2,-1 -3.2,-1.4c0,-.8 -1,-1.9 -1,-2.8c0,-.9 2.7,-2.1 2.7,-3c0,-.8 1.8,-1.9 1.8,-2.8c0,-1.4 -2.9,-3.2 -2.9,-4.6c0,-1.4 -1.1,-3.4 -1.1,-4.8c0,-1.4 -1.1,-3.4 -1.1,-4.8c0,-1.8 -.9,-4.2 -.9,-6c0,-.7 -.5,-1.6 -.5,-2.3c0,0.7 -.5,1.6 -.5,2.3c0,1.8 -.9,4.2 -.9,6c0,1.4 -1.1,3.4 -1.1,4.8c0,1.4 -1.1,3.4 -1.1,4.8c0,1.4 -2.9,3.2 -2.9,4.6c0,0.8 1.8,1.9 1.8,2.8c0,0.9 2.7,2.1 2.7,3c0,0.8 -1,1.9 -1,2.8c0,0.4 -3.2,1 -3.2,1.4Z" fill="#36b4ea" stroke="#3a3a3a" stroke-width="0.25" stroke-linejoin="round"/><line x1="537.9" y1="727.9000000000001" x2="537.9" y2="695.5" stroke="#555" stroke-width="0.45"/><path d="M544.1,727.9c0,-.4 -3.2,-1 -3.2,-1.4c0,-.8 -1,-1.9 -1,-2.8c0,-.9 2.7,-2.1 2.7,-3c0,-.8 1.8,-1.9 1.8,-2.8c0,-1.4 -2.3,-3.2 -2.3,-4.6c0,-1.4 -1.3,-3.4 -1.3,-4.8c0,-1.4 -1.3,-3.4 -1.3,-4.8c0,-1.8 -1.1,-4.2 -1.1,-6c0,-.7 -.5,-1.6 -.5,-2.3c0,0.7 -.5,1.6 -.5,2.3c0,1.8 -1.1,4.2 -1.1,6c0,1.4 -1.3,3.4 -1.3,4.8c0,1.4 -1.3,3.4 -1.3,4.8c0,1.4 -2.3,3.2 -2.3,4.6c0,0.8 1.8,1.9 1.8,2.8c0,0.9 2.7,2.1 2.7,3c0,0.8 -1,1.9 -1,2.8c0,0.4 -3.2,1 -3.2,1.4Z" fill="#ee6076" stroke="#3a3a3a" stroke-width="0.25" stroke-linejoin="round"/><line x1="555.9" y1="727.9000000000001" x2="555.9" y2="690.0" stroke="#555" stroke-width="0.5"/><path d="M548.6999999999999,718.4 L555.9,717.6 L563.1,718.4 L555.9,719.2Z" fill="#dba62c" stroke="#3a3a3a" stroke-width="0.25"/><line x1="569.4" y1="727.9000000000001" x2="569.4" y2="692.0" stroke="#555" stroke-width="0.45"/><path d="M570.6,727.9c0,-.3 -.7,-.7 -.7,-1c0,-.5 -.2,-1.3 -.2,-1.8c0,-1.2 0.1,-2.7 0.1,-3.9c0,-.9 5.8,-2 5.8,-2.9c0,-.8 -5.8,-2 -5.8,-2.8c0,-.8 2.2,-2 2.2,-2.8c0,-.6 -2.2,-1.4 -2.2,-2c0,-.6 1.6,-1.4 1.6,-2c0,-.5 -1.6,-1.1 -1.6,-1.5c0,-.5 0.8,-1.1 0.8,-1.5c0,-.8 -.8,-1.9 -.8,-2.8c0,-3.3 -.4,-7.6 -.4,-10.9c0,3.3 -.4,7.6 -.4,10.9c0,0.8 -.8,1.9 -.8,2.8c0,0.5 0.8,1.1 0.8,1.5c0,0.5 -1.6,1.1 -1.6,1.5c0,0.6 1.6,1.4 1.6,2c0,0.6 -2.2,1.4 -2.2,2c0,0.8 2.2,2 2.2,2.8c0,0.8 -5.8,2 -5.8,2.8c0,0.9 5.8,2 5.8,2.9c0,1.2 0.1,2.7 0.1,3.9c0,0.5 -.2,1.3 -.2,1.8c0,0.3 -.7,0.7 -.7,1Z" fill="#36b4ea" stroke="#3a3a3a" stroke-width="0.25" stroke-linejoin="round"/><line x1="583.1" y1="727.9000000000001" x2="583.1" y2="690.0" stroke="#555" stroke-width="0.45"/><path d="M584.3,727.9c0,-.3 -.7,-.7 -.7,-1c0,-.5 -.2,-1.3 -.2,-1.8c0,-1.2 0.1,-2.7 0.1,-3.9c0,-.9 5.8,-2 5.8,-2.9c0,-.8 -4.5,-2 -4.5,-2.8c0,-.8 1.3,-2 1.3,-2.8c0,-.6 -2.6,-1.4 -2.6,-2c0,-.6 2,-1.4 2,-2c0,-.5 -2,-1.1 -2,-1.5c0,-.5 1,-1.1 1,-1.5c0,-.8 -1,-1.9 -1,-2.8c0,-3.9 -.4,-9.1 -.4,-13c0,3.9 -.4,9.1 -.4,13c0,0.8 -1,1.9 -1,2.8c0,0.5 1,1.1 1,1.5c0,0.5 -2,1.1 -2,1.5c0,0.6 2,1.4 2,2c0,0.6 -2.6,1.4 -2.6,2c0,0.8 1.3,2 1.3,2.8c0,0.8 -4.5,2 -4.5,2.8c0,0.9 5.8,2 5.8,2.9c0,1.2 0.1,2.7 0.1,3.9c0,0.5 -.2,1.3 -.2,1.8c0,0.3 -.7,0.7 -.7,1Z" fill="#ee6076" stroke="#3a3a3a" stroke-width="0.25" stroke-linejoin="round"/><line x1="601.1" y1="727.9000000000001" x2="601.1" y2="694.8" stroke="#555" stroke-width="0.5"/><path d="M593.9,718.4 L601.1,717.6 L608.3000000000001,718.4 L601.1,719.2Z" fill="#dba62c" stroke="#3a3a3a" stroke-width="0.25"/><line x1="614.6" y1="727.9000000000001" x2="614.6" y2="698.9" stroke="#555" stroke-width="0.45"/><path d="M615.8,727.9c0,-.3 -.7,-.7 -.7,-1c0,-.5 -.2,-1.3 -.2,-1.8c0,-1.2 0.1,-2.7 0.1,-3.9c0,-.9 5.8,-2 5.8,-2.9c0,-.8 -3.3,-2 -3.3,-2.8c0,-.8 2.3,-2 2.3,-2.8c0,-.6 -3,-1.4 -3,-2c0,-.6 1.8,-1.4 1.8,-2c0,-.5 -2.5,-1.1 -2.5,-1.5c0,-.5 1.3,-1.1 1.3,-1.5c0,-.4 -2.4,-.9 -2.4,-1.2c0,-.4 1.2,-.9 1.2,-1.2c0,-.8 -1.2,-1.9 -1.2,-2.8c0,-.5 -.4,-1.1 -.4,-1.5c0,0.5 -.4,1.1 -.4,1.5c0,0.8 -1.2,1.9 -1.2,2.8c0,0.4 1.2,0.9 1.2,1.2c0,0.4 -2.4,0.9 -2.4,1.2c0,0.5 1.3,1.1 1.3,1.5c0,0.5 -2.5,1.1 -2.5,1.5c0,0.6 1.8,1.4 1.8,2c0,0.6 -3,1.4 -3,2c0,0.8 2.3,2 2.3,2.8c0,0.8 -3.3,2 -3.3,2.8c0,0.9 5.8,2 5.8,2.9c0,1.2 0.1,2.7 0.1,3.9c0,0.5 -.2,1.3 -.2,1.8c0,0.3 -.7,0.7 -.7,1Z" fill="#36b4ea" stroke="#3a3a3a" stroke-width="0.25" stroke-linejoin="round"/><line x1="628.3" y1="727.9000000000001" x2="628.3" y2="695.5" stroke="#555" stroke-width="0.45"/><path d="M629.5,727.9c0,-.3 -.7,-.7 -.7,-1c0,-.5 -.2,-1.3 -.2,-1.8c0,-1.2 0.1,-2.7 0.1,-3.9c0,-.9 5.8,-2 5.8,-2.9c0,-.8 -3.7,-2 -3.7,-2.8c0,-.8 2.1,-2 2.1,-2.8c0,-.6 -2.8,-1.4 -2.8,-2c0,-.6 1.4,-1.4 1.4,-2c0,-.5 -2.8,-1.1 -2.8,-1.5c0,-.5 1.8,-1.1 1.8,-1.5c0,-.8 -1.8,-1.9 -1.8,-2.8c0,-2.2 -.4,-5.2 -.4,-7.5c0,2.2 -.4,5.2 -.4,7.5c0,0.8 -1.8,1.9 -1.8,2.8c0,0.5 1.8,1.1 1.8,1.5c0,0.5 -2.8,1.1 -2.8,1.5c0,0.6 1.4,1.4 1.4,2c0,0.6 -2.8,1.4 -2.8,2c0,0.8 2.1,2 2.1,2.8c0,0.8 -3.7,2 -3.7,2.8c0,0.9 5.8,2 5.8,2.9c0,1.2 0.1,2.7 0.1,3.9c0,0.5 -.2,1.3 -.2,1.8c0,0.3 -.7,0.7 -.7,1Z" fill="#ee6076" stroke="#3a3a3a" stroke-width="0.25" stroke-linejoin="round"/></g><line x1="359.7" y1="714.1" x2="361.5" y2="714.1" stroke="#555" stroke-width="0.5"/><line x1="359.7" y1="700.3" x2="361.5" y2="700.3" stroke="#555" stroke-width="0.5"/><text x="357.5" y="703.7" font-size="9.8" text-anchor="end" fill="#222">2</text><text x="663.6" y="711.45" font-size="10.3" text-anchor="middle" font-weight="bold" fill="#000">Ldha</text><text x="398.4" y="503.8" font-size="16.8" text-anchor="middle" fill="#111">***</text><text x="442.6" y="503.8" font-size="16.8" text-anchor="middle" fill="#111">***</text><text x="489" y="503.8" font-size="16.8" text-anchor="middle" fill="#111">***</text><text x="532.2" y="503.8" font-size="16.8" text-anchor="middle" fill="#111">*</text><text x="579.3" y="503.8" font-size="16.8" text-anchor="middle" fill="#111">***</text><text x="624.4" y="503.8" font-size="16.8" text-anchor="middle" fill="#111">***</text><text x="442.6" y="545.4" font-size="16.8" text-anchor="middle" fill="#111">***</text><text x="489" y="545.4" font-size="16.8" text-anchor="middle" fill="#111">***</text><text x="394.9" y="585" font-size="16.8" text-anchor="middle" fill="#111">*</text><text x="442.1" y="585" font-size="16.8" text-anchor="middle" fill="#111">**</text><text x="489" y="585" font-size="16.8" text-anchor="middle" fill="#111">***</text><text x="623" y="585" font-size="16.8" text-anchor="middle" fill="#111">**</text><text x="442" y="623" font-size="16.8" text-anchor="middle" fill="#111">**</text><text x="578.8" y="622.6" font-size="16.8" text-anchor="middle" fill="#111">***</text><text x="624.4" y="622.6" font-size="16.8" text-anchor="middle" fill="#111">***</text><text x="396" y="670.7" font-size="16.8" text-anchor="middle" fill="#111">*</text><text x="443.2" y="670.7" font-size="16.8" text-anchor="middle" fill="#111">***</text><text x="486" y="670.7" font-size="16.8" text-anchor="middle" fill="#111">**</text><text x="580.4" y="668.5" font-size="16.8" text-anchor="middle" fill="#111">***</text><text x="443.2" y="703.5" font-size="16.8" text-anchor="middle" fill="#111">***</text><text x="488.6" y="703.5" font-size="16.8" text-anchor="middle" fill="#111">**</text><text x="577.7" y="703.5" font-size="16.8" text-anchor="middle" fill="#111">**</text><text x="623" y="703.5" font-size="16.8" text-anchor="middle" fill="#111">**</text><line x1="388.5" y1="728.2" x2="388.5" y2="730.8000000000001" stroke="#555" stroke-width="0.55"/><line x1="433.7" y1="728.2" x2="433.7" y2="730.8000000000001" stroke="#555" stroke-width="0.55"/><line x1="478.9" y1="728.2" x2="478.9" y2="730.8000000000001" stroke="#555" stroke-width="0.55"/><line x1="524.2" y1="728.2" x2="524.2" y2="730.8000000000001" stroke="#555" stroke-width="0.55"/><line x1="569.4" y1="728.2" x2="569.4" y2="730.8000000000001" stroke="#555" stroke-width="0.55"/><line x1="614.6" y1="728.2" x2="614.6" y2="730.8000000000001" stroke="#555" stroke-width="0.55"/><text x="390.6" y="743.5" font-size="11.3" text-anchor="end" fill="#000" transform="rotate(-45 390.6 743.5)">Suprabasal</text><text x="435.8" y="743.5" font-size="11.3" text-anchor="end" fill="#000" transform="rotate(-45 435.8 743.5)">Basal</text><text x="481.0" y="743.5" font-size="11.3" text-anchor="end" fill="#000" transform="rotate(-45 481.0 743.5)">HF</text><text x="526.3" y="743.5" font-size="11.3" text-anchor="end" fill="#000" transform="rotate(-45 526.3 743.5)">SG</text><text x="571.5" y="743.5" font-size="11.3" text-anchor="end" fill="#000" transform="rotate(-45 571.5 743.5)">Dermal</text><text x="616.7" y="743.5" font-size="11.3" text-anchor="end" fill="#000" transform="rotate(-45 616.7 743.5)">Immune</text><text x="3" y="822.3" font-size="16.8" font-weight="bold" fill="#000">F</text><rect x="40" y="819.4" width="97.2" height="15" fill="#fff" stroke="#555" stroke-width="0.7"/><text x="86.2" y="831.2" font-size="11" font-weight="bold" text-anchor="middle"><tspan fill="#6cc24a">CD68</tspan><tspan fill="#2a3fd6"> DAPI</tspan></text><rect x="140.6" y="819.4" width="97.2" height="15" fill="#fff" stroke="#555" stroke-width="0.7"/><text x="189.4" y="831.2" font-size="11" font-weight="bold" text-anchor="middle"><tspan fill="#6cc24a">Glut1</tspan><tspan fill="#3c4fb4"> DAPI</tspan></text><rect x="241.3" y="819.4" width="96.6" height="15" fill="#fff" stroke="#555" stroke-width="0.7"/><text x="294.8" y="831.2" font-size="11" font-weight="bold" text-anchor="middle"><tspan fill="#6cc24a">Aldoa</tspan><tspan fill="#3c4fb4"> DAPI</tspan></text><text x="13.8" y="858" font-size="8.2" fill="#111">NE</text><text x="13.8" y="915.8" font-size="8.2" fill="#111">E-con</text><text x="13.8" y="968.6" font-size="8.2" fill="#111">E-Yd1</text><clipPath id="fc11"><rect x="40" y="834.4" width="97.2" height="48.1"/></clipPath><rect x="40" y="834.4" width="97.2" height="48.1" fill="#000"/><g clip-path="url(#fc11)"><clipPath id="ft11"><polygon points="38.0,843.5 40.0,843.5 47.6,841.9 58.8,840.3 69.9,841.1 79.5,845.9 89.0,847.4 101.7,846.7 114.5,847.4 127.2,846.7 137.2,845.9 139.2,845.9 139.2,884.5 38.0,884.5"/></clipPath><g clip-path="url(#ft11)"><rect x="39" y="833.4" width="99.2" height="50.1" fill="#000" filter="url(#ft2)"/><clipPath id="fg11fg114"><polygon points="40.0,848.4 137.0,848.4 137.0,882.4 40.0,882.4"/></clipPath><g clip-path="url(#fg11fg114)"><rect x="39" y="833.4" width="99.2" height="50.1" fill="#000" filter="url(#fg1)"/></g><ellipse cx="50" cy="845.9" rx="3.2" ry="1.5" fill="#28a8f0" opacity="1" filter="url(#fbs)"/><ellipse cx="62" cy="846.9" rx="3.2" ry="1.5" fill="#28a8f0" opacity="1" filter="url(#fbs)"/><ellipse cx="71" cy="849.9" rx="2.6" ry="1.8" fill="#28a8f0" opacity="1" filter="url(#fbs)"/><ellipse cx="84.5" cy="848.4" rx="2.8" ry="1.6" fill="#2098e8" opacity="1" filter="url(#fbs)"/><ellipse cx="89" cy="853.4" rx="2.8" ry="1.5" fill="#2888f0" opacity="1" filter="url(#fbs)"/><ellipse cx="94.5" cy="852.4" rx="1.7" ry="1.7" fill="#28a8f0" opacity="0.9" filter="url(#fbs)"/><ellipse cx="129.5" cy="853.9" rx="2" ry="2.2" fill="#20a8c8" opacity="0.9" filter="url(#fbs)"/></g><path d="M38.0,843.2 L40.0,843.2 L47.6,841.6 L58.8,840.0 L69.9,840.8 L79.5,845.6 L89.0,847.1 L101.7,846.4 L114.5,847.1 L127.2,846.4 L137.2,845.6 L139.2,845.6" fill="none" stroke="#1028a4" stroke-width="1.5" stroke-linejoin="round" opacity="0.8"/><path d="M38.0,843.5 L40.0,843.5 L47.6,841.9 L58.8,840.3 L69.9,841.1 L79.5,845.9 L89.0,847.4 L101.7,846.7 L114.5,847.4 L127.2,846.7 L137.2,845.9 L139.2,845.9" fill="none" stroke="#f6f6f2" stroke-width="1.15" stroke-dasharray="4.6 2.8" stroke-linejoin="round"/></g><clipPath id="fc12"><rect x="40" y="886.6" width="97.2" height="48.3"/></clipPath><rect x="40" y="886.6" width="97.2" height="48.3" fill="#000"/><g clip-path="url(#fc12)"><clipPath id="ft12"><polygon points="38.0,890.6 40.0,890.6 49.2,891.9 58.8,895.0 65.9,894.6 70.7,899.8 73.1,895.4 84.2,894.6 93.8,897.7 103.3,902.5 109.7,905.7 106.5,900.1 114.5,893.8 124.0,895.4 137.2,899.3 139.2,899.3 139.2,936.9 38.0,936.9"/></clipPath><g clip-path="url(#ft12)"><rect x="39" y="885.6" width="99.2" height="50.3" fill="#000" filter="url(#ft2)"/><polygon points="40.0,914.6 58.0,915.6 62.0,918.6 40.0,920.6" fill="#1a6a1c" opacity="0.8" filter="url(#fbs)"/><clipPath id="fg12fg212"><polygon points="40.0,898.6 137.0,900.6 137.0,935.6 40.0,935.6"/></clipPath><g clip-path="url(#fg12fg212)"><rect x="39" y="885.6" width="99.2" height="50.3" fill="#000" filter="url(#fg2)"/></g></g><path d="M38.0,890.3 L40.0,890.3 L49.2,891.6 L58.8,894.7 L65.9,894.3 L70.7,899.5 L73.1,895.1 L84.2,894.3 L93.8,897.4 L103.3,902.2 L109.7,905.4 L106.5,899.8 L114.5,893.5 L124.0,895.1 L137.2,899.0 L139.2,899.0" fill="none" stroke="#1028a4" stroke-width="1.5" stroke-linejoin="round" opacity="0.8"/><path d="M38.0,890.6 L40.0,890.6 L49.2,891.9 L58.8,895.0 L65.9,894.6 L70.7,899.8 L73.1,895.4 L84.2,894.6 L93.8,897.7 L103.3,902.5 L109.7,905.7 L106.5,900.1 L114.5,893.8 L124.0,895.4 L137.2,899.3 L139.2,899.3" fill="none" stroke="#f6f6f2" stroke-width="1.15" stroke-dasharray="4.6 2.8" stroke-linejoin="round"/></g><clipPath id="fc13"><rect x="40" y="937.9" width="97.2" height="49.1"/></clipPath><rect x="40" y="937.9" width="97.2" height="49.1" fill="#000"/><g clip-path="url(#fc13)"><clipPath id="ft13"><polygon points="38.0,948.6 40.0,948.6 47.6,943.8 57.2,942.2 63.6,947.8 73.1,951.7 79.5,948.6 85.8,951.7 92.2,949.4 101.7,948.6 114.5,948.6 127.2,947.8 137.2,950.9 139.2,950.9 139.2,989.0 38.0,989.0"/></clipPath><g clip-path="url(#ft13)"><rect x="39" y="936.9" width="99.2" height="51.1" fill="#000" filter="url(#ft1)"/><clipPath id="fg13fg212"><polygon points="40.0,949.9 137.0,949.9 137.0,987.9 40.0,987.9"/></clipPath><g clip-path="url(#fg13fg212)"><rect x="39" y="936.9" width="99.2" height="51.1" fill="#000" filter="url(#fg2)"/></g><ellipse cx="94" cy="958.9" rx="3" ry="2.4" fill="#1838c0" opacity="0.7" filter="url(#fbs)"/><ellipse cx="104" cy="958.9" rx="2.4" ry="2.4" fill="#1838c0" opacity="0.7" filter="url(#fbs)"/><ellipse cx="45" cy="950.9" rx="3" ry="2" fill="#1838c0" opacity="0.7" filter="url(#fbs)"/><ellipse cx="124" cy="956.9" rx="3" ry="2" fill="#1838c0" opacity="0.6" filter="url(#fbs)"/></g><path d="M38.0,948.3 L40.0,948.3 L47.6,943.5 L57.2,941.9 L63.6,947.5 L73.1,951.4 L79.5,948.3 L85.8,951.4 L92.2,949.1 L101.7,948.3 L114.5,948.3 L127.2,947.5 L137.2,950.6 L139.2,950.6" fill="none" stroke="#1028a4" stroke-width="1.5" stroke-linejoin="round" opacity="0.8"/><path d="M38.0,948.6 L40.0,948.6 L47.6,943.8 L57.2,942.2 L63.6,947.8 L73.1,951.7 L79.5,948.6 L85.8,951.7 L92.2,949.4 L101.7,948.6 L114.5,948.6 L127.2,947.8 L137.2,950.9 L139.2,950.9" fill="none" stroke="#f6f6f2" stroke-width="1.15" stroke-dasharray="4.6 2.8" stroke-linejoin="round"/></g><clipPath id="fc21"><rect x="140.6" y="834.4" width="97.2" height="48.1"/></clipPath><rect x="140.6" y="834.4" width="97.2" height="48.1" fill="#000"/><g clip-path="url(#fc21)"><clipPath id="ft21"><polygon points="138.6,840.8 140.6,840.8 147.3,843.5 153.6,845.1 166.4,844.3 175.9,845.1 182.3,841.1 191.8,839.5 204.6,839.2 217.3,839.2 226.9,838.7 237.8,841.1 239.8,841.1 239.8,884.5 138.6,884.5"/></clipPath><g clip-path="url(#ft21)"><rect x="139.6" y="833.4" width="99.2" height="50.1" fill="#000" filter="url(#ft2)"/><polygon points="140.6,869.4 180.6,867.4 237.6,865.4 237.6,876.4 180.6,878.4 140.6,878.4" fill="#0c4a1c" opacity="0.55" filter="url(#fbl)"/><clipPath id="fg21fg234"><polygon points="140.6,868.4 237.6,864.4 237.6,880.4 140.6,880.4"/></clipPath><g clip-path="url(#fg21fg234)"><rect x="139.6" y="833.4" width="99.2" height="50.1" fill="#000" filter="url(#fg2)"/></g><ellipse cx="157.6" cy="850.9" rx="2.6" ry="2.2" fill="#1830b8" opacity="0.8" filter="url(#fbs)"/><ellipse cx="171.6" cy="851.9" rx="2.4" ry="2.6" fill="#1830b8" opacity="0.7" filter="url(#fbs)"/><ellipse cx="200.6" cy="852.4" rx="2.2" ry="2" fill="#1c38c8" opacity="0.8" filter="url(#fbs)"/><ellipse cx="211.6" cy="848.4" rx="2.4" ry="2" fill="#1428a0" opacity="0.6" filter="url(#fbs)"/></g><path d="M138.6,840.5 L140.6,840.5 L147.3,843.2 L153.6,844.8 L166.4,844.0 L175.9,844.8 L182.3,840.8 L191.8,839.2 L204.6,838.9 L217.3,838.9 L226.9,838.4 L237.8,840.8 L239.8,840.8" fill="none" stroke="#0c1c80" stroke-width="1.5" stroke-linejoin="round" opacity="0.8"/><path d="M138.6,840.8 L140.6,840.8 L147.3,843.5 L153.6,845.1 L166.4,844.3 L175.9,845.1 L182.3,841.1 L191.8,839.5 L204.6,839.2 L217.3,839.2 L226.9,838.7 L237.8,841.1 L239.8,841.1" fill="none" stroke="#f6f6f2" stroke-width="1.15" stroke-dasharray="4.6 2.8" stroke-linejoin="round"/></g><clipPath id="fc22"><rect x="140.6" y="886.6" width="97.2" height="48.3"/></clipPath><rect x="140.6" y="886.6" width="97.2" height="48.3" fill="#000"/><g clip-path="url(#fc22)"><clipPath id="ft22"><polygon points="138.6,893.0 140.6,893.0 147.3,891.4 153.6,893.8 160.0,892.2 169.6,893.0 177.5,898.5 183.9,900.1 190.2,896.9 198.2,898.5 201.4,903.3 210.9,903.3 220.5,902.5 230.0,902.5 237.8,906.5 239.8,906.5 239.8,936.9 138.6,936.9"/></clipPath><g clip-path="url(#ft22)"><rect x="139.6" y="885.6" width="99.2" height="50.3" fill="#000" filter="url(#ft1)"/><clipPath id="fg22fg130"><polygon points="140.6,916.6 237.6,920.6 237.6,935.6 140.6,935.6"/></clipPath><g clip-path="url(#fg22fg130)"><rect x="139.6" y="885.6" width="99.2" height="50.3" fill="#000" filter="url(#fg1)"/></g><ellipse cx="159.6" cy="900.6" rx="2.4" ry="2" fill="#1830b8" opacity="0.7" filter="url(#fbs)"/><ellipse cx="168.6" cy="899.6" rx="2" ry="1.6" fill="#1830b8" opacity="0.6" filter="url(#fbs)"/></g><path d="M138.6,891.9 L140.6,891.9 L147.3,890.3 L153.6,892.7 L160.0,891.1 L169.6,891.9 L177.5,897.4 L183.9,899.0 L190.2,895.8 L198.2,897.4 L201.4,902.2 L210.9,902.2 L220.5,901.4 L230.0,901.4 L237.8,905.4 L239.8,905.4" fill="none" stroke="#28c4b8" stroke-width="1.2" stroke-linejoin="round" opacity="0.95" filter="url(#fbs)"/><path d="M138.6,892.7 L140.6,892.7 L147.3,891.1 L153.6,893.5 L160.0,891.9 L169.6,892.7 L177.5,898.2 L183.9,899.8 L190.2,896.6 L198.2,898.2 L201.4,903.0 L210.9,903.0 L220.5,902.2 L230.0,902.2 L237.8,906.2 L239.8,906.2" fill="none" stroke="#1838c0" stroke-width="1.5" stroke-linejoin="round" opacity="0.8"/><path d="M138.6,893.0 L140.6,893.0 L147.3,891.4 L153.6,893.8 L160.0,892.2 L169.6,893.0 L177.5,898.5 L183.9,900.1 L190.2,896.9 L198.2,898.5 L201.4,903.3 L210.9,903.3 L220.5,902.5 L230.0,902.5 L237.8,906.5 L239.8,906.5" fill="none" stroke="#f6f6f2" stroke-width="1.15" stroke-dasharray="4.6 2.8" stroke-linejoin="round"/></g><clipPath id="fc23"><rect x="140.6" y="937.9" width="97.2" height="49.1"/></clipPath><rect x="140.6" y="937.9" width="97.2" height="49.1" fill="#000"/><g clip-path="url(#fc23)"><clipPath id="ft23"><polygon points="138.6,943.8 140.6,943.8 147.3,942.2 156.8,943.0 169.6,946.2 179.1,950.2 188.7,952.5 191.8,957.3 190.2,962.1 195.0,965.3 201.4,964.5 206.2,958.9 209.3,954.1 214.1,953.3 223.7,955.7 233.2,957.3 237.8,956.5 239.8,956.5 239.8,989.0 138.6,989.0"/></clipPath><g clip-path="url(#ft23)"><rect x="139.6" y="936.9" width="99.2" height="51.1" fill="#000" filter="url(#ft2)"/><polygon points="140.6,943.9 170.6,946.9 188.6,952.9 192.6,965.9 206.6,967.9 237.6,957.9 237.6,967.9 200.6,977.9 170.6,977.9 140.6,971.9" fill="#168434" opacity="0.6" filter="url(#fbl)"/><polygon points="140.6,945.9 168.6,947.9 180.6,953.9 176.6,967.9 150.6,967.9 140.6,961.9" fill="#1c9c40" opacity="0.45" filter="url(#fbl)"/><clipPath id="fg23fg36"><polygon points="140.6,943.9 237.6,953.9 237.6,975.9 140.6,975.9"/></clipPath><g clip-path="url(#fg23fg36)"><rect x="139.6" y="936.9" width="99.2" height="51.1" fill="#000" filter="url(#fg3)"/></g></g><path d="M140.6,975.9 L170.6,978.9 L200.6,976.9 L237.6,967.9" stroke="#000" stroke-width="2.2" fill="none" opacity="0.8"/><path d="M138.6,942.3 L140.6,942.3 L147.3,940.7 L156.8,941.5 L169.6,944.7 L179.1,948.7 L188.7,951.0 L191.8,955.8 L190.2,960.6 L195.0,963.8 L201.4,963.0 L206.2,957.4 L209.3,952.6 L214.1,951.8 L223.7,954.2 L233.2,955.8 L237.8,955.0 L239.8,955.0" fill="none" stroke="#30e060" stroke-width="2.6" stroke-linejoin="round" opacity="1" filter="url(#fbs)"/><path d="M138.6,943.5 L140.6,943.5 L147.3,941.9 L156.8,942.7 L169.6,945.9 L179.1,949.9 L188.7,952.2 L191.8,957.0 L190.2,961.8 L195.0,965.0 L201.4,964.2 L206.2,958.6 L209.3,953.8 L214.1,953.0 L223.7,955.4 L233.2,957.0 L237.8,956.2 L239.8,956.2" fill="none" stroke="#18a040" stroke-width="1.5" stroke-linejoin="round" opacity="0.8"/><path d="M138.6,943.8 L140.6,943.8 L147.3,942.2 L156.8,943.0 L169.6,946.2 L179.1,950.2 L188.7,952.5 L191.8,957.3 L190.2,962.1 L195.0,965.3 L201.4,964.5 L206.2,958.9 L209.3,954.1 L214.1,953.3 L223.7,955.7 L233.2,957.3 L237.8,956.5 L239.8,956.5" fill="none" stroke="#f6f6f2" stroke-width="1.15" stroke-dasharray="4.6 2.8" stroke-linejoin="round"/></g><clipPath id="fc31"><rect x="241.3" y="834.4" width="96.6" height="48.1"/></clipPath><rect x="241.3" y="834.4" width="96.6" height="48.1" fill="#000"/><g clip-path="url(#fc31)"><clipPath id="ft31"><polygon points="239.3,843.5 241.3,843.5 248.9,841.1 256.9,840.8 264.9,844.3 274.4,844.6 283.9,845.9 291.9,846.7 301.5,845.1 312.6,843.5 322.1,844.3 330.1,845.1 337.9,843.5 339.9,843.5 340.3,872.4 301.3,875.4 271.3,874.4 239.3,873.4"/></clipPath><g clip-path="url(#ft31)"><rect x="240.3" y="833.4" width="98.6" height="50.1" fill="#000" filter="url(#ft1)"/><polygon points="241.3,862.4 271.3,861.4 301.3,864.4 338.3,860.4 338.3,871.4 301.3,872.4 271.3,872.4 241.3,871.4" fill="#14782c" opacity="0.7" filter="url(#fbl)"/><clipPath id="fg31fg326"><polygon points="241.3,860.4 338.3,858.4 338.3,874.4 241.3,874.4"/></clipPath><g clip-path="url(#fg31fg326)"><rect x="240.3" y="833.4" width="98.6" height="50.1" fill="#000" filter="url(#fg3)"/></g><ellipse cx="257.3" cy="845.9" rx="2.2" ry="1.8" fill="#1c60c8" opacity="0.8" filter="url(#fbs)"/><ellipse cx="274.3" cy="849.9" rx="2.6" ry="1.6" fill="#1c50c8" opacity="0.8" filter="url(#fbs)"/><ellipse cx="300.3" cy="849.9" rx="4" ry="1.8" fill="#1c70c0" opacity="0.85" filter="url(#fbs)"/><ellipse cx="319.3" cy="848.9" rx="3" ry="1.8" fill="#1c60c0" opacity="0.8" filter="url(#fbs)"/><ellipse cx="282.3" cy="848.4" rx="1.2" ry="2.4" fill="#e0e0d8" opacity="0.7" filter="url(#fbs)"/></g><path d="M239.3,843.2 L241.3,843.2 L248.9,840.8 L256.9,840.5 L264.9,844.0 L274.4,844.3 L283.9,845.6 L291.9,846.4 L301.5,844.8 L312.6,843.2 L322.1,844.0 L330.1,844.8 L337.9,843.2 L339.9,843.2" fill="none" stroke="#1c50b0" stroke-width="1.5" stroke-linejoin="round" opacity="0.8"/><path d="M239.3,843.5 L241.3,843.5 L248.9,841.1 L256.9,840.8 L264.9,844.3 L274.4,844.6 L283.9,845.9 L291.9,846.7 L301.5,845.1 L312.6,843.5 L322.1,844.3 L330.1,845.1 L337.9,843.5 L339.9,843.5" fill="none" stroke="#f6f6f2" stroke-width="1.15" stroke-dasharray="4.6 2.8" stroke-linejoin="round"/></g><clipPath id="fc32"><rect x="241.3" y="886.6" width="96.6" height="48.3"/></clipPath><rect x="241.3" y="886.6" width="96.6" height="48.3" fill="#000"/><g clip-path="url(#fc32)"><clipPath id="ft32"><polygon points="239.3,900.1 241.3,900.1 248.9,897.7 258.5,896.1 269.6,895.4 280.8,895.4 288.7,896.1 296.7,898.5 306.2,897.7 315.8,900.1 323.7,901.7 331.7,900.9 337.9,898.5 339.9,898.5 340.3,934.1 301.3,930.6 271.3,927.6 239.3,926.1"/></clipPath><g clip-path="url(#ft32)"><rect x="240.3" y="885.6" width="98.6" height="50.3" fill="#000" filter="url(#ft1)"/><polygon points="241.3,916.6 281.3,919.6 338.3,926.6 338.3,932.6 281.3,926.6 241.3,923.6" fill="#0c5a20" opacity="0.6" filter="url(#fbl)"/><clipPath id="fg32fg228"><polygon points="241.3,914.6 338.3,920.6 338.3,934.6 241.3,928.6"/></clipPath><g clip-path="url(#fg32fg228)"><rect x="240.3" y="885.6" width="98.6" height="50.3" fill="#000" filter="url(#fg2)"/></g></g><path d="M239.3,898.1 L241.3,898.1 L248.9,895.7 L258.5,894.1 L269.6,893.4 L280.8,893.4 L288.7,894.1 L296.7,896.5 L306.2,895.7 L315.8,898.1 L323.7,899.7 L331.7,898.9 L337.9,896.5 L339.9,896.5" fill="none" stroke="#1a8a34" stroke-width="2.4" stroke-linejoin="round" opacity="0.85" filter="url(#fbs)"/><path d="M239.3,899.8 L241.3,899.8 L248.9,897.4 L258.5,895.8 L269.6,895.1 L280.8,895.1 L288.7,895.8 L296.7,898.2 L306.2,897.4 L315.8,899.8 L323.7,901.4 L331.7,900.6 L337.9,898.2 L339.9,898.2" fill="none" stroke="#1c60a0" stroke-width="1.5" stroke-linejoin="round" opacity="0.8"/><path d="M239.3,900.1 L241.3,900.1 L248.9,897.7 L258.5,896.1 L269.6,895.4 L280.8,895.4 L288.7,896.1 L296.7,898.5 L306.2,897.7 L315.8,900.1 L323.7,901.7 L331.7,900.9 L337.9,898.5 L339.9,898.5" fill="none" stroke="#f6f6f2" stroke-width="1.15" stroke-dasharray="4.6 2.8" stroke-linejoin="round"/></g><clipPath id="fc33"><rect x="241.3" y="937.9" width="96.6" height="49.1"/></clipPath><rect x="241.3" y="937.9" width="96.6" height="49.1" fill="#000"/><g clip-path="url(#fc33)"><clipPath id="ft33"><polygon points="239.3,948.6 241.3,948.6 247.3,952.5 252.1,954.1 258.5,950.9 266.4,947.0 276.0,945.4 285.5,946.2 295.1,948.6 304.6,950.9 314.2,952.5 323.7,954.9 333.3,957.3 337.9,957.3 339.9,957.3 340.3,985.9 320.5,982.9 304.6,977.9 288.7,973.9 269.6,977.9 239.3,981.4"/></clipPath><g clip-path="url(#ft33)"><rect x="240.3" y="936.9" width="98.6" height="51.1" fill="#000" filter="url(#ft1)"/><clipPath id="fg33fg130"><polygon points="241.3,967.9 338.3,973.9 338.3,987.9 241.3,987.9"/></clipPath><g clip-path="url(#fg33fg130)"><rect x="240.3" y="936.9" width="98.6" height="51.1" fill="#000" filter="url(#fg1)"/></g><ellipse cx="273.3" cy="961.4" rx="4" ry="2.2" fill="#1c38c8" opacity="0.85" filter="url(#fbs)"/><ellipse cx="288.3" cy="957.9" rx="3.4" ry="3" fill="#18786c" opacity="0.8" filter="url(#fbs)"/><ellipse cx="301.3" cy="961.4" rx="3.6" ry="2.6" fill="#1c38c8" opacity="0.85" filter="url(#fbs)"/><ellipse cx="315.3" cy="962.9" rx="3.2" ry="2.4" fill="#1c38c8" opacity="0.8" filter="url(#fbs)"/><ellipse cx="333.3" cy="965.4" rx="3" ry="2" fill="#1c38c8" opacity="0.7" filter="url(#fbs)"/><ellipse cx="309.3" cy="967.4" rx="2" ry="1.6" fill="#1c38c8" opacity="0.6" filter="url(#fbs)"/></g><path d="M241.3,981.2 L269.6,978.0 L288.7,974.0 L304.6,978.0 L320.5,982.8 L337.9,986.0" stroke="#22b040" stroke-width="3" fill="none" opacity="0.9" filter="url(#fbs)"/><path d="M241.3,979.6 L269.6,976.4 L288.7,972.4 L304.6,976.4 L320.5,981.2 L337.9,984.4" stroke="#30d0e8" stroke-width="1.8" fill="none" opacity="0.95" filter="url(#fbs)"/><path d="M239.3,946.0 L241.3,946.0 L247.3,949.9 L252.1,951.5 L258.5,948.3 L266.4,944.4 L276.0,942.8 L285.5,943.6 L295.1,946.0 L304.6,948.3 L314.2,949.9 L323.7,952.3 L333.3,954.7 L337.9,954.7 L339.9,954.7" fill="none" stroke="#2cc04c" stroke-width="3.8" stroke-linejoin="round" opacity="1" filter="url(#fbs)"/><path d="M239.3,948.3 L241.3,948.3 L247.3,952.2 L252.1,953.8 L258.5,950.6 L266.4,946.7 L276.0,945.1 L285.5,945.9 L295.1,948.3 L304.6,950.6 L314.2,952.2 L323.7,954.6 L333.3,957.0 L337.9,957.0 L339.9,957.0" fill="none" stroke="#1c60a0" stroke-width="1.5" stroke-linejoin="round" opacity="0.8"/><path d="M239.3,948.6 L241.3,948.6 L247.3,952.5 L252.1,954.1 L258.5,950.9 L266.4,947.0 L276.0,945.4 L285.5,946.2 L295.1,948.6 L304.6,950.9 L314.2,952.5 L323.7,954.9 L333.3,957.3 L337.9,957.3 L339.9,957.3" fill="none" stroke="#f6f6f2" stroke-width="1.15" stroke-dasharray="4.6 2.8" stroke-linejoin="round"/></g><rect x="118.7" y="880.5" width="17" height="0.9" fill="#f0f0f0"/><rect x="118.7" y="932.9" width="17" height="0.9" fill="#c8c8c8"/><rect x="118.7" y="985.0" width="17" height="0.9" fill="#c8c8c8"/><text x="135.0" y="879.2" font-size="6.2" text-anchor="end" fill="#f2f2f2">200μm</text><rect x="219.3" y="880.5" width="17" height="0.9" fill="#f0f0f0"/><rect x="219.3" y="932.9" width="17" height="0.9" fill="#c8c8c8"/><rect x="219.3" y="985.0" width="17" height="0.9" fill="#c8c8c8"/><text x="235.60000000000002" y="879.2" font-size="6.2" text-anchor="end" fill="#f2f2f2">200μm</text><rect x="319.4" y="880.5" width="17" height="0.9" fill="#f0f0f0"/><rect x="319.4" y="932.9" width="17" height="0.9" fill="#c8c8c8"/><rect x="319.4" y="985.0" width="17" height="0.9" fill="#c8c8c8"/><text x="335.7" y="879.2" font-size="6.2" text-anchor="end" fill="#f2f2f2">200μm</text><text x="355" y="828" font-size="16.8" font-weight="bold" fill="#000">G</text><text x="436" y="833" font-size="11.6" text-anchor="middle" fill="#111">Macrophage</text><path d="M404,844 V940 H468.6" stroke="#222" stroke-width="0.8" fill="none"/><line x1="401.4" y1="940.0" x2="404" y2="940.0" stroke="#222" stroke-width="0.8"/><text x="400.2" y="944.0" font-size="11.4" text-anchor="end" fill="#111">0</text><line x1="401.4" y1="920.8" x2="404" y2="920.8" stroke="#222" stroke-width="0.8"/><text x="400.2" y="924.8" font-size="11.4" text-anchor="end" fill="#111">1</text><line x1="401.4" y1="901.6" x2="404" y2="901.6" stroke="#222" stroke-width="0.8"/><text x="400.2" y="905.6" font-size="11.4" text-anchor="end" fill="#111">2</text><line x1="401.4" y1="882.4" x2="404" y2="882.4" stroke="#222" stroke-width="0.8"/><text x="400.2" y="886.4" font-size="11.4" text-anchor="end" fill="#111">3</text><line x1="401.4" y1="863.2" x2="404" y2="863.2" stroke="#222" stroke-width="0.8"/><text x="400.2" y="867.2" font-size="11.4" text-anchor="end" fill="#111">4</text><line x1="401.4" y1="844.0" x2="404" y2="844.0" stroke="#222" stroke-width="0.8"/><text x="400.2" y="848.0" font-size="11.4" text-anchor="end" fill="#111">5</text><text x="391" y="887" font-size="11.5" text-anchor="middle" fill="#111" transform="rotate(-90 391 887)">Cell density</text><rect x="411.3" y="920.8" width="12.7" height="19.2" fill="#fff" stroke="#1a1a1a" stroke-width="0.8"/><path d="M417.65,916.8 V925.6 M415.04999999999995,916.8 H420.25 M415.04999999999995,925.6 H420.25" stroke="#1a1a1a" stroke-width="0.75" fill="none"/><circle cx="411.6" cy="915" r="1.45" fill="#1a1a1a"/><circle cx="415.9" cy="916.8" r="1.45" fill="#1a1a1a"/><circle cx="422.1" cy="916.8" r="1.45" fill="#1a1a1a"/><circle cx="417.6" cy="933.1" r="1.45" fill="#1a1a1a"/><line x1="417.65" y1="940" x2="417.65" y2="942.6" stroke="#222" stroke-width="0.8"/><text x="422.0" y="950.4000000000001" font-size="11.8" text-anchor="end" fill="#111" transform="rotate(-45 422.0 950.4000000000001)">NE</text><rect x="430.2" y="895.8" width="12.8" height="44.2" fill="#fff" stroke="#1a1a1a" stroke-width="0.8"/><path d="M436.6,888.4 V903 M434.0,888.4 H439.20000000000005 M434.0,903 H439.20000000000005" stroke="#1a1a1a" stroke-width="0.75" fill="none"/><path d="M436.6,868.0999999999999 L438.3,871.0999999999999 L434.90000000000003,871.0999999999999Z" fill="#1a1a1a"/><path d="M436.6,896.3 L438.3,899.3 L434.90000000000003,899.3Z" fill="#1a1a1a"/><path d="M439.7,901.8 L441.4,904.8 L438.0,904.8Z" fill="#1a1a1a"/><path d="M436.6,909.3 L438.3,912.3 L434.90000000000003,912.3Z" fill="#1a1a1a"/><line x1="436.6" y1="940" x2="436.6" y2="942.6" stroke="#222" stroke-width="0.8"/><text x="441.0" y="950.4000000000001" font-size="11.8" text-anchor="end" fill="#111" transform="rotate(-45 441.0 950.4000000000001)">E-con</text><rect x="449.3" y="872.8" width="12.6" height="67.2" fill="#fff" stroke="#c0272d" stroke-width="0.8"/><path d="M455.6,868.3 V877.3 M453.0,868.3 H458.20000000000005 M453.0,877.3 H458.20000000000005" stroke="#c0272d" stroke-width="0.75" fill="none"/><rect x="454.3" y="863.9" width="2.8" height="2.8" fill="#c0272d"/><rect x="455.20000000000005" y="870.2" width="2.8" height="2.8" fill="#c0272d"/><rect x="454.3" y="879.7" width="2.8" height="2.8" fill="#c0272d"/><line x1="455.6" y1="940" x2="455.6" y2="942.6" stroke="#222" stroke-width="0.8"/><text x="460.0" y="950.4000000000001" font-size="11.8" text-anchor="end" fill="#111" transform="rotate(-45 460.0 950.4000000000001)">E-Yoda1</text><text x="439" y="846.2" font-size="7.1" text-anchor="middle" font-weight="bold" fill="#111">0.0005</text><path d="M417.6,850.8 V848.4 H455.7 V850.8" stroke="#222" stroke-width="0.6" fill="none"/><text x="425.6" y="857" font-size="7.1" text-anchor="middle" font-weight="bold" fill="#111">0.013</text><path d="M417.6,861.9 V859.5 H435.8 V861.9" stroke="#222" stroke-width="0.6" fill="none"/><text x="449.3" y="857" font-size="7.1" text-anchor="middle" font-weight="bold" fill="#111">0.0277</text><path d="M437.6,861.9 V859.5 H455.7 V861.9" stroke="#222" stroke-width="0.6" fill="none"/><text x="546.4" y="833" font-size="11.6" text-anchor="middle" fill="#111">Glut1-epi</text><path d="M517.4,852 V942 H577.3" stroke="#222" stroke-width="0.8" fill="none"/><line x1="514.8" y1="942.0" x2="517.4" y2="942.0" stroke="#222" stroke-width="0.8"/><text x="513.6" y="946.0" font-size="11.4" text-anchor="end" fill="#111">0</text><line x1="514.8" y1="912.2" x2="517.4" y2="912.2" stroke="#222" stroke-width="0.8"/><text x="513.6" y="916.25" font-size="11.4" text-anchor="end" fill="#111">5</text><line x1="514.8" y1="882.5" x2="517.4" y2="882.5" stroke="#222" stroke-width="0.8"/><text x="513.6" y="886.5" font-size="11.4" text-anchor="end" fill="#111">10</text><line x1="514.8" y1="852.8" x2="517.4" y2="852.8" stroke="#222" stroke-width="0.8"/><text x="513.6" y="856.75" font-size="11.4" text-anchor="end" fill="#111">15</text><text x="499" y="893" font-size="11.5" text-anchor="middle" fill="#111" transform="rotate(-90 499 893)">Relative Intensity</text><rect x="523.4" y="936.0" width="12.6" height="6.0" fill="#fff" stroke="#1a1a1a" stroke-width="0.8"/><path d="M529.7,935.6 V936.6 M527.1,935.6 H532.3000000000001 M527.1,936.6 H532.3000000000001" stroke="#1a1a1a" stroke-width="0.75" fill="none"/><circle cx="525.6" cy="936.2" r="1.45" fill="#1a1a1a"/><circle cx="530" cy="936.2" r="1.45" fill="#1a1a1a"/><circle cx="534.4" cy="936.2" r="1.45" fill="#1a1a1a"/><line x1="529.7" y1="942" x2="529.7" y2="944.6" stroke="#222" stroke-width="0.8"/><text x="534.1" y="950.4000000000001" font-size="11.8" text-anchor="end" fill="#111" transform="rotate(-45 534.1 950.4000000000001)">NE</text><rect x="542" y="915.2" width="12.0" height="26.8" fill="#fff" stroke="#1a1a1a" stroke-width="0.8"/><path d="M548.0,912.7 V917.8 M545.4,912.7 H550.6 M545.4,917.8 H550.6" stroke="#1a1a1a" stroke-width="0.75" fill="none"/><path d="M548.2,908.5999999999999 L549.9000000000001,911.5999999999999 L546.5,911.5999999999999Z" fill="#1a1a1a"/><path d="M546.4,913.6999999999999 L548.1,916.6999999999999 L544.6999999999999,916.6999999999999Z" fill="#1a1a1a"/><path d="M549.4,920.5 L551.1,923.5 L547.6999999999999,923.5Z" fill="#1a1a1a"/><line x1="548.0" y1="942" x2="548.0" y2="944.6" stroke="#222" stroke-width="0.8"/><text x="552.4" y="950.4000000000001" font-size="11.8" text-anchor="end" fill="#111" transform="rotate(-45 552.4 950.4000000000001)">E-con</text><rect x="560.2" y="886.1" width="12.0" height="55.9" fill="#fff" stroke="#c0272d" stroke-width="0.8"/><path d="M566.2,874.4 V896.8 M563.6,874.4 H568.8000000000001 M563.6,896.8 H568.8000000000001" stroke="#c0272d" stroke-width="0.75" fill="none"/><rect x="564.8000000000001" y="864.0" width="2.8" height="2.8" fill="#c0272d"/><rect x="564.8000000000001" y="887.0" width="2.8" height="2.8" fill="#c0272d"/><rect x="564.8000000000001" y="901.4" width="2.8" height="2.8" fill="#c0272d"/><line x1="566.2" y1="942" x2="566.2" y2="944.6" stroke="#222" stroke-width="0.8"/><text x="570.6" y="950.4000000000001" font-size="11.8" text-anchor="end" fill="#111" transform="rotate(-45 570.6 950.4000000000001)">E-Yoda1</text><text x="551.2" y="847" font-size="7.1" text-anchor="middle" font-weight="bold" fill="#111">0.0007</text><path d="M529.6,851.3 V848.9 H566.2 V851.3" stroke="#222" stroke-width="0.6" fill="none"/><text x="537.6" y="857.5" font-size="7.1" text-anchor="middle" font-weight="bold" fill="#111">0.033</text><path d="M529.6,861.8 V859.4 H546.6 V861.8" stroke="#222" stroke-width="0.6" fill="none"/><text x="560.3" y="857.5" font-size="7.1" text-anchor="middle" font-weight="bold" fill="#111">0.0092</text><path d="M548.6,861.8 V859.4 H566.2 V861.8" stroke="#222" stroke-width="0.6" fill="none"/><text x="647.6" y="833" font-size="11.6" text-anchor="middle" fill="#111">Aldoa-epi</text><path d="M621.3,843.8 V940.2 H686" stroke="#222" stroke-width="0.8" fill="none"/><line x1="618.6999999999999" y1="940.2" x2="621.3" y2="940.2" stroke="#222" stroke-width="0.8"/><text x="617.5" y="944.2" font-size="11.4" text-anchor="end" fill="#111">0</text><line x1="618.6999999999999" y1="908.1" x2="621.3" y2="908.1" stroke="#222" stroke-width="0.8"/><text x="617.5" y="912.0600000000001" font-size="11.4" text-anchor="end" fill="#111">2</text><line x1="618.6999999999999" y1="875.9" x2="621.3" y2="875.9" stroke="#222" stroke-width="0.8"/><text x="617.5" y="879.9200000000001" font-size="11.4" text-anchor="end" fill="#111">4</text><line x1="618.6999999999999" y1="843.8" x2="621.3" y2="843.8" stroke="#222" stroke-width="0.8"/><text x="617.5" y="847.7800000000001" font-size="11.4" text-anchor="end" fill="#111">6</text><text x="607" y="887.8" font-size="11.5" text-anchor="middle" fill="#111" transform="rotate(-90 607 887.8)">Relative Intensity</text><rect x="627.3" y="924.1" width="12.2" height="16.1" fill="#fff" stroke="#1a1a1a" stroke-width="0.8"/><path d="M633.4,920.1 V928.2 M630.8,920.1 H636.0 M630.8,928.2 H636.0" stroke="#1a1a1a" stroke-width="0.75" fill="none"/><circle cx="633.5" cy="917.8" r="1.45" fill="#1a1a1a"/><circle cx="633.5" cy="924.6" r="1.45" fill="#1a1a1a"/><circle cx="633.5" cy="929.7" r="1.45" fill="#1a1a1a"/><line x1="633.4" y1="940.2" x2="633.4" y2="942.8000000000001" stroke="#222" stroke-width="0.8"/><text x="637.8" y="950.4000000000001" font-size="11.8" text-anchor="end" fill="#111" transform="rotate(-45 637.8 950.4000000000001)">NE</text><rect x="646.7" y="918.5" width="12.3" height="21.7" fill="#fff" stroke="#1a1a1a" stroke-width="0.8"/><path d="M652.85,909.4 V926.7 M650.25,909.4 H655.45 M650.25,926.7 H655.45" stroke="#1a1a1a" stroke-width="0.75" fill="none"/><path d="M652.8,894.5 L654.5,897.5 L651.0999999999999,897.5Z" fill="#1a1a1a"/><path d="M652.8,911.5999999999999 L654.5,914.5999999999999 L651.0999999999999,914.5999999999999Z" fill="#1a1a1a"/><path d="M652.8,925.9 L654.5,928.9 L651.0999999999999,928.9Z" fill="#1a1a1a"/><path d="M652.8,932.5 L654.5,935.5 L651.0999999999999,935.5Z" fill="#1a1a1a"/><line x1="652.85" y1="940.2" x2="652.85" y2="942.8000000000001" stroke="#222" stroke-width="0.8"/><text x="657.2" y="950.4000000000001" font-size="11.8" text-anchor="end" fill="#111" transform="rotate(-45 657.2 950.4000000000001)">E-con</text><rect x="665.6" y="874.3" width="12.4" height="65.9" fill="#fff" stroke="#c0272d" stroke-width="0.8"/><path d="M671.8,869 V879.7 M669.1999999999999,869 H674.4 M669.1999999999999,879.7 H674.4" stroke="#c0272d" stroke-width="0.75" fill="none"/><rect x="670.2" y="863.4" width="2.8" height="2.8" fill="#c0272d"/><rect x="671.6" y="872.4" width="2.8" height="2.8" fill="#c0272d"/><rect x="670.2" y="881.3000000000001" width="2.8" height="2.8" fill="#c0272d"/><line x1="671.8" y1="940.2" x2="671.8" y2="942.8000000000001" stroke="#222" stroke-width="0.8"/><text x="676.2" y="950.4000000000001" font-size="11.8" text-anchor="end" fill="#111" transform="rotate(-45 676.2 950.4000000000001)">E-Yoda1</text><text x="655.1" y="845" font-size="7.1" text-anchor="middle" font-weight="bold" fill="#111">0.0022</text><path d="M633.5,849.5 V847.1 H671.6 V849.5" stroke="#222" stroke-width="0.6" fill="none"/><text x="641.8" y="857" font-size="7.1" text-anchor="middle" fill="#444">0.58</text><path d="M633.5,860.9 V858.5 H651.6 V860.9" stroke="#222" stroke-width="0.6" fill="none"/><text x="665" y="857" font-size="7.1" text-anchor="middle" font-weight="bold" fill="#111">0.0029</text><path d="M653.6,860.9 V858.5 H671.6 V860.9" stroke="#222" stroke-width="0.6" fill="none"/>
</svg>
</body></html>
